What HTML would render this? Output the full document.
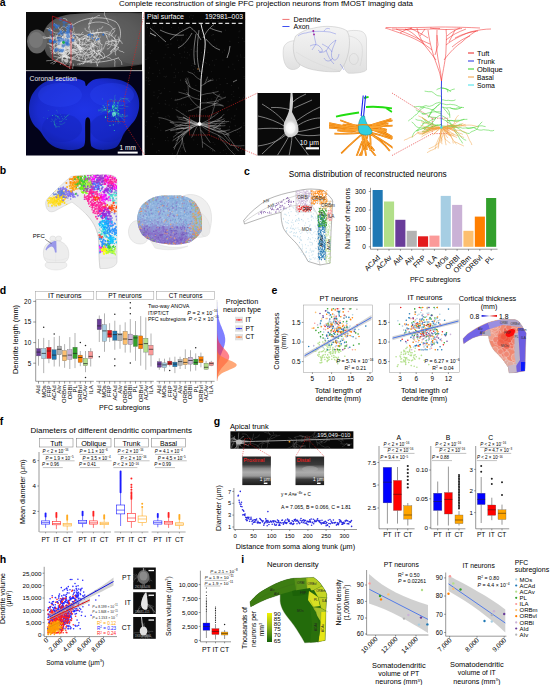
<!DOCTYPE html>
<html><head><meta charset="utf-8"><style>
html,body{margin:0;padding:0;background:#fff;}
body{width:550px;height:685px;overflow:hidden;}
svg{display:block;font-family:"Liberation Sans",sans-serif;}
</style></head><body>
<svg width="550" height="685" viewBox="0 0 550 685">
<rect width="550" height="685" fill="#fff"/>
<text x="-0.3" y="5.6" font-size="10.50" fill="#000" font-weight="bold">a</text>
<text x="119" y="6" font-size="7.88" textLength="294" lengthAdjust="spacingAndGlyphs">Complete reconstruction of single PFC projection neurons from fMOST imaging data</text>
<clipPath id="cSag"><rect x="26" y="12" width="116" height="58"/></clipPath>
<rect x="26" y="12" width="116" height="58.5" fill="#0b0b0b" />
<g clip-path="url(#cSag)">
<radialGradient id="gBrain" cx="0.5" cy="0.45" r="0.6"><stop offset="0" stop-color="#7a7a7a"/><stop offset="0.7" stop-color="#5c5c5c"/><stop offset="1" stop-color="#444"/></radialGradient>
<path d="M44,31 C48,22 56,17 66,15 C80,13 110,12 145,13 L145,64 C128,67 108,68 88,67 C68,67 54,63 47,55 C43,48 42,38 44,31 Z" fill="url(#gBrain)" />
<path d="M118,14 C130,12 140,14 146,16 L146,62 C135,66 124,64 118,58 C114,48 114,24 118,14 Z" fill="#5a5a5a" opacity="0.6"/>
<ellipse cx="37" cy="41.5" rx="10" ry="12" fill="#666"/>
<ellipse cx="36" cy="40" rx="7" ry="8" fill="#777"/>
<path d="M56.7,49.4 L58.2,48.5 L60,48.4 L61.6,47.5 L63.4,47.4 L65.2,47.3 L67,47.4" fill="none" stroke="#f4f4f4" stroke-width="0.5" opacity="0.9"/>
<path d="M66.5,55 L67,56.8 L66.9,58.6 L68,60 L67.9,61.8 L66.7,63.2 L65.3,64.3 L63.7,65.1" fill="none" stroke="#f4f4f4" stroke-width="0.5" opacity="0.9"/>
<path d="M64.6,47.3 L63,48.1 L61.2,48 L59.4,47.7" fill="none" stroke="#f4f4f4" stroke-width="0.5" opacity="0.9"/>
<path d="M64.9,38.1 L63.4,37.1 L62.2,35.8 L60.9,34.6 L60,33" fill="none" stroke="#f4f4f4" stroke-width="0.5" opacity="0.9"/>
<path d="M59.3,47.9 L61.1,48.4 L62.9,48.4 L64.5,47.8" fill="none" stroke="#f4f4f4" stroke-width="0.5" opacity="0.9"/>
<path d="M63.4,49.3 L62.7,47.7 L61.4,46.4 L59.7,46 L58.1,46.8 L56.3,47.1 L54.8,48.1" fill="none" stroke="#f4f4f4" stroke-width="0.5" opacity="0.9"/>
<path d="M65.8,44.7 L64.7,46.1 L64.6,47.9 L64.2,49.7 L63.2,51.2 L62.6,52.9 L63.1,54.6 L64,56.2 L63.8,58" fill="none" stroke="#f4f4f4" stroke-width="0.5" opacity="0.9"/>
<path d="M64.2,41.5 L65.3,42.9 L66.6,44.2 L67.8,45.5" fill="none" stroke="#f4f4f4" stroke-width="0.5" opacity="0.9"/>
<path d="M62.4,40.7 L60.8,40 L59.1,39.4 L57.3,39.1 L55.5,39.1 L54.1,37.9 L52.3,38 L50.7,37.1 L50,35.4" fill="none" stroke="#f4f4f4" stroke-width="0.5" opacity="0.9"/>
<path d="M46.4,28.6 L48.2,28.6 L49.8,29.4 L51.2,30.5 L53,30.7" fill="none" stroke="#f4f4f4" stroke-width="0.5" opacity="0.9"/>
<path d="M68.1,45.6 L68.5,47.3 L69.3,49 L70.9,49.8 L72.7,49.7 L74.5,49.8 L76.2,49.2 L78,48.9" fill="none" stroke="#f4f4f4" stroke-width="0.5" opacity="0.9"/>
<path d="M59.4,53.1 L61.2,53.5 L62.9,53 L64.5,52.2 L66.3,51.7 L67.8,50.7 L68.9,49.3" fill="none" stroke="#f4f4f4" stroke-width="0.5" opacity="0.9"/>
<path d="M56.6,36.7 L56.5,38.5 L57.2,40.2 L56.7,42 L55.5,43.2 L54,44.3 L52.7,45.6 L52.3,47.3 L52.9,49" fill="none" stroke="#f4f4f4" stroke-width="0.5" opacity="0.9"/>
<path d="M68.3,44.5 L67.6,42.8 L67.9,41 L68.2,39.2 L68.5,37.5 L69.8,36.2" fill="none" stroke="#f4f4f4" stroke-width="0.5" opacity="0.9"/>
<path d="M67.1,45.3 L65.4,44.7 L63.8,43.8 L62.1,43.4 L60.8,42.1 L59.2,41.5 L57.4,42 L56,43 L54.6,44.2" fill="none" stroke="#f4f4f4" stroke-width="0.5" opacity="0.9"/>
<path d="M67.5,48.1 L65.7,48.4 L64.4,49.6 L63.8,51.3 L63.3,53 L63.3,54.8 L62.6,56.5 L62,58.2" fill="none" stroke="#f4f4f4" stroke-width="0.5" opacity="0.9"/>
<path d="M71.6,42.1 L73.4,42.2 L75,42.9 L76,44.4 L77.7,45 L79.2,46 L80.8,46.8" fill="none" stroke="#f4f4f4" stroke-width="0.5" opacity="0.9"/>
<path d="M63.4,38.2 L65.2,38 L66.9,37.6 L68,36.2" fill="none" stroke="#f4f4f4" stroke-width="0.5" opacity="0.9"/>
<path d="M73,40.3 L74.5,41.3 L75.7,42.7 L75.9,44.4 L75.3,46.1 L74.8,47.9" fill="none" stroke="#f4f4f4" stroke-width="0.5" opacity="0.9"/>
<path d="M67,28.6 L65.6,27.5 L64.1,26.6 L62.3,26.9 L61,28.2 L60.6,29.9 L61.1,31.6 L62.2,33.1" fill="none" stroke="#f4f4f4" stroke-width="0.5" opacity="0.9"/>
<path d="M59.4,50 L61.1,49.5 L62.7,48.8 L64.5,49 L66.1,48.1 L67.9,47.9 L69.1,46.6 L70.6,45.5 L72,44.3" fill="none" stroke="#f4f4f4" stroke-width="0.5" opacity="0.9"/>
<path d="M65.2,59.8 L63.4,59.5 L61.6,59.1 L60.3,57.9 L58.8,57 L57,56.9 L55.2,56.5 L53.5,56.1" fill="none" stroke="#f4f4f4" stroke-width="0.5" opacity="0.9"/>
<path d="M64.1,37.8 L65.9,38 L67.7,37.7 L69.5,37.9 L71.2,37.3 L72.8,36.6 L74.6,36.6" fill="none" stroke="#f4f4f4" stroke-width="0.5" opacity="0.9"/>
<path d="M74.6,36.5 L72.8,36.7 L71.3,37.7 L70.4,39.2 L69.9,40.9 L68.5,42.1 L68.1,43.9 L68.8,45.5" fill="none" stroke="#f4f4f4" stroke-width="0.5" opacity="0.9"/>
<path d="M75.1,43.9 L76.7,44.6 L78.5,44.6 L80.3,44.4 L82.1,44.5 L83.9,44.6 L85.7,44.2" fill="none" stroke="#f4f4f4" stroke-width="0.5" opacity="0.9"/>
<path d="M73,24.4 L71.3,24.1 L69.5,24.4 L67.7,24.4" fill="none" stroke="#f4f4f4" stroke-width="0.5" opacity="0.9"/>
<path d="M61.9,39.4 L60.3,40.3 L59.6,42 L59.8,43.7 L60.2,45.5 L61.5,46.7 L62.2,48.4 L63.4,49.7 L65.2,50.2" fill="none" stroke="#f4f4f4" stroke-width="0.5" opacity="0.9"/>
<path d="M72.1,49.7 L70.4,50.2 L68.6,50.4 L66.8,50.9 L65.7,52.2 L65.2,54 L64,55.3 L63.3,57 L62.1,58.3" fill="none" stroke="#f4f4f4" stroke-width="0.5" opacity="0.9"/>
<path d="M64.2,34.9 L66,34.7 L67.7,34.2 L69.5,34.1 L71.3,34.1" fill="none" stroke="#f4f4f4" stroke-width="0.5" opacity="0.9"/>
<path d="M56.4,36 L54.6,36.2 L53.2,37.4 L51.4,37.5 L49.7,37.1 L48,37.6 L46.3,38.2 L44.5,38.5 L42.8,37.8" fill="none" stroke="#f4f4f4" stroke-width="0.5" opacity="0.9"/>
<path d="M58.4,54.2 L59.7,52.9 L61.2,51.8 L62.1,50.3 L63.5,49.1 L65.2,48.7" fill="none" stroke="#f4f4f4" stroke-width="0.5" opacity="0.9"/>
<path d="M58,34.9 L57.2,36.5 L55.6,37.3 L54,38 L52.2,38 L50.4,38.5 L48.7,37.9" fill="none" stroke="#f4f4f4" stroke-width="0.5" opacity="0.9"/>
<path d="M67.4,39.4 L69.1,40 L70.9,40.3 L72.7,40.1 L74.3,40.9 L76.1,41 L77.6,42" fill="none" stroke="#f4f4f4" stroke-width="0.5" opacity="0.9"/>
<path d="M62.6,47 L61.1,46 L59.3,45.8 L57.6,46.5 L55.9,47.1 L54.1,47.2 L52.5,46.5 L51.1,45.3 L50.7,43.6" fill="none" stroke="#f4f4f4" stroke-width="0.5" opacity="0.9"/>
<path d="M49.4,47 L51,47.8 L52.5,48.7 L53.5,50.3 L54.3,51.8" fill="none" stroke="#f4f4f4" stroke-width="0.5" opacity="0.9"/>
<path d="M67.7,55.3 L68.9,53.9 L69.8,52.4 L71.4,51.5 L73.2,51.5 L74.9,50.9" fill="none" stroke="#f4f4f4" stroke-width="0.5" opacity="0.9"/>
<path d="M73.3,26.9 L71.6,26.7 L69.8,26.6 L68.2,27.5 L67.6,29.2 L67.2,31 L66.8,32.7 L67.5,34.4" fill="none" stroke="#f4f4f4" stroke-width="0.5" opacity="0.9"/>
<path d="M70.5,40.4 L72.3,40.3 L74.1,40.6 L75.7,39.8" fill="none" stroke="#f4f4f4" stroke-width="0.5" opacity="0.9"/>
<path d="M58,43.8 L59.5,42.7 L60.9,41.7 L61.6,40 L62.2,38.3 L63.5,37 L65.2,36.6" fill="none" stroke="#f4f4f4" stroke-width="0.5" opacity="0.9"/>
<path d="M58.8,47.2 L60.4,48.1 L62.1,48.5 L63.7,49.3 L64.4,51 L66,51.8 L67.8,51.9 L69.2,50.8" fill="none" stroke="#f4f4f4" stroke-width="0.5" opacity="0.9"/>
<path d="M62,60.1 L63,61.6 L63.4,63.3 L64.7,64.6 L66,65.9 L67.6,66.7 L69.4,66.7" fill="none" stroke="#f4f4f4" stroke-width="0.5" opacity="0.9"/>
<path d="M57.7,44.2 L56,44.7 L54.2,45 L52.4,45.2 L50.8,44.5 L49.1,43.8 L47.3,43.7" fill="none" stroke="#f4f4f4" stroke-width="0.5" opacity="0.9"/>
<path d="M65.6,57 L63.8,56.7 L62.2,55.8 L61.2,54.4 L61.1,52.6" fill="none" stroke="#f4f4f4" stroke-width="0.5" opacity="0.9"/>
<path d="M61.9,53.2 L63.7,53 L65.2,52.1 L66.1,50.5 L67.6,49.6" fill="none" stroke="#f4f4f4" stroke-width="0.5" opacity="0.9"/>
<path d="M65.7,48.9 L64,49.3 L62.3,49.9 L60.5,49.8 L58.9,50.6 L57.4,51.6 L55.7,52.2" fill="none" stroke="#f4f4f4" stroke-width="0.5" opacity="0.9"/>
<path d="M68,46.7 L66.5,45.6 L65,44.6 L64,43.1 L63,41.6 L62.4,39.9" fill="none" stroke="#f4f4f4" stroke-width="0.5" opacity="0.9"/>
<path d="M64.9,49.2 L65.8,50.7 L66.4,52.4 L66.1,54.2" fill="none" stroke="#f4f4f4" stroke-width="0.5" opacity="0.9"/>
<path d="M60.1,46.7 L60.8,48.4 L60.2,50.1 L58.8,51.2 L58.2,52.9" fill="none" stroke="#f4f4f4" stroke-width="0.5" opacity="0.9"/>
<path d="M77.7,54.4 L76.1,55.2 L74.5,56.1 L72.9,57" fill="none" stroke="#f4f4f4" stroke-width="0.5" opacity="0.9"/>
<path d="M56.6,51.2 L58.2,50.2 L59.2,48.7 L60,47.1 L60.4,45.4 L60.6,43.6 L61.7,42.2 L63,41 L63.5,39.2" fill="none" stroke="#f4f4f4" stroke-width="0.5" opacity="0.9"/>
<path d="M65.4,38.3 L66.3,39.9 L66.2,41.7 L65,43.1 L63.8,44.4 L63.2,46.1 L62.4,47.7 L62,49.4 L60.9,50.9" fill="none" stroke="#f4f4f4" stroke-width="0.5" opacity="0.9"/>
<path d="M63.4,50.4 L64.1,48.7 L64.6,47 L65.9,45.8 L67.7,45.4" fill="none" stroke="#f4f4f4" stroke-width="0.5" opacity="0.9"/>
<path d="M60.5,31.5 L60,29.8 L58.7,28.5 L58.1,26.8 L57.1,25.4 L55.4,24.7 L54.3,23.2" fill="none" stroke="#f4f4f4" stroke-width="0.5" opacity="0.9"/>
<path d="M76.9,44.9 L78,46.3 L78.7,48 L79.8,49.4 L80.5,51.1 L81,52.8" fill="none" stroke="#f4f4f4" stroke-width="0.5" opacity="0.9"/>
<path d="M58.2,44.2 L59.8,43.4 L60.9,42 L61.7,40.4 L62.7,38.9 L62.8,37.1 L62,35.5 L60.6,34.4 L59.1,33.3" fill="none" stroke="#f4f4f4" stroke-width="0.5" opacity="0.9"/>
<path d="M53.8,45.5 L52.2,44.9 L50.4,44.9 L48.9,43.9" fill="none" stroke="#f4f4f4" stroke-width="0.5" opacity="0.9"/>
<path d="M57.2,42.7 L58.9,43.2 L60.7,42.7 L62.3,42 L64.1,41.7 L65.9,41.6 L67.7,41.8 L69,43.1" fill="none" stroke="#f4f4f4" stroke-width="0.5" opacity="0.9"/>
<path d="M53.3,59.9 L51.5,60.3 L49.8,60.6 L48,60.6 L46.2,60.9" fill="none" stroke="#f4f4f4" stroke-width="0.5" opacity="0.9"/>
<path d="M59.1,46.3 L57.9,47.6 L57.1,49.2 L56,50.6 L54.8,51.9 L54,53.6" fill="none" stroke="#f4f4f4" stroke-width="0.5" opacity="0.9"/>
<path d="M63,38.6 L64.7,39 L66.4,39.7 L68.1,40.2 L69.7,41.1" fill="none" stroke="#f4f4f4" stroke-width="0.5" opacity="0.9"/>
<path d="M68.9,48.6 L67.1,48.5 L65.7,47.4 L63.9,47.3 L62.5,46.2 L60.9,45.3 L59.3,44.4 L58.6,42.7" fill="none" stroke="#f4f4f4" stroke-width="0.5" opacity="0.9"/>
<path d="M64.3,56.9 L66.1,57.3 L67.8,56.7 L69.5,57.3 L71.3,57.2 L73,57.7 L74.7,57 L76.3,56.1 L77.2,54.6" fill="none" stroke="#f4f4f4" stroke-width="0.5" opacity="0.9"/>
<path d="M67.6,39.5 L68.8,40.9 L69.5,42.6 L70.4,44.1 L71.7,45.3 L72.9,46.7" fill="none" stroke="#f4f4f4" stroke-width="0.5" opacity="0.9"/>
<path d="M54.9,53.6 L53.7,52.2 L52.9,50.6 L51.7,49.3 L49.9,48.9" fill="none" stroke="#f4f4f4" stroke-width="0.5" opacity="0.9"/>
<path d="M72.2,36.2 L70.6,35.3 L69.1,34.3 L68.1,32.8 L67.4,31.2 L66.2,29.9" fill="none" stroke="#f4f4f4" stroke-width="0.5" opacity="0.9"/>
<path d="M63.2,52.6 L64.9,53.2 L65.9,54.7 L66.1,56.5 L67.3,57.8 L69.1,58.2 L70.9,58 L72.6,57.6" fill="none" stroke="#f4f4f4" stroke-width="0.5" opacity="0.9"/>
<path d="M62,43.1 L60.5,42 L59.9,40.4 L58.5,39.2" fill="none" stroke="#f4f4f4" stroke-width="0.5" opacity="0.9"/>
<path d="M58.4,46.8 L57,48 L55.2,48.3 L54,49.6 L53.6,51.4 L52.4,52.8 L51.1,54" fill="none" stroke="#f4f4f4" stroke-width="0.5" opacity="0.9"/>
<path d="M64.5,39.8 L63,40.9 L62.2,42.5 L62.3,44.3 L61.5,45.9 L60.6,47.4" fill="none" stroke="#f4f4f4" stroke-width="0.5" opacity="0.9"/>
<path d="M61.4,60.7 L62.1,59 L62.4,57.2 L61.8,55.6 L62,53.8" fill="none" stroke="#f4f4f4" stroke-width="0.5" opacity="0.9"/>
<path d="M66.2,47.8 L65,46.4 L63.7,45.1 L63.2,43.4 L61.6,42.5 L59.9,42 L58.7,40.6" fill="none" stroke="#f4f4f4" stroke-width="0.5" opacity="0.9"/>
<path d="M56.6,37.6 L54.9,38.1 L53.2,37.6 L51.4,37.9 L49.6,37.7 L47.8,38 L46.2,37.3 L44.4,37 L42.6,36.8" fill="none" stroke="#f4f4f4" stroke-width="0.5" opacity="0.9"/>
<path d="M53.3,35.1 L52.4,33.5 L52.3,31.7 L51.7,30 L50.7,28.5 L49.5,27.2" fill="none" stroke="#f4f4f4" stroke-width="0.5" opacity="0.9"/>
<path d="M75.7,38.4 L74.9,40 L75.3,41.8 L75.2,43.6 L75,45.3 L74,46.9" fill="none" stroke="#f4f4f4" stroke-width="0.5" opacity="0.9"/>
<path d="M63.6,37.4 L61.8,37.8 L60.1,38 L58.6,39 L56.8,39.4" fill="none" stroke="#f4f4f4" stroke-width="0.5" opacity="0.9"/>
<path d="M67.6,41 L69.2,40.2 L70.2,38.7 L70.8,37 L70.2,35.3 L70.4,33.5 L70.5,31.7 L70.7,30" fill="none" stroke="#f4f4f4" stroke-width="0.5" opacity="0.9"/>
<path d="M61.4,56.6 L60.1,57.8 L58.3,58.1 L56.9,59.3 L55.4,60.2 L54.5,61.8" fill="none" stroke="#f4f4f4" stroke-width="0.5" opacity="0.9"/>
<path d="M63.8,33 L63.9,34.8 L62.9,36.3 L62.4,38.1 L62,39.8" fill="none" stroke="#f4f4f4" stroke-width="0.5" opacity="0.9"/>
<path d="M57.6,59.2 L56.7,60.8 L55.7,62.3 L54.4,63.4 L52.7,64.1" fill="none" stroke="#f4f4f4" stroke-width="0.5" opacity="0.9"/>
<path d="M69.3,41.3 L69.8,39.6 L69,37.9 L68,36.4 L66.4,35.7 L64.7,35.1 L63,34.4 L61.3,34.9 L59.7,35.7" fill="none" stroke="#f4f4f4" stroke-width="0.5" opacity="0.9"/>
<path d="M66.9,46.3 L68.1,44.9 L68.6,43.2 L69.3,41.6 L70.5,40.2" fill="none" stroke="#f4f4f4" stroke-width="0.5" opacity="0.9"/>
<path d="M61.4,54.1 L60.2,52.7 L58.5,52.3 L56.7,52.4 L55.2,53.4 L53.5,54.1" fill="none" stroke="#f4f4f4" stroke-width="0.5" opacity="0.9"/>
<path d="M64.6,40.4 L66.3,39.9 L68.1,39.4 L69.8,39.6 L71.6,39.3 L73.1,38.3 L74.4,37" fill="none" stroke="#f4f4f4" stroke-width="0.5" opacity="0.9"/>
<path d="M57.1,39.6 L55.6,40.5 L54.6,42.1 L54.2,43.8 L54.5,45.6 L54.2,47.3 L54.4,49.1 L54.5,50.9" fill="none" stroke="#f4f4f4" stroke-width="0.5" opacity="0.9"/>
<path d="M66.8,36.6 L65.7,38.1 L65,39.7 L64.1,41.3 L62.5,42.1 L60.9,42.9 L59.7,44.2" fill="none" stroke="#f4f4f4" stroke-width="0.5" opacity="0.9"/>
<path d="M77.9,52.7 L79.4,51.7 L81.1,51.4 L82.9,51.8 L84.4,52.8 L86.2,52.8 L87.7,53.8" fill="none" stroke="#f4f4f4" stroke-width="0.5" opacity="0.9"/>
<path d="M73.5,34.5 L75.3,34.2 L77.1,34.4 L78.8,34.9 L80.6,34.5 L82,33.3 L83,31.9" fill="none" stroke="#f4f4f4" stroke-width="0.5" opacity="0.9"/>
<path d="M63.3,64.1 L61.7,63.4 L60.2,62.3 L58.7,61.3 L56.9,61.3 L55.1,61.1 L53.4,61.7 L52.1,62.9 L50.4,63.3" fill="none" stroke="#f4f4f4" stroke-width="0.5" opacity="0.9"/>
<path d="M65.9,49.8 L64.4,50.9 L63.7,52.5 L63.1,54.2 L62.6,55.9 L61.1,57 L59.6,57.9 L57.8,57.9" fill="none" stroke="#f4f4f4" stroke-width="0.5" opacity="0.9"/>
<path d="M72.1,52 L73.9,51.8 L75.7,51.4 L76.9,50" fill="none" stroke="#f4f4f4" stroke-width="0.5" opacity="0.9"/>
<path d="M76.5,41.9 L74.8,42.5 L73.2,43.2 L71.5,43.8 L69.8,43.2 L68.3,42.2" fill="none" stroke="#f4f4f4" stroke-width="0.5" opacity="0.9"/>
<path d="M62.7,53.9 L61.7,52.4 L61.9,50.6 L62.8,49.1 L64,47.8 L64.2,46 L64,44.2 L64.3,42.4 L64,40.7" fill="none" stroke="#f4f4f4" stroke-width="0.5" opacity="0.9"/>
<path d="M82.6,52 L80.8,51.6 L79.5,50.4 L78.5,48.8" fill="none" stroke="#f4f4f4" stroke-width="0.5" opacity="0.9"/>
<path d="M96.1,56.5 L97.5,55.4 L98.6,53.9 L99.5,52.4 L100.7,51.1 L101.4,49.4 L101.4,47.6 L101.9,45.9 L102,44.1" fill="none" stroke="#f4f4f4" stroke-width="0.5" opacity="0.9"/>
<path d="M97.8,59.2 L96.3,58.2 L94.7,57.3 L93,56.7 L91.3,57.1 L89.5,57.1 L88,58.1 L86.3,58.7 L85,60" fill="none" stroke="#f4f4f4" stroke-width="0.5" opacity="0.9"/>
<path d="M67.7,58.7 L66.6,57.3 L65,56.6 L63.2,56.8" fill="none" stroke="#f4f4f4" stroke-width="0.5" opacity="0.9"/>
<path d="M76.3,52 L77.2,53.6 L78.7,54.5 L80.5,54.8 L82.2,54.1 L84,54 L85.8,53.8" fill="none" stroke="#f4f4f4" stroke-width="0.5" opacity="0.9"/>
<path d="M96.9,40.8 L96.5,39 L96.9,37.2 L97.7,35.6 L98.7,34.1 L98.5,32.3" fill="none" stroke="#f4f4f4" stroke-width="0.5" opacity="0.9"/>
<path d="M73.2,41 L72.4,42.6 L71.4,44.1 L71.1,45.9 L71.2,47.7 L71.9,49.3 L73.3,50.4 L74.3,51.9 L75.8,52.9" fill="none" stroke="#f4f4f4" stroke-width="0.5" opacity="0.9"/>
<path d="M81.6,48.2 L79.8,47.9 L78.2,47 L77.5,45.4 L76.9,43.7 L76.8,41.9 L77.5,40.2 L77.4,38.4" fill="none" stroke="#f4f4f4" stroke-width="0.5" opacity="0.9"/>
<path d="M97.8,55.6 L97.1,53.9 L95.7,52.8 L94.3,51.7 L92.7,50.8" fill="none" stroke="#f4f4f4" stroke-width="0.5" opacity="0.9"/>
<path d="M73.3,63.6 L73.3,65.4 L72.7,67.1 L72.7,68.9" fill="none" stroke="#f4f4f4" stroke-width="0.5" opacity="0.9"/>
<path d="M82.8,58.9 L81.1,58.2 L79.3,58.1 L77.8,57.1" fill="none" stroke="#f4f4f4" stroke-width="0.5" opacity="0.9"/>
<path d="M99.7,54.5 L101.3,55.3 L102.2,56.8 L103.6,57.9" fill="none" stroke="#f4f4f4" stroke-width="0.5" opacity="0.9"/>
<path d="M82.9,40.1 L84,38.7 L85.6,37.8 L87.1,36.9 L88.5,35.7" fill="none" stroke="#f4f4f4" stroke-width="0.5" opacity="0.9"/>
<path d="M65.5,37.4 L66.6,36 L67.8,34.7 L69.3,33.6 L71,33.2 L72.4,32 L73.6,30.7 L73.7,28.9 L73.9,27.1" fill="none" stroke="#f4f4f4" stroke-width="0.5" opacity="0.9"/>
<path d="M64.7,44 L65.8,45.4 L67.2,46.6 L68.4,48 L70.1,48.4" fill="none" stroke="#f4f4f4" stroke-width="0.5" opacity="0.9"/>
<path d="M86.8,54 L87.7,55.6 L88.7,57.1 L89.8,58.5 L90.7,60.1 L91.2,61.8 L91,63.6" fill="none" stroke="#f4f4f4" stroke-width="0.5" opacity="0.9"/>
<path d="M90.1,24.2 L90.8,22.6 L91.4,20.9 L92.1,19.3 L93.6,18.3 L95.2,17.3 L96.8,16.5 L98.2,15.5 L100,15.4" fill="none" stroke="#f4f4f4" stroke-width="0.5" opacity="0.9"/>
<path d="M72.8,52.3 L74.4,53.2 L76.1,53.9 L77.8,54.3 L79.6,54.3 L81.3,55 L82.3,56.4 L82.5,58.2 L83.3,59.8" fill="none" stroke="#f4f4f4" stroke-width="0.5" opacity="0.9"/>
<path d="M93.8,50.8 L95.6,51 L97.4,51.2 L99.1,50.8 L100.7,49.9 L102.1,48.8 L103.1,47.3" fill="none" stroke="#f4f4f4" stroke-width="0.5" opacity="0.9"/>
<path d="M96.5,61.6 L97.8,60.4 L98.4,58.7 L99.3,57.1 L100.1,55.5 L100,53.7 L98.8,52.3" fill="none" stroke="#f4f4f4" stroke-width="0.5" opacity="0.9"/>
<path d="M80.8,47.5 L81.9,49 L83.1,50.3 L84.6,51.3 L85.7,52.7 L87.5,53.1 L89.2,52.7 L90.9,52.1" fill="none" stroke="#f4f4f4" stroke-width="0.5" opacity="0.9"/>
<path d="M78,45.7 L76.5,44.7 L74.7,44.8 L73.1,44 L71.3,43.7" fill="none" stroke="#f4f4f4" stroke-width="0.5" opacity="0.9"/>
<path d="M79.9,49.2 L81.7,49.4 L83.4,48.8 L85.2,49.2 L86.8,50 L88.6,49.7 L90.2,49" fill="none" stroke="#f4f4f4" stroke-width="0.5" opacity="0.9"/>
<path d="M94.4,51.2 L94.3,49.4 L93.5,47.7 L93.1,46 L91.9,44.6 L91.6,42.8 L90.4,41.6 L88.6,41.2 L87.1,40.2" fill="none" stroke="#f4f4f4" stroke-width="0.5" opacity="0.9"/>
<path d="M72.5,49.1 L74.2,48.6 L75.4,47.2 L76.9,46.3 L78.7,46.3 L80.5,46.3 L82,45.2" fill="none" stroke="#f4f4f4" stroke-width="0.5" opacity="0.9"/>
<path d="M68.9,45.6 L69,47.4 L69,49.2 L69.6,50.9 L70.6,52.3" fill="none" stroke="#f4f4f4" stroke-width="0.5" opacity="0.9"/>
<path d="M92.1,61.8 L90.4,61.3 L88.6,61.5 L87,62.2" fill="none" stroke="#f4f4f4" stroke-width="0.5" opacity="0.9"/>
<path d="M97.1,46.8 L95.8,45.5 L94.1,45.1 L92.9,43.7" fill="none" stroke="#f4f4f4" stroke-width="0.5" opacity="0.9"/>
<path d="M63,44.4 L64.6,43.6 L65.9,42.4 L66.7,40.8" fill="none" stroke="#f4f4f4" stroke-width="0.5" opacity="0.9"/>
<path d="M92.1,55.6 L91.4,53.9 L91.2,52.2 L90,50.8 L89.4,49.1" fill="none" stroke="#f4f4f4" stroke-width="0.5" opacity="0.9"/>
<path d="M66,53.4 L67.4,52.3 L69.1,51.6 L70.7,50.8 L72.5,50.9 L74.3,51.1 L75.9,50.5 L77.7,50" fill="none" stroke="#f4f4f4" stroke-width="0.5" opacity="0.9"/>
<path d="M85.8,42.5 L85.6,40.8 L86.3,39.1 L87.2,37.6 L88.9,37 L90.7,37 L92.5,37.1 L94.3,37.4" fill="none" stroke="#f4f4f4" stroke-width="0.5" opacity="0.9"/>
<path d="M90.8,59.1 L92.6,59.6 L94.3,60.1 L95.7,61.1 L96.7,62.7 L96.9,64.5 L97.8,66.1" fill="none" stroke="#f4f4f4" stroke-width="0.5" opacity="0.9"/>
<path d="M79.6,51.9 L77.9,52.6 L76.2,52.2 L74.5,52.9" fill="none" stroke="#f4f4f4" stroke-width="0.5" opacity="0.9"/>
<path d="M77.9,60.4 L78.5,58.7 L77.9,57 L77.3,55.3 L76.5,53.7 L75.6,52.1" fill="none" stroke="#f4f4f4" stroke-width="0.5" opacity="0.9"/>
<path d="M70.5,50.9 L72.2,50.2 L73.9,49.8 L75.7,49.8 L77.5,50.2 L79.1,49.4 L80.7,48.5 L82.4,48.1" fill="none" stroke="#f4f4f4" stroke-width="0.5" opacity="0.9"/>
<path d="M92.8,47 L93.3,45.3 L93.8,43.6 L94.7,42 L95.6,40.5 L96.2,38.8" fill="none" stroke="#f4f4f4" stroke-width="0.5" opacity="0.9"/>
<path d="M69.9,38.3 L68.1,38.3 L66.3,38.5 L64.6,39.1 L63.3,40.3 L61.5,40.4 L60.1,41.6" fill="none" stroke="#f4f4f4" stroke-width="0.5" opacity="0.9"/>
<path d="M79.6,50.2 L78.8,48.6 L78,47 L77.7,45.2 L76.4,44" fill="none" stroke="#f4f4f4" stroke-width="0.5" opacity="0.9"/>
<path d="M69.6,53.4 L68.3,54.6 L66.5,54.8 L64.9,53.8 L63.7,52.5 L62.9,50.9" fill="none" stroke="#f4f4f4" stroke-width="0.5" opacity="0.9"/>
<path d="M99,47.2 L97.4,46.6 L95.7,45.8 L93.9,45.7 L92.1,45.6 L90.7,44.6" fill="none" stroke="#f4f4f4" stroke-width="0.5" opacity="0.9"/>
<path d="M74.6,38.3 L72.8,37.9 L71.1,37.3 L70.2,35.7" fill="none" stroke="#f4f4f4" stroke-width="0.5" opacity="0.9"/>
<path d="M82.7,64.1 L84.2,63.2 L85.6,62.1 L87.4,61.7 L89.1,61.1" fill="none" stroke="#f4f4f4" stroke-width="0.5" opacity="0.9"/>
<path d="M91.3,41.3 L92.2,42.8 L92.5,44.6 L92.1,46.3 L91.6,48 L91.5,49.8" fill="none" stroke="#f4f4f4" stroke-width="0.5" opacity="0.9"/>
<path d="M83.8,50.5 L82,50.2 L80.6,49.1 L78.9,48.6 L77.1,48.3 L75.5,49.2 L73.7,49.6 L72.1,50.3 L70.7,51.4" fill="none" stroke="#f4f4f4" stroke-width="0.5" opacity="0.9"/>
<path d="M60.7,41 L61.5,42.6 L62,44.3 L62.2,46.1 L63.1,47.7 L64.6,48.6" fill="none" stroke="#f4f4f4" stroke-width="0.5" opacity="0.9"/>
<path d="M62.3,48.1 L63,49.8 L62.7,51.5 L63.5,53.1 L64.8,54.4" fill="none" stroke="#f4f4f4" stroke-width="0.5" opacity="0.9"/>
<path d="M75.4,36.3 L77.1,36.8 L78.5,37.9 L79.9,39 L81.7,39.1 L83.5,39 L85.1,38.2" fill="none" stroke="#f4f4f4" stroke-width="0.5" opacity="0.9"/>
<path d="M61.6,56.3 L63.4,56.4 L65.2,56.5 L66.9,57.1 L68.6,57.7 L70.3,58.4" fill="none" stroke="#f4f4f4" stroke-width="0.5" opacity="0.9"/>
<path d="M72.6,58.7 L71.3,60 L70.7,61.7 L70.6,63.5 L70,65.2 L69.6,67 L69.5,68.8" fill="none" stroke="#f4f4f4" stroke-width="0.5" opacity="0.9"/>
<path d="M94.6,51 L94.5,52.8 L93.5,54.3 L92.1,55.4 L90.6,56.5" fill="none" stroke="#f4f4f4" stroke-width="0.5" opacity="0.9"/>
<path d="M60.5,56.6 L60.1,54.8 L60.1,53 L61.2,51.5 L61.5,49.8 L62.4,48.2 L63.6,46.8 L65.3,46.4 L67,47" fill="none" stroke="#f4f4f4" stroke-width="0.5" opacity="0.9"/>
<path d="M69.4,47.7 L67.8,48.5 L66.2,49.3 L64.4,49.1 L62.6,49.4 L60.8,49.2 L59.1,49.7" fill="none" stroke="#f4f4f4" stroke-width="0.5" opacity="0.9"/>
<path d="M97,47.4 L97.9,49 L98.3,50.8 L98.6,52.5 L98.3,54.3" fill="none" stroke="#f4f4f4" stroke-width="0.5" opacity="0.9"/>
<path d="M96.3,53 L96.7,54.8 L96.1,56.5 L94.6,57.6 L94,59.2 L92.5,60.3 L90.7,60.3 L89,61" fill="none" stroke="#f4f4f4" stroke-width="0.5" opacity="0.9"/>
<path d="M75.1,41.4 L76,39.9 L76.6,38.2 L76.6,36.4 L75.4,35 L74,33.9" fill="none" stroke="#f4f4f4" stroke-width="0.5" opacity="0.9"/>
<path d="M95.7,44.3 L95.1,42.6 L94.3,41 L93.1,39.6 L92.9,37.8" fill="none" stroke="#f4f4f4" stroke-width="0.5" opacity="0.9"/>
<path d="M61.2,47.5 L61.4,45.7 L61.9,44 L62.7,42.4 L63.3,40.7" fill="none" stroke="#f4f4f4" stroke-width="0.5" opacity="0.9"/>
<path d="M76.6,47.5 L78.4,47.3 L80.1,46.9 L81.9,47.2 L83.6,47.9 L85.4,48.1 L87.2,48.2" fill="none" stroke="#f4f4f4" stroke-width="0.5" opacity="0.9"/>
<path d="M78.9,64.8 L80.6,64.3 L82,63.2 L83.7,62.4 L84.9,61.2 L85.1,59.4 L85.3,57.6 L85.3,55.8" fill="none" stroke="#f4f4f4" stroke-width="0.5" opacity="0.9"/>
<path d="M69.6,38.4 L68.3,37.2 L67.8,35.5 L67.7,33.7 L68.4,32 L68.6,30.2 L67.7,28.6 L66.1,27.9" fill="none" stroke="#f4f4f4" stroke-width="0.5" opacity="0.9"/>
<path d="M92.2,50.5 L92.2,52.3 L91.1,53.7 L89.5,54.5 L88.5,56 L87.2,57.2 L85.9,58.5" fill="none" stroke="#f4f4f4" stroke-width="0.5" opacity="0.9"/>
<path d="M82.6,45.5 L82.5,43.7 L82.9,42 L82.9,40.2 L83.4,38.4 L84.8,37.3 L86.5,36.6 L88.2,36.9" fill="none" stroke="#f4f4f4" stroke-width="0.5" opacity="0.9"/>
<path d="M99.6,54.8 L99.8,53 L100.9,51.6 L102,50.2 L103.5,49.1 L104,47.3 L104.7,45.7 L105.3,44 L105.8,42.3" fill="none" stroke="#f4f4f4" stroke-width="0.5" opacity="0.9"/>
<path d="M73.8,39.5 L73.7,37.7 L73,36.1 L72.8,34.3 L72.2,32.6 L71.2,31.1" fill="none" stroke="#f4f4f4" stroke-width="0.5" opacity="0.9"/>
<path d="M90.4,57.9 L91.5,56.5 L92.5,55 L93.8,53.8 L95.3,52.8" fill="none" stroke="#f4f4f4" stroke-width="0.5" opacity="0.9"/>
<path d="M93.2,51.3 L92.4,52.9 L91.2,54.2 L89.4,54.6 L87.7,55 L85.9,54.9 L84.2,54.1 L83.3,52.6 L82,51.4" fill="none" stroke="#f4f4f4" stroke-width="0.5" opacity="0.9"/>
<path d="M70.8,46.1 L71.1,47.9 L70.3,49.5 L68.6,50.2 L67.7,51.7 L66.4,53 L65.9,54.7 L66.5,56.4 L67.6,57.8" fill="none" stroke="#f4f4f4" stroke-width="0.5" opacity="0.9"/>
<path d="M89.2,54 L87.8,55.1 L86,55.3 L84.5,56.2" fill="none" stroke="#f4f4f4" stroke-width="0.5" opacity="0.9"/>
<path d="M62.7,49.8 L61.3,51 L60.1,52.3 L58.7,53.4 L57,54 L55.3,53.3 L53.5,53 L52,52.1 L50.4,51.2" fill="none" stroke="#f4f4f4" stroke-width="0.5" opacity="0.9"/>
<path d="M92,53 L92.6,54.7 L93.4,56.3 L94.9,57.3 L95.6,59 L96.8,60.3" fill="none" stroke="#f4f4f4" stroke-width="0.5" opacity="0.9"/>
<path d="M82.8,54 L83.1,55.7 L84,57.3 L85,58.8 L86.2,60.1 L87.8,60.9 L89.6,60.6" fill="none" stroke="#f4f4f4" stroke-width="0.5" opacity="0.9"/>
<path d="M62.6,55.4 L64.3,55.8 L66.1,55.4 L67.8,55.7 L69,57.1" fill="none" stroke="#f4f4f4" stroke-width="0.5" opacity="0.9"/>
<path d="M76.3,45.7 L77.8,46.8 L79.4,47.6 L81.2,47.4 L83,47.3 L84.7,47.5" fill="none" stroke="#f4f4f4" stroke-width="0.5" opacity="0.9"/>
<path d="M84.9,46.8 L86.2,45.6 L88,45.3 L89.3,44.1 L91,43.6 L92.7,44.2 L94.4,44.9" fill="none" stroke="#f4f4f4" stroke-width="0.5" opacity="0.9"/>
<path d="M70.8,60.1 L72.6,59.6 L73.9,58.4 L75.7,58.3 L77.1,57.1 L78.5,55.9 L80.2,55.5" fill="none" stroke="#f4f4f4" stroke-width="0.5" opacity="0.9"/>
<path d="M91.7,51.5 L91.1,49.8 L90.5,48.1 L90.3,46.3 L90.9,44.6 L92.1,43.3 L93.8,42.8" fill="none" stroke="#f4f4f4" stroke-width="0.5" opacity="0.9"/>
<path d="M79.3,54.4 L79.8,52.7 L80.4,51 L80.4,49.2 L80.1,47.4 L79.5,45.7 L79.3,43.9 L79.8,42.2" fill="none" stroke="#f4f4f4" stroke-width="0.5" opacity="0.9"/>
<path d="M74.6,43.1 L73.1,42.1 L71.3,42.1 L69.5,41.7 L67.8,41.1 L66,41.1" fill="none" stroke="#f4f4f4" stroke-width="0.5" opacity="0.9"/>
<path d="M68.5,51.1 L69.4,52.6 L70.9,53.7 L72.7,53.8 L74.3,53.1 L75.7,52" fill="none" stroke="#f4f4f4" stroke-width="0.5" opacity="0.9"/>
<path d="M77.2,52.2 L78.7,51.3 L79.5,49.6 L81.1,48.8 L82.9,48.7 L84.6,49.3 L86.3,48.7 L87.6,47.5" fill="none" stroke="#f4f4f4" stroke-width="0.5" opacity="0.9"/>
<path d="M62.7,41.1 L61.1,41.9 L59.9,43.3 L58.9,44.8 L57.5,46 L56.8,47.6 L56.7,49.4" fill="none" stroke="#f4f4f4" stroke-width="0.5" opacity="0.9"/>
<path d="M87.1,44.4 L88.9,44.8 L90.3,45.8 L91.8,46.8 L93.6,46.7 L95.3,47.2" fill="none" stroke="#f4f4f4" stroke-width="0.5" opacity="0.9"/>
<path d="M98.4,45.1 L97.9,43.4 L98.2,41.7 L98.9,40 L99.6,38.3 L100.4,36.7" fill="none" stroke="#f4f4f4" stroke-width="0.5" opacity="0.9"/>
<path d="M63.3,40 L64.7,38.9 L66,37.6 L67.2,36.3 L68.9,35.7 L70.6,35.1 L72.2,34.2 L73.8,33.4 L74.6,31.8" fill="none" stroke="#f4f4f4" stroke-width="0.5" opacity="0.9"/>
<path d="M114.9,30.1 L114.3,31.8 L112.8,32.9 L112,34.5" fill="none" stroke="#f4f4f4" stroke-width="0.5" opacity="0.9"/>
<path d="M86,39.9 L87.8,40.1 L89.5,39.5 L91.2,38.9 L92.9,38.4 L94,37 L95.8,36.5 L97.5,36.7 L99,37.8" fill="none" stroke="#f4f4f4" stroke-width="0.5" opacity="0.9"/>
<path d="M63.1,51.6 L64.3,50.3 L65.9,49.5 L67.5,48.7 L69.3,49.2" fill="none" stroke="#f4f4f4" stroke-width="0.5" opacity="0.9"/>
<path d="M60.1,65 L61.1,63.5 L62,62 L62.6,60.3 L62.5,58.5 L61.3,57.1 L59.9,55.9 L58.6,54.8 L58.2,53" fill="none" stroke="#f4f4f4" stroke-width="0.5" opacity="0.9"/>
<path d="M71.3,51.3 L70.3,49.7 L69.4,48.2 L67.7,47.5 L66.6,46.1" fill="none" stroke="#f4f4f4" stroke-width="0.5" opacity="0.9"/>
<path d="M118.3,49.4 L119.4,50.7 L121.1,51.4 L122.9,51.7 L124.2,53" fill="none" stroke="#f4f4f4" stroke-width="0.5" opacity="0.9"/>
<path d="M117.1,43.7 L115.7,44.9 L114,45.2 L112.2,45.3 L110.6,44.4 L108.8,44.5 L107.4,43.4 L105.6,43.1" fill="none" stroke="#f4f4f4" stroke-width="0.5" opacity="0.9"/>
<path d="M96.3,50.9 L98.1,50.7 L99.9,50.6 L101.3,51.7 L102.9,52.6 L104,54 L104.6,55.7 L104.4,57.5 L103.2,58.8" fill="none" stroke="#f4f4f4" stroke-width="0.5" opacity="0.9"/>
<path d="M98.1,43.9 L98.8,42.3 L99.4,40.6 L99,38.8 L97.8,37.5" fill="none" stroke="#f4f4f4" stroke-width="0.5" opacity="0.9"/>
<path d="M116.2,49.3 L114.6,48.6 L112.8,49 L111.7,50.4 L111.2,52.1 L110.2,53.6" fill="none" stroke="#f4f4f4" stroke-width="0.5" opacity="0.9"/>
<path d="M111.7,42.9 L113.4,43.5 L114.7,44.8 L116.1,45.9 L117.6,46.9 L119,48" fill="none" stroke="#f4f4f4" stroke-width="0.5" opacity="0.9"/>
<path d="M116.3,34.7 L115.4,36.3 L114.6,37.9 L114.7,39.7 L115.7,41.2 L115.8,43 L114.8,44.5 L114.8,46.3 L114.5,48.1" fill="none" stroke="#f4f4f4" stroke-width="0.5" opacity="0.9"/>
<path d="M70.4,34.8 L69,35.8 L68.4,37.5 L67.9,39.2 L68.1,41" fill="none" stroke="#f4f4f4" stroke-width="0.5" opacity="0.9"/>
<path d="M84.2,43 L86,42.9 L87.3,41.7 L88.8,40.7 L89.4,39 L89.6,37.2" fill="none" stroke="#f4f4f4" stroke-width="0.5" opacity="0.9"/>
<path d="M94,49.3 L92.9,50.7 L91.3,51.5 L89.6,52.1" fill="none" stroke="#f4f4f4" stroke-width="0.5" opacity="0.9"/>
<path d="M90.9,33.9 L92.7,34 L94.5,33.7 L96.2,33.1 L98,33.1" fill="none" stroke="#f4f4f4" stroke-width="0.5" opacity="0.9"/>
<path d="M98.8,28.9 L100.6,28.8 L102.1,27.8 L102.9,26.2" fill="none" stroke="#f4f4f4" stroke-width="0.5" opacity="0.9"/>
<path d="M66.9,61.5 L65.2,61 L63.5,60.3 L62.7,58.7 L63,56.9 L64.4,55.8 L65.6,54.4" fill="none" stroke="#f4f4f4" stroke-width="0.5" opacity="0.9"/>
<path d="M109,31.9 L110.4,33.1 L111.6,34.5 L112,36.2" fill="none" stroke="#f4f4f4" stroke-width="0.5" opacity="0.9"/>
<path d="M115.7,28.2 L113.9,28.7 L112.3,29.5 L111.3,31 L110.6,32.6 L109.3,33.9 L108.9,35.7 L109.4,37.4" fill="none" stroke="#f4f4f4" stroke-width="0.5" opacity="0.9"/>
<path d="M97.5,29 L97.6,30.8 L96.7,32.4 L95.9,34 L96,35.8 L96.4,37.6 L97.2,39.2 L97.1,41 L96.1,42.5" fill="none" stroke="#f4f4f4" stroke-width="0.5" opacity="0.9"/>
<path d="M63,29.4 L61.4,30.2 L60.5,31.8 L59,32.9 L58,34.3 L56.8,35.7 L56.6,37.5 L56.2,39.2" fill="none" stroke="#f4f4f4" stroke-width="0.5" opacity="0.9"/>
<path d="M64.3,53.2 L64.4,55 L64.8,56.8 L66.1,58 L67.8,58.6" fill="none" stroke="#f4f4f4" stroke-width="0.5" opacity="0.9"/>
<path d="M84.9,48.9 L83.1,49.2 L81.5,48.5 L80.3,47.1 L79.1,45.8 L77.4,45.2 L75.8,44.4" fill="none" stroke="#f4f4f4" stroke-width="0.5" opacity="0.9"/>
<path d="M67.1,21.1 L66.5,19.4 L64.9,18.5 L63.1,18.5" fill="none" stroke="#f4f4f4" stroke-width="0.5" opacity="0.9"/>
<path d="M108.4,22.9 L107.9,21.2 L106.9,19.6 L106.2,18 L105.3,16.4 L104.4,14.9 L104.5,13.1 L104.7,11.3 L105.5,9.7" fill="none" stroke="#f4f4f4" stroke-width="0.5" opacity="0.9"/>
<path d="M105.6,34.9 L106.9,36.2 L107.2,37.9 L107.9,39.6 L108.7,41.2 L109.1,43 L108.5,44.7 L107.1,45.7" fill="none" stroke="#f4f4f4" stroke-width="0.5" opacity="0.9"/>
<path d="M92.3,47.9 L90.6,48.2 L88.9,48.9 L87.1,49.1" fill="none" stroke="#f4f4f4" stroke-width="0.5" opacity="0.9"/>
<path d="M72.5,34.1 L70.7,34 L69,34.3 L67.6,35.5 L66.6,37 L65.5,38.4" fill="none" stroke="#f4f4f4" stroke-width="0.5" opacity="0.9"/>
<path d="M66.4,50.6 L65.3,52 L64.8,53.7 L65.2,55.4 L66,57.1 L67.2,58.5" fill="none" stroke="#f4f4f4" stroke-width="0.5" opacity="0.9"/>
<path d="M87,44.3 L85.2,44.7 L83.5,44.9 L82.1,46.1" fill="none" stroke="#f4f4f4" stroke-width="0.5" opacity="0.9"/>
<path d="M100,60.2 L99.2,61.8 L98.1,63.2 L97.4,64.8 L97.1,66.6" fill="none" stroke="#f4f4f4" stroke-width="0.5" opacity="0.9"/>
<path d="M95,33.9 L93.3,33.3 L91.5,33.1 L90.1,32 L88.3,31.6 L86.6,31 L85.3,29.7 L85,27.9" fill="none" stroke="#f4f4f4" stroke-width="0.5" opacity="0.9"/>
<path d="M97.4,36.9 L96.6,38.5 L95.4,39.8 L95.1,41.6" fill="none" stroke="#f4f4f4" stroke-width="0.5" opacity="0.9"/>
<path d="M119,46.8 L117.7,48 L116.1,49 L115.4,50.6 L114.2,51.9" fill="none" stroke="#f4f4f4" stroke-width="0.5" opacity="0.9"/>
<path d="M59.1,33.4 L57.3,33 L55.5,32.9 L53.9,32.2 L52.3,31.3 L51,30.1 L49.3,29.4 L47.7,28.7" fill="none" stroke="#f4f4f4" stroke-width="0.5" opacity="0.9"/>
<path d="M108.7,32.1 L107,31.6 L105.3,32 L103.5,32" fill="none" stroke="#f4f4f4" stroke-width="0.5" opacity="0.9"/>
<path d="M65,43.3 L64.9,41.5 L63.9,40 L62.6,38.8 L61.7,37.2 L60.1,36.4 L58.3,36.5 L56.6,35.8 L55.2,34.8" fill="none" stroke="#f4f4f4" stroke-width="0.5" opacity="0.9"/>
<path d="M91.1,46.2 L90.3,47.8 L88.7,48.7 L87.6,50.1 L86.7,51.7 L85.7,53.2 L84.2,54.1 L83.3,55.6 L81.7,56.5" fill="none" stroke="#f4f4f4" stroke-width="0.5" opacity="0.9"/>
<path d="M86.2,45.6 L87.5,46.9 L89.2,47.6 L90.6,48.7 L92,49.8 L93.5,50.7 L94.5,52.2" fill="none" stroke="#f4f4f4" stroke-width="0.5" opacity="0.9"/>
<path d="M88.7,28.2 L89.5,26.5 L89,24.8 L89.3,23 L90,21.4 L90.4,19.6 L91.5,18.2 L92.9,17.1" fill="none" stroke="#f4f4f4" stroke-width="0.5" opacity="0.9"/>
<path d="M85,43.6 L83.3,43 L81.7,42.1 L80.1,41.4 L79.3,39.7 L78.1,38.4 L77.4,36.7" fill="none" stroke="#f4f4f4" stroke-width="0.5" opacity="0.9"/>
<path d="M70.9,40.7 L70.1,39.2 L69.9,37.4 L69.2,35.7 L67.9,34.5 L66.2,33.8" fill="none" stroke="#f4f4f4" stroke-width="0.5" opacity="0.9"/>
<path d="M114.1,59.8 L115,61.4 L114.8,63.1 L114.8,64.9 L114.8,66.7" fill="none" stroke="#f4f4f4" stroke-width="0.5" opacity="0.9"/>
<path d="M70.8,42.1 L71.3,43.8 L71.4,45.6 L71.2,47.4 L71,49.2" fill="none" stroke="#f4f4f4" stroke-width="0.5" opacity="0.9"/>
<path d="M77.3,36.9 L77.7,38.7 L78.9,40 L79.5,41.7 L80.7,43 L82.4,43.7" fill="none" stroke="#f4f4f4" stroke-width="0.5" opacity="0.9"/>
<path d="M90.2,37.7 L89.6,36 L90.2,34.3 L90.4,32.5 L90.2,30.7 L89.1,29.3 L88.7,27.6 L89,25.8" fill="none" stroke="#f4f4f4" stroke-width="0.5" opacity="0.9"/>
<path d="M94.9,38.4 L94.9,36.6 L94.4,34.9 L93.3,33.5 L93,31.7 L93.1,29.9" fill="none" stroke="#f4f4f4" stroke-width="0.5" opacity="0.9"/>
<path d="M74.3,34 L76.1,34.3 L77.9,34.1 L79.7,33.9" fill="none" stroke="#f4f4f4" stroke-width="0.5" opacity="0.9"/>
<path d="M111.9,38.8 L112,40.6 L111.9,42.4 L111.6,44.2 L110.8,45.8 L109.9,47.3 L108.7,48.7 L106.9,49.1" fill="none" stroke="#f4f4f4" stroke-width="0.5" opacity="0.9"/>
<path d="M105.6,41.8 L107.4,41.4 L109.2,41.2 L110.9,40.9 L112.7,41.1 L114.5,40.9" fill="none" stroke="#f4f4f4" stroke-width="0.5" opacity="0.9"/>
<path d="M69.8,45.7 L68.8,44.2 L67.5,42.9 L65.8,42.3 L64.9,40.7 L63.3,39.9" fill="none" stroke="#f4f4f4" stroke-width="0.5" opacity="0.9"/>
<path d="M116.2,39.7 L118,39.6 L119.4,40.7 L121.2,41.1" fill="none" stroke="#f4f4f4" stroke-width="0.5" opacity="0.9"/>
<path d="M79.5,38.5 L79.5,40.3 L79,42 L79.6,43.7 L81.1,44.7" fill="none" stroke="#f4f4f4" stroke-width="0.5" opacity="0.9"/>
<path d="M92.5,58.6 L93.7,57.3 L94.8,55.8 L96.2,54.7 L96.7,53 L97.7,51.4 L98.9,50.1 L100.6,49.7" fill="none" stroke="#f4f4f4" stroke-width="0.5" opacity="0.9"/>
<path d="M112.3,40.2 L113.8,41.2 L115.6,41.3 L117.4,41.3 L119.2,41.5" fill="none" stroke="#f4f4f4" stroke-width="0.5" opacity="0.9"/>
<path d="M118.2,36.5 L118.4,38.3 L119.1,40 L120.5,41.1 L121.8,42.3 L122.3,44" fill="none" stroke="#f4f4f4" stroke-width="0.5" opacity="0.9"/>
<path d="M65.9,39.8 L64.2,40.3 L62.4,40.1 L61.1,38.8" fill="none" stroke="#f4f4f4" stroke-width="0.5" opacity="0.9"/>
<path d="M92.6,49.7 L94.1,50.7 L94.8,52.3 L96.3,53.4 L98,54 L99.8,54.1 L101.1,55.3 L102.6,56.3" fill="none" stroke="#f4f4f4" stroke-width="0.5" opacity="0.9"/>
<path d="M65.5,36.3 L66.2,38 L66.7,39.7 L66.5,41.5 L65.6,43 L65.9,44.8 L67.1,46.1 L67.8,47.8" fill="none" stroke="#f4f4f4" stroke-width="0.5" opacity="0.9"/>
<path d="M118.4,47.6 L117.7,49.3 L116.3,50.4 L115.3,51.9 L115.4,53.7 L115.8,55.4" fill="none" stroke="#f4f4f4" stroke-width="0.5" opacity="0.9"/>
<path d="M102.3,32.3 L100.5,32.1 L98.8,32.7 L97,32.3 L95.2,32.7 L93.9,33.8" fill="none" stroke="#f4f4f4" stroke-width="0.5" opacity="0.9"/>
<path d="M72.2,22.9 L71,24.2 L69.5,25.3 L68,26.2 L66.3,26.9" fill="none" stroke="#f4f4f4" stroke-width="0.5" opacity="0.9"/>
<path d="M92.7,44.5 L94.4,44.1 L96,43.2 L97.3,42 L99,41.2 L100.7,40.9" fill="none" stroke="#f4f4f4" stroke-width="0.5" opacity="0.9"/>
<path d="M106.6,37.7 L106.6,35.9 L105.5,34.4 L104.6,32.9 L103,32" fill="none" stroke="#f4f4f4" stroke-width="0.5" opacity="0.9"/>
<path d="M98.9,40.9 L99.6,42.5 L100.7,44 L102.3,44.8" fill="none" stroke="#f4f4f4" stroke-width="0.5" opacity="0.9"/>
<path d="M106.5,44 L107.9,42.8 L109.3,41.7 L111.1,41.6 L112.5,40.5 L114.3,40.6 L115.8,41.6" fill="none" stroke="#f4f4f4" stroke-width="0.5" opacity="0.9"/>
<path d="M59.3,32.2 L61.1,32.4 L62.8,31.7 L63.8,30.2" fill="none" stroke="#f4f4f4" stroke-width="0.5" opacity="0.9"/>
<path d="M66.2,34.1 L64.7,35.1 L63.8,36.6 L62.4,37.8 L60.7,38" fill="none" stroke="#f4f4f4" stroke-width="0.5" opacity="0.9"/>
<path d="M68.3,42.4 L69.9,43.2 L70.9,44.7 L71,46.5 L70.7,48.2 L70.7,50 L70.2,51.8 L68.8,52.9 L68.1,54.5" fill="none" stroke="#f4f4f4" stroke-width="0.5" opacity="0.9"/>
<path d="M111.7,59.6 L110.5,58.3 L108.9,57.6 L107.1,57.8" fill="none" stroke="#f4f4f4" stroke-width="0.5" opacity="0.9"/>
<path d="M89.7,40.2 L87.9,39.9 L86.5,38.9 L84.7,38.4 L83,38.9 L81.2,39.1 L79.9,40.4 L78.2,40.7" fill="none" stroke="#f4f4f4" stroke-width="0.5" opacity="0.9"/>
<path d="M118.4,57.1 L118.8,58.9 L120.1,60.2 L121.3,61.5 L121.7,63.2 L121.9,65" fill="none" stroke="#f4f4f4" stroke-width="0.5" opacity="0.9"/>
<path d="M78.4,35.3 L80.2,35.2 L81.8,34.4 L83.6,34.6 L84.8,35.9 L86.6,36.1 L88.2,36.9" fill="none" stroke="#f4f4f4" stroke-width="0.5" opacity="0.9"/>
<path d="M81.6,48.2 L81.7,50 L80.7,51.5 L80.8,53.3 L81,55.1 L80.2,56.6 L79.1,58.1 L79.1,59.9 L80.1,61.3" fill="none" stroke="#f4f4f4" stroke-width="0.5" opacity="0.9"/>
<path d="M77.9,44.1 L79.1,45.4 L79.6,47.1 L79.9,48.9" fill="none" stroke="#f4f4f4" stroke-width="0.5" opacity="0.9"/>
<path d="M100,41.9 L100,43.7 L99.8,45.5 L99.8,47.3 L99.6,49.1" fill="none" stroke="#f4f4f4" stroke-width="0.5" opacity="0.9"/>
<path d="M85.5,60.1 L85.2,61.9 L84,63.2 L82.3,63.8 L80.5,63.4 L78.8,63.9 L77,64.3" fill="none" stroke="#f4f4f4" stroke-width="0.5" opacity="0.9"/>
<circle cx="68.1" cy="45.4" r="1.2" fill="#dcdcdc" opacity="0.7"/>
<circle cx="63.4" cy="40.2" r="1.7" fill="#dcdcdc" opacity="0.7"/>
<circle cx="70.7" cy="62.2" r="1.3" fill="#dcdcdc" opacity="0.7"/>
<circle cx="70.3" cy="53" r="1.4" fill="#dcdcdc" opacity="0.7"/>
<circle cx="58.5" cy="42.6" r="2.1" fill="#dcdcdc" opacity="0.7"/>
<circle cx="59.1" cy="45.3" r="1" fill="#dcdcdc" opacity="0.7"/>
<circle cx="60" cy="46.1" r="1.7" fill="#dcdcdc" opacity="0.7"/>
<circle cx="60.2" cy="39.4" r="1.1" fill="#dcdcdc" opacity="0.7"/>
<circle cx="58.3" cy="46.1" r="1.8" fill="#dcdcdc" opacity="0.7"/>
<circle cx="68" cy="44.8" r="1.5" fill="#dcdcdc" opacity="0.7"/>
<circle cx="71.7" cy="53.3" r="1.3" fill="#dcdcdc" opacity="0.7"/>
<circle cx="68.3" cy="33.4" r="1.3" fill="#dcdcdc" opacity="0.7"/>
<circle cx="68.9" cy="40.6" r="1.5" fill="#dcdcdc" opacity="0.7"/>
<circle cx="52.6" cy="39.4" r="1.6" fill="#dcdcdc" opacity="0.7"/>
<circle cx="59.9" cy="46.7" r="2" fill="#dcdcdc" opacity="0.7"/>
<circle cx="59.4" cy="45.9" r="1.2" fill="#dcdcdc" opacity="0.7"/>
<circle cx="66.1" cy="60.8" r="2" fill="#dcdcdc" opacity="0.7"/>
<circle cx="75.1" cy="43.6" r="1.8" fill="#dcdcdc" opacity="0.7"/>
<circle cx="66.3" cy="33.9" r="2" fill="#dcdcdc" opacity="0.7"/>
<circle cx="65" cy="41.3" r="2" fill="#dcdcdc" opacity="0.7"/>
<circle cx="62.8" cy="51.7" r="2.1" fill="#dcdcdc" opacity="0.7"/>
<circle cx="69.9" cy="47.4" r="1.4" fill="#dcdcdc" opacity="0.7"/>
<circle cx="65.8" cy="35.4" r="2.1" fill="#dcdcdc" opacity="0.7"/>
<circle cx="70.6" cy="41.3" r="1.1" fill="#dcdcdc" opacity="0.7"/>
<circle cx="62.8" cy="42.7" r="2.2" fill="#dcdcdc" opacity="0.7"/>
<path d="M72,26 C82,17 104,15 116,22 C124,30 121,45 110,52" fill="none" stroke="#eee" stroke-width="0.6" />
<path d="M78,40 C90,31 108,29 116,40 C118,50 110,57 96,60" fill="none" stroke="#eee" stroke-width="0.6" />
<path d="M60,52 C72,62 96,66 118,58" fill="none" stroke="#eee" stroke-width="0.6" />
<path d="M88,24 C98,20 110,22 114,30" fill="none" stroke="#eee" stroke-width="0.5" />
<circle cx="70.7" cy="28.6" r="1" fill="#2d6fd0" opacity="0.6"/>
<circle cx="66.1" cy="43.8" r="2" fill="#2d6fd0" opacity="0.6"/>
<circle cx="64.2" cy="22.3" r="1.7" fill="#2d6fd0" opacity="0.6"/>
<circle cx="68" cy="44.7" r="1.8" fill="#2d6fd0" opacity="0.6"/>
<circle cx="62.8" cy="50.1" r="1.6" fill="#2d6fd0" opacity="0.6"/>
<circle cx="60.8" cy="31.1" r="1.2" fill="#2d6fd0" opacity="0.6"/>
<circle cx="68.7" cy="25.8" r="1.6" fill="#2d6fd0" opacity="0.6"/>
<circle cx="68.2" cy="41.6" r="1.4" fill="#2d6fd0" opacity="0.6"/>
<circle cx="56.2" cy="27.3" r="1" fill="#2d6fd0" opacity="0.6"/>
<circle cx="64.8" cy="41.3" r="1.9" fill="#2d6fd0" opacity="0.6"/>
<circle cx="56.6" cy="49.5" r="1.9" fill="#2d6fd0" opacity="0.6"/>
<circle cx="55.6" cy="50.4" r="1.5" fill="#2d6fd0" opacity="0.6"/>
<circle cx="56.7" cy="27.5" r="1.4" fill="#2d6fd0" opacity="0.6"/>
<circle cx="60.7" cy="19.2" r="1.8" fill="#2d6fd0" opacity="0.6"/>
<circle cx="61.9" cy="34.1" r="1.7" fill="#2d6fd0" opacity="0.6"/>
<circle cx="54.5" cy="24.8" r="1.5" fill="#2d6fd0" opacity="0.6"/>
<circle cx="54.3" cy="29.1" r="0.9" fill="#2d6fd0" opacity="0.6"/>
<circle cx="49.4" cy="30.1" r="1.4" fill="#2d6fd0" opacity="0.6"/>
<circle cx="72.7" cy="39.7" r="1.3" fill="#2d6fd0" opacity="0.6"/>
<circle cx="58.6" cy="26" r="1.4" fill="#2d6fd0" opacity="0.6"/>
<circle cx="59.3" cy="41.3" r="1.7" fill="#2d6fd0" opacity="0.6"/>
<circle cx="62.4" cy="39.8" r="1.9" fill="#2d6fd0" opacity="0.6"/>
<circle cx="71.5" cy="26.5" r="1.4" fill="#2d6fd0" opacity="0.6"/>
<circle cx="73.9" cy="35.9" r="1" fill="#2d6fd0" opacity="0.6"/>
<circle cx="51.9" cy="36.7" r="1.1" fill="#2d6fd0" opacity="0.6"/>
<circle cx="66.7" cy="42.7" r="1.2" fill="#2d6fd0" opacity="0.6"/>
<circle cx="67.9" cy="40" r="1.6" fill="#2d6fd0" opacity="0.6"/>
<circle cx="59.9" cy="32.7" r="0.9" fill="#2d6fd0" opacity="0.6"/>
<circle cx="60.3" cy="50.5" r="1.9" fill="#2d6fd0" opacity="0.6"/>
<circle cx="55" cy="41.6" r="1.3" fill="#2d6fd0" opacity="0.6"/>
<circle cx="51.3" cy="32.5" r="1.5" fill="#2d6fd0" opacity="0.6"/>
<circle cx="67.4" cy="31.7" r="1.6" fill="#2d6fd0" opacity="0.6"/>
<circle cx="65.7" cy="38.9" r="0.9" fill="#2d6fd0" opacity="0.6"/>
<circle cx="66.5" cy="22.4" r="0.9" fill="#2d6fd0" opacity="0.6"/>
<circle cx="60.3" cy="18.6" r="0.9" fill="#2d6fd0" opacity="0.6"/>
<circle cx="58.2" cy="33.9" r="0.9" fill="#2d6fd0" opacity="0.6"/>
<circle cx="60.7" cy="38" r="1.2" fill="#2d6fd0" opacity="0.6"/>
<circle cx="55.9" cy="25.5" r="1.8" fill="#2d6fd0" opacity="0.6"/>
<circle cx="61.2" cy="32" r="1.3" fill="#2d6fd0" opacity="0.6"/>
<circle cx="71.1" cy="26.8" r="1.7" fill="#2d6fd0" opacity="0.6"/>
<circle cx="66.4" cy="33.2" r="1.2" fill="#2d6fd0" opacity="0.6"/>
<circle cx="59.4" cy="33.4" r="1.2" fill="#2d6fd0" opacity="0.6"/>
<circle cx="64.2" cy="32" r="1.2" fill="#2d6fd0" opacity="0.6"/>
<circle cx="68.1" cy="33.5" r="1.4" fill="#2d6fd0" opacity="0.6"/>
<circle cx="70.9" cy="33.5" r="1.3" fill="#2d6fd0" opacity="0.6"/>
<circle cx="68.4" cy="31.6" r="1.6" fill="#2d6fd0" opacity="0.6"/>
<circle cx="67.3" cy="28.1" r="1.7" fill="#2d6fd0" opacity="0.6"/>
<circle cx="72.7" cy="40.3" r="1.6" fill="#2d6fd0" opacity="0.6"/>
<circle cx="59.3" cy="40.2" r="1.1" fill="#2d6fd0" opacity="0.6"/>
<circle cx="68" cy="36.3" r="2" fill="#2d6fd0" opacity="0.6"/>
<circle cx="56.9" cy="42.2" r="0.8" fill="#2d6fd0" opacity="0.6"/>
<circle cx="58.8" cy="44.1" r="1.1" fill="#2d6fd0" opacity="0.6"/>
<circle cx="64" cy="25.5" r="1.3" fill="#2d6fd0" opacity="0.6"/>
<circle cx="63.2" cy="45.9" r="1.8" fill="#2d6fd0" opacity="0.6"/>
<circle cx="58.2" cy="38.1" r="1.7" fill="#2d6fd0" opacity="0.6"/>
<circle cx="67.8" cy="43.4" r="1.5" fill="#2d6fd0" opacity="0.6"/>
<circle cx="54.5" cy="42" r="1.5" fill="#2d6fd0" opacity="0.6"/>
<circle cx="62.2" cy="51.6" r="1" fill="#2d6fd0" opacity="0.6"/>
<circle cx="68.3" cy="29" r="1.7" fill="#2d6fd0" opacity="0.6"/>
<circle cx="103.2" cy="34.2" r="0.8" fill="#2d6fd0" opacity="0.8"/>
<circle cx="96.5" cy="36" r="0.6" fill="#2d6fd0" opacity="0.8"/>
<circle cx="98" cy="39.1" r="0.9" fill="#2d6fd0" opacity="0.8"/>
<circle cx="92.6" cy="38.4" r="0.8" fill="#2d6fd0" opacity="0.8"/>
<circle cx="90.3" cy="36.8" r="0.8" fill="#2d6fd0" opacity="0.8"/>
<circle cx="96.5" cy="39.9" r="0.8" fill="#2d6fd0" opacity="0.8"/>
<circle cx="103.3" cy="34.8" r="1" fill="#2d6fd0" opacity="0.8"/>
<circle cx="89.2" cy="34.4" r="0.9" fill="#2d6fd0" opacity="0.8"/>
<circle cx="99" cy="38.6" r="0.7" fill="#2d6fd0" opacity="0.8"/>
<circle cx="92.4" cy="34.9" r="0.8" fill="#2d6fd0" opacity="0.8"/>
<circle cx="88.4" cy="35" r="0.9" fill="#2d6fd0" opacity="0.8"/>
<circle cx="90.4" cy="34.5" r="1" fill="#2d6fd0" opacity="0.8"/>
<circle cx="50.5" cy="41" r="1.8" fill="#2d6fd0" />
<circle cx="63.5" cy="42.5" r="1.4" fill="#1bb04a" />
<path d="M52.4,16.1 L71,23 L71,68.5 L52.4,59 Z" fill="none" stroke="#d8141c" stroke-width="0.6" />
</g>
<line x1="26" y1="70.6" x2="142" y2="70.6" stroke="#a0a0a0" stroke-width="1" />
<rect x="26" y="71.1" width="116.2" height="84.4" fill="#03031a" />
<radialGradient id="gCor" cx="0.5" cy="0.45" r="0.6"><stop offset="0" stop-color="#1f34e6"/><stop offset="0.7" stop-color="#1a2bd0"/><stop offset="1" stop-color="#1020a0"/></radialGradient>
<path d="M86,86 C85.2,85.7 85.7,82.2 84,81 C82.3,79.8 79.0,79.0 76,78.5 C73.0,78.0 69.5,77.9 66,78 C62.5,78.1 58.5,78.3 55,79 C51.5,79.7 48.0,80.5 45,82 C42.0,83.5 39.3,85.5 37,88 C34.7,90.5 32.3,93.7 31,97 C29.7,100.3 29.2,104.7 29,108 C28.8,111.3 29.2,114.2 30,117 C30.8,119.8 32.3,122.7 34,125 C35.7,127.3 38.3,129.0 40,131 C41.7,133.0 42.5,135.0 44,137 C45.5,139.0 47.0,141.2 49,143 C51.0,144.8 53.2,146.4 56,147.5 C58.8,148.6 62.8,149.4 66,149.8 C69.2,150.2 72.3,150.2 75,149.8 C77.7,149.4 80.3,148.8 82,147.5 C83.7,146.2 84.4,146.6 85,142 C85.6,137.4 84.7,123.7 85.5,120 C86.3,116.3 89.2,116.3 90,120 C90.8,123.7 90.0,137.4 90.5,142 C91.0,146.6 91.4,146.2 93,147.5 C94.6,148.8 97.2,149.5 100,149.8 C102.8,150.1 107.2,149.9 110,149.3 C112.8,148.8 115.2,148.1 117,146.5 C118.8,144.9 119.8,142.2 121,140 C122.2,137.8 122.5,135.3 124,133 C125.5,130.7 128.0,128.5 130,126 C132.0,123.5 134.5,121.0 136,118 C137.5,115.0 138.6,111.3 139,108 C139.4,104.7 139.2,101.0 138.5,98 C137.8,95.0 136.6,92.3 135,90 C133.4,87.7 131.5,85.7 129,84 C126.5,82.3 123.2,80.9 120,80 C116.8,79.1 113.3,78.8 110,78.5 C106.7,78.2 102.8,78.2 100,78.5 C97.2,78.8 94.8,79.2 93,80 C91.2,80.8 90.2,82.0 89,83 C87.8,84.0 86.8,86.3 86,86 Z" fill="url(#gCor)" />
<ellipse cx="62" cy="128" rx="20" ry="14" fill="#1020b0" opacity="0.35"/>
<ellipse cx="108" cy="128" rx="18" ry="14" fill="#1020b0" opacity="0.35"/>
<ellipse cx="60" cy="95" rx="22" ry="12" fill="#2a44f4" opacity="0.35"/>
<ellipse cx="112" cy="95" rx="22" ry="12" fill="#2a44f4" opacity="0.35"/>
<circle cx="117.5" cy="109.8" r="0.4" fill="#3cf0a0" opacity="0.8"/>
<circle cx="115.6" cy="114" r="0.6" fill="#3cf0a0" opacity="0.8"/>
<circle cx="113.7" cy="106.5" r="0.5" fill="#3cf0a0" opacity="0.8"/>
<circle cx="113.6" cy="110.4" r="0.6" fill="#3cf0a0" opacity="0.8"/>
<circle cx="116.2" cy="108.3" r="0.6" fill="#3cf0a0" opacity="0.8"/>
<circle cx="112.6" cy="106" r="0.7" fill="#3cf0a0" opacity="0.8"/>
<circle cx="115.1" cy="119.8" r="0.4" fill="#3cf0a0" opacity="0.8"/>
<circle cx="105.5" cy="116.6" r="0.5" fill="#3cf0a0" opacity="0.8"/>
<circle cx="102.6" cy="98.9" r="0.4" fill="#3cf0a0" opacity="0.8"/>
<circle cx="115.2" cy="121.6" r="0.4" fill="#3cf0a0" opacity="0.8"/>
<circle cx="118.5" cy="110.6" r="0.5" fill="#3cf0a0" opacity="0.8"/>
<circle cx="105.5" cy="117.5" r="0.7" fill="#3cf0a0" opacity="0.8"/>
<circle cx="112.6" cy="108.2" r="0.4" fill="#3cf0a0" opacity="0.8"/>
<circle cx="113.1" cy="107.3" r="0.7" fill="#3cf0a0" opacity="0.8"/>
<circle cx="116.5" cy="108.4" r="0.4" fill="#3cf0a0" opacity="0.8"/>
<circle cx="115.1" cy="123" r="0.3" fill="#3cf0a0" opacity="0.8"/>
<circle cx="113.4" cy="109.6" r="0.6" fill="#3cf0a0" opacity="0.8"/>
<circle cx="107.6" cy="109.5" r="0.3" fill="#3cf0a0" opacity="0.8"/>
<circle cx="118.5" cy="113.8" r="0.7" fill="#3cf0a0" opacity="0.8"/>
<circle cx="105.9" cy="103.8" r="0.3" fill="#3cf0a0" opacity="0.8"/>
<circle cx="114.8" cy="112.9" r="0.6" fill="#3cf0a0" opacity="0.8"/>
<circle cx="115.8" cy="117" r="0.6" fill="#3cf0a0" opacity="0.8"/>
<circle cx="112.5" cy="106.2" r="0.5" fill="#3cf0a0" opacity="0.8"/>
<circle cx="112.4" cy="120.7" r="0.4" fill="#3cf0a0" opacity="0.8"/>
<circle cx="111.6" cy="116.1" r="0.4" fill="#3cf0a0" opacity="0.8"/>
<circle cx="113.9" cy="113.3" r="0.4" fill="#3cf0a0" opacity="0.8"/>
<circle cx="110.7" cy="109" r="0.3" fill="#3cf0a0" opacity="0.8"/>
<circle cx="117.2" cy="105.5" r="0.5" fill="#3cf0a0" opacity="0.8"/>
<circle cx="110" cy="125.5" r="0.6" fill="#3cf0a0" opacity="0.8"/>
<circle cx="108.7" cy="104.8" r="0.6" fill="#3cf0a0" opacity="0.8"/>
<circle cx="108.8" cy="112" r="0.5" fill="#3cf0a0" opacity="0.8"/>
<circle cx="108.4" cy="111.8" r="0.5" fill="#3cf0a0" opacity="0.8"/>
<circle cx="105.4" cy="109.5" r="0.7" fill="#3cf0a0" opacity="0.8"/>
<circle cx="114.2" cy="113.5" r="0.4" fill="#3cf0a0" opacity="0.8"/>
<circle cx="122.7" cy="114.5" r="0.5" fill="#3cf0a0" opacity="0.8"/>
<circle cx="113.3" cy="116.4" r="0.6" fill="#3cf0a0" opacity="0.8"/>
<circle cx="117.9" cy="102.9" r="0.6" fill="#3cf0a0" opacity="0.8"/>
<circle cx="113.8" cy="104.3" r="0.5" fill="#3cf0a0" opacity="0.8"/>
<circle cx="104.3" cy="107.3" r="0.7" fill="#3cf0a0" opacity="0.8"/>
<circle cx="122.2" cy="105.4" r="0.3" fill="#3cf0a0" opacity="0.8"/>
<circle cx="114.3" cy="130.6" r="0.5" fill="#3cf0a0" opacity="0.8"/>
<circle cx="109.7" cy="111.4" r="0.6" fill="#3cf0a0" opacity="0.8"/>
<circle cx="98.9" cy="109.8" r="0.3" fill="#3cf0a0" opacity="0.8"/>
<circle cx="114.8" cy="112" r="0.4" fill="#3cf0a0" opacity="0.8"/>
<circle cx="108.5" cy="118.4" r="0.3" fill="#3cf0a0" opacity="0.8"/>
<circle cx="103.1" cy="105.7" r="0.5" fill="#3cf0a0" opacity="0.8"/>
<circle cx="114.5" cy="102.7" r="0.5" fill="#3cf0a0" opacity="0.8"/>
<circle cx="116.6" cy="118.9" r="0.7" fill="#3cf0a0" opacity="0.8"/>
<circle cx="112.4" cy="107.7" r="0.5" fill="#3cf0a0" opacity="0.8"/>
<circle cx="109.6" cy="110.3" r="0.5" fill="#3cf0a0" opacity="0.8"/>
<circle cx="113.4" cy="111" r="0.4" fill="#3cf0a0" opacity="0.8"/>
<circle cx="112.1" cy="107.9" r="0.3" fill="#3cf0a0" opacity="0.8"/>
<circle cx="114.3" cy="105.7" r="0.7" fill="#3cf0a0" opacity="0.8"/>
<circle cx="111.8" cy="110.8" r="0.6" fill="#3cf0a0" opacity="0.8"/>
<circle cx="113.3" cy="124.8" r="0.6" fill="#3cf0a0" opacity="0.8"/>
<circle cx="114.1" cy="109.6" r="0.3" fill="#3cf0a0" opacity="0.8"/>
<circle cx="114.8" cy="108.3" r="0.4" fill="#3cf0a0" opacity="0.8"/>
<circle cx="116.9" cy="112.8" r="0.5" fill="#3cf0a0" opacity="0.8"/>
<circle cx="118.3" cy="110.4" r="0.4" fill="#3cf0a0" opacity="0.8"/>
<circle cx="115.5" cy="108.1" r="0.6" fill="#3cf0a0" opacity="0.8"/>
<circle cx="48.2" cy="110.8" r="0.3" fill="#3ce0a0" opacity="0.7"/>
<circle cx="52.5" cy="115.5" r="0.5" fill="#3ce0a0" opacity="0.7"/>
<circle cx="56.9" cy="123.3" r="0.3" fill="#3ce0a0" opacity="0.7"/>
<circle cx="43.9" cy="117.3" r="0.3" fill="#3ce0a0" opacity="0.7"/>
<circle cx="55" cy="125.8" r="0.4" fill="#3ce0a0" opacity="0.7"/>
<circle cx="59.9" cy="118" r="0.3" fill="#3ce0a0" opacity="0.7"/>
<circle cx="54.6" cy="124.5" r="0.4" fill="#3ce0a0" opacity="0.7"/>
<circle cx="64.4" cy="116.2" r="0.4" fill="#3ce0a0" opacity="0.7"/>
<circle cx="51.1" cy="121.3" r="0.4" fill="#3ce0a0" opacity="0.7"/>
<circle cx="62.4" cy="118.7" r="0.4" fill="#3ce0a0" opacity="0.7"/>
<circle cx="55.4" cy="116.8" r="0.3" fill="#3ce0a0" opacity="0.7"/>
<circle cx="61.8" cy="116.6" r="0.4" fill="#3ce0a0" opacity="0.7"/>
<circle cx="61" cy="121.3" r="0.5" fill="#3ce0a0" opacity="0.7"/>
<circle cx="59.5" cy="121.3" r="0.4" fill="#3ce0a0" opacity="0.7"/>
<circle cx="57.6" cy="111.9" r="0.3" fill="#3ce0a0" opacity="0.7"/>
<circle cx="60" cy="123" r="0.3" fill="#3ce0a0" opacity="0.7"/>
<circle cx="57.9" cy="116.2" r="0.3" fill="#3ce0a0" opacity="0.7"/>
<circle cx="47.6" cy="118.5" r="0.4" fill="#3ce0a0" opacity="0.7"/>
<circle cx="56.8" cy="110.2" r="0.4" fill="#3ce0a0" opacity="0.7"/>
<circle cx="65.9" cy="119.4" r="0.3" fill="#3ce0a0" opacity="0.7"/>
<circle cx="57.7" cy="117.9" r="0.3" fill="#3ce0a0" opacity="0.7"/>
<circle cx="60.5" cy="114.3" r="0.3" fill="#3ce0a0" opacity="0.7"/>
<circle cx="66.3" cy="119.2" r="0.4" fill="#3ce0a0" opacity="0.7"/>
<circle cx="58.2" cy="116.4" r="0.3" fill="#3ce0a0" opacity="0.7"/>
<circle cx="56.3" cy="119.5" r="0.3" fill="#3ce0a0" opacity="0.7"/>
<circle cx="114" cy="114" r="2.2" fill="#7dffd0" opacity="0.7"/>
<path d="M114.8,110.5 L115.5,111.8 L116,113.2 L117,114.3 L118,115.4 L119.5,115.9 L121,116 L122.5,116 L123.9,115.6 L125,114.7 M112,112.6 L112.9,113.7 L113.9,114.9 L115.3,115.5 L116.2,116.7 M116.7,107.7 L117,109.2 L117.5,110.6 L118,112 L118,113.5 L117.6,115 M113.7,107.2 L115.2,107.4 L116.7,107.7 L118.2,107.9 L119.6,108.3 L121.1,108.7 L122.6,108.6 L123.9,107.8 M114.7,103.6 L114.6,102.1 L114.8,100.7 L114.7,99.2 L114.7,97.7 L114.8,96.2 L115.3,94.8 M114.1,102.2 L113.4,100.9 L112.4,99.9 L111,99.3 L109.5,99.4 M118,114.4 L117.9,112.9 L117.7,111.4 L117.6,109.9 L117.9,108.4 L117.7,106.9 L116.8,105.7 L115.8,104.6 L114.7,103.6 L114.1,102.2 M119.2,101.1 L120.1,99.8 L120.3,98.4 L121.1,97.1 M121.3,98.9 L122.7,98.6 L124.2,98.9 L125.7,98.9 L127.1,99.5 L128.4,100.3 L129.3,101.5 L130.4,102.5 M122.7,98.5 L124.2,98.5 L125.7,98.3 L127.2,98.4 L128.6,98.8 M117,109.7 L117.3,108.2 L117.5,106.7 L117.8,105.3 L118.1,103.8 L118.4,102.3 L119.2,101.1 L120.1,99.9 L121.3,98.9 L122.7,98.5 L124.2,98.8 M106.7,108.9 L105.5,109.9 L104.1,110.3 L102.6,110.6 L101.1,110.7 L99.6,110.7 L98.2,111.2 M112.3,110.5 L110.8,110.6 L109.4,110 L108.1,109.3 L106.7,108.9 L105.2,109.2 L103.7,109.4 L102.2,109.1 L100.7,109.3 L99.5,110.1 L98.1,110.7 M125.1,116.5 L126.6,116.1 L128,116 M118,115.4 L119.2,116.3 L120.7,116.5 L122.2,116.2 L123.6,116.7 L125.1,116.5 L126.5,115.9 L127.7,115.1 M118.4,121.2 L118.1,122.7 L118.2,124.2 M116.9,118.6 L117.6,119.9 L118.4,121.2 L119.4,122.3 L120.5,123.3 M113.5,106.9 L113.2,105.5 L113.2,104 L113.3,102.5 L114.1,101.2 L115,100 L115.9,98.8 M114.8,110.5 L115.6,111.7 L116.7,112.8 M116,106.2 L115.5,107.6 L115.3,109.1 L114.8,110.5 L114.4,112 M122.8,105.1 L124.3,105.3 L125.5,106.2 L126.9,106.6 L128.4,106.7 M110.6,109.9 L111.8,109.1 L113.1,108.3 L114.6,108.1 L116,107.7 L117.5,107.3 L118.5,106.2 L119.9,105.7 L121.4,105.7 L122.8,105.1 M117.3,116.2 L118.2,117.5 L118.4,119 L118.3,120.5 L118.8,121.9 M116.6,112.1 L117,113.6 L117.6,114.9 L118.3,116.3 M117.7,113.2 L119.1,113.6 L120.3,114.5 L121.8,114.8 L123.2,115.2 M121.4,117.6 L122.6,118.5 L123.7,119.5 L124.2,120.9 L125.2,122 M112.9,109.8 L114.3,110.3 L115.6,111 L116.6,112.1 L117.7,113.2 L118.6,114.3 L119.9,115.1 L120.9,116.2 L121.4,117.6 M108.4,112.4 L108.2,110.9 L107.8,109.4 L107,108.1 L106.9,106.6 L106.5,105.2 M106,110.7 L104.5,110.8 L103,111 L101.7,111.8 L100.7,112.9 M109.2,113.6 L108.4,112.4 L107.4,111.2 L106,110.7 L104.7,109.9 L103.3,109.4 L102.1,108.5 L100.7,108 M58,116.9 L56.7,116.2 L55.7,115.1 M59.7,119.4 L58.9,118.1 L58,116.9 L56.9,115.9 L55.5,115.5 L54.4,114.5 M65.2,122.6 L63.8,123.1 L62.6,124 L61.1,124.4 L59.6,124.3 M65.1,118.2 L66,117 L67.2,116.2 L68.2,115 L69.4,114.2 M61.6,121.1 L62.8,120.1 L63.8,119 L65.1,118.2 L65.9,116.9 L67,115.9 L68.2,115.1 M54.4,124.1 L55.4,125.2 L56.5,126.2 M55.4,118.3 L55.1,119.7 L54.5,121.1 L54.4,122.6 L54.4,124.1 M55.7,126.6 L57.2,126.8 L58.7,126.6 L60.1,126.8 M51.7,118.7 L52.3,120.1 L53.4,121.1 L54.2,122.4 L54.8,123.8 L55,125.3 L55.7,126.6 L56,128.1" fill="none" stroke="#30d890" stroke-width="0.3" opacity="0.8"/>
<rect x="107.5" y="101" width="17.2" height="20.5" fill="none" stroke="#e02020" stroke-width="0.6" stroke-dasharray="1.2,1"/>
<text x="29.5" y="81.2" font-size="6.80" fill="#e8e8e8">Coronal section</text>
<text x="119.5" y="150" font-size="6.60" fill="#fff">1 mm</text>
<rect x="117.7" y="151.6" width="20" height="2" fill="#fff" />
<rect x="144.6" y="12" width="100.6" height="143" fill="#060606" />
<path d="M165.1 103.9h0M161.8 36.9h0M198.6 66.3h0M160 93.7h0M195.8 68.1h0M192.4 18.6h0M206.5 40.5h0M178.6 14.3h0M233.8 96.4h0M184.2 89.9h0M239 31.8h0M183.3 113.5h0M182.2 113.4h0M235.8 18.8h0M173.5 54.6h0M220 124.4h0M214.9 144.3h0M163.6 68.9h0M230.3 121.7h0M156.3 152.1h0M219 136h0M181.2 99h0M240.9 140.5h0M202.7 139.4h0M244.9 132.2h0M210.6 149.4h0M159.4 70.3h0M201.4 31.7h0M223.1 21.8h0M207.9 52.7h0M177.3 99.2h0M164.1 76.5h0M230.7 153.1h0M171.3 64.9h0M214.4 39.9h0M229.9 41.2h0M200.7 61.2h0M145.1 13.1h0M145.2 59.6h0M172.5 153.8h0M208.8 22.3h0M216.6 46h0M193.2 115.6h0M230.7 145.8h0M187.1 58.1h0M184.7 57.4h0M219.2 78.7h0M213.6 34.6h0M223.3 150.3h0M165.3 100.6h0M161.2 18h0M186.4 39h0M218.1 94.3h0M212.5 150.5h0M150.8 27h0M148.6 78.2h0M227.4 110.1h0M199.8 134.6h0M182.2 29h0M209.2 16.6h0M167.9 17.2h0M161.2 22.1h0M198.2 31.2h0M205.3 130h0M179.4 30.1h0M212.1 116.4h0M233.4 91.7h0M203.2 135.6h0M212.7 151.4h0M173.7 123h0M208.3 79.5h0M146.1 80.7h0M171.3 98.4h0M195.9 85.5h0M150.9 31.7h0M205.7 109.8h0M244.1 125.6h0M174 77.7h0M195.6 127.2h0M184.5 143.7h0M193.4 69.5h0M193 63.7h0M245 19.6h0M185 24.3h0M212.8 34.4h0M159.9 73.1h0M205.2 121.4h0M189.4 54.9h0M181.8 139.1h0M166.3 14.6h0M233.6 81.6h0M158.2 32.3h0M234 119.4h0M151.4 108.9h0M166.4 76.3h0M205.5 20.2h0M238.6 60.6h0M159.4 123.8h0M155.9 18.3h0M210.2 79.8h0M235.1 125.3h0M165.6 19.4h0M205.3 79.8h0M175.1 143.2h0M165.8 104.3h0M152.4 144.1h0M239.9 100.8h0M177 115.8h0M235.3 125.9h0M149.1 84.6h0M159 90.6h0M240 135.8h0M169.9 91.4h0M176.7 36.9h0M219.4 120.8h0M178.7 72.7h0M214.6 116.3h0M191.4 29.8h0M154.6 37.1h0M227.6 83.5h0M209.4 64.8h0M181.9 38h0M242.5 99h0M157.9 112.8h0M204.8 100.1h0M222 99.4h0M232.6 150.7h0M185.7 105.1h0M182.4 71.3h0M181.6 104.9h0M180.3 63h0M229.7 126.6h0M212.6 132.8h0M183.6 104.3h0M170.1 57.8h0M155.1 126.4h0M237.1 56h0M182.8 29.6h0M159.2 103.6h0M234.2 24.9h0M170.5 120.8h0M167.6 137.6h0M180.3 80.2h0M165.2 54.3h0M187.5 52.5h0M217.9 17.3h0M208.9 127h0M177.6 40.2h0M157 24h0M224.2 98.6h0M146.5 77.4h0M204.9 58.4h0M148.5 72.8h0M180.4 151.1h0M181 144h0M231.8 94.6h0M157.6 127.7h0M154 92.1h0M154.7 26.1h0M186.1 35.2h0M244.2 95.1h0M234.7 148.8h0M220.8 104.7h0M192.3 123.4h0M211.9 35.4h0M198 71.7h0M196.5 114.3h0M213.9 93.9h0M223.9 130.2h0M154.2 33.6h0M149.7 35.8h0M240.9 57h0M188.9 79.1h0M201.4 52.7h0M222.9 60.1h0M229.6 127.1h0M145.1 90.8h0M154.3 138.5h0M151.9 50.9h0M221.9 96.9h0M211.7 71.7h0M197.1 41.9h0M191.2 49.5h0M212.6 28.2h0M158.8 41.1h0M198.3 95.6h0M145.3 153.2h0M228.5 66.9h0M160.9 130.3h0M242.7 38.3h0M220.6 129.2h0M238.7 42.6h0M157 36.4h0M168.1 140.8h0M236 80.3h0M157.7 63.1h0M169.1 105.1h0M217 123.2h0M188.7 77.9h0M191.8 65.6h0M190.5 110.3h0M216.1 59.3h0M201.7 33.6h0M149.5 67.9h0M180.9 17.6h0M152.9 73.5h0M239.2 131.9h0M148 58h0M181.9 57.2h0M158.7 96.8h0M228.9 67.2h0M162.6 27.9h0M146.5 121.7h0M168.1 115.8h0M224.1 24.8h0M163.9 57.8h0M221.9 117.6h0M175.3 77.2h0M180.5 80h0M224.4 50.2h0M226 143.6h0M205.1 149.2h0M238.8 37.3h0M244.1 41.5h0M225.5 30.2h0M175.3 75.8h0M228.9 109.7h0M165.4 140.5h0M231.5 85.4h0M150.1 53.6h0M174.2 72.5h0M239.3 97.5h0M227 23.1h0M169.5 116.8h0M179 45.3h0M151.3 20.2h0M186.2 90.6h0M185 93.2h0M174.1 15.4h0M212.4 60.7h0M194.1 66.6h0M172 20.4h0M174.7 55.3h0M156.5 17.2h0M193.1 15.8h0M232.9 64.2h0M189.4 87.6h0M147.4 27.4h0M223.5 92h0M194.3 61.8h0M220.1 84.4h0M224.2 131.7h0M234.4 116.1h0M212.4 78.5h0M198.3 95.2h0M197.5 129.3h0M230.8 20.4h0M220.2 100.5h0M204.8 142h0M150 80.5h0M182.5 147.7h0M161.5 93h0M159.4 120.1h0M193.9 117.4h0M175.7 138.4h0M145.7 44.9h0M218.3 137.8h0M222.7 52.1h0M153.1 113.7h0M218.1 21.6h0M238.5 88h0M148.4 81.1h0M178.8 27.8h0M233.5 145.7h0M157.4 76.3h0M172.3 108.5h0M156 60.4h0M186 80.1h0M188.5 97.6h0M239 145.3h0M235.7 130.7h0M167.8 47.7h0M191 104.4h0M205.6 62.6h0M244.2 57.4h0M146.9 25.9h0M165.9 116.8h0M229.1 18.9h0M168.7 47.4h0M223.7 140.5h0M171.3 27.5h0M241.7 150.9h0M216.7 80.1h0M219.7 122h0M195.9 51.5h0M197.5 107h0M177.4 103.8h0M159.7 150.9h0M166.1 45.1h0M241 147.9h0M237.5 132.4h0M229.9 129.6h0M201.7 23.5h0M218.2 131.7h0M228.8 19.2h0M151.1 116.7h0M193.8 139.9h0M244.1 76.5h0M212.6 107.4h0M214.4 65.2h0M209 22.6h0M235 115.7h0M225.3 78.6h0M165.5 77.1h0M213.1 90.8h0M155.9 13.5h0M184.8 47.8h0M167.7 44.5h0M186.6 111.7h0M236.3 109.1h0M147.1 136.2h0M205.9 116.9h0M206.4 63.3h0M178.9 23.1h0M211.4 20.7h0M213.1 142.4h0M211.8 99.1h0M225.8 149.3h0M226.3 153.6h0M191 15.1h0M206.4 103.7h0M231.3 99.9h0M181.3 13.7h0M228.1 101.7h0M243.5 97.3h0M230.3 122.7h0M244.1 78.6h0M234.7 69.3h0M146.1 59.3h0M180.1 153.9h0M184.5 52h0M214.1 26.8h0M175.6 69.1h0M157.4 97.9h0M187.3 126.9h0M178.9 151.8h0M164.6 88.4h0M167.6 15h0M175.2 140.2h0M174.2 82.4h0M197.4 50.8h0M198.5 22.3h0M179.9 53.4h0M226.5 122.3h0M215.1 97.5h0M231.6 118.2h0M150.5 31.5h0M219.8 132.3h0M243.9 123.1h0M160.8 93.5h0M207.4 98.9h0M158.4 150.5h0M196 51.2h0M243.1 67.6h0M152 108h0M171 44h0M175.3 99.2h0M177 107.4h0M235.5 153.7h0M233.9 143.8h0M170.3 130h0M154 95.6h0M152.6 27.1h0M239.9 31h0M216.7 87.9h0M145.1 125.6h0M151.1 138.9h0M226.9 83.5h0M189.6 17h0M215 18.6h0M197.6 144.4h0M212.8 29.5h0M217.1 112.6h0M177.9 122.6h0M202.9 71.7h0M197.6 52.1h0M173.7 139.2h0M180 122.5h0M181.7 40h0M145.1 149.8h0M220.2 152.4h0M203.9 21.9h0M161.3 20h0M206.2 101.3h0M240.6 55h0M168.3 44.4h0M159.7 17.1h0M194.4 72.6h0M181.8 148.1h0M176.4 130.5h0" stroke="#555" stroke-width="0.6" stroke-linecap="round" fill="none" opacity="0.6"/>
<text x="147" y="19.2" font-size="7.08" fill="#fff" textLength="37" lengthAdjust="spacingAndGlyphs">Pial surface</text>
<text x="243" y="19.2" font-size="6.83" text-anchor="end" fill="#fff" textLength="38" lengthAdjust="spacingAndGlyphs">192981–003</text>
<line x1="146" y1="23.4" x2="245" y2="23.4" stroke="#ddd" stroke-width="1.1" stroke-dasharray="4,2.6"/>
<path d="M199.5,124 C200,110 201,95 201,80 C202,65 206,50 205,40 C204,34 202,30 201,24" fill="none" stroke="#fff" stroke-width="0.9" />
<path d="M201,40 C198,34 194,30 190,27 M190,27 C184,30 176,34 170,40 M192,33 C188,40 184,45 178,48 M203,38 C206,32 210,27 214,24.5 M210,28 C214,30 218,31 222,32 M206,39 C210,44 214,48 220,50 M160,30 C168,34 176,36 184,35 M150,28 C156,33 160,37 166,42" fill="none" stroke="#ddd" stroke-width="0.5" />
<path d="M196,34 C194,45 193,55 195,65 M199,30 C197,45 196,60 200,72" fill="none" stroke="#ddd" stroke-width="0.5" />
<path d="M190.1,87.1 L189.6,85.2 L188.9,83.3 L188.3,81.4 L187.7,79.5 L186.8,77.7" fill="none" stroke="#d8d8d8" stroke-width="0.4" opacity="0.85"/>
<path d="M187.3,84.2 L186.9,82.3 L186.2,80.4 L185.4,78.6" fill="none" stroke="#d8d8d8" stroke-width="0.4" opacity="0.85"/>
<path d="M201,92 L199.1,91.4 L197.2,90.7 L195.5,89.8 L193.6,89.1 L191.8,88.2 L190.1,87.1 L188.7,85.7 L187.3,84.2 L186.3,82.5 L185.1,80.9" fill="none" stroke="#d8d8d8" stroke-width="0.4" opacity="0.85"/>
<path d="M212.7,92.7 L214.4,93.7 L216,94.9 L217.8,95.9 L219.6,96.7 L221.5,97.4" fill="none" stroke="#d8d8d8" stroke-width="0.4" opacity="0.85"/>
<path d="M201,95 L203,94.6 L204.9,94.1 L206.8,93.6 L208.8,93.4 L210.8,93.2 L212.7,92.7 L214.7,92.3 L216.7,91.9 L218.6,91.3" fill="none" stroke="#d8d8d8" stroke-width="0.4" opacity="0.85"/>
<path d="M189.9,95.7 L188,96.3 L186.1,97 L184.2,97.7 L182.3,98.2 L180.5,99 L178.6,99.6 L176.6,100 L174.6,100.2" fill="none" stroke="#d8d8d8" stroke-width="0.4" opacity="0.85"/>
<path d="M201,100 L199.1,99.4 L197.2,98.9 L195.2,98.4 L193.4,97.7 L191.5,96.8 L189.9,95.7 L188.1,94.9 L186.2,94.3 L184.3,93.7 L182.3,93.1 L180.4,92.6 L178.5,92.1" fill="none" stroke="#d8d8d8" stroke-width="0.4" opacity="0.85"/>
<path d="M207,102.7 L209,103 L211,103.2 L212.9,103.4 L214.9,103.4 L216.9,103.7 L218.9,104.2 L220.8,104.8 L222.7,105.3" fill="none" stroke="#d8d8d8" stroke-width="0.4" opacity="0.85"/>
<path d="M201,103 L203,102.9 L205,102.9 L207,102.7 L208.9,102.3 L210.9,101.9 L212.9,101.8 L214.9,101.5 L216.8,100.9 L218.6,100 L220.4,99.2 L222.2,98.4 L224.1,97.8 L226,97" fill="none" stroke="#d8d8d8" stroke-width="0.4" opacity="0.85"/>
<path d="M199.2,107.1 L197.3,107.6 L195.4,108.3 L193.7,109.2 L191.8,110 L189.9,110.5 L188,111" fill="none" stroke="#d8d8d8" stroke-width="0.4" opacity="0.85"/>
<path d="M188.6,95.4 L188.5,93.4 L188.3,91.4 L188.3,89.4 L188.2,87.4 L187.9,85.4" fill="none" stroke="#d8d8d8" stroke-width="0.4" opacity="0.85"/>
<path d="M201,108 L199.2,107.1 L197.6,106 L196,104.7 L194.5,103.4 L193.2,101.9 L191.8,100.4 L190.6,98.9 L189.6,97.1 L188.6,95.4 L187.6,93.7 L186.5,92" fill="none" stroke="#d8d8d8" stroke-width="0.4" opacity="0.85"/>
<path d="M212,105.2 L214,105.1 L216,105.2 L218,105.2 L220,105.3 L221.9,105.7 L223.9,106.1" fill="none" stroke="#d8d8d8" stroke-width="0.4" opacity="0.85"/>
<path d="M213.8,104.4 L214.7,102.6 L215.7,100.9 L216.5,99.1 L217.4,97.3 L218.6,95.7 L220.1,94.4" fill="none" stroke="#d8d8d8" stroke-width="0.4" opacity="0.85"/>
<path d="M201,110 L202.8,109.2 L204.6,108.3 L206.4,107.4 L208.3,106.8 L210.2,106 L212,105.2 L213.8,104.4 L215.6,103.5 L217.2,102.3 L218.8,101.1" fill="none" stroke="#d8d8d8" stroke-width="0.4" opacity="0.85"/>
<path d="M204.5,84.1 L205.4,82.3 L206.3,80.5 L207,78.6 L207.6,76.7" fill="none" stroke="#d8d8d8" stroke-width="0.4" opacity="0.85"/>
<path d="M207.7,81.7 L209.6,81 L211.5,80.4 L213.5,80" fill="none" stroke="#d8d8d8" stroke-width="0.4" opacity="0.85"/>
<path d="M201,86 L202.7,85 L204.5,84.1 L206.1,82.9 L207.7,81.7 L209.4,80.7 L211.3,79.9" fill="none" stroke="#d8d8d8" stroke-width="0.4" opacity="0.85"/>
<path d="M193.2,73.9 L191.4,73.1 L189.5,72.5 L187.7,71.6" fill="none" stroke="#d8d8d8" stroke-width="0.4" opacity="0.85"/>
<path d="M201,80 L199.2,79.1 L197.5,78 L196,76.8 L194.5,75.4 L193.2,73.9" fill="none" stroke="#d8d8d8" stroke-width="0.4" opacity="0.85"/>
<path d="M199.5,124 L197.5,123.9 L195.5,123.6 L193.6,123.3 L191.6,122.7 L189.7,122.2 L187.9,121.4 L186,120.8 L184,120.3 L182.1,119.8 L180.2,119.2 L178.2,118.9" fill="none" stroke="#d8d8d8" stroke-width="0.4" opacity="0.85"/>
<path d="M209.4,123.4 L211.3,122.6 L213,121.7 L214.8,120.8 L216.6,119.9 L218.4,119 L220.2,118.1 L222,117.3" fill="none" stroke="#d8d8d8" stroke-width="0.4" opacity="0.85"/>
<path d="M199.5,124 L201.5,123.7 L203.4,123.3 L205.4,123.2 L207.4,123.2 L209.4,123.4 L211.4,123.4 L213.4,123.4 L215.4,123.5 L217.4,123.4 L219.4,123.3 L221.4,123.3 L223.4,123.3 L225.4,123.2" fill="none" stroke="#d8d8d8" stroke-width="0.4" opacity="0.85"/>
<path d="M213.1,127.4 L215,126.8 L217,126.4 L218.9,126 L220.9,125.5" fill="none" stroke="#d8d8d8" stroke-width="0.4" opacity="0.85"/>
<path d="M199.5,124 L201.4,124.5 L203.4,125 L205.3,125.4 L207.3,125.8 L209.2,126.3 L211.2,126.8 L213.1,127.4 L215.1,127.7 L217,128.1 L219,128.2 L221,128.5" fill="none" stroke="#d8d8d8" stroke-width="0.4" opacity="0.85"/>
<path d="M192.1,120.9 L190.3,121.6 L188.4,122.3 L186.6,123.2 L184.9,124.2" fill="none" stroke="#d8d8d8" stroke-width="0.4" opacity="0.85"/>
<path d="M199.5,124 L197.8,123 L196,122.2 L194.1,121.5 L192.1,120.9 L190.3,120.3 L188.4,119.6 L186.5,118.9 L184.7,118.1 L182.8,117.4" fill="none" stroke="#d8d8d8" stroke-width="0.4" opacity="0.85"/>
<path d="M199.5,124 L201.4,124.7 L203.2,125.5 L205.1,126.1 L207,126.9 L208.8,127.7 L210.7,128.4 L212.6,128.8 L214.5,129.3 L216.4,130 L218.3,130.6 L220.3,131 L222.3,131.2 L224.3,131.5 L226.2,131.8" fill="none" stroke="#d8d8d8" stroke-width="0.4" opacity="0.85"/>
<path d="M212.3,129.6 L214.1,128.7 L215.8,127.6 L217.4,126.4 L218.9,125 L220.4,123.8 L222,122.5 L223.6,121.4 L225.1,120" fill="none" stroke="#d8d8d8" stroke-width="0.4" opacity="0.85"/>
<path d="M217.9,131.8 L219.9,131.4 L221.8,131.1 L223.8,130.9 L225.8,130.6 L227.8,130.2 L229.7,129.9" fill="none" stroke="#d8d8d8" stroke-width="0.4" opacity="0.85"/>
<path d="M225.4,134.4 L227.3,133.8 L229.1,132.9 L231,132.2 L232.8,131.3 L234.6,130.5 L236.5,129.9 L238.3,129 L240.1,128.1 L241.7,126.9" fill="none" stroke="#d8d8d8" stroke-width="0.4" opacity="0.85"/>
<path d="M227.4,134.8 L228.3,136.6 L229.4,138.3 L230.5,139.9 L231.8,141.5 L232.9,143.1 L234,144.8 L235,146.5 L236.2,148.2 L237.4,149.7 L238.8,151.2" fill="none" stroke="#d8d8d8" stroke-width="0.4" opacity="0.85"/>
<path d="M199.5,124 L201.3,124.9 L203.2,125.6 L205,126.5 L206.8,127.3 L208.7,128 L210.5,128.8 L212.3,129.6 L214.2,130.3 L216.1,131.1 L217.9,131.8 L219.7,132.7 L221.6,133.3 L223.5,133.9 L225.4,134.4 L227.4,134.8 L229.4,135.3" fill="none" stroke="#d8d8d8" stroke-width="0.4" opacity="0.85"/>
<path d="M200.6,129.9 L201.9,131.4 L203.2,132.9 L204.4,134.5 L205.6,136.1 L206.8,137.7 L207.9,139.4 L209.1,141 L210.2,142.6" fill="none" stroke="#d8d8d8" stroke-width="0.4" opacity="0.85"/>
<path d="M202.3,141.8 L203.8,143.1 L205.5,144.2 L207.1,145.4 L208.7,146.5 L210.4,147.7 L212,148.8 L213.6,150 L215.2,151.3" fill="none" stroke="#d8d8d8" stroke-width="0.4" opacity="0.85"/>
<path d="M199.5,124 L200,125.9 L200.2,127.9 L200.6,129.9 L200.9,131.9 L201.1,133.9 L201.4,135.8 L201.7,137.8 L202.1,139.8 L202.3,141.8 L202.4,143.8 L202.4,145.8 L202.6,147.7" fill="none" stroke="#d8d8d8" stroke-width="0.4" opacity="0.85"/>
<path d="M197.7,125 L196.9,126.8 L195.9,128.5 L195,130.3 L194.2,132.1 L193.4,134 L192.6,135.8 L191.6,137.5" fill="none" stroke="#d8d8d8" stroke-width="0.4" opacity="0.85"/>
<path d="M184.5,133.8 L182.6,134.4 L180.8,135.2 L179,136.2 L177.3,137.3 L175.7,138.5 L174.1,139.6 L172.5,140.8" fill="none" stroke="#d8d8d8" stroke-width="0.4" opacity="0.85"/>
<path d="M181.8,136.8 L182.2,138.8 L182.6,140.7 L182.8,142.7 L183.2,144.7 L183.7,146.6 L184.3,148.5 L185,150.4 L185.8,152.2" fill="none" stroke="#d8d8d8" stroke-width="0.4" opacity="0.85"/>
<path d="M199.5,124 L197.7,125 L195.9,125.8 L194.2,126.7 L192.5,127.8 L190.9,129 L189.2,130.1 L187.6,131.3 L186,132.5 L184.5,133.8 L183.2,135.3 L181.8,136.8" fill="none" stroke="#d8d8d8" stroke-width="0.4" opacity="0.85"/>
<path d="M210.3,118.8 L211,117 L211.6,115 L212.3,113.2 L212.9,111.3 L213.4,109.3 L214.1,107.5 L214.5,105.5 L215,103.6" fill="none" stroke="#d8d8d8" stroke-width="0.4" opacity="0.85"/>
<path d="M199.5,124 L201.4,123.4 L203.2,122.6 L205.1,121.8 L206.9,120.9 L208.6,119.9 L210.3,118.8 L211.9,117.7 L213.5,116.5 L215.1,115.3 L216.7,114 L218.3,112.9" fill="none" stroke="#d8d8d8" stroke-width="0.4" opacity="0.85"/>
<path d="M217.3,121.3 L218.6,119.9 L220,118.4 L221.4,117 L222.8,115.5 L224.2,114.1" fill="none" stroke="#d8d8d8" stroke-width="0.4" opacity="0.85"/>
<path d="M199.5,124 L201.5,123.7 L203.5,123.5 L205.4,123.1 L207.3,122.5 L209.3,122.1 L211.3,121.8 L213.3,121.6 L215.3,121.5 L217.3,121.3 L219.3,121.3 L221.3,121.3 L223.2,121.6 L225.2,121.6 L227.2,121.6 L229.2,121.4" fill="none" stroke="#d8d8d8" stroke-width="0.4" opacity="0.85"/>
<path d="M191.7,125.7 L190.5,127.3 L189.3,128.9 L187.9,130.3 L186.4,131.7 L184.9,133 L183.5,134.5 L182.1,135.9 L180.6,137.2 L179.1,138.5 L177.5,139.7 L175.9,140.9" fill="none" stroke="#d8d8d8" stroke-width="0.4" opacity="0.85"/>
<path d="M189.8,126.4 L187.9,126.1 L185.9,125.8 L183.9,125.5 L181.9,125.3 L179.9,125.2 L177.9,124.9 L176,124.4 L174.1,123.9 L172.2,123.1 L170.4,122.4" fill="none" stroke="#d8d8d8" stroke-width="0.4" opacity="0.85"/>
<path d="M199.5,124 L197.5,124.3 L195.5,124.6 L193.6,125.1 L191.7,125.7 L189.8,126.4 L188,127.3 L186.2,128 L184.4,129 L182.7,130.1 L181.2,131.3 L179.6,132.5 L177.9,133.6 L176.3,134.8 L174.7,136 L173.1,137.3" fill="none" stroke="#d8d8d8" stroke-width="0.4" opacity="0.85"/>
<path d="M189.9,121.1 L188.3,119.9 L186.6,118.9 L184.9,117.9 L183.1,116.9" fill="none" stroke="#d8d8d8" stroke-width="0.4" opacity="0.85"/>
<path d="M184.6,118.3 L182.6,118 L180.7,117.6 L178.7,117.2 L176.8,116.8" fill="none" stroke="#d8d8d8" stroke-width="0.4" opacity="0.85"/>
<path d="M199.5,124 L197.6,123.4 L195.7,122.8 L193.7,122.3 L191.8,121.7 L189.9,121.1 L188.1,120.2 L186.3,119.4 L184.6,118.3" fill="none" stroke="#d8d8d8" stroke-width="0.4" opacity="0.85"/>
<path d="M218.2,135.2 L219.5,136.8 L220.6,138.5 L221.8,140.1 L223.1,141.6 L224.5,143 L225.7,144.6 L227,146.2 L228.1,147.8 L229.3,149.4 L230.7,150.8 L232.2,152.2 L233.4,153.7 L234.9,155.1" fill="none" stroke="#d8d8d8" stroke-width="0.4" opacity="0.85"/>
<path d="M230.5,145.3 L232.5,145.5 L234.5,145.7 L236.5,145.8 L238.5,146 L240.5,145.9 L242.5,145.7 L244.5,145.7" fill="none" stroke="#d8d8d8" stroke-width="0.4" opacity="0.85"/>
<path d="M199.5,124 L200.9,125.4 L202.5,126.7 L204.1,127.8 L205.8,128.9 L207.5,130 L209.2,131 L211,131.9 L212.8,132.7 L214.6,133.5 L216.5,134.3 L218.2,135.2 L220,136.1 L221.7,137.3 L223.3,138.5 L224.7,139.8 L226.2,141.2 L227.5,142.7 L229,144.1 L230.5,145.3" fill="none" stroke="#d8d8d8" stroke-width="0.4" opacity="0.85"/>
<path d="M173.7,122.2 L171.8,121.4 L170,120.6 L168.1,120 L166.2,119.2 L164.3,118.7 L162.4,118.2 L160.4,117.8 L158.4,117.6" fill="none" stroke="#d8d8d8" stroke-width="0.4" opacity="0.85"/>
<path d="M199.5,124 L197.5,123.9 L195.5,124 L193.5,124 L191.5,123.8 L189.5,123.6 L187.6,123.3 L185.6,123 L183.6,122.6 L181.6,122.3 L179.7,122.1 L177.7,122.1 L175.7,122.2 L173.7,122.2 L171.7,122.2 L169.7,122" fill="none" stroke="#d8d8d8" stroke-width="0.4" opacity="0.85"/>
<path d="M197.7,124.9 L195.8,124.2 L193.9,123.6 L192,123 L190.1,122.4 L188.2,121.8" fill="none" stroke="#d8d8d8" stroke-width="0.4" opacity="0.85"/>
<path d="M192.1,127 L190.6,128.3 L189,129.5 L187.4,130.7 L185.8,131.9 L184.1,133 L182.3,133.8 L180.6,134.8" fill="none" stroke="#d8d8d8" stroke-width="0.4" opacity="0.85"/>
<path d="M190.3,127.8 L188.3,127.9 L186.3,128.1 L184.3,128.3 L182.3,128.5 L180.3,128.6 L178.3,128.7 L176.3,128.7" fill="none" stroke="#d8d8d8" stroke-width="0.4" opacity="0.85"/>
<path d="M185.5,131.4 L183.5,131.9 L181.5,132.1 L179.5,132.3 L177.6,132.7 L175.6,133" fill="none" stroke="#d8d8d8" stroke-width="0.4" opacity="0.85"/>
<path d="M179.2,136.4 L178.4,138.3 L177.7,140.1 L177,142 L176.2,143.8 L175.4,145.7 L174.8,147.6 L174.2,149.5" fill="none" stroke="#d8d8d8" stroke-width="0.4" opacity="0.85"/>
<path d="M199.5,124 L197.7,124.9 L195.8,125.6 L194,126.3 L192.1,127 L190.3,127.8 L188.6,128.9 L187,130.1 L185.5,131.4 L183.9,132.7 L182.4,134 L180.8,135.2 L179.2,136.4 L177.6,137.6" fill="none" stroke="#d8d8d8" stroke-width="0.4" opacity="0.85"/>
<path d="M192.4,127.6 L190.4,127.8 L188.4,128 L186.4,128.1 L184.4,128.2 L182.4,128.1 L180.4,128.2 L178.4,128.4 L176.5,128.9 L174.5,129.2 L172.5,129.5 L170.6,130.1" fill="none" stroke="#d8d8d8" stroke-width="0.4" opacity="0.85"/>
<path d="M182.7,137.7 L182.3,139.6 L181.9,141.6 L181.5,143.5 L180.8,145.4 L180,147.3 L179.1,149 L178.4,150.9 L177.6,152.7 L177,154.6 L176.3,156.5 L175.8,158.4" fill="none" stroke="#d8d8d8" stroke-width="0.4" opacity="0.85"/>
<path d="M199.5,124 L197.7,124.9 L195.9,125.7 L194.1,126.6 L192.4,127.6 L190.8,128.9 L189.2,130.1 L187.8,131.4 L186.4,133 L185.1,134.4 L183.8,136 L182.7,137.7 L181.5,139.2 L180.2,140.7 L178.9,142.3 L177.5,143.7 L176.1,145.1 L174.7,146.6 L173.3,148" fill="none" stroke="#d8d8d8" stroke-width="0.4" opacity="0.85"/>
<path d="M195.5,124.5 L193.6,123.9 L191.8,123 L190,122.2 L188.2,121.3 L186.4,120.4" fill="none" stroke="#d8d8d8" stroke-width="0.4" opacity="0.85"/>
<path d="M199.5,124 L197.5,124.2 L195.5,124.5 L193.5,124.7 L191.6,124.9 L189.6,125.3 L187.6,125.4 L185.6,125.6 L183.6,125.5 L181.6,125.2 L179.6,125.2" fill="none" stroke="#d8d8d8" stroke-width="0.4" opacity="0.85"/>
<path d="M205,126.4 L207,126.4 L209,126.3 L211,126.1 L212.9,125.6 L214.8,125 L216.6,124.1" fill="none" stroke="#d8d8d8" stroke-width="0.4" opacity="0.85"/>
<path d="M221.9,132.3 L223.3,133.8 L224.5,135.4 L225.7,137 L227.1,138.4 L228.4,139.9 L229.6,141.6" fill="none" stroke="#d8d8d8" stroke-width="0.4" opacity="0.85"/>
<path d="M199.5,124 L201.3,124.9 L203.1,125.7 L205,126.4 L206.8,127.2 L208.7,127.9 L210.6,128.5 L212.4,129.3 L214.3,130.1 L216.1,130.9 L218,131.5 L220,131.9 L221.9,132.3" fill="none" stroke="#d8d8d8" stroke-width="0.4" opacity="0.85"/>
<path d="M197.5,123.6 L195.8,122.7 L194,121.7 L192.4,120.6 L190.7,119.5 L189.1,118.3 L187.4,117.2 L185.8,116.1 L184.1,115 L182.4,114 L180.7,112.8 L179.1,111.6 L177.4,110.6 L175.7,109.6" fill="none" stroke="#d8d8d8" stroke-width="0.4" opacity="0.85"/>
<path d="M199.5,124 L197.5,123.6 L195.6,123.2 L193.6,122.9 L191.6,122.8 L189.6,122.9 L187.6,123 L185.6,123.2 L183.7,123.6 L181.7,124.1 L179.9,124.8 L178.1,125.7 L176.3,126.6 L174.5,127.5 L172.7,128.3 L170.8,129.1 L168.9,129.7 L167.1,130.4 L165.1,130.9" fill="none" stroke="#d8d8d8" stroke-width="0.4" opacity="0.85"/>
<path d="M199.5,124 L201.5,124.1 L203.5,124.3 L205.5,124.5 L207.5,124.8 L209.4,125 L211.4,125.4 L213.4,125.5 L215.4,125.7 L217.4,125.8 L219.4,125.9 L221.4,125.8 L223.4,125.8 L225.4,125.6" fill="none" stroke="#d8d8d8" stroke-width="0.4" opacity="0.85"/>
<path d="M184.1,128.2 L182.2,127.5 L180.3,126.8 L178.4,126.3 L176.5,125.9 L174.5,125.6" fill="none" stroke="#d8d8d8" stroke-width="0.4" opacity="0.85"/>
<path d="M199.5,124 L197.5,124.3 L195.6,124.9 L193.7,125.4 L191.7,125.9 L189.8,126.6 L188,127.2 L186,127.8 L184.1,128.2 L182.1,128.5 L180.1,128.8 L178.2,129.3 L176.2,129.7 L174.3,130.1 L172.3,130.5 L170.3,130.7" fill="none" stroke="#d8d8d8" stroke-width="0.4" opacity="0.85"/>
<path d="M205.4,124.8 L207.3,124.1 L209.1,123.2 L211,122.6 L213,122.1 L214.9,121.7 L216.9,121.2 L218.8,120.7 L220.7,120.1 L222.6,119.5 L224.4,118.7" fill="none" stroke="#d8d8d8" stroke-width="0.4" opacity="0.85"/>
<path d="M199.5,124 L201.5,124.2 L203.5,124.5 L205.4,124.8 L207.4,125.1 L209.4,125.4 L211.3,125.9 L213.2,126.5 L215.1,127.3 L216.9,128.1 L218.7,129.1 L220.4,130 L222.2,130.9 L223.9,131.9 L225.8,132.7 L227.5,133.7 L229.3,134.5" fill="none" stroke="#d8d8d8" stroke-width="0.4" opacity="0.85"/>
<circle cx="199.5" cy="124" r="2" fill="#fff" />
<path d="M227,58 L229,52 L230,46" fill="none" stroke="#ddd" stroke-width="0.6" />
<path d="M150,33 L156,36" fill="none" stroke="#ddd" stroke-width="0.8" />
<path d="M233,82 L237,80" fill="none" stroke="#ccc" stroke-width="0.5" />
<circle cx="198" cy="69" r="0.7" fill="#c87a30" />
<rect x="189.5" y="116" width="19.5" height="19" fill="none" stroke="#e02020" stroke-width="0.6" stroke-dasharray="1.2,1"/>
<line x1="123.5" y1="102" x2="144.6" y2="12.3" stroke="#e02020" stroke-width="0.6" stroke-dasharray="1.3,1.1"/>
<line x1="123.5" y1="122" x2="144.6" y2="155" stroke="#e02020" stroke-width="0.6" stroke-dasharray="1.3,1.1"/>
<line x1="209" y1="116" x2="257.5" y2="93" stroke="#e02020" stroke-width="0.6" stroke-dasharray="1.3,1.1"/>
<line x1="209" y1="135" x2="257.5" y2="155.5" stroke="#e02020" stroke-width="0.6" stroke-dasharray="1.3,1.1"/>
<rect x="257.5" y="93" width="62.5" height="62.5" fill="#0a0a0a" />
<clipPath id="cSoma"><rect x="257.5" y="93" width="62.5" height="62.5"/></clipPath><g clip-path="url(#cSoma)">
<path d="M286,127 C278,122 268,118 258,116 M286,129 C276,128 266,128 257,129 M288,131 C280,138 270,146 262,154 M290,134 C286,142 282,148 277,156 M292,135 C292,142 290,150 289,156 M296,132 C304,131 312,129 320,127 M296,134 C304,136 312,136 320,135 M295,122 C303,116 311,111 320,107 M291,110 C284,108 278,107 271,107.6 M294,108 C300,105 306,103 312,100 M293,102 C297,98 302,96 306,94 M295,137 C300,144 305,150 309,156 M286,124 C280,116 272,110 262,104 M288,133 C280,140 272,144 258,146 M297,126 C306,120 314,118 320,118" fill="none" stroke="#9a9a9a" stroke-width="0.8" />
<path d="M292.5,93 C293.5,100 293,106 292,112 C295,118 299,124 298.5,131 C297,136 292,138 288,137 C284,135 283,129 284,123 C286,118 289,113 289.5,108 C289.5,102 290.5,97 290.5,93 Z" fill="#d0d0d0" />
<radialGradient id="gSoma"><stop offset="0" stop-color="#ffffff"/><stop offset="0.6" stop-color="#f4f4f4"/><stop offset="1" stop-color="#ddd" stop-opacity="0"/></radialGradient>
<ellipse cx="290.5" cy="128" rx="7" ry="8.5" fill="url(#gSoma)"/>
</g>
<text x="299.8" y="145.2" font-size="6.91" fill="#fff" textLength="19.2" lengthAdjust="spacingAndGlyphs">10 μm</text>
<rect x="305.8" y="147.2" width="13.2" height="2.2" fill="#fff" />
<line x1="392" y1="93" x2="432.3" y2="118.2" stroke="#e02020" stroke-width="0.6" stroke-dasharray="1.3,1.1"/>
<line x1="392" y1="155.5" x2="432.3" y2="133.6" stroke="#e02020" stroke-width="0.6" stroke-dasharray="1.3,1.1"/>
<rect x="432.3" y="118.2" width="15.4" height="15.4" fill="none" stroke="#e02020" stroke-width="0.6" stroke-dasharray="1.3,1.1"/>
<linearGradient id="gLB" x1="0" y1="0" x2="0" y2="1"><stop offset="0" stop-color="#f4f4f4"/><stop offset="1" stop-color="#e0e0e0"/></linearGradient>
<path d="M344,32 C350,30 358,30 362,31.5 C365,33 366.5,36 366.5,40 L366.5,70 C364,72.5 356,73.5 348.5,73.2 C345,72 343,66 343,58 C343,48 342,38 344,32 Z" fill="url(#gLB)" stroke="#c4c4c4" stroke-width="0.5" />
<ellipse cx="353.8" cy="59" rx="4.5" ry="5.5" fill="none" stroke="#cacaca" stroke-width="0.5"/>
<path d="M349,36 C355,37 360,40 362,46 C363,52 362,60 360,66" fill="none" stroke="#d0d0d0" stroke-width="0.5" />
<path d="M297,41 C292,40 285,42 283.5,48 C282.5,55 283.5,63 287,67 C291,71 297,70 300,66 Z" fill="url(#gLB)" stroke="#c4c4c4" stroke-width="0.5" />
<path d="M295.6,36 C302,31 308,29 313.3,28.2 C320,26.5 326,26 331,26.5 C338,27 344,28.5 347,31 C350,36 350,44 348.5,52 C347,60 344,66 340,71.4 C330,72.5 318,71 310,69 C303,67 298,64 296,60 C293,54 292,44 295.6,36 Z" fill="url(#gLB)" stroke="#bdbdbd" stroke-width="0.5" />
<path d="M296,52 C305,58 320,66 340,71" fill="none" stroke="#d4d4d4" stroke-width="0.4" />
<path d="M306,33 C312,31 320,31 330,32 M313.5,31.5 C314,36 315,40 316,44 M310,46 C314,44 318,44 320,47 C324,50 322,54 319,52 M318,50 C322,54 326,52 328,48 C330,44 333,42 336,40 M336,40 C334,46 330,52 332,58 C334,62 338,60 339,54 M326,50 C328,56 330,60 334,64 M322,44 C326,46 330,48 332,52 M316,44 L312,50 M333,58 C330,62 326,62 324,58 M340,64 C342,66 343,69 344,70 M298,36 C300,34 304,33 306,33 M330,32 L336,34 M324,31 C326,28 328,28 330,29" fill="none" stroke="#3040e0" stroke-width="0.3" />
<circle cx="313.3" cy="31" r="1" fill="#a020a0" />
<circle cx="314" cy="34.4" r="0.9" fill="#a020a0" />
<line x1="282.4" y1="19.4" x2="289.5" y2="19.4" stroke="#f07070" stroke-width="1" />
<line x1="282.4" y1="26.5" x2="289.5" y2="26.5" stroke="#4050f0" stroke-width="1" />
<text x="293.5" y="22" font-size="7.20" textLength="27.2" lengthAdjust="spacingAndGlyphs">Dendrite</text>
<text x="293.5" y="28.8" font-size="6.98" textLength="15.9" lengthAdjust="spacingAndGlyphs">Axon</text>
<clipPath id="cRec2"><rect x="329" y="90" width="63.5" height="65.7"/></clipPath><g clip-path="url(#cRec2)">
<path d="M364.8,127.5 Q349.3,128.4 329.2,124.4 M361,128.6 Q374.6,125.7 386.9,129.7 M361.3,133 Q369.8,144.9 374.4,150.8 M365,126.8 Q381.8,121.7 391.3,118.7 M368.4,129.2 Q357.5,126 345.8,125.3 M367.9,127.6 Q380.4,123.4 388.3,123.8 M367.1,130.1 Q356,138.7 341.2,153.3 M368.4,132.2 Q379.4,134.5 391.9,139 M364.1,126.2 Q383.2,127 408.9,124.3 M365.4,131.2 Q363.6,145 366.3,157.1 M362.4,128.4 Q377.9,128.8 386.6,131.6 M361.5,131.7 Q374.9,129.6 383.9,129.5 M368.7,128.8 Q366,148.7 355.6,161.2 M364,127.7 Q381.9,130 393.8,137.7 M364.9,131.9 Q342,126.8 326.3,125.5 M361.6,128.4 Q352.7,133.3 337.4,130.4 M368.7,129.7 Q371.3,136.4 370.3,150.7 M368.1,130.2 Q348,127.2 329.2,123 M363.2,131.4 Q365.6,145.2 375.8,156.1 M366.2,132 Q380.8,138.4 394,148.7 M362.1,126.7 Q377.9,130.5 400.2,141.9 M366.2,126.9 Q386.6,121 406.4,117.9 M362.5,128.6 Q376,127.1 386.1,124.8 M367.2,131.5 Q342.5,129.1 325.7,127.3 M366.7,127.8 Q356.2,124.6 342.7,124.5 M368.2,128.1 Q354.5,129.9 340.7,131 M365.1,131.1 Q381.2,139.5 389.8,151 M361.5,131.7 Q364.8,144.1 360.6,158.9 M361.6,126.5 Q353.5,125.5 340.3,120.2 M366.2,129.1 Q376.4,129.5 386.4,131.7 M364.5,127.7 Q376.5,128.6 385.3,124.4 M364.1,129.4 Q366.5,143.4 366.8,150 M366.7,132.2 Q352.9,134 334.5,133.7 M366.6,130.8 Q358.5,150 354.4,162.5" fill="none" stroke="#e87a00" stroke-width="1.7" />
<path d="M364.8,127.5 Q349.3,128.4 329.2,124.4 M361,128.6 Q374.6,125.7 386.9,129.7 M361.3,133 Q369.8,144.9 374.4,150.8 M365,126.8 Q381.8,121.7 391.3,118.7 M368.4,129.2 Q357.5,126 345.8,125.3 M367.9,127.6 Q380.4,123.4 388.3,123.8 M367.1,130.1 Q356,138.7 341.2,153.3 M368.4,132.2 Q379.4,134.5 391.9,139 M364.1,126.2 Q383.2,127 408.9,124.3 M365.4,131.2 Q363.6,145 366.3,157.1 M362.4,128.4 Q377.9,128.8 386.6,131.6 M361.5,131.7 Q374.9,129.6 383.9,129.5 M368.7,128.8 Q366,148.7 355.6,161.2 M364,127.7 Q381.9,130 393.8,137.7 M364.9,131.9 Q342,126.8 326.3,125.5 M361.6,128.4 Q352.7,133.3 337.4,130.4 M368.7,129.7 Q371.3,136.4 370.3,150.7 M368.1,130.2 Q348,127.2 329.2,123 M363.2,131.4 Q365.6,145.2 375.8,156.1 M366.2,132 Q380.8,138.4 394,148.7 M362.1,126.7 Q377.9,130.5 400.2,141.9 M366.2,126.9 Q386.6,121 406.4,117.9 M362.5,128.6 Q376,127.1 386.1,124.8 M367.2,131.5 Q342.5,129.1 325.7,127.3 M366.7,127.8 Q356.2,124.6 342.7,124.5 M368.2,128.1 Q354.5,129.9 340.7,131 M365.1,131.1 Q381.2,139.5 389.8,151 M361.5,131.7 Q364.8,144.1 360.6,158.9 M361.6,126.5 Q353.5,125.5 340.3,120.2 M366.2,129.1 Q376.4,129.5 386.4,131.7 M364.5,127.7 Q376.5,128.6 385.3,124.4 M364.1,129.4 Q366.5,143.4 366.8,150 M366.7,132.2 Q352.9,134 334.5,133.7 M366.6,130.8 Q358.5,150 354.4,162.5" fill="none" stroke="#ffab3a" stroke-width="0.8" />
<path d="M336,116.6 C343,115 352,113.5 359,112.5 M366,107 C375,106.5 384,107 392,108.4 M386,108 L392,112 M364,98 L368.6,96.8" fill="none" stroke="#22dd11" stroke-width="1.9" />
<path d="M363.2,95.5 L361.2,116 M365.6,95.5 L363.6,116" fill="none" stroke="#1a22ee" stroke-width="1.1" />
<path d="M361.8,116 C359,120 358,125 358.4,128 C358.5,131 359,133 361,134 C364,135.5 368,135.5 371,134 C373,132 372,130 369,127 C366,123 365,119 364.5,116 Z" fill="#30d0e0" stroke="#16808c" stroke-width="0.5" />
<path d="M356,125.5 C360,124.5 366,124.5 372,125.5" fill="none" stroke="#f08a10" stroke-width="1.3" />
</g>
<path d="M441.5,81 C440,70 434,60 432,50 C430,43 429,38 428,30 M441.5,81 C443,70 446,58 446,50 C446,43 447,37 446,29 M441.5,81 C441,70 438,62 437,52 C436,45 437,38 437,30 M432,50 C425,44 415,38 400,33 C394,31 389,29 385,28 M430,44 C420,40 410,34 396,29 M428,38 C422,34 416,31 410,28 M436,60 C430,52 424,44 418,38 C414,34 410,31 405,29 M446,45 C452,40 460,36 470,32 C478,30 485,29 491,29 M446,40 C452,35 458,32 466,29 M447,36 C450,33 455,30 460,28 M444,60 C450,52 456,46 462,42 C466,38 470,35 476,31 M386,27.5 C400,28 420,27.5 440,27 C455,27 470,27.5 480,28 M392,29 C410,30 425,29.5 440,28.5 M430,28 C440,30 450,30 462,28.5 M435,55 L438,45 L437,35 M449,42 L455,30 M420,36 L425,29 M400,33 C404,30 408,29 412,28 M455,38 C462,34 470,32 478,31 M424,44 C420,38 418,33 417,28 M452,47 C458,42 464,38 470,36" fill="none" stroke="#f01c1c" stroke-width="0.5" />
<path d="M439.7,104 L438.3,105.2 L437.1,106.5 L435.8,107.7 L434.4,108.8 L432.8,109.7 L431.1,110.3 M441.3,103.2 L439.7,104 L438.2,105 L436.9,106.2 L435.5,107.4 L434.4,108.8 L432.9,109.8 L431.6,111 L430.6,112.5 L430,114.2 L429.1,115.8 M441.3,87.8 L443.1,88 L444.8,88.5 L446.5,89 L448.1,89.9 L449.7,90.8 L451.1,91.8 M432.3,112 L430.9,113.2 L430,114.7 L428.9,116.1 L428.3,117.8 M425.4,113.9 L423.6,113.8 L421.9,113.2 L420.5,112 L418.9,111.4 L417.2,110.7 L415.8,109.6 M441.3,111.9 L439.5,111.8 L437.7,111.7 L435.9,111.8 L434.1,111.8 L432.3,112 L430.6,112.6 L428.8,112.8 L427.1,113.2 L425.4,113.9 L423.6,114.1 L421.8,113.9 M441.3,99.9 L443.1,99.8 L444.8,100.3 L446.6,100.5 L448.4,100.3 L450.2,100.6 L452,100.7 L453.8,100.5 L455.5,99.8 M443.1,107.2 L444.1,108.7 L445.1,110.1 L446.5,111.3 L447.4,112.8 L448.5,114.3 L450,115.3 M446.6,107.9 L447.6,109.4 L448.7,110.8 L449.3,112.5 L449.7,114.3 L449.8,116.1 L449.9,117.9 M450.2,107.8 L451.8,108.6 L453.6,109 L455.3,109.4 L457.1,109.3 L458.8,108.7 L460.5,108.1 L462,107.1 M441.3,107.1 L443.1,107.2 L444.8,107.8 L446.6,107.9 L448.4,107.7 L450.2,107.8 L451.9,108.4 L453.7,108.7 L455.5,108.6 L457.1,108 L458.9,107.9 L460.7,107.9 M441.3,87.4 L439.8,88.4 L438,88.9 L436.5,89.8 M466.2,127.9 L468,128.2 L469.8,128.1 L471.6,128.1 L473.3,127.5 L475.1,127.2 L476.7,126.5 L478.5,126.1 L480.3,125.9 L482.1,125.8 L483.8,126.3 L485.6,126.6 M473.3,127.6 L475,128.1 L476.5,129.1 L478.2,129.7 L479.9,130.1 L481.7,130.1 L483.5,129.7 L485.3,129.9 L487.1,130.1 L488.9,130.2 L490.6,130.8 L492.4,130.8 L494.1,130.3 M441.3,125.6 L443,126 L444.8,126.1 L446.6,126.6 L448.4,126.7 L450.2,126.8 L452,126.8 L453.7,127 L455.5,127.3 L457.3,127.4 L459.1,127.3 L460.9,127.7 L462.6,128.2 L464.4,128.1 L466.2,127.9 L468,128.3 L469.8,128.2 L471.5,127.7 L473.3,127.6 M446,120.8 L447.8,120.9 L449.6,120.4 L451.4,120.4 L453.2,120.6 L455,120.4 L456.8,120.3 L458.6,120.3 L460.4,120.4 L462.1,119.9 L463.8,119.5 L465.6,119.4 L467.4,119.3 M452.1,124.5 L453,126.1 L454,127.6 L455,129.1 L456,130.6 L457,132.1 L458.2,133.4 L459.4,134.7 L460.5,136.2 L461.6,137.6 L463,138.7 L464.5,139.7 L466.2,140.3 M469.3,133.5 L470.6,132.2 L472.2,131.4 L473.9,130.8 L475.5,130 L477,129 L478.1,127.5 L478.6,125.8 L479.8,124.4 L480.9,123 L482.3,121.9 M441.3,118.3 L442.8,119.3 L444.4,120 L446,120.8 L447.3,122.1 L448.9,122.9 L450.4,123.9 L452.1,124.5 L453.6,125.4 L455.3,126.1 L456.7,127.3 L458.1,128.4 L459.7,129.2 L461.1,130.4 L462.5,131.5 L464.1,132.3 L465.8,132.8 L467.5,133.3 L469.3,133.5 M431.8,91.7 L430,91.7 L428.2,91.7 L426.4,91.4 L424.6,91.1 M441.3,96.1 L439.5,95.9 L437.7,95.7 L436.1,94.9 L434.7,93.8 L433.3,92.7 L431.8,91.7 M448.3,125.8 L450.1,126 L451.8,125.6 L453.6,125.6 L455.4,125.6 L457.2,125.4 L458.9,124.8 L460.3,123.7 M441.3,127.6 L443.1,127.2 L444.8,126.8 L446.5,126.3 L448.3,125.8 L450.1,125.8 L451.8,126.2 L453.6,126.6 L455.4,126.4 L457.1,125.8 L458.8,125.3 L460.5,124.7 L462.1,123.9 M426.1,105.6 L424.3,106 L422.7,106.8 L421.1,107.5 L419.4,108.3 M441.3,102.3 L439.5,102.3 L437.8,102.8 L436,103.2 L434.5,104.1 L433,105.2 L431.3,105.8 L429.6,106.3 L427.8,106.2 L426.1,105.6 M437.8,125 L436.2,125.9 L434.5,126.5 L432.7,126.8 L431,127.3 L429.5,128.2 L427.8,128.9 L426,129.1 L424.2,129.1 M436,125.1 L434.7,126.3 L433.2,127.4 L431.8,128.5 L430.1,129.2 L428.6,130.2 L427,130.9 L425.5,132 L424,133 L422.6,134.1 M432.6,126.3 L431.6,127.8 L430.4,129.1 L428.8,129.8 L427.2,130.7 L425.5,131.3 L423.7,131.6 L421.9,131.4 M425.6,127.5 L423.9,128 L422.1,128 L420.3,127.9 L418.5,127.6 L416.8,126.9 L415.4,125.8 L414.5,124.3 L413.2,123.1 L411.7,122 M418.9,129.9 L417.2,130.6 L415.5,131.3 L414.2,132.5 L413.3,134.1 L412.6,135.7 L412.2,137.5 M441.3,124.4 L439.6,125 L437.8,125 L436,125.1 L434.2,125.4 L432.6,126.3 L431,126.9 L429.2,127.2 L427.4,127.2 L425.6,127.5 L423.9,128 L422.3,128.8 L420.6,129.5 L418.9,129.9 L417.3,130.9 M446.6,89 L447.5,90.6 L447.9,92.3 M449.7,90.7 L451.4,90 L453,89.3 L454.8,89 M441.3,88.4 L443.1,88.3 L444.9,88.5 L446.6,89 L448.3,89.7 L449.7,90.7 M441.3,103.9 L443.1,103.8 L444.8,104.3 L446.6,104.7 L448.4,104.5 L450.2,104.3 L451.9,104.6 L453.7,104.7 L455.5,105.1 L457.2,105.7 L458.7,106.7 L460.4,107.3 L462.2,107.4 L464,107.6 M448.6,120.5 L450.4,120.7 L452.2,120.7 L453.9,121.2 L455.7,121.5 L457.5,121.3 L459.2,121 L460.8,120.1 L462.6,119.8 L464.2,119 M441.3,115.3 L442.9,116.2 L444.5,117.1 L446,118 L447.3,119.2 L448.6,120.5 L449.7,121.9 L450.6,123.4 L451.2,125.2 L452,126.7 L453.1,128.2 L454.2,129.6 L454.9,131.3 L455.8,132.9 L457,134.2 L457.9,135.7 L458.9,137.3 L459.6,138.9 L460.7,140.3 L461.8,141.8 L462.6,143.4 M434.4,124.8 L433,123.7 L431.3,123.1 L429.6,122.6 L428,121.8 L426.5,120.7 L425,119.8 L423.5,118.7 L422.1,117.7 M430.8,124.7 L429.3,123.8 L427.6,123.2 L426.2,122 L425,120.7 L423.9,119.3 M441.3,124.2 L439.7,125.1 L437.9,125.4 L436.1,125.4 L434.4,124.8 L432.6,124.6 L430.8,124.7 L429.2,125.4 L427.5,126 L425.8,126.7 L424.4,127.8 L422.9,128.7 M424.6,107.4 L422.9,108.1 L421.4,109.1 L420,110.2 L418.8,111.5 L417.8,113.1 L416.6,114.4 L415,115.2 L413.8,116.6 L412.5,117.8 L411,118.7 L409.7,120 L408.2,121 M441.3,113.6 L439.5,113.3 L437.8,112.7 L436.1,112.1 L434.7,111 L433.1,110.1 L431.4,109.6 L429.7,108.9 L428.1,108.3 L426.3,108 L424.6,107.4 L422.8,107.1 L421.1,106.7 L419.3,106.4 L417.5,106.5 L415.7,106.8 L413.9,106.8 M436.5,117.5 L434.7,117.4 L432.9,117.3 L431.2,117 L429.4,116.7 L427.7,116.1 M435.3,118.7 L434.4,120.3 L433.3,121.7 L432,123 L430.6,124.1 L429.3,125.4 L427.9,126.6 L426.4,127.5 L425,128.6 L424,130.1 M425.4,122.8 L423.9,121.8 L422.4,120.9 L420.7,120.3 L418.9,120.3 L417.1,120 L415.5,119.2 M423.7,123.3 L422.7,124.8 L421.5,126.2 L420.3,127.5 L418.9,128.7 L417.4,129.6 L416.2,131 M441.3,115.1 L439.5,115.5 L438,116.5 L436.5,117.5 L435.3,118.7 L433.7,119.6 L431.9,119.9 L430.3,120.7 L428.8,121.8 L427.2,122.5 L425.4,122.8 L423.7,123.3 L422,124.1" fill="none" stroke="#30d020" stroke-width="0.5" />
<path d="M441.3,127.5 L439.5,127.7 L437.7,127.7 L435.9,128 L434.2,128.2 L432.4,128.1 L430.6,127.9 L428.9,127.4 L427.1,127.3 L425.3,127.2 M441.3,127.5 L443.1,127.4 L444.9,127.3 L446.7,127.5 L448.4,127.8 L450.2,128.2 L451.9,128.7 L453.7,128.9 M441.3,127.5 L441.3,129 L441.6,130.5 L441.6,132.1 L441.4,133.6 L440.9,135.1 L440,136.4 L439,137.7 L438.4,139.1 L437.7,140.5 L437.2,142 L436.4,143.4 L436,144.9 L435.8,146.4 L435.3,147.9 L435.1,149.4 M441.3,127.5 L439.5,127.5 L437.7,127.4 L435.9,127.6 L434.2,127.9 L432.4,127.9 L430.6,128.3 L428.9,128.8 L427.4,129.6 L425.7,130.1 M441.3,127.5 L439.6,128 L437.8,128.3 L436,128.4 L434.2,128.3 L432.4,128.4 L430.6,128.5 L428.9,128.7 M438.8,142.6 L437.6,143.7 L436.2,144.7 L434.9,145.8 L433.5,146.7 L431.9,147.4 L430.3,148.2 L428.7,148.8 M441.3,127.5 L441.1,129 L441,130.5 L440.7,132.1 L440.4,133.6 L440.3,135.1 L440.2,136.6 L440.1,138.1 L439.6,139.6 L439.1,141.1 L438.8,142.6 L438.4,144.1 L437.9,145.5 M439.7,128.2 L438.6,129.4 L437.5,130.6 L436.4,131.8 L435.2,132.9 L434.1,134.2 M418.9,132.3 L417.4,133.1 L416,134 L414.8,135.2 L413.4,136.1 L411.8,136.9 L410.2,137.5 L408.6,138.2 L407.1,139.1 L405.4,139.6 L403.9,140.5 M441.3,127.5 L439.7,128.2 L438,128.8 L436.3,129.2 L434.5,129.3 L432.8,129.7 L431.1,130.3 L429.5,130.9 L427.8,131.4 L426,131.8 L424.3,132.1 L422.5,132.1 L420.7,132.1 L418.9,132.3 L417.1,132.2 M444.8,128.1 L446.1,129.2 L447.5,130.2 L449.1,130.9 L450.5,131.8 L451.7,132.9 L453.2,133.8 L454.7,134.7 L456.3,135.4 L458,135.9 M441.3,127.5 L443,127.9 L444.8,128.1 L446.6,128.2 L448.4,128.2 L450.2,128.1 L452,128 L453.8,127.7 L455.6,127.5 L457.3,127.2 L459,126.6 L460.6,125.9 L462.2,125.3 L463.9,124.7 L465.6,124.3 M441.3,127.5 L439.5,127.4 L437.7,127.1 L436,126.8 L434.2,126.4 L432.5,126 L430.8,125.4 L429.3,124.7 L427.7,123.9 L426.1,123.3 L424.4,122.7 L422.7,122.1 L421,121.7 M442.6,128.5 L444.3,129 L446.1,129.4 L447.8,129.8 L449.5,130.5 M441.3,127.5 L442.6,128.5 L443.9,129.6 L445.3,130.5 L446.6,131.6 L448,132.6 L449.4,133.5 L450.7,134.6 L452.2,135.4 L453.7,136.3 L455.4,136.8 L457,137.6 M441.3,127.5 L439.6,127.9 L437.8,128.4 L436.1,128.7 L434.3,128.7 L432.5,128.9 L430.7,128.8 L428.9,129 L427.1,129.1 L425.3,128.8 L423.6,128.4 L421.9,127.9 M441.3,127.5 L439.5,127.6 L437.7,127.5 L435.9,127.4 L434.1,127.2 L432.4,127 L430.6,127 M441.3,127.5 L439.5,127.8 L437.9,128.4 L436.4,129.2 L434.9,130.1 L433.3,130.8 L431.8,131.6 L430.1,132.2 L428.5,132.8 L427,133.7 L425.5,134.6 L423.9,135.3 L422.5,136.2 L421.3,137.4 M441.3,127.5 L442.9,128.3 L444.4,129.1 L445.7,130.1 L447,131.2 L448.1,132.4 L449.3,133.5 L450.3,134.8 L451.1,136.2 L451.7,137.6 L452.4,139 L452.8,140.5 L453,142 L453.3,143.5 M445,139.2 L446.4,140.2 L447.7,141.2 L448.9,142.3 L450.3,143.3 M441.3,127.5 L441.8,129 L442.3,130.4 L443.2,131.8 L443.9,133.2 L444.4,134.6 L444.8,136.1 L444.7,137.7 L445,139.2 L445.3,140.7 L445.4,142.2 L445.8,143.7 L446.1,145.2 M441.3,127.5 L442.2,128.8 L443.2,130.1 L444.1,131.4 L445.3,132.5 L446.6,133.6 L448,134.6 L449.5,135.4 L451.1,136.1 M453.3,124.7 L454.1,123.3 L454.8,121.9 L455.1,120.4 L455.7,118.9 L456.5,117.5 L457.5,116.3 L458.6,115.1 M441.3,127.5 L443.1,127.2 L444.9,127.1 L446.6,126.9 L448.4,126.4 L450.1,126 L451.7,125.3 L453.3,124.7 L454.9,123.9 L456.2,122.8 L457.6,121.9 L458.9,120.8 M443.5,133.3 L442.9,134.8 L442.6,136.3 L442,137.7 L441.4,139.2 L441.2,140.7 M441.3,127.5 L441.8,129 L442.5,130.4 L442.8,131.9 L443.5,133.3 L443.9,134.8 L444.2,136.3 L444.9,137.7 L445.2,139.2 M441.3,127.5 L443.1,127.7 L444.9,127.8 L446.6,128.2 L448.4,128.3 L450.2,128.5 L452,128.5 M446.5,128.6 L448.2,128.1 L449.9,127.6 L451.5,126.9 L453.1,126.1 L454.7,125.5 L456.4,125 M441.3,127.5 L443.1,127.6 L444.8,128 L446.5,128.6 L448.3,128.9 L450,129.2 L451.7,129.8 L453.5,130.1 L455.1,130.7 L456.8,131.2 M441.3,127.5 L440,128.6 L438.8,129.7 L437.3,130.6 L436,131.6 L435,132.9 L433.8,134 L432.5,135 M442,139.6 L441.7,141.1 L441.7,142.7 L442,144.2 M441.3,127.5 L441.1,129 L440.9,130.5 L440.8,132.1 L440.9,133.6 L440.9,135.1 L441.2,136.6 L441.4,138.1 L442,139.6 M441.3,127.5 L443.1,127.8 L444.8,128 L446.6,128.1 L448.4,127.8 L450.2,127.7 L452,127.7 L453.8,127.5 L455.5,127.1 M442.7,128.5 L443.8,129.6 L444.9,130.9 L446.1,132 L447.3,133.2 L448.4,134.3 L449.5,135.6 M444.1,129.4 L445.7,130.1 L447,131.2 L448.6,132 L450.1,132.7 L451.6,133.6 L453.3,134.2 L454.7,135.2 M454.5,141.7 L456.1,142.4 L457.7,143 L459.2,143.9 L460.8,144.6 L462.4,145.3 L463.9,146.1 M441.3,127.5 L442.7,128.5 L444.1,129.4 L445.6,130.3 L446.9,131.3 L448.1,132.5 L448.9,133.8 L449.9,135.1 L450.9,136.4 L451.6,137.8 L452.6,139.1 L453.5,140.4 L454.5,141.7 L455.3,143.1 L456.5,144.2 M441.3,127.5 L439.5,127.8 L437.7,128 L436,128.3 L434.2,128.5 L432.4,128.5 L430.6,128.3 L428.8,128.1 L427.1,127.7 L425.4,127.2 L423.9,126.4 L422.2,125.8 L420.6,125.2 M460.7,125.8 L462.4,125.5 L464.2,125.2 L466,125.2 L467.8,125.1 L469.6,125.1 L471.4,125.2 L473.2,125.5 L474.9,125.9 L476.6,126.4 L478.2,127.1 M441.3,127.5 L443,127 L444.7,126.4 L446.4,126 L448.2,125.9 L450,125.7 L451.8,125.5 L453.6,125.6 L455.3,125.4 L457.1,125.3 L458.9,125.5 L460.7,125.8 L462.5,125.8 L464.3,126 L466.1,126.1 M427.3,121 L425.8,120.2 L424.3,119.3 L422.9,118.3 L421.5,117.4 L420,116.6 L418.3,115.9 M441.3,127.5 L439.6,127 L437.9,126.4 L436.2,126 L434.5,125.5 L432.9,124.8 L431.4,123.9 L429.9,123.1 L428.5,122.1 L427.3,121 L426,119.9 L424.5,119.1 L423.1,118.1 L421.7,117.1 M431,130.3 L429.4,130.9 L428,131.9 L426.4,132.6 L424.8,133.3 L423.1,133.7 L421.3,133.8 L419.5,133.7 L417.7,133.5 M441.3,127.5 L439.6,128 L437.9,128.4 L436.2,129 L434.5,129.6 L432.8,129.9 L431,130.3 L429.3,130.7 L427.6,131.3 L426.1,132 L424.7,133 L423.2,133.8 L421.7,134.8 M441.3,127.5 L443.1,127.7 L444.9,127.9 L446.6,128.2 L448.4,128.3 L450.2,128.1 L452,127.7 L453.6,127 L455.3,126.7 L457,126.2 L458.6,125.4 L460.2,124.8 L461.8,124.1 L463.3,123.3 M441.3,127.5 L443.1,127.4 L444.8,127 L446.5,126.5 L448.2,125.9 L449.8,125.3 L451.5,124.8 M441.3,127.5 L439.5,127.6 L437.7,127.9 L436,128.3 L434.2,128.5 L432.5,128.9 L430.7,129.2 L429,129.6 L427.3,130.1 L425.7,130.9 L424.2,131.7 L422.5,132.2 M448.4,128.3 L449.9,129.1 L451.5,129.9 L453,130.7 L454.7,131.2 L456.2,132.1 L457.9,132.7 L459.6,133.2 L461.3,133.7 L462.9,134.4 M453.5,129.8 L454.4,131.1 L455.4,132.4 L456.5,133.6 L457.8,134.7 L459.3,135.6 L460.8,136.4 L462.5,136.9 L464.1,137.6 M465.6,132.4 L466.5,133.7 L467.3,135.1 L467.9,136.5 L468.6,137.9 L469.2,139.4 L469.8,140.8 L470.7,142.1 L471.4,143.5 L471.9,145 M441.3,127.5 L443.1,127.7 L444.9,127.9 L446.7,127.9 L448.4,128.3 L450.1,128.8 L451.9,129.2 L453.5,129.8 L455.3,130.1 L457.1,130.2 L458.8,130.4 L460.6,130.6 L462.4,131.1 L464,131.6 L465.6,132.4 M438,128.8 L436.3,128.6 L434.5,128.6 L432.7,128.6 L430.9,128.9 L429.1,129.2 L427.4,129.4 L425.7,129.9 L424,130.4 L422.4,131.2 M441.3,127.5 L439.7,128.2 L438,128.8 L436.3,129.2 L434.5,129.4 L432.7,129.6 L431,130.1 L429.4,130.8 L427.9,131.6 L426.2,132.1 L424.5,132.6 L422.9,133.3 L421.2,133.8 L419.4,134 M444.1,129.5 L444.8,130.9 L445.2,132.4 L445.5,133.9 L446,135.3 L446.8,136.7 L447.8,138 M448.8,134 L450.5,134.5 L452.2,135.1 L453.9,135.6 M441.3,127.5 L442.7,128.5 L444.1,129.5 L445.2,130.6 L446.3,131.9 L447.5,133 L448.8,134 L449.9,135.3 L451.3,136.2 M441.3,127.5 L439.5,127.6 L437.7,127.9 L436,128.1 L434.2,128.1 L432.4,127.7 L430.6,127.7 L428.8,127.6 L427,127.4 M440.5,135.1 L440.8,136.6 L441,138.1 L440.9,139.7 L440.8,141.2 L440.6,142.7 M438.7,145.7 L437.5,146.8 L436,147.6 L434.6,148.7 L433.2,149.6 L431.6,150.2 L430,150.9 L428.5,151.8 L427,152.7 M441.3,127.5 L441.2,129 L441,130.5 L440.7,132.1 L440.8,133.6 L440.5,135.1 L440.4,136.6 L440,138.1 L439.6,139.6 L439.3,141.1 L439.2,142.6 L438.8,144.1 L438.7,145.7 L438.5,147.2 L438.1,148.7" fill="none" stroke="#f0a040" stroke-width="0.5" />
<path d="M441.5,81 C441,92 442,100 441.3,110 C441,118 441.6,123 441.3,127.5" fill="none" stroke="#2030e0" stroke-width="0.9" />
<circle cx="441.3" cy="127.5" r="1.3" fill="#40e0e8" />
<line x1="468" y1="53" x2="474" y2="53" stroke="#e82020" stroke-width="1" />
<text x="477" y="55.5" font-size="7.36" textLength="12.4" lengthAdjust="spacingAndGlyphs">Tuft</text>
<line x1="468" y1="61" x2="474" y2="61" stroke="#2030e0" stroke-width="1" />
<text x="477" y="63.5" font-size="7.11" textLength="17.9" lengthAdjust="spacingAndGlyphs">Trunk</text>
<line x1="468" y1="69" x2="474" y2="69" stroke="#30d020" stroke-width="1" />
<text x="477" y="71.5" font-size="7.46" textLength="25.7" lengthAdjust="spacingAndGlyphs">Oblique</text>
<line x1="468" y1="77" x2="474" y2="77" stroke="#f0a040" stroke-width="1" />
<text x="477" y="79.5" font-size="6.68" textLength="16.7" lengthAdjust="spacingAndGlyphs">Basal</text>
<line x1="468" y1="85" x2="474" y2="85" stroke="#40e0e8" stroke-width="1" />
<text x="477" y="87.5" font-size="6.85" textLength="17.9" lengthAdjust="spacingAndGlyphs">Soma</text>
<text x="-0.3" y="174.4" font-size="10.50" fill="#000" font-weight="bold">b</text>
<clipPath id="cPFC"><path d="M46,206 C45,203 46,200 48,198 C55,191 63,183 71,176.5 C80,175 95,174.5 108,174.8 C113,175 116,176.5 117,179 L117,262 C116,266 112,268 106,268.5 L100,268.5 C99,262 99,250 98.5,238 C97,228 92,220 86,214 C81,209 76,205 72,202 C66,205 60,208 55,211 C50,213 47,211 46,206 Z"/></clipPath>
<path d="M46,206 C45,203 46,200 48,198 C55,191 63,183 71,176.5 C80,175 95,174.5 108,174.8 C113,175 116,176.5 117,179 L117,262 C116,266 112,268 106,268.5 L100,268.5 C99,262 99,250 98.5,238 C97,228 92,220 86,214 C81,209 76,205 72,202 C66,205 60,208 55,211 C50,213 47,211 46,206 Z" fill="#ececec" stroke="#c8c8c8" stroke-width="0.5" />
<path d="M47,206 C52,208 56,207 60,205 C65,202 69,200 72,199" fill="none" stroke="#d0d0d0" stroke-width="0.4" />
<path d="M100,258 L117,258" fill="none" stroke="#d8d8d8" stroke-width="0.4" />
<g clip-path="url(#cPFC)">
<path d="M56.9 200.2h0M58.2 203.7h0M60.1 204.6h0M53.5 202.3h0M62.3 197.8h0M56.5 201.7h0M61.4 201.2h0M53.4 197.7h0M51.9 200.4h0M53 203.5h0M46.3 196.6h0M57.2 201.5h0M54.4 198.3h0M57 201.8h0M50.4 200.7h0M62.2 191.3h0M47.9 200.7h0M61.7 198.9h0M48 200.4h0M54.7 200.5h0M50.2 198.3h0M55.4 202.6h0M53.2 203.4h0M54.7 190.4h0M52.5 202.3h0M60.4 201.1h0M54.9 202.7h0M55.3 201h0M53.5 203h0M59.6 195.9h0M58.2 199.6h0M55.2 202.2h0M63.6 201.1h0M60.6 197.8h0M52.3 199.1h0M64.5 203h0M52 205.7h0M55.8 201h0M59.1 202.2h0M50.7 201.7h0M54.8 199.7h0M51.3 200.8h0M63.6 196.3h0M63.7 195.6h0M67 204.8h0M59.2 198.5h0M58.6 194.9h0M56.2 205.5h0M62 191.4h0M62 200.3h0M61 196.3h0M60.4 204.1h0M62.4 201.9h0M62.3 193.8h0M59.1 198.3h0M59.8 198.1h0M60.6 202.4h0M57.4 195.6h0M66.5 205.4h0M59.2 198.5h0M62.4 195.2h0M59.5 192.5h0M61.2 190.4h0M63.6 191.7h0M58.6 196.9h0M64.3 199.4h0M57.6 197.1h0M59.8 200.4h0M63.9 196.5h0M60.4 201.2h0M64.8 197.2h0M65.3 198.4h0M57.3 200h0" stroke="#ffd700" stroke-width="2" stroke-linecap="round" fill="none" opacity="0.85"/>
<path d="M55.8 200.9h0M48.8 198.6h0M58.9 205.3h0M52.3 199.6h0M55.7 202.7h0M54.7 197.4h0M65.6 197.4h0M55.8 196.7h0M54.3 203.3h0M48.4 202.4h0M48.4 192.3h0M51.8 205.4h0M54.3 199.2h0M51.2 197.8h0M58.5 203.8h0M62.4 196.1h0M62.6 197.4h0M52.9 198.8h0M54.7 197.3h0M57.6 197.8h0M57.8 198.5h0M53 201.8h0M57.1 201.8h0M49.5 201.7h0M53.7 200.7h0M53.7 204.3h0M55.2 196.6h0M51.4 198.1h0M58.5 195.2h0M53.6 203.7h0M60 201.6h0M54.7 201.9h0M57.8 191.1h0M50.8 199h0M61.7 200.4h0M58.3 191.9h0M57 199.9h0M65.9 192.9h0M62.6 194.7h0M64.5 189.6h0M58.4 204.2h0M61.3 196.2h0M56.6 196.5h0M60.9 193h0M66.4 196.6h0M52.8 202.1h0M62.3 194.2h0M56.9 202.3h0M58 198.3h0M57.1 203.7h0M61.5 196.8h0M58.5 199.5h0M64.4 197.2h0M61.5 198.8h0M64.5 193.8h0M51.1 202.8h0M66.5 197.2h0M65 195.9h0M60.4 193.3h0M63.3 196.3h0M57.8 198.2h0M59.7 203.3h0M62.1 201.4h0M56.7 198.2h0" stroke="#ffd700" stroke-width="1.4" stroke-linecap="round" fill="none" opacity="0.85"/>
<path d="M55.6 203h0M52.1 200h0M50.3 203.5h0M48.5 205.9h0M50.1 201.6h0M51.8 205.4h0M55 203.5h0M53 196.1h0M54.6 204.3h0M49.7 201.2h0M53.7 204.6h0M53.9 203.9h0M52.2 200.1h0M55.7 204.1h0M53 203.5h0M56.1 193.9h0M51.2 201h0M56.1 202.9h0M55.4 201.1h0M50.6 203h0M52.1 203.1h0M49.5 197.8h0M52.6 205.5h0" stroke="#ffe135" stroke-width="1.4" stroke-linecap="round" fill="none" opacity="0.85"/>
<path d="M59.1 202h0M48.3 203.8h0M54.7 205.4h0M54.7 202.8h0M56.2 198.5h0M53.9 198.8h0M50.8 201.8h0M50.9 200.2h0M54 204.1h0M49.5 202.6h0M52.9 200.9h0M51.2 200.4h0M50.5 200.4h0M53.3 199.6h0M50.5 198.7h0" stroke="#ffe135" stroke-width="2" stroke-linecap="round" fill="none" opacity="0.85"/>
<path d="M66.8 189.7h0M68.1 191.4h0M59.6 191.3h0M67 191.9h0M60.1 189h0M68.1 193.8h0M59.9 190.2h0M61.6 194h0M68.4 196.5h0M64.2 194.2h0M62.4 189.7h0M64 194.9h0M63.3 187h0M65.7 190.4h0M62.2 190.8h0M64.3 194.1h0M65.2 194h0M66.9 193.1h0M63.6 194.6h0M64.5 197.4h0M59.8 196.9h0M70.6 199h0M67.6 198.1h0M69 195.3h0M67.6 193.4h0M68.7 194.1h0M72.6 192.4h0M67.9 197.9h0M65.7 195.2h0M69.8 191.7h0M71.8 194.2h0M68.3 195.9h0M63.9 196.3h0M73 195.9h0M70.9 193.7h0M72.4 195.3h0M75.2 197.1h0M74 194.4h0M66.3 194.2h0M71.9 192.7h0M65.9 192.3h0M70.5 196.3h0M68.7 190.7h0M67.3 194.3h0M69.7 194.3h0M70.2 192.1h0M108.3 221.8h0M107.6 218.4h0M109.7 222.7h0M110.2 221.7h0M105.8 216.9h0M109.6 225.2h0M117.2 218.7h0M110.3 223h0M111.6 223.2h0M110.9 221.9h0M109.3 218.2h0M110.4 222.5h0M114.3 222.9h0M110.4 221.1h0M108.8 218.9h0M111 224.5h0M111.6 221.3h0M110.8 219.3h0M111.9 212.4h0M104.7 222.4h0M112 220.7h0M107.6 219.7h0M116.5 219.9h0M112.4 218h0" stroke="#7b68ee" stroke-width="1.4" stroke-linecap="round" fill="none" opacity="0.85"/>
<path d="M58.2 192.2h0M62.1 191.7h0M70.8 192.8h0M69.1 195.5h0M66 191.2h0M68.6 191.5h0M60.1 195.6h0M61.6 195.1h0M61.9 192.4h0M56.4 197.3h0M64 188.7h0M60.7 189h0M62.5 192h0M62.7 189.6h0M66 197.4h0M65.9 188.9h0M69.2 192.1h0M60.9 188.3h0M63.1 200.2h0M62.4 193.1h0M65.2 191.4h0M63 188h0M65.3 188.5h0M63 192.8h0M72.8 195.2h0M70.7 194.3h0M72.2 193.1h0M67.7 195.6h0M72.2 190.9h0M69.1 193h0M77.7 195.5h0M72.6 194h0M76.3 193.6h0M66.2 197.5h0M74.2 196.4h0M65.9 189.9h0M70.6 196.2h0M68.7 191.3h0M64.1 194.3h0M70.8 192.2h0M73.1 197.1h0M69.7 193.3h0M71.6 194.1h0M73.5 194.3h0M116.2 216.4h0M105.9 217.9h0M107.5 221h0M113 224.9h0M108.8 220.1h0M106.7 219.5h0M114.5 213.5h0M105 223h0M107.4 219.6h0M110.7 221.4h0M104.5 221h0M108.6 222.2h0M115.2 228.6h0M107.7 223.2h0M108.3 221.6h0M108.8 222.8h0M109.9 219.3h0M111 218.3h0M110.4 225.7h0M110.1 219.5h0M110.9 220h0" stroke="#7b68ee" stroke-width="2" stroke-linecap="round" fill="none" opacity="0.85"/>
<path d="M57.2 194.9h0M61.3 191.7h0M61.6 190.9h0M57.7 191.9h0M61.4 194.2h0M61.4 192.7h0M58.9 191.5h0M61.2 194.2h0M59.8 191.4h0M58.5 189.8h0M62.8 197.1h0" stroke="#5a7ae0" stroke-width="1.4" stroke-linecap="round" fill="none" opacity="0.85"/>
<path d="M63.1 193.4h0M62.2 191.7h0M60.3 193h0M61.6 191h0M63.5 197h0M61 191.1h0M64 192.9h0M60.2 194.7h0M61 192.6h0M58.6 193.4h0M54.1 194.5h0M60.2 192.6h0M59.6 193.2h0M61.1 193.1h0M52.9 192.7h0M62.3 193.4h0M60.4 192.9h0M58.6 188.7h0M60.9 194.3h0M55.9 194.2h0" stroke="#5a7ae0" stroke-width="2" stroke-linecap="round" fill="none" opacity="0.85"/>
<path d="M70.3 181.9h0M77.3 182.5h0M73.5 182.4h0M71.6 179.2h0M77.9 184.9h0M75.8 183.8h0M75.3 177.7h0M73.5 183h0M74.8 182.3h0M73.3 180h0M66.4 183.1h0M79.1 182.5h0M77.4 184.9h0M73.9 177.1h0M73 178.5h0M70.4 183.6h0M73.9 176.5h0M72.8 188.3h0M76 177.1h0M74.8 186.2h0M73 183.7h0M75.2 178.4h0M79.3 180.3h0M70.1 179h0M75.6 183.6h0M73 180.1h0M81 181.5h0M80.4 179.6h0M75.7 176h0M76.8 181.5h0M80.3 180.9h0M79.4 181.9h0M80.2 183.1h0M75.4 176.8h0M79.8 180.8h0M77.5 178.2h0M78.3 181.8h0M77.3 182.9h0M78.2 184.8h0M84.1 183.5h0M80.1 180.7h0M77.1 179.7h0M81.4 180.2h0M79.1 176.5h0M81.3 181.5h0M84.4 181.5h0M80.7 177.7h0M76.7 182.3h0M81 176.7h0M79.1 181.3h0M77.8 177.2h0M79.4 181.5h0" stroke="#ff8c00" stroke-width="2" stroke-linecap="round" fill="none" opacity="0.85"/>
<path d="M74.1 177.8h0M67.3 178.2h0M71.3 182.3h0M79.2 183.5h0M72.6 185.1h0M73.8 182.4h0M79.4 188.3h0M71.7 181.9h0M76.2 188.3h0M72.4 189.8h0M73.5 182.8h0M70.3 182.3h0M75.4 183.2h0M73.4 182.8h0M69.5 179.8h0M71.6 179.1h0M77.8 188.9h0M71.5 186.7h0M75.9 186.1h0M71.2 183.8h0M74.7 179.1h0M77.4 178.8h0M85.4 178.3h0M75.7 179.6h0M72.7 187.6h0M70.9 182.1h0M78.3 179.7h0M74.6 177.9h0M74.6 176.4h0M74.7 181.7h0M76.1 185.3h0M72.7 182.2h0M72.5 184.4h0M72.1 185.3h0M83.8 179h0M78.4 181.1h0M81 179h0M80.5 176.3h0M75.3 178.8h0M78.5 183.8h0M85.6 174.3h0M81.3 177.5h0M80.1 184.5h0M80.8 183.3h0M77.7 176.1h0M75.3 180h0M76 179.7h0M80.5 176.1h0M84.6 175.7h0M85.5 179.7h0M79.1 172.9h0M77.6 177.7h0M78.5 177.2h0M79.4 183h0" stroke="#ff8c00" stroke-width="1.4" stroke-linecap="round" fill="none" opacity="0.85"/>
<path d="M70.8 190.7h0M71.6 192h0M73.8 186h0M75.8 189.1h0M73.6 187.1h0M74.7 188h0M75.1 187.6h0M73.6 189.4h0M73 187.1h0M71.8 190.9h0M67.9 190.4h0M71.5 188.6h0M70.6 191.5h0M73.3 187.2h0M72 185.1h0M73.3 188.1h0M75.4 185.4h0M73.6 182.1h0" stroke="#ffa500" stroke-width="1.4" stroke-linecap="round" fill="none" opacity="0.85"/>
<path d="M69.6 186h0M72.2 187.7h0M75.9 188.7h0M74.1 184h0M70.3 185.6h0M73.9 189.9h0M70.3 185.7h0M73.1 185.8h0M70.2 188.3h0M67.1 186.9h0M75.9 184.9h0M70.4 185.5h0M76.1 186.4h0" stroke="#ffa500" stroke-width="2" stroke-linecap="round" fill="none" opacity="0.85"/>
<path d="M78.6 177.8h0M79.6 180.3h0M77.2 177.3h0M77.3 184h0M84.5 185.2h0M83.9 185.5h0M76.4 187.4h0M92.4 184h0M82.4 183.8h0M86.3 180.8h0M91.5 185.7h0M78 183h0M87.4 186.3h0M77.9 186.3h0M80.2 189.4h0M77.4 183.5h0M84.2 179.3h0M79 188.1h0M80.9 184.3h0M82.7 182.3h0M85.3 183.7h0M81.9 185.2h0M87.7 186.6h0M78.6 179.1h0M82.3 179.7h0M78 184.1h0M81 181h0M87.8 187.1h0M75.1 184.3h0M81.1 184.7h0M87.2 180.4h0M83.7 185.8h0M82.7 188.5h0M86 188.1h0M87.7 175.8h0M84.1 181.5h0M82.8 180.8h0M87.4 179h0M93 177.2h0M84.3 181.9h0M86.4 179.9h0M85.3 176.4h0M87.3 182.6h0M84.6 176h0M81 175.9h0M81.7 178.4h0M86.8 181.6h0M85.1 174.9h0M92.3 174.2h0M88.9 184.5h0M82.4 176.2h0M87.5 178.5h0M108.6 247.3h0M109.7 247.6h0M108.7 248.9h0M110.5 243.3h0M110.2 246.9h0M107.5 247h0M108.4 251.6h0M108 245.4h0M113.6 245.6h0M110.1 247.9h0M112.1 253.3h0M110.8 247h0M112 248.3h0M108.8 246.8h0M113.3 246.5h0M115.3 246.7h0M105.2 250.1h0M111.3 248.3h0M114.1 247.4h0M110 247.6h0M104.6 245.1h0M108.2 243.5h0M114.3 249.4h0" stroke="#32cd32" stroke-width="1.4" stroke-linecap="round" fill="none" opacity="0.85"/>
<path d="M80.9 180h0M78.4 176.8h0M81 177.8h0M81.6 186.7h0M79.5 182h0M80.4 183.5h0M85.6 181h0M81.4 188.4h0M87.6 183.7h0M83.2 185.7h0M81.9 181.3h0M83.5 184.1h0M75.8 194h0M79.6 181.9h0M83.7 182.4h0M83 188.9h0M83.1 185.2h0M88.4 185.3h0M87.9 185.2h0M82.3 181.4h0M84.3 177.4h0M77.1 184.5h0M74.8 179.2h0M87.6 183h0M84.4 183.3h0M80.5 187.9h0M81.8 185.4h0M84.7 173.7h0M78.1 177.6h0M89.9 178.7h0M85.7 177.2h0M84.3 177.4h0M88.4 178h0M85 183.1h0M89.9 186.9h0M85.1 184.9h0M84.7 180.4h0M85.5 178.8h0M86.4 180.1h0M90.5 175.5h0M82.7 181.5h0M90.8 184.5h0M87.1 178.9h0M88 179.3h0M87.6 180.3h0M84.1 183.1h0M88.7 178.8h0M87.5 184.8h0M80.3 178.8h0M87.9 184.2h0M88.8 177.8h0M85.3 178.9h0M79.5 183.4h0M87.8 174.6h0M106 249.8h0M109.6 246.1h0M103 249.9h0M108 244.1h0M109.5 248.2h0M102.1 246.9h0M109.7 250.8h0M112.5 250.9h0M107.1 251.5h0M108.4 246h0M103.8 248.8h0M107.9 240.4h0M108.1 251.8h0M111.4 249.7h0M105.8 250.5h0M109.2 246.7h0M108.5 247.8h0M105.6 244.4h0M112.9 246.8h0M104.4 248.2h0M105.3 244.4h0M105.6 250h0" stroke="#32cd32" stroke-width="2" stroke-linecap="round" fill="none" opacity="0.85"/>
<path d="M85.2 188.5h0M83.6 186.9h0M82.6 183.7h0M84.2 190.1h0M86.8 188.4h0M84.1 188.8h0M85.6 187h0M83.3 192.1h0M81.7 188h0M82.1 192.2h0M81.6 187.6h0M86.1 193h0M80.5 187.6h0M85.8 192.6h0M86.2 190.9h0M83.2 187.6h0M83.7 192.2h0M84.3 189.1h0M82.8 187.2h0M86.6 189.4h0M87.3 190h0" stroke="#7cfc00" stroke-width="2" stroke-linecap="round" fill="none" opacity="0.85"/>
<path d="M83.9 191.3h0M81.4 189.5h0M81.1 190.9h0M83.5 190.2h0M84 189.6h0M82.3 192.1h0M87.8 188.7h0M87.8 193.4h0M85.4 188.5h0M83.1 193.2h0" stroke="#7cfc00" stroke-width="1.4" stroke-linecap="round" fill="none" opacity="0.85"/>
<path d="M89.6 180.1h0M93.5 183.5h0M98 180h0M93 174.3h0M90.6 173.4h0M92.6 177.7h0M90.6 180.2h0M100.7 182.1h0M95.6 176.8h0M86 173.5h0M94.6 178.5h0M91 174.9h0M90.3 178.6h0M92.3 181.5h0M91.5 179.8h0M88.8 179.3h0M94.1 179h0M93.9 179.7h0M89 182.8h0M93.7 178.9h0M95.5 176.3h0M88.3 177.8h0M93.1 181.5h0M91 182.7h0M88.5 181.7h0M93.4 179.6h0M109.4 177.5h0M105.6 174h0M106.5 187.6h0M104.5 175.6h0M103.9 180.7h0M111.5 181.6h0M106.4 175.2h0M104.1 176.3h0M106.8 180.5h0M99.6 171.4h0M107.5 178.7h0M107.6 178h0M106.2 174.1h0M109.9 177.1h0M110.7 179.7h0M106.6 173.3h0M105.4 179.3h0M103.7 184.1h0M99 182.1h0M99.3 177.7h0M108.1 182.5h0M101.5 174.2h0M99.8 179.1h0M101.8 179.5h0M104.5 184.2h0M100.8 181.8h0M108.7 169.4h0M108.6 174h0M113.2 178h0M108.9 176h0M106.6 175.1h0M99.4 195.6h0M102.2 197.5h0M105.2 199.6h0M105.5 200.1h0M102.6 199h0M105 188.6h0M103.1 197.1h0M104.7 201.9h0M100.9 198.7h0M102.7 191.6h0M98.7 198.3h0M103.3 196.8h0M100.1 194.6h0M101 198.4h0M108.2 200.7h0M99.2 193.9h0M104.6 190.8h0M103.3 196.2h0M104.3 196.1h0M108.8 198.9h0M106.8 197.1h0M104.2 199.2h0M101.6 200.5h0M108.4 197.6h0M102.5 196.5h0M99.3 193.8h0M106.7 199h0M96.8 196.5h0M114.2 202.7h0M104.2 189.9h0M100.8 251.1h0M100.6 248.4h0M99.8 251.3h0M102.2 251.6h0M102.4 247.8h0M100.6 252.2h0M99.9 250.6h0M100.8 247.9h0M100 248.4h0M101.1 248.7h0M99.9 246.8h0M102.8 244.1h0M102.3 247h0M102.6 251h0M103.6 247.7h0M116.1 188h0M117 182.8h0M113.4 185.5h0M118 185.4h0M115.3 184.4h0M115.7 187h0M116.2 186.9h0M113.5 184.3h0M114.4 187.2h0M120 182.1h0M112.8 186.1h0M110.7 187.6h0M117.4 186.1h0M116 188.1h0M114.9 184.8h0M121.5 181.5h0M112.9 188.8h0M116.2 186.6h0M117.9 192.8h0" stroke="#ff00ff" stroke-width="1.4" stroke-linecap="round" fill="none" opacity="0.85"/>
<path d="M86.3 169.7h0M89.3 185.7h0M94.3 178.9h0M88 173.6h0M91 177.1h0M92.3 183.5h0M95.1 177.6h0M88 175.2h0M90.4 171.7h0M93.8 175.9h0M95.5 175.6h0M92.6 178.7h0M92.2 179.4h0M86 179h0M97.8 175.4h0M87.8 183.2h0M96 176.9h0M92.8 173.1h0M91.7 180.6h0M104.8 177.5h0M107.8 182.8h0M107.8 171.2h0M106.9 182.1h0M105.2 176.7h0M103.4 181.7h0M108.3 185.3h0M107.8 183h0M103.1 173.2h0M102.1 173.7h0M110.2 174.7h0M105.1 173.2h0M104.2 173.6h0M109 171.5h0M100.7 178.8h0M106.8 179.2h0M111.8 183.8h0M104.5 173.1h0M98.6 179.2h0M104.4 173h0M106.6 176.3h0M111.9 174.6h0M107.5 178.2h0M105.5 184.1h0M115 178h0M105.4 174.8h0M108 179.4h0M99.2 177.8h0M104.7 177.5h0M108.7 177.8h0M102.6 200h0M102.4 197.1h0M106 195.3h0M103.8 192.3h0M104.9 197h0M103.2 197.4h0M104.2 194.2h0M107.2 198.9h0M104.9 190.6h0M105.1 207.4h0M100.3 202.3h0M103.4 201.2h0M103.3 197.3h0M106.7 190.5h0M103.9 196.2h0M104.1 195.7h0M106.6 198.7h0M100.9 196.8h0M105.5 195h0M110.3 200.2h0M104.9 199.6h0M101.8 197.7h0M101.4 197.6h0M105.4 203.7h0M109.1 197.1h0M103.2 199.1h0M101.8 194.7h0M104.7 199.6h0M98.8 198.7h0M113 198.7h0M105.4 199.5h0M100.1 247.4h0M99.3 245.9h0M101.1 248.1h0M105.3 247.3h0M116.7 186.6h0M112.2 188.2h0M113.7 185.9h0M115.9 190.4h0M116.5 188.2h0M117 188.3h0M116.7 186.1h0M118.9 185.8h0M121.6 188.3h0M114.2 189.1h0M114.2 188h0M113.7 184h0" stroke="#ff00ff" stroke-width="2" stroke-linecap="round" fill="none" opacity="0.85"/>
<path d="M98.1 188.9h0M96.3 182.7h0M96.5 187.4h0M97.7 189.3h0M99.5 179.8h0M97 187.8h0M101.8 189.7h0M97.2 187.6h0M98.7 187.7h0M101.2 185.4h0M96.7 179.5h0M97.6 185.8h0M98.6 183.1h0M96.6 180.1h0M98.1 185.3h0M93.6 189.9h0M94.8 187.9h0M99.3 185.1h0M97.1 187.2h0M98.4 184.7h0M93.4 193.8h0M97.7 180.7h0M97.4 182.8h0" stroke="#3a6cff" stroke-width="1.4" stroke-linecap="round" fill="none" opacity="0.85"/>
<path d="M93.8 183h0M93.3 184.5h0M91.8 186.4h0M96 186.1h0M94.8 189.6h0M98.8 186.5h0M94.1 188.6h0M95.2 186.9h0M95.1 184.6h0M96.5 182.7h0M99.4 188.8h0M94.9 184.3h0M99.5 182.7h0M101.1 185.2h0M100.2 190.7h0M98.4 188h0M97.7 182.9h0M97.9 185.7h0M102.6 187.2h0M97.1 189.3h0M102.2 181.6h0M94.4 183.6h0" stroke="#3a6cff" stroke-width="2" stroke-linecap="round" fill="none" opacity="0.85"/>
<path d="M100.8 180.2h0M97.3 178.1h0M91.1 181.8h0M103.2 178.6h0M97.4 178.1h0M97.4 182.1h0M99.8 176.6h0M98.1 181.8h0M98.7 181.8h0M98.1 175h0M104.5 182.9h0M97 181.9h0M100.2 175.6h0M97.1 175.1h0M96.5 175.3h0M97.4 180.2h0M101.9 188.6h0M101.6 177.5h0M96.3 181.2h0M98.1 172.9h0M94.8 181.7h0M98.4 177.8h0M104.9 176.1h0M97.7 180h0M99.6 180h0M99.8 184h0M99.9 177.1h0M102 175.9h0M103 180.6h0M92.7 172.5h0M98.5 181.8h0M100.5 179h0M102.5 184.3h0M104.5 180.6h0M102.1 182.1h0M98.2 189.1h0M85 188.3h0M89.9 182.7h0M88.2 182.9h0M86.9 190.1h0M90 191.6h0M84.2 187h0M91.9 183.3h0M89.3 183.6h0M92.1 183.7h0M91.8 193.6h0M93.5 187.6h0M83.9 186.6h0M87.7 186.1h0M92 188.1h0M90.2 189.6h0M83.8 190.5h0M87.9 188.4h0M91.6 186h0M84.5 186.5h0M90.4 190.7h0M90.8 190.5h0" stroke="#9932cc" stroke-width="2" stroke-linecap="round" fill="none" opacity="0.85"/>
<path d="M102.6 172.7h0M102.7 179h0M101.6 178.4h0M98.7 186.6h0M104.5 173.2h0M103.4 177.7h0M96 177.4h0M102.7 178.9h0M105.1 192.1h0M94.4 181h0M102.6 177.8h0M97.4 174.2h0M97 184.2h0M100.6 177.2h0M100.7 183.9h0M101.7 182.1h0M103.5 178.3h0M102.7 174.5h0M101.9 171.4h0M109 180.1h0M96.2 185.9h0M106.8 180.7h0M101.1 184.4h0M103.2 180.8h0M99 181h0M96.2 182.8h0M91.2 182.9h0M95.2 186.2h0M97.4 191.2h0M90.2 186.8h0M86.3 188.6h0M92.8 189.3h0M93.3 181.4h0M93.2 189.8h0M94.6 189.2h0M85.8 189h0M90.9 187.3h0M92.8 187.9h0M85.8 191.2h0M92.4 193.4h0M89.4 187.6h0M91.4 185.7h0M88.9 191.3h0M84.3 199.2h0M89.9 186.3h0M90.6 185.2h0M89.9 185.4h0M90.1 192.6h0M86.1 182.6h0" stroke="#9932cc" stroke-width="1.4" stroke-linecap="round" fill="none" opacity="0.85"/>
<path d="M114.8 181.4h0M113.1 185.4h0M112.4 183.2h0M114.6 179h0M108.4 185.2h0M111.9 182.1h0M115.6 182.2h0M110.2 176.9h0M106 181.8h0M110 187.1h0M108.2 186.3h0M104.8 180.8h0M109 182.1h0M111.9 181.8h0M115.7 181.4h0M112.4 179.6h0M106 179.9h0M112.1 179h0M108.9 182.4h0M117.8 186.2h0M110.6 181.1h0M105.1 179.2h0M105 184.1h0M111.2 182.6h0M112.1 187.3h0M116.7 179.9h0M109.7 182.7h0M105.5 179.5h0M111.5 184.8h0M106.2 189.5h0M90.4 190.2h0M88.6 196.2h0M88.6 197h0M86.8 199h0M92 195.6h0M89.6 192.3h0M91.7 189.5h0M89.4 193.7h0M96.4 191.7h0M100.9 197.4h0M85.3 197.5h0M92 196.6h0M99.7 200h0M95.2 192.4h0M87.8 200.8h0M88.9 194.9h0M97.7 196h0M100.3 197.6h0M85.7 197.4h0M91.1 193.5h0M91 204.9h0M91.2 197.5h0M90 192.6h0M90.1 196.7h0M92.1 195.8h0M92.1 200.5h0M87.5 195.9h0M91.3 192.2h0M84.7 197.3h0M97.7 194.2h0M88.2 198.6h0M88.3 198.1h0M97.1 193.3h0M95.1 193.9h0M91.4 197.3h0M89.3 199.2h0M93.2 196.2h0M91.8 200.3h0M93.7 196.2h0M91.6 194.8h0M93.5 191.9h0M91.7 204.3h0M99.3 198.3h0M95.2 200.1h0M104.7 217.1h0M90.6 201.7h0M93.4 199.7h0M88.8 203.8h0M97.5 201.5h0M98.4 203.1h0M98.8 209.7h0M88.7 197.9h0M102.2 204.4h0M99.8 209.3h0M92.2 205.3h0M105.4 207.4h0M100.4 211.2h0M96.1 205h0M95.9 206.1h0M103.6 210.9h0M93.6 199.4h0M96.2 206.8h0M99.2 207.8h0M93.9 204.7h0M104.4 203.2h0M91.7 203.6h0M93.3 212.5h0M104.2 208.6h0M96 205.2h0M92.8 204.9h0M89 193.9h0M95.8 209h0M93.5 210.7h0M93.7 203.4h0M100.9 196h0M92.7 207.4h0M92.9 204h0M103.2 207.7h0M95.4 206.3h0M102 207.5h0M101.1 209.5h0M98.4 210.9h0M101.7 217.4h0M95.9 216.7h0M98.8 206.6h0M103.8 203.3h0M99.4 209.7h0M106.8 210.1h0M101.8 202.7h0M104.1 210.8h0M98.4 210.6h0M95.1 213.2h0M98.7 203.7h0M103.5 207.4h0M102.9 213.8h0M108 208.6h0M98.4 207.1h0M102.7 216.6h0M98.6 212.9h0M101.1 213.4h0M106 207.5h0M104.2 214.1h0M105.8 215.9h0M102.8 206.7h0M105.1 209.6h0M97.3 213.7h0M97.5 213.3h0M108.4 210.7h0M95.1 203.1h0M102.5 215.6h0M104.5 209.7h0M108.7 212.3h0M97.2 218.7h0M99.9 215.1h0M101.8 209.9h0M100.4 208.7h0M96.6 211.5h0M101.7 204.7h0M104.3 215.3h0M102.6 210.7h0" stroke="#ff1493" stroke-width="2" stroke-linecap="round" fill="none" opacity="0.85"/>
<path d="M107.3 176.8h0M110.4 191.2h0M112.9 178.1h0M115.3 185.3h0M111.7 177.4h0M110.5 179.5h0M113.7 182h0M111.4 185.3h0M116.2 180h0M114 186.4h0M117.6 184.1h0M110.6 179.4h0M114.3 179.1h0M109.8 181.3h0M114 180.2h0M117.2 180.5h0M108.8 179.7h0M110.2 183.7h0M106.7 180.9h0M111.8 188.2h0M111.9 181.4h0M110.2 181.3h0M110.2 183.2h0M110.2 180.1h0M113 176.8h0M119 182.8h0M110.8 175.6h0M108.9 183.2h0M113 182.6h0M107.7 180.1h0M111.9 177.3h0M92.8 195.2h0M97.3 194.1h0M92.3 192.3h0M85.1 199.4h0M93.3 192.7h0M92.5 195.9h0M94 191.4h0M95.3 197.6h0M87.6 191.4h0M92.7 195h0M94.2 197.4h0M94.6 195.9h0M92.2 189.7h0M93.6 192.5h0M93.1 198.9h0M94.9 199.4h0M93.4 199.4h0M86.9 191.7h0M88.9 202.3h0M94.1 197h0M94.4 203.5h0M91.3 192h0M90.8 193.4h0M84.7 195h0M88 199.1h0M94.9 196.7h0M92.4 191.1h0M90.3 197.4h0M86.3 196.7h0M93.3 197.4h0M88 201.5h0M84.5 195.9h0M93.3 186.3h0M91.2 191.6h0M88.8 198h0M89.9 193.3h0M98 197.5h0M88.8 199.9h0M104.2 207.4h0M97.9 208.4h0M97.8 204.8h0M92.8 204.8h0M92.1 202.7h0M94.6 209.3h0M92 209.8h0M98.6 202.6h0M97.2 205.1h0M92.2 209h0M99.7 202.2h0M97.2 201h0M94.3 207.8h0M105.3 205.7h0M99.3 205.2h0M94.7 209.9h0M96.2 205.2h0M93.5 201.4h0M95.4 197.9h0M94 205.5h0M93.8 198.7h0M99.3 207.5h0M91.1 207.1h0M105 208.6h0M97.4 205.2h0M101.6 211.4h0M92.2 207.6h0M94.6 211.2h0M96.7 196h0M90.5 202.1h0M99.8 205.9h0M97.5 209h0M101 192.9h0M99.6 205.3h0M92.7 206h0M98.8 199h0M100.3 204.7h0M92 204.2h0M96.4 194.2h0M96 202.3h0M100.9 197.2h0M101 205.1h0M96.1 208.7h0M94.2 196.6h0M105.5 205.3h0M100 206.9h0M100.2 201.4h0M100.3 202.3h0M94.7 202.4h0M96.8 204.1h0M92.5 206.4h0M105.1 204.9h0M100.5 205.8h0M104.3 211.4h0M97.9 205.7h0M98 205.7h0M89.7 206.4h0M100.7 209.8h0M108.7 211.2h0M105.2 215.8h0M99.1 208.8h0M107.1 208.5h0M99.9 213.1h0M103.4 213.3h0M108.6 207.4h0M101.5 199.1h0M103.3 210.4h0M100.8 208.5h0M100.8 208.9h0M104.5 207.7h0M104.9 206.4h0M106.1 209.1h0M98.5 213h0M105.5 213.9h0M102.1 210h0M100.8 205.7h0M106.3 209.4h0M93.3 205.4h0M102 203.6h0M100.9 210.8h0M100.5 205.6h0M98.2 213.3h0M103.6 206.9h0M100.8 206.7h0M102.5 208.8h0M99.6 210.7h0M101 204.8h0M101.6 207.4h0M102.4 209.5h0M100.8 203.3h0" stroke="#ff1493" stroke-width="1.4" stroke-linecap="round" fill="none" opacity="0.85"/>
<path d="M108.3 190.2h0M107.4 190.3h0M110.2 190.9h0M105.9 190.5h0M111 191.9h0M106.8 189.5h0M110.7 185.6h0M104.5 190.7h0M112.4 187.8h0M106.6 198.8h0M108.4 189.2h0M108.6 190.2h0M111.8 191.7h0M111 194.7h0M107.4 188.6h0M105.8 189.2h0M111.1 188.4h0M109.8 191.1h0M114.5 192.5h0M107.1 191.6h0M110.6 190.4h0M107.8 192.2h0M103.8 210.9h0M109.7 213.8h0M104.8 214h0M104.6 215.5h0M110.8 215.9h0M105.7 214.4h0M102.5 213h0M106.4 215.6h0M102.3 217.3h0M99.6 211.3h0M109 215.3h0M105.3 209.6h0M103.6 214.2h0M98.3 215.9h0M103 214.8h0M107.9 212.1h0M105.7 218.6h0M107.3 215.9h0M109.5 213.8h0M107.4 218.3h0M104.9 214.4h0M100.1 222.3h0M105.5 213.6h0M109 211.7h0M110.9 208.8h0M109 208.6h0M102.5 218.6h0" stroke="#8a2be2" stroke-width="2" stroke-linecap="round" fill="none" opacity="0.85"/>
<path d="M116.6 193.3h0M110.5 189.4h0M105.8 195.9h0M109.3 187.6h0M116 191h0M114.8 189.7h0M103.3 192.1h0M109.1 193.2h0M104.5 192.6h0M111.6 190.9h0M112 190.5h0M109 188.8h0M108.1 193.1h0M108.6 186.3h0M114.9 189.4h0M107.7 189.2h0M104 191.9h0M112.6 186.2h0M105.9 194.1h0M112.5 189.3h0M107.2 185.9h0M109.6 185h0M112.3 185.7h0M106.3 212.1h0M106.1 211.9h0M107.9 213h0M104.1 211.8h0M106.5 211.4h0M109.2 216.7h0M106.5 213.5h0M105.8 216.5h0M103.3 214.7h0M100 214.8h0M103.5 212.7h0M100.9 216.8h0M103 213.2h0M106.3 214.4h0M104.7 215.4h0M108.7 219.2h0M108 208.6h0M101.3 215.6h0M104.5 213.7h0M102.9 218.3h0M104.4 217.2h0M110.9 216.5h0M102.4 215.6h0M108.2 213.9h0M107.8 209.5h0M103.6 210.5h0M109 213.3h0M102.6 213.1h0M100 211h0M110.1 211.8h0M109.6 207.5h0M101.7 213.5h0M108.6 219.2h0M102.8 221.2h0" stroke="#8a2be2" stroke-width="1.4" stroke-linecap="round" fill="none" opacity="0.85"/>
<path d="M115.6 195.6h0M112.9 197.8h0M115.3 194.7h0M117 195.1h0M110.1 191.1h0M109.4 194.6h0M112.7 198.1h0M116 192.6h0M115.9 202.8h0M112.5 194.8h0M113 197.9h0M112.1 195.9h0M110.6 195.4h0M113.1 198.7h0M110.1 195h0M110.2 198.2h0M113.1 201.1h0M114.5 200.4h0M120.6 198.8h0M118.5 193.7h0M110.7 236.4h0M101.8 234h0M99.5 237.1h0M107.8 237.6h0M107.8 230.5h0M104.6 235.8h0M102 231.8h0M104.5 232.9h0M106.5 232.6h0M105.6 229.5h0M107.2 231.7h0M104.7 228.1h0M105.4 229.9h0M106.1 235.5h0M108.9 233.6h0M100.7 237.6h0M100.5 235.2h0M108.1 230.2h0" stroke="#40e0d0" stroke-width="2" stroke-linecap="round" fill="none" opacity="0.85"/>
<path d="M114.8 195.7h0M113.6 194.1h0M114.3 192.2h0M117.3 198.6h0M112.8 194.9h0M118.8 198.3h0M116.1 198.7h0M115.8 190.6h0M111.1 196.2h0M113.1 201.1h0M112.3 200.4h0M103.5 231.2h0M106.8 231.4h0M102.7 228.6h0M101.3 239.3h0M105.4 237.1h0M102.5 231.3h0M101.8 233.9h0M107 233.3h0M100.5 234.3h0M104.8 229.3h0M105.3 235.2h0M105.1 235h0M104.1 234.4h0M101.3 238.8h0M104.3 231.8h0M107.6 232.7h0M103.1 230.2h0M101 230.6h0M103.5 232.6h0M99.7 229.1h0M99.1 232.4h0M105.3 230.7h0M100.6 234.8h0M106.1 233.8h0M103.4 237.4h0M105.4 235h0" stroke="#40e0d0" stroke-width="1.4" stroke-linecap="round" fill="none" opacity="0.85"/>
<path d="M114.1 207.8h0M113.4 209.5h0M112.9 207.4h0M111.2 205h0M109.2 208.4h0M119.5 202.1h0M106 206.2h0M104 206.5h0M116.5 207.1h0M110.7 211.9h0M113.2 207.9h0M116.1 211.2h0M112.6 208h0M112.3 207.2h0M114.5 205.4h0M112.9 208.3h0M94.9 197.4h0M94.5 197.2h0M93.9 197.5h0M95.5 199.5h0" stroke="#ff4500" stroke-width="1.4" stroke-linecap="round" fill="none" opacity="0.85"/>
<path d="M107.2 205h0M110.9 207.6h0M111.6 206.6h0M112.6 205.4h0M116.7 206.4h0M114.7 211.7h0M109.4 206.4h0M113.6 202.5h0M116.1 207.9h0M111.8 208.8h0M113.4 203.3h0M111.4 208.5h0M109.9 208.3h0M111.8 210.2h0M114.7 210.4h0M97.1 199.4h0M95.3 198h0M95.8 197.8h0M95.3 200h0M96.2 197.4h0M96.5 197.2h0M98.3 197.9h0" stroke="#ff4500" stroke-width="2" stroke-linecap="round" fill="none" opacity="0.85"/>
<path d="M104.7 220.3h0M103.8 220.7h0M108.6 220.7h0M102.4 225.3h0M104.9 224.5h0M103.8 229.1h0M109.7 221.4h0M104.2 222.4h0M103.1 222.1h0M101.6 215.8h0M104.4 226.9h0M106.2 217.7h0M107.2 220.8h0M105.6 225h0M108.3 225.4h0M100 225.2h0M104.2 228.8h0M106.2 216.6h0M102.3 222h0M99.1 223.9h0M103.9 227.3h0M104.2 228.1h0M106.7 225.1h0M102.7 225.9h0M105.7 226.9h0M110.6 237.6h0M109.7 237.1h0M114.4 243.6h0M109.5 244.5h0M112.1 235.9h0M117.8 243.2h0M110.6 241.4h0M112.2 240.4h0M116.5 235.4h0M113.8 239.7h0M118 239.9h0M106.8 245.8h0M115.4 238.6h0M112.7 241.8h0M111 238.1h0M113.8 239.2h0M110.7 239.5h0" stroke="#00bfff" stroke-width="1.4" stroke-linecap="round" fill="none" opacity="0.85"/>
<path d="M99.4 224.1h0M106.3 223.8h0M100.7 216.5h0M104.6 224.5h0M102.8 226.1h0M99.9 225.4h0M105.8 218.6h0M102.6 225.7h0M112 221.9h0M101.6 227.3h0M105.1 223.8h0M102.2 224.9h0M110.4 226.1h0M106.7 221.5h0M100.9 222.9h0M103.4 225.8h0M106.5 223.9h0M106.3 221.1h0M105.3 229.8h0M102.8 220.7h0M105.6 226.9h0M103.2 229.5h0M108.1 225.5h0M108.3 222.9h0M106.7 223.6h0M105.3 223.1h0M104.3 227.4h0M106.9 227.8h0M103.9 227.2h0M101.3 221.5h0M102.3 224.6h0M101.8 224.3h0M111.1 242h0M111.9 240.6h0M110.2 239.5h0M111.3 240.9h0M112.9 242.8h0M110 238.2h0M109.8 239.1h0M110.3 235.7h0M112.2 237.9h0M112.6 239.7h0M112.1 242.9h0M109 241.7h0M115.4 239.2h0M113 241.3h0M116.4 242.5h0M114.6 234.6h0M110.9 242.8h0M108.9 238.2h0M110.8 237.4h0M110.6 239.2h0M116.8 242.3h0M111.3 239.3h0M109.8 241.8h0M110.4 241.2h0M109.3 237.8h0M113.5 237.4h0M111.8 241.6h0M112.9 237.7h0" stroke="#00bfff" stroke-width="2" stroke-linecap="round" fill="none" opacity="0.85"/>
<path d="M118.3 225.1h0M115.2 234h0M109.2 229.2h0M112.1 229.8h0M104.5 233.4h0M106 221.9h0M107.2 231.1h0M115.7 230.3h0M114.8 232.5h0M108.2 223.7h0M110.1 230.2h0M114 229.3h0M107 228h0M111.9 226.1h0M116.6 230.2h0M105.1 232h0M107.3 233.3h0M110.5 231.5h0M104.4 227.5h0M115 223.7h0M116.4 233.1h0M106.7 236.7h0M113.7 231h0M111.2 230.6h0M108.2 226.5h0M114.9 229.3h0M114.9 228.8h0M110.6 236.1h0M114.1 230.6h0M109.4 227.7h0M109.8 231.9h0M116 226.9h0M109.3 234.6h0M115.4 233.4h0M106.5 245.3h0M99.6 238.9h0M99.6 252.5h0M104.2 243.8h0M107.9 241.8h0M102.9 241.7h0M109.4 244h0M106.6 244.5h0M105 249.6h0M99.2 238.5h0M105.5 241.3h0M103.5 248.3h0M103 240.4h0M102.2 245.9h0M101.5 238.5h0M104.2 246.4h0M103.5 239.5h0M102.9 241.7h0M102.7 243.4h0M100.1 239.1h0" stroke="#1e90ff" stroke-width="2" stroke-linecap="round" fill="none" opacity="0.85"/>
<path d="M115.9 232h0M110.5 232.1h0M107.8 224.7h0M112.6 229.5h0M108.2 232.5h0M112.9 225.4h0M122.2 228.8h0M106.7 223.8h0M112.9 225.1h0M117 231.1h0M112.6 231.7h0M109.6 228.7h0M111.7 233h0M103.6 232.5h0M109.4 231.2h0M112.4 228.2h0M114.4 231.9h0M110.3 231.3h0M112.5 233.4h0M119.4 228.6h0M109.6 230.8h0M112.1 223.2h0M113.6 230.2h0M105.3 233.6h0M108.3 229.3h0M108.5 226h0M107.6 230h0M102.2 243h0M107.3 247.9h0M105.5 240.8h0M103.7 239.5h0M101.9 242.1h0M100.4 241.1h0M102.2 241.8h0M99.5 245.3h0M103.4 244.3h0M104.7 240.6h0M108.6 243.4h0M102.6 244.3h0M104.9 243.1h0M102.1 244.8h0M101.9 244.1h0M102.7 242.9h0M103 246.5h0M102.7 245.7h0M101.1 241.5h0M101.4 242.3h0M101.8 244.2h0M103.4 247.3h0M106.1 245h0M100.3 249.5h0M99.8 249.1h0" stroke="#1e90ff" stroke-width="1.4" stroke-linecap="round" fill="none" opacity="0.85"/>
<path d="M105.4 250.6h0M106 252.7h0M102.6 247.7h0M105.8 251.3h0M104.4 250.1h0M108.2 253.6h0M103.3 248.8h0M106.9 253.2h0M102.7 248.4h0M103.4 253.7h0M104.9 247.6h0M101.7 250.5h0M100.8 249h0" stroke="#ffff00" stroke-width="1.4" stroke-linecap="round" fill="none" opacity="0.85"/>
<path d="M104 251.7h0M103.8 252.1h0M106.1 251.6h0M102.2 250.4h0M104.2 253.9h0M104 246.5h0M105.2 250.6h0M102 250.2h0M106.7 249h0M102.3 249.6h0M104.6 248.8h0M107.8 251.8h0M106.4 252.2h0M105 249.9h0M106 249.1h0M104.8 248.5h0M103.8 250.1h0" stroke="#ffff00" stroke-width="2" stroke-linecap="round" fill="none" opacity="0.85"/>
<path d="M113 251.4h0M113.5 251.4h0M107.8 252.2h0M108.5 249.5h0M112.2 252.1h0M114.6 253.6h0M112.8 251.2h0M115.2 248.8h0M109.5 251.3h0M110.4 251.4h0M106.5 253.3h0M113.7 251.4h0M109.6 252.1h0M111.4 248.9h0M88.8 184.4h0M89.5 184.2h0M89.1 184.6h0M89.6 186h0M88.6 184.6h0M88.1 183.1h0M87.1 184.4h0M90.6 182.7h0M85.9 181.8h0" stroke="#adff2f" stroke-width="2" stroke-linecap="round" fill="none" opacity="0.85"/>
<path d="M114.9 250.9h0M114.8 250.4h0M110.5 249.6h0M113.4 251.5h0M112.3 252.2h0M112.4 251.9h0M117.3 251.9h0M114.6 248.8h0M109.1 249.6h0M115.4 254.8h0M113.7 253h0M112.2 252.3h0M113.6 253.5h0M110.8 252.8h0M86.1 185.3h0M86.9 180.3h0M87.7 181.8h0M90.8 181h0M91.7 184.9h0M84.5 183.7h0M89.6 187.1h0M84.6 187.4h0M89.1 184.3h0M89.5 181.9h0M86.4 182.4h0" stroke="#adff2f" stroke-width="1.4" stroke-linecap="round" fill="none" opacity="0.85"/>
<path d="M101.6 237h0M99.8 235.2h0M101.6 237.1h0M99.2 235.3h0M102.2 236.7h0" stroke="#ff3030" stroke-width="2" stroke-linecap="round" fill="none" opacity="0.85"/>
<path d="M99.7 237.2h0M101.6 237.9h0M100.5 236.9h0" stroke="#ff3030" stroke-width="1.4" stroke-linecap="round" fill="none" opacity="0.85"/>
</g>
<path d="M100,268 C99,262 99,250 98.5,238 C97,228 92,220 86,214" fill="none" stroke="#c4c4c4" stroke-width="0.4" />
<ellipse cx="52.8" cy="238.6" rx="3" ry="2.6" fill="#efefef" stroke="#d0d0d0" stroke-width="0.4"/>
<ellipse cx="58.6" cy="238.6" rx="3" ry="2.6" fill="#efefef" stroke="#d0d0d0" stroke-width="0.4"/>
<ellipse cx="56" cy="265" rx="11" ry="5" fill="#f0f0f0" stroke="#d4d4d4" stroke-width="0.4"/>
<path d="M43.5,251 C44,245 49,240.5 55.7,240.5 C62,240.5 67.5,245 68.5,251 C69.5,257 68,261 64,262.5 L48,262.5 C44.5,261 43,257 43.5,251 Z" fill="#ededed" stroke="#d0d0d0" stroke-width="0.5" />
<path d="M55.7,241 L55.7,262" fill="none" stroke="#dadada" stroke-width="0.3" />
<path d="M45,258 C50,261 62,261 67,258" fill="none" stroke="#dadada" stroke-width="0.3" />
<path d="M45.5,249.5 C47,245.5 50.5,242 54.5,241 L56.3,241 L56.6,252.5 L55,252.5 C54.6,249 53.5,246.5 51.5,246.5 C49.5,247 47.5,248.5 46.3,250.5 Z" fill="#8a88e8" opacity="0.85"/>
<line x1="45.2" y1="239.3" x2="51.5" y2="243.6" stroke="#231f20" stroke-width="0.5" />
<text x="32.8" y="237.8" font-size="6.00" textLength="12" lengthAdjust="spacingAndGlyphs">PFC</text>
<path d="M183,196 C192,192 204,196 209,206 C213,214 212,226 208,234 C204,238 198,238 194,236 Z" fill="#efefef" stroke="#d4d4d4" stroke-width="0.5" />
<path d="M199,212 C205,214 210,222 210,230 C210,236 205,238 202,235 Z" fill="#eaeaea" stroke="#d8d8d8" stroke-width="0.4" />
<path d="M140,221 C134,219 129,224 128.5,231 C128,238 133,244 140,244 C146,244 149,240 148,234 Z" fill="#efefef" stroke="#d4d4d4" stroke-width="0.5" />
<path d="M150,240 C160,247 175,249 188,246 C180,250 165,251 155,248 Z" fill="#eeeeee" stroke="#d8d8d8" stroke-width="0.4" />
<clipPath id="cWB"><path d="M137.3,217.5 C138,210 141,205 144.6,202.7 C150,198 156,196 162.6,195.4 L179,195.4 C186,196 190,198 193.7,201 C198,205 201,211 202,217.5 L202,230.5 C199,236 195,239 190.5,242 C185,244 180,244.5 174,244.5 C166,244.5 160,243.5 154.5,242 C148,240 144,237 141.4,233.8 C138.5,229 137,223 137.3,217.5 Z"/></clipPath>
<linearGradient id="gWB" x1="0.3" y1="0" x2="0.1" y2="1"><stop offset="0" stop-color="#8cb2dc"/><stop offset="0.45" stop-color="#9ab8e0"/><stop offset="0.75" stop-color="#8a78c8"/><stop offset="1" stop-color="#7a5cc0"/></linearGradient>
<path d="M137.3,217.5 C138,210 141,205 144.6,202.7 C150,198 156,196 162.6,195.4 L179,195.4 C186,196 190,198 193.7,201 C198,205 201,211 202,217.5 L202,230.5 C199,236 195,239 190.5,242 C185,244 180,244.5 174,244.5 C166,244.5 160,243.5 154.5,242 C148,240 144,237 141.4,233.8 C138.5,229 137,223 137.3,217.5 Z" fill="url(#gWB)" />
<g clip-path="url(#cWB)">
<path d="M179.4 244.7h0M140.5 229.1h0M183.5 228.5h0M161.3 227h0M154.8 238.1h0M166.9 228.1h0M139.8 235.3h0M136.5 236h0M148.6 237.2h0M180.1 236.6h0M162.9 239.8h0M158.8 245.5h0M175.5 229.7h0M170.1 229.3h0M174.7 237.1h0M137.9 228.3h0M174.3 237.8h0M169.6 235.8h0M172.9 243.3h0M149.9 228.5h0M136.5 237h0M178.4 236.9h0M166.5 235.3h0M169.2 242.1h0M157.1 241.9h0M158.3 227.8h0M173.1 234.4h0M148.1 229.3h0M172.4 233.7h0M168.4 234.4h0M172.3 236.6h0M157.3 240.2h0M159.9 245.3h0M154.3 230.7h0M136.6 236h0M138 230.6h0M182.2 232.9h0" stroke="#a090d0" stroke-width="1.6" stroke-linecap="round" fill="none" opacity="0.75"/>
<path d="M169.6 214.7h0M175.6 219.3h0M180.9 236.5h0M160.6 210.9h0M166.5 232.3h0M179.5 196.6h0M157.6 208.7h0M143.2 235.4h0M166.6 239.7h0M179.4 199.3h0M202.3 218.4h0M198.3 230.8h0M140.3 226.1h0M189 228.4h0M152.9 200.7h0M193.3 194.4h0M155.9 208.5h0M182.8 241.3h0M178.9 237.4h0M189.6 243.5h0M187.9 235.2h0M184.9 216.1h0M154.5 236h0M202.4 245.9h0M138.4 232.5h0M164.2 212.6h0M175.2 201.6h0M149.9 214.8h0M156.5 245.7h0M159.1 217h0M185.4 222.2h0M187.8 207h0M166.9 221.1h0M175.7 228h0M193.4 223.2h0M175.2 202.3h0M167.4 212.2h0M159.5 241.9h0M155.1 217.5h0M185.7 225h0M164.4 218.2h0M186.1 232.1h0M195.3 205.2h0M175.7 210.4h0M192.6 215.8h0M177.9 212.8h0M176 243.7h0M166 232.8h0M167.7 237.7h0M168.4 228.3h0M196.1 228.9h0M196 218.9h0M171 206.5h0M185.5 200.2h0M171.9 198.2h0M184.9 221.7h0M180.8 201.9h0M167.9 245.7h0M139.9 222.4h0M144.8 211h0M166.8 213.9h0M180.2 220.6h0M152.3 231.4h0M170.5 238.2h0M169.7 234.9h0M172.8 226.9h0M177.8 228.4h0M187.9 217.6h0M191.4 201.3h0M172.4 243.9h0M195.5 231.4h0M148.7 217.7h0M150.6 222h0M199.2 244.5h0M178.5 216.9h0M168.4 208.3h0M176.5 210.5h0M144.8 204.1h0M185 220.2h0M143.9 243.2h0M169.2 219.2h0M140.4 215.3h0M136.1 203.2h0M148.4 200.9h0M137.1 220.4h0M194.6 224.8h0M149 221.3h0M147.9 221.7h0M149.2 237h0M150.2 203h0M166.2 208.2h0M185.7 213.5h0M153.4 229.3h0M159.5 194.1h0M190.7 214.2h0M196.9 204h0M164.1 235.9h0M158.5 218h0M152.7 206h0M198 207.8h0M158.9 231.9h0M151.5 210.5h0M169.6 231.9h0M182.6 219.1h0M144.7 197.7h0M171.3 228.7h0M137.4 208.7h0M151.7 236.1h0M186.5 223.1h0M144.6 237.9h0M176.6 208.6h0M147 208.1h0M142.3 233.9h0M193.5 218.6h0M170.2 221.6h0M138.1 238.2h0M194.5 226h0M146.2 229.6h0M158.4 240.5h0M190.7 196.3h0M149 199.8h0M168.3 219.2h0M147.2 206h0M183.5 236.1h0M137.7 216.3h0M172.9 212h0M202.7 197.3h0M174.3 202.7h0M153.2 242.6h0M157.2 211.4h0M195.6 231.4h0M138.8 232.4h0M141.6 201.9h0M141.6 199.2h0M154.8 206.1h0M140.3 212.7h0" stroke="#7fa8d8" stroke-width="1.6" stroke-linecap="round" fill="none" opacity="0.75"/>
<path d="M180 216.8h0M158.2 208.1h0M166.8 215.6h0M179.5 223.2h0M166 222.5h0M165.5 222.3h0M150 208.8h0M172.5 216.7h0M139 218.3h0M168.9 222.9h0M187.4 222.9h0M169.4 216.6h0M141.1 211.1h0M141.7 212.5h0M180.2 196.9h0M152.8 206.7h0M173.8 201.6h0M144.7 218.1h0M176.5 198.6h0M180.9 209.2h0M166.3 213.9h0M175.8 206.9h0M160.5 205.4h0M173.6 215.8h0M176.6 196h0M166.6 200.6h0M190.2 231.2h0M186.2 209.6h0M154.9 198.1h0M145.5 211.3h0M182 211.6h0M161.5 206.6h0M148 196.3h0M150.2 224.1h0M160.5 212.6h0M180.3 196.4h0M169.6 201.6h0M141.5 204.2h0M154.5 197.7h0M141.7 213.1h0M181.2 201.7h0M189.3 221.3h0M166.1 201.8h0M144.2 194.2h0M136.2 202.5h0M150.2 223.2h0M148.6 218.4h0M172.5 197.6h0M137.2 215.9h0M176.4 220.1h0M162.2 211.8h0M141.1 224.6h0M181.6 210h0M191.1 213.1h0M185.4 205.1h0M147.6 212.8h0M169.4 219h0M136 216.8h0M140.3 202h0M174.3 195.5h0M188.2 211.1h0M189.7 232.5h0M180.1 215.1h0M176.2 212.3h0M164.3 224.1h0M147.5 214.6h0M145.3 217.5h0M141.7 202.8h0M137 224.5h0M149.6 197.6h0M169.4 210h0M164.6 198h0M140.8 195.6h0M176.3 215.2h0M151.6 217.3h0M177.7 221.5h0M184.7 214.9h0M177.6 200.7h0M191.7 232.8h0M177.5 216.6h0M139.2 212.9h0M154.8 219.1h0M163.4 220.1h0M144.9 211h0M174.3 212.7h0M178.6 206.1h0M157 210.2h0M157.6 221.1h0M181.1 208.3h0M183.5 225.7h0M165.3 203.4h0" stroke="#9bbce4" stroke-width="1.6" stroke-linecap="round" fill="none" opacity="0.75"/>
<path d="M199.5 208.3h0M199.7 225h0M159 244.7h0M174.3 197.1h0M167.1 195.8h0M202 217.1h0M147 239.1h0M199.5 209.3h0M140.6 205.5h0M191.3 201h0M192.2 243.3h0M153.8 245.9h0M193.7 200.4h0M188.6 194.3h0M201.3 219h0M137.7 223.6h0M166 195.9h0M152 240.9h0M157.1 198.8h0M149.4 243.1h0M137.4 210.5h0M139.1 229.4h0M202.2 212.5h0M193.9 197.4h0M155.4 197.3h0M195.4 234.8h0M174.8 243.7h0M195.8 205.6h0M193.3 243.2h0M197.9 240.4h0M137.1 219.4h0M145.3 242.5h0M153.5 194h0M180.1 243.2h0M158.4 243.1h0M195.9 205.7h0M199.9 204.1h0M191.3 202.8h0M201.4 197.2h0M149.9 241h0M185.7 242.4h0M137.3 207.6h0M143.1 197.8h0M187.6 242.7h0" stroke="#f08060" stroke-width="1" stroke-linecap="round" fill="none" opacity="0.75"/>
<path d="M194.3 218.3h0M199.1 229.8h0M192.4 234.3h0M198.8 198.5h0M198 207.4h0M169.8 243.3h0M173.5 242.9h0M193.7 234.3h0M164.6 195.5h0M143.7 207.7h0M142.4 239.5h0M142.2 245.5h0M199.6 230h0M169.1 245.2h0M196.1 208.2h0M144.9 199.7h0M199.5 238.8h0M196.4 219.3h0M196.4 199.5h0M189.4 239.1h0M197.7 199.9h0M138.2 243.5h0M201.2 228.4h0M145.5 197h0M197 207.5h0M199.9 240h0M179.8 245.8h0M153.9 244.2h0M198.6 213h0M198.5 235.4h0M200.6 209.8h0M153.2 196.9h0M149.3 200.5h0M136.6 216.3h0M202.9 211.3h0M201.3 199.6h0M199.9 242.5h0M195.3 217.7h0M200.1 212.5h0M174.7 194.6h0M202.1 223.2h0M156.6 195.8h0M202.4 220.2h0M136.1 228.1h0M202.3 235.6h0M156.1 243.4h0M195.6 234.8h0M194 216.2h0M148.4 237.8h0M178.1 194.9h0M196.5 223.4h0M196.9 235.9h0M152.4 197.8h0M200.1 239.5h0M197.3 241.9h0M201.5 212.7h0M145.9 203.1h0M146.7 194.2h0M199.9 207.2h0M201.2 226.9h0M145.6 239.4h0M196.3 220.3h0" stroke="#e89040" stroke-width="1.6" stroke-linecap="round" fill="none" opacity="0.75"/>
<path d="M187.9 215.9h0M171.4 203.8h0M173.2 221.7h0M147.5 211.9h0M144.5 203h0M156.3 223.8h0M191.8 241.9h0M170.5 207.8h0M191.2 241.3h0M143.4 201.8h0M170 215.8h0M160.3 200.5h0M164 213.3h0M173.9 217.6h0M164.3 207.8h0M188 231.4h0M187.4 217h0M165.2 206h0M180.2 198.8h0M161.2 203.3h0M189.9 242.6h0M138.5 195.8h0M173.2 205.5h0M171.5 201.9h0M189.4 196.3h0M176.3 216.3h0M142 224h0M157 209.6h0M166 211.5h0M154.8 209.5h0M175.7 222.1h0M176.8 212.1h0M169.7 223.7h0M166.4 214.9h0M158.7 206h0M161.8 208.1h0M168.2 202.6h0M138.6 204.2h0M179.3 214.6h0M189.4 205.9h0M149.1 194.2h0M152.9 215.5h0M179.6 206.2h0M163.6 223.7h0M189.6 242.7h0M155.2 205.7h0M186.9 197.7h0M152.4 210.1h0M172.7 216.6h0M188.3 228.7h0M153 222.5h0M189 220.1h0M190.5 208.2h0M174.1 212.7h0M176 196.5h0M191.2 215.1h0M149.1 225.4h0M163.7 200.3h0M188.6 235.6h0M143.7 225.3h0M149.5 220.8h0M144.5 220.9h0M154.1 200.8h0M141.8 223.9h0M152.5 197.5h0M152.1 210.9h0M184.1 203.3h0M165.3 200.9h0M191.7 212.9h0M172.7 212.2h0M182.1 214h0M183 197.1h0M180.2 205h0M175.9 198.2h0M138.1 220.1h0M151.9 220.4h0M152.4 215.8h0M173.7 210.6h0M149.2 205.9h0M152.6 219.2h0M152.6 202.9h0" stroke="#a8c4e8" stroke-width="1.6" stroke-linecap="round" fill="none" opacity="0.75"/>
<path d="M186 204.3h0M182.6 212.8h0M179.9 211.2h0M187.6 204.3h0M162.7 220.2h0M162.8 213.3h0M140 220.9h0M189.5 216.2h0M160.5 216.8h0M150.8 216.9h0M174.2 223.3h0M189.2 208.9h0M169.9 195.3h0M179.2 215.1h0M177.2 224.7h0M177.7 215.5h0M182.2 220.5h0M138.5 207.5h0M188.1 228.6h0M173.2 202.2h0M153.6 196.4h0M136 204.4h0M176.5 211.9h0M175.8 216.8h0M189.8 195h0M156.6 209.6h0M150.1 215.8h0M150.5 197.6h0M142.6 204.8h0M139.5 204.8h0M162.3 221h0M186.8 225.6h0M190.3 211.2h0M171.8 215.8h0M166.2 203.1h0M167.7 207.9h0M163.3 218.8h0M170.3 196.1h0M173.9 222.5h0M189 234.1h0M167.2 210h0M171.1 225.1h0M181.3 215h0M162.4 201.7h0M166.4 205.6h0M148 219h0M191.4 220.3h0M141.6 220.6h0M170.4 223.2h0M145 217.9h0M183 210.8h0M145.6 212h0M180.6 211.4h0M170.5 220.1h0M144.6 201.4h0M158.8 225.3h0M159 216.2h0M191.6 227.3h0M188.1 208.8h0M182.7 200.9h0M191.4 229.8h0M174 225.1h0M161.3 196.5h0M160.8 196.8h0M140.7 224.3h0M161 221.1h0M151.1 197.3h0M185.9 224.6h0M188.6 197.1h0M154.5 199.4h0M190.7 212.2h0M188.8 237.9h0M140.5 194.4h0M188.3 220.6h0M153.6 223.4h0M175 221.8h0" stroke="#a8c4e8" stroke-width="1" stroke-linecap="round" fill="none" opacity="0.75"/>
<path d="M177.4 197.4h0M176.9 194.2h0M193.4 238.5h0M193 225.8h0M147.8 203.8h0M200.8 214.2h0M194.3 243.1h0M198.1 227.2h0M194.2 230.5h0M201.6 216h0M201.2 236.8h0M179.4 196.1h0M179.8 195h0M201.4 207.6h0M194.4 201.4h0M182.6 245.7h0M195.7 202.9h0M161.5 195.6h0M200.6 206.8h0M194.7 224.9h0M141.6 245.5h0M143.3 245.3h0M198 198.2h0M195.5 218.6h0M202.7 239.9h0M144 200.1h0M136.6 234.5h0M165.9 195.5h0M148 195.5h0M192.5 217.6h0M200 240.8h0M136.6 201.3h0M191 198.1h0M194 246h0M146.1 202.4h0M198 235.6h0M199.9 243.8h0M200.7 205.9h0M199.6 199.8h0M198.6 198.6h0M199.5 223.2h0M195.5 232.7h0M192.3 210.3h0M195.3 219.3h0M194.9 194.7h0M173.5 243.6h0M193.8 197.9h0M137 220h0M202.8 228.5h0M198.8 208.9h0M198.7 230.6h0M193.6 230.8h0M147.8 239.6h0M194 240.1h0M199.2 220.4h0M198.3 215.5h0M166.1 245.9h0M193 209.5h0M144.9 236.4h0M192.1 238.4h0M200.6 207.6h0M197.2 222.5h0M201 236.8h0M182.1 244.6h0M169.2 245.2h0M201.8 219.9h0M201.9 222.7h0M195.8 220.7h0M192.8 229.1h0M198.2 212.5h0M201.2 223h0M194.1 225.5h0M199.4 204.2h0M152.2 199.9h0M146.3 238.5h0M196.5 244.8h0M136.2 196h0M199.7 204.5h0M192.9 241.6h0M192.3 221.3h0" stroke="#f0a050" stroke-width="1" stroke-linecap="round" fill="none" opacity="0.75"/>
<path d="M159.4 230.1h0M161.5 228h0M151.8 233.4h0M145.9 233.9h0M160.5 244.5h0M151.5 227.5h0M178 242.1h0M181.7 237.9h0M157.7 231.7h0M164.4 229.3h0M162.1 244.5h0M171.7 239h0M159.3 232.8h0M149.4 238.9h0M181 241.8h0M185.4 236h0M165.7 242h0M182.8 228.1h0M182.2 245.7h0M136.8 242.1h0M177.5 238.5h0M151.9 236.3h0M180 239.5h0M150.5 233.8h0M176 232.9h0M137.6 227.8h0M154 240.6h0M169.1 233.2h0M162.7 227.8h0M179.1 242.4h0M163.2 230.3h0M163.3 230.7h0M136.2 229.7h0M172.1 244.8h0M175.7 243.4h0M162.9 241.8h0M168.5 242.3h0M138.7 232.6h0M182.4 245.8h0M157.9 229.3h0M166.7 233.9h0M154.7 239.8h0M164.7 244.3h0M137.1 245.3h0M165.6 230.8h0M176.9 228.3h0M161.2 231h0M144.2 241h0M155.7 230.2h0M149.9 237.3h0M162.1 237.2h0M160.8 235.2h0M170.6 231.6h0M153.2 231.7h0M167 232.3h0M164.2 241.2h0M143.9 234.7h0M138.4 231.8h0M157.3 232.7h0M143.2 243.6h0M166.7 236.7h0M137.7 231h0M142.2 245h0M153.8 239.8h0M139.5 235.2h0M138.3 229.4h0M173.4 230.3h0M165.3 237.5h0M140.1 234.7h0M159.6 242.5h0M177 236.4h0M145.5 235.1h0M184.7 244.8h0M163 229.9h0M138.2 244.9h0M172 228.2h0M141.5 237.6h0M172.8 226.6h0M144.5 227.5h0M141.7 242.1h0M183.2 236.6h0" stroke="#8a6ccc" stroke-width="1.6" stroke-linecap="round" fill="none" opacity="0.75"/>
<path d="M149.9 228h0M176.7 243h0M170.8 237.8h0M179.6 236.3h0M180.3 228.4h0M159.4 227.9h0M171.8 239.2h0M157.4 227.1h0M165.1 231.3h0M146.8 233.8h0M160.2 245.7h0M147.6 232.5h0M153.8 235.9h0M180.5 226.6h0M181.9 231.8h0M180.8 238.7h0M178.6 240.2h0M170 241.2h0M160.4 240.9h0M140.9 227.2h0M143.9 233.3h0M169.3 241.9h0M136.5 241h0M150.6 235.8h0M159.5 242.7h0M168.6 236.7h0M184.7 228.5h0M176.1 236.8h0M157.6 231.6h0M171.9 235.7h0M183 234.2h0M172 227.3h0M170.8 232.5h0M175.7 237.3h0M157.3 239.1h0M161.3 235.9h0M153.1 226.2h0M149.6 227.5h0M154.9 226.1h0M181.2 240.6h0M139.6 239.9h0M144.5 234.8h0M173.8 228.8h0M148.6 241.5h0M184.4 240.2h0M162.8 239.5h0M155.9 245.8h0M161.3 232.4h0M159.4 243.8h0M157 230.3h0M153.9 233.3h0M162.9 240.4h0M141 244.4h0M187.9 233.6h0M166.4 243.5h0M178.6 233.8h0M155.8 231.5h0M146.1 231h0M168.5 231.6h0M146 242.6h0M150.6 231.6h0M148.1 228.8h0M182.9 231.9h0M168.9 244.7h0M180.6 244.8h0M170 241.1h0M137.6 229.6h0M157.9 239.8h0M158.5 235.3h0M167.1 228.2h0M148.6 230.9h0M163.6 242.7h0M175 230.8h0M163.5 233.4h0M177.8 227.6h0M168.3 226.9h0M180 240.9h0M176.8 228h0M164.4 226.4h0M136.2 228.5h0M137.3 245.6h0M183.6 226.9h0" stroke="#8a6ccc" stroke-width="1" stroke-linecap="round" fill="none" opacity="0.75"/>
<path d="M163.1 241.8h0M162.2 233h0M166.3 227.5h0M147.5 233.5h0M177.1 236h0M157.2 240.4h0M174.5 239.2h0M168.7 234.6h0M174.9 241.9h0M140.1 239h0M153.7 229.3h0M183.3 245.3h0M174.6 234.5h0M177.5 243.4h0M152.1 240.2h0M154.3 233.7h0M168 237.7h0M166.8 229.1h0M164.2 235h0M174.7 233h0M164.1 230.9h0M160.3 230.5h0M170.8 226.3h0M137 244h0M163.6 233.1h0M154.3 229.3h0M177.2 243.7h0M136.9 244.8h0M160.8 238.9h0M152.8 236.5h0M177.3 244.4h0M144.3 226h0M160.3 238.8h0M180.4 226.4h0M157.8 245.2h0M161.4 235.5h0" stroke="#9b88d8" stroke-width="1.6" stroke-linecap="round" fill="none" opacity="0.75"/>
<path d="M157.9 203.4h0M141.1 201.3h0M166.5 222.3h0M190.7 204h0M146.5 205.9h0M186.5 209.2h0M178.7 218.6h0M175.4 219.9h0M137.8 218.1h0M167.1 219.7h0M156 210.5h0M170.3 198.3h0M183 197.9h0M143.4 195.9h0M176.5 205.8h0M191.5 221.2h0M162.4 205.4h0M173 219.2h0M145.1 214.9h0M145.1 213.6h0M180.3 216.1h0M171.7 195h0M149.2 215h0M140.9 217.1h0M170.4 212.9h0M151.8 220.2h0M186.5 223.7h0M149.5 197.1h0M173.8 215.6h0M147 217.1h0M188.1 213.7h0M148.4 212h0M180.3 221.5h0M162.4 213.9h0M166.9 194.7h0M168.4 224.4h0M153.7 196.6h0M181.3 220.4h0M164.7 208h0M141.2 197.4h0M152.9 213.2h0M157.8 196.1h0M161 204.5h0M137.3 209.2h0M191 212h0M187.1 197h0M178 215.7h0M151.2 209.8h0M152.8 198.6h0M149.1 213.6h0M172.3 206.4h0M173.1 198.6h0M179.7 218h0M156.6 200.9h0M149.1 200.2h0M177.1 223h0M153.8 203h0M183.5 208.2h0M152.3 208.6h0M179 207.8h0M146 206h0M147 218.2h0M167.5 217h0M136.6 219.2h0M174.2 214.7h0" stroke="#6f98d0" stroke-width="1.6" stroke-linecap="round" fill="none" opacity="0.75"/>
<path d="M197.9 227.5h0M195.1 222.7h0M189 200.5h0M165.6 244h0M193 203h0M140.8 211.5h0M197.6 234.5h0M194.7 245.2h0M197.2 198.2h0M196.1 207.9h0M181.5 244.9h0M194.3 201.1h0M200.9 197.4h0M169.2 244.6h0M202.2 241.1h0M165.8 245.2h0M192.9 226.7h0M197.6 226.9h0M145.4 202.7h0M196.5 241.3h0M192.6 202.7h0M194.2 196.4h0M202.7 199.5h0M202.8 243.9h0M193.3 242h0M195 240.5h0M198.9 211.6h0M167.5 244h0M139.1 228.7h0M197.7 198.4h0M198.2 201.8h0M199.8 210.5h0M192.1 223h0M198.5 226.4h0M197.6 201.6h0M195.6 240.5h0M197 237.6h0M186 241.8h0M202 236.4h0M196.8 200h0M164 244.4h0M197.5 213.5h0M202.8 205.8h0M196.4 200h0M199.8 221.6h0M196 201.4h0M195.9 243.6h0M193.4 213.6h0M150.1 197.2h0M198 229.8h0M140 226.6h0M194.6 231.4h0M197.5 203.3h0M196.6 232.4h0M200.6 228.4h0M168.8 244.9h0M181.7 243.9h0M152.1 241.8h0M198.2 212.5h0M200 231.8h0M196 216.5h0M193.5 216.4h0M138.4 195.8h0M188.1 244.3h0M193.8 245.9h0M145 204h0M196.3 211h0M192.4 228.8h0M146.8 239.5h0M194.4 201.9h0M195.5 232.9h0M195.8 210.9h0M188.6 239.5h0M193.5 214.3h0M192.6 214.3h0M196.1 221.8h0M140 208.5h0M139.2 222.3h0M196 234.9h0M198.9 212.9h0M146.5 237.3h0M196.1 233h0M201.9 229.7h0M136.8 206.9h0" stroke="#f0a050" stroke-width="1.6" stroke-linecap="round" fill="none" opacity="0.75"/>
<path d="M196.3 227.3h0M196.3 213.9h0M196.4 200.1h0M188.9 204.9h0M160.2 216.1h0M182.2 198.5h0M196 226.8h0M174.7 222.5h0M151.6 227.3h0M164 237.6h0M162.3 222.8h0M144 243.8h0M163.4 210.2h0M148.6 227.2h0M168.6 233.7h0M178.8 215.7h0M164.2 232.8h0M164.2 196.4h0M167.8 239.8h0M160.3 228.4h0M171.4 225.9h0M190.5 198.7h0M199.8 202h0M189.4 230h0M167.7 229.7h0M140.8 224.6h0M145.8 215.4h0M151.4 237.6h0M192.3 216.3h0M171.1 212.7h0M168.6 242.3h0M195.4 210.8h0M139.3 216.7h0M188.2 207.6h0M163.6 243.5h0M175.5 205.1h0M164.3 219.7h0M144 213.4h0M175.7 244.5h0M139.8 222.2h0M192.2 224.1h0M158.2 234.8h0M173.4 244.3h0M162.5 221.4h0M183 227.6h0M171.4 207h0M167.8 199.2h0M201.6 227.9h0M145.5 227.3h0M170.4 216.2h0M141.7 237.6h0M161.6 205.2h0M151.9 203h0M150.8 236.3h0M178.2 238.1h0M178.2 199.6h0M174.8 240.4h0M186.4 235.7h0M153.8 228.9h0M145.5 194.8h0M192 245.6h0M168.3 231.1h0M195.1 218.9h0M158 210.6h0M188.2 226.5h0M145.1 222.7h0M154.6 227.8h0M156.8 209.6h0M155.6 212.8h0M154.8 244.2h0M158.3 199.2h0M188.9 194.3h0M191.9 232.9h0M179.6 232.9h0M149.5 239.2h0M192.1 207.6h0M183.7 233.4h0M153.1 217.9h0M192.5 213.1h0M155.5 213.7h0M157.9 244.5h0M165.5 236.6h0M148.2 206.5h0M177.5 206.4h0M145.1 243.2h0M167.6 215h0M142.1 206h0M155.6 196.7h0M187.1 228.2h0M178.4 211.3h0M161.3 220.4h0M141.1 209.5h0M148 219.4h0M196.6 200.6h0M172.6 213.3h0M184.7 235.8h0M159.3 195.7h0M145.5 201.6h0M175.2 203.9h0M182.2 200.6h0M201.9 225.9h0M164.6 198.6h0M181.4 218.1h0M186 214.7h0M177.2 238.8h0M172.5 220.3h0M161.2 205.4h0M183.9 209.8h0M171.2 210.1h0M184.1 205.5h0M151.5 242.7h0M192 208.1h0M184.5 220h0M143 217.3h0M138.8 228.6h0M201.9 226.2h0M191.9 234.7h0M138.4 241.3h0M163.7 200.3h0M199.7 224.4h0M190.7 229.3h0M136.1 201.4h0M172.2 200.7h0M150.5 208.3h0M153.9 232.8h0M179.3 235.1h0M153.3 201.9h0M145.4 204.2h0M149.3 222.2h0M197.3 223.5h0M144.6 226h0M199.8 209.3h0M140.1 238.4h0M144.4 235.6h0M139.4 195.4h0M171.6 205.2h0M144.5 204h0M142.9 220.8h0M143.5 200.8h0M187.3 215.2h0M172.6 240.9h0M183.4 206.4h0M144.8 216.4h0M160.9 223.5h0" stroke="#7fa8d8" stroke-width="1" stroke-linecap="round" fill="none" opacity="0.75"/>
<path d="M170.7 235.2h0M147.4 229.5h0M172.3 241.8h0M161.3 235.2h0M182.1 234.6h0M170.9 244.5h0M176.1 227.1h0M152.5 240.7h0M161.3 234.6h0M186.5 232.7h0M164.1 227.2h0M182.6 238.3h0M182 227.8h0M155.3 234.5h0M147.3 246h0M181.6 240h0M144.2 228.9h0M167.9 243.1h0M163.5 228.8h0M181 238.9h0M137.2 228.7h0M144.7 231h0M156.7 227.5h0M157.4 244.3h0M154.6 236.5h0M175.7 244.1h0M147.6 240.8h0M162.7 226.7h0M156.3 230.6h0M183.9 232.8h0M140.5 229.6h0M181.2 236.7h0M183.2 234.7h0M142.5 235h0M142.5 234.2h0M180.4 227.9h0M166.7 232.7h0M165.4 231.6h0M182.6 235h0M145.9 243.1h0" stroke="#7d5cc0" stroke-width="1.6" stroke-linecap="round" fill="none" opacity="0.75"/>
<path d="M157.6 208.5h0M146.2 223.6h0M167 205.1h0M143.2 212.7h0M186.5 214.4h0M164.1 224.2h0M165.2 203.7h0M182.9 195.9h0M186.5 221.6h0M151.7 195.1h0M145.2 202.9h0M190.9 229h0M141.6 202.7h0M140.3 214.9h0M140.5 219.4h0M190.7 232.3h0M141.2 221.2h0M178.6 194.4h0M163.4 209h0M172 220.8h0M143.2 203.8h0M188.5 233h0M177.5 222.6h0M161 198h0M185.8 225.4h0M142.5 210.3h0M179.1 223h0M162.3 196.1h0M185.7 209.1h0M143.3 215.9h0M179.1 199.4h0M172.7 206.6h0M184 211.3h0M164.5 202.7h0M166.7 215.1h0M179 200.8h0M150.3 218h0M147.3 208.4h0M137.9 224.4h0M151.8 219.9h0M191.5 208.5h0M176.2 206h0M161.7 202.9h0M186.2 223.8h0M179.4 203.9h0M185.2 208h0M188 206.5h0M158.4 221.7h0M187.3 201.2h0M183.2 200.3h0M181.5 225h0M140.5 214.4h0M166.1 206.7h0M191.1 230.9h0M166.3 218.4h0M163.9 203.3h0M137.9 212.5h0M138.2 219.2h0M152.4 214.7h0M143.8 209.2h0M180.2 218.8h0M149.3 215.9h0M171.7 201.8h0M175.5 214.9h0M175.3 200.7h0M161.9 204.1h0M191.6 241.8h0M137.4 209.6h0M162.2 203.9h0M184.5 214.5h0M180 216.7h0M147.1 212.8h0M171.8 203.2h0M162.3 208.4h0M183.4 215.9h0M149.1 220.6h0M141.7 202.8h0M190.1 218.4h0M185.3 205.2h0M164 206h0M190.9 220.4h0M180.2 212.2h0M139.9 212h0M143.1 208.6h0M164.7 205.9h0M147.8 208.2h0M175.1 222.1h0M174.1 221.3h0M170.3 201.2h0" stroke="#6f98d0" stroke-width="1" stroke-linecap="round" fill="none" opacity="0.75"/>
<path d="M186.2 233.7h0M180.5 239.7h0M174.8 230.8h0M170 245.8h0M184.5 229.1h0M164.5 233.7h0M177.8 241.2h0M144.2 229.2h0M170 234.8h0M149.2 227.8h0M166.9 237.1h0M150.1 244h0M136.2 237.3h0M154.7 231.3h0M182 234.8h0M181.2 235h0M170 230.2h0M167.4 229.7h0M147.1 238.3h0M146.4 241.8h0M153.7 241.1h0M174.4 235.9h0M182.2 239h0M163.6 231h0M148.1 233.5h0M163.6 226.9h0M170.2 231h0M171.4 232.8h0M170.9 228.1h0M184.2 232.7h0M145.9 226.7h0M175.3 234.5h0M177.6 240.8h0M186.1 236.6h0M149.2 233.9h0M154.3 233.7h0M144.4 228.4h0M150 238.2h0M163.3 241.1h0M147.2 230.2h0M164.4 242.6h0M149.4 245.4h0M142.9 235.7h0M171.6 230.3h0M168.3 233.6h0" stroke="#6f50b8" stroke-width="1" stroke-linecap="round" fill="none" opacity="0.75"/>
<path d="M146.3 240.2h0M202.9 218.1h0M137.7 199h0M195.4 238.1h0M139.3 221.3h0M199.9 201.7h0M194.9 205.4h0M177.7 197.2h0M199.2 202.2h0M149.8 194.4h0M198.7 236.5h0M201.6 219.1h0M199.5 230h0M175 243.9h0M147.2 204.4h0M141 239.3h0M138.4 209.5h0M196.6 208.3h0M190.1 241.4h0M136.6 218h0M161.9 244.1h0M141.6 211.2h0M197.2 209.3h0M181.8 245.7h0M181.4 243.4h0M182.2 196.7h0M201.2 214.6h0M154.1 194.5h0M195.7 243h0M140.4 208.4h0M193.9 237.7h0M155.2 244.9h0M199.8 207.8h0M136.5 221.5h0" stroke="#f08060" stroke-width="1.6" stroke-linecap="round" fill="none" opacity="0.75"/>
<path d="M183.4 239.1h0M168.5 243.8h0M152.7 236.1h0M179.6 241.7h0M160.6 235.2h0M184 229.1h0M168.7 245.2h0M180.9 241.1h0M176.6 238.3h0M158.3 237.3h0M139.7 240.2h0M161.7 229h0M183.3 236.3h0M182.3 242.5h0M161.4 229.9h0M151.8 235.9h0M149.4 235h0M172.7 227.6h0M157.3 231.3h0M163.2 238.9h0M175.8 245.7h0M168.1 226.1h0M159.4 237.2h0M169.8 233.7h0M159.8 233.4h0M137.7 231.9h0M146 244.7h0M161.5 241h0M166.4 242.1h0M162.7 245.7h0M154 230.4h0M153.9 232.4h0M147.1 227h0M153.3 238h0M178.2 230.8h0M182.3 243.9h0M185.2 234h0M183.7 239.9h0M175.8 235.1h0M167.2 229.7h0" stroke="#a090d0" stroke-width="1" stroke-linecap="round" fill="none" opacity="0.75"/>
<path d="M181.1 204h0M153.8 202.6h0M167.3 212.8h0M148.3 223h0M140.4 218.8h0M145.1 221.5h0M141.2 205.5h0M142.8 212.5h0M169.5 197.5h0M186.3 215.8h0M185.2 211.6h0M150.9 218.4h0M188 200.2h0M147.1 201.2h0M154.5 220.1h0M170.2 211.5h0M170.1 197.6h0M189.2 207.6h0M143.6 223.7h0M165 196h0M151.3 211.3h0M179.3 220.9h0M161.6 213.6h0M173.4 224.1h0M174.1 205.2h0M179.3 199.5h0M154 206.8h0M182.8 206.7h0M161.9 200h0M174.2 214.2h0M164.3 209.4h0M158.6 200.7h0M181.8 219.5h0M151.6 223.8h0M136.6 218.4h0M172.6 203.1h0M156.6 216.2h0M174.3 212.5h0M160.5 219.8h0M168.2 209.6h0M188 237h0M154.6 194.9h0M145.9 214.1h0M175.9 218.2h0M190.2 209.2h0M163 213.3h0M156.5 217.4h0M188.2 244.2h0M168.9 209.3h0M166.2 210.5h0M169.3 213.9h0M164.9 194h0M159.2 212.5h0M177.2 211.1h0M157.5 200.8h0M188.3 234.6h0M143.2 207.8h0M190.7 218.1h0M156.7 222.9h0M149.1 198.2h0M171.9 221.9h0M156.2 218.3h0M150.8 200.4h0M170 210.8h0M173.9 225.4h0M162.8 200h0M166.3 209.5h0M160.9 205.8h0M168.6 224.3h0M149.6 221.8h0M158.6 223.4h0M146.5 204.9h0M159.8 223.5h0M142.5 208h0M138 217h0M184 225.9h0M187.6 197.2h0M144.1 211.8h0M160.1 205.5h0M159 223.4h0M152.3 207.5h0M182 209.9h0M172.9 208.7h0M157.8 209.2h0M161.3 225.7h0M171.6 216.6h0M136.2 205.7h0" stroke="#9bbce4" stroke-width="1" stroke-linecap="round" fill="none" opacity="0.75"/>
<path d="M173.8 227.9h0M155.7 244.7h0M143.8 231.4h0M139.1 240.9h0M170.7 231.7h0M168.2 226.6h0M164.4 227.3h0M175.9 226.3h0M143.6 229.2h0M155.9 241.1h0M178.3 228.5h0M173.8 243.1h0M146.7 234.6h0M173.2 246h0M169.3 238h0M155.9 227.7h0M187.7 234.8h0M170.2 242.9h0M167.7 232.7h0M154 232.1h0M154.2 236h0M173.8 232h0M146.6 242.1h0M169.7 232.4h0M146.4 227.9h0M175.3 242h0M184.6 232.2h0M152 235.3h0M185 245.6h0M167.5 244h0M155.8 237.9h0M174.7 239.3h0M174.2 240.9h0M180.3 241.9h0M176.4 237.6h0M156.4 239.5h0M153.8 233h0M159.5 228.1h0M163.9 241.3h0" stroke="#9b88d8" stroke-width="1" stroke-linecap="round" fill="none" opacity="0.75"/>
<path d="M159.2 213.8h0M161.7 221.7h0M177 202h0M144.8 196.6h0M148.6 207.6h0M146 211.4h0M145.7 220.2h0M189.4 201.1h0M169.5 209.9h0M137.5 210.2h0M147 206.4h0M160.7 225.1h0M189.6 239.8h0M160.6 210.3h0M163.1 198.4h0M144.3 220.5h0M176.5 206.7h0M149.1 218.3h0M137.3 207.7h0M170.5 212.7h0M176.2 203.2h0M156.4 199.7h0M185.8 220h0M184.2 203.3h0M151.4 213.5h0M167.6 216.2h0M167 203.3h0M189.8 227.9h0M173.7 207.8h0M158.2 223.1h0M145 225.9h0M187.1 212.5h0M152.1 223.5h0M155 200.3h0M190.1 231.4h0M164.2 224.1h0M163.6 205.5h0M154.9 220.1h0M169.2 216.4h0M150.1 221.5h0M191.3 205.1h0M189 197h0M151 210.3h0M170.3 207.3h0M183.9 224.6h0M167.7 208.9h0M167.3 204.4h0M158.1 203.7h0M160 211.4h0M188.7 244.2h0M188 225h0M172.5 208.1h0M154.8 194.1h0M180.8 219.2h0M170 214.6h0M160.3 217.6h0M184.6 210.9h0M159.1 214.7h0M190.5 223.8h0M159.8 212.1h0M174.4 216.7h0M157.2 221.7h0M160.3 201.5h0M145.3 211h0M157.6 197.5h0M189.2 242.6h0M165.9 219.9h0M166.9 206.1h0M186 208.3h0M148.8 201.9h0M159.3 207.5h0M179.9 221.3h0M163.3 197h0M176.1 209.5h0M163.8 211.5h0M190.9 245.2h0M173.2 215.5h0M143.3 216.1h0M170.5 220.4h0M182.6 203.5h0M190.6 211.9h0" stroke="#8a78c8" stroke-width="1.6" stroke-linecap="round" fill="none" opacity="0.75"/>
<path d="M193.7 237.6h0M198.2 232.6h0M194.9 210.6h0M192.6 240.1h0M196.4 237h0M192.8 238.4h0M145.2 245h0M188.8 245.5h0M197.8 216.2h0M198.5 232.8h0M198.3 203.5h0M197.7 198.3h0M170 195.5h0M197.6 203.9h0M180.6 195.7h0M141 231.6h0M137.6 210.2h0M136.1 194.8h0M179.3 195.5h0M190.7 194.4h0M201 217.5h0M202 194.2h0M201.1 243.4h0M150 197.7h0M155.5 241.4h0M140 240.1h0M198.7 224.6h0M194 223.9h0M193 226.9h0M197 240.2h0M147.5 235.9h0M199.8 239.9h0M194.5 196.3h0M200.3 226.2h0M142.2 233.8h0M155.5 240.9h0M177.3 195.2h0M195.8 221.8h0M199.3 214.9h0M201.7 244.9h0M143.9 205h0M142.9 240.9h0M199.9 230.8h0M194 228.7h0M153.2 239.3h0M201.4 216.4h0M200.3 224.7h0M138.5 214h0M201.9 221.3h0M192.9 236.9h0M150.9 201.8h0M192.8 195.9h0M197.2 229.7h0M195.2 219.2h0M142 240.4h0M141.3 237.3h0M201.9 224.2h0M192.3 198.3h0M194.1 206.1h0" stroke="#90c870" stroke-width="1" stroke-linecap="round" fill="none" opacity="0.75"/>
<path d="M160.3 224.4h0M163.2 212.5h0M154 209.1h0M176.7 211.3h0M144.7 212.3h0M141.3 217h0M180.2 217.7h0M160 210.3h0M170 211.7h0M154.3 202h0M145.4 221.6h0M176.6 219.5h0M161.4 207.6h0M153.6 216.1h0M177.1 220.6h0M188.8 207.5h0M164.6 223h0M142.5 210h0M188.3 226.7h0M189.3 198.4h0M163.5 198.1h0M146.9 224.9h0M184.3 212.3h0M188.8 229.3h0M176.3 217.9h0M190.3 220.4h0M149.2 198.8h0M181.7 208.8h0M173.8 223.9h0M174.9 217.9h0M177.6 206.7h0M165.2 210.4h0M179.5 222.2h0M191.3 200.6h0M187.6 213.5h0M142.6 222.9h0M137.9 211.7h0M180.2 217.2h0M190.7 235.7h0M169.8 211.6h0M183 211.3h0M156 203.7h0M191.4 202.6h0M145.4 216h0M163.1 200.5h0M167 212.3h0M179.3 218.8h0M175.4 196.5h0M138.5 196h0M146.3 223.7h0M140 207h0M164 208.6h0M167 219.1h0M191.6 234h0M191.9 210.7h0M151.4 216h0M174.9 214.8h0M177.4 222.6h0M181 196.1h0M172.5 194.2h0M160.9 221.1h0M137.7 222.2h0M146 224.9h0M141.4 200.6h0M149.6 222.8h0M177.4 217.5h0M155.6 214.4h0M140.6 216h0M138.8 211.8h0" stroke="#b0cce8" stroke-width="1" stroke-linecap="round" fill="none" opacity="0.75"/>
<path d="M192.2 213.4h0M197.1 234.1h0M142.7 242.8h0M178.9 194.5h0M194.4 220.8h0M201.8 224h0M146.2 238.8h0M201.6 194.8h0M195.5 194.4h0M189 197.5h0M186.7 245.3h0M199.9 201.9h0M168.5 244.6h0M187.6 194.9h0M187.7 242.9h0M189.2 238.2h0M192.3 215.4h0M195.8 196.5h0M195.5 203.6h0M144 201.8h0M193.4 207.6h0M194.2 241.4h0M136.6 202.7h0M150.3 194.5h0M140.7 235.2h0M198.5 195.5h0M193.9 242.3h0M192.8 216.5h0M191.2 242.6h0M197.9 227h0M202.4 212.2h0M192.9 239.9h0M202.9 204.3h0M202.4 230.4h0M200.1 195.8h0M137.1 242h0M166.2 243.4h0M143.1 242.4h0M202.7 205.6h0M201.8 219.8h0M139.6 197.9h0M187.9 196h0M195.4 211.9h0M200.4 205.6h0M198.5 215.1h0M195.6 204.8h0M196.6 205h0M137 209.9h0M200.2 242.3h0M197.8 208.3h0M199.9 202.3h0M196.4 203.5h0M202 228.8h0M173.3 194.9h0M173.1 244.2h0M194.8 201.6h0M194.8 214.9h0M196 223.6h0M139.3 212.4h0M191.9 238.5h0M164.3 243.8h0M153.8 200.4h0M136.7 198.4h0M199.6 214.5h0" stroke="#e89040" stroke-width="1" stroke-linecap="round" fill="none" opacity="0.75"/>
<path d="M157.6 220.4h0M150.5 220.5h0M168.4 201.9h0M171.7 212.6h0M190.8 194h0M180.2 206.4h0M166.9 223h0M146.5 197.4h0M159.5 215.3h0M166.4 204.1h0M142.6 217.5h0M148.1 202.1h0M177.4 221.7h0M147.6 223.8h0M180.8 199.6h0M164.4 219.3h0M149 207.4h0M188.2 200.4h0M157.6 225.3h0M178.4 204.5h0M162.8 217.6h0M165.8 194.5h0M159.6 215.3h0M168.4 198.7h0M145 215.9h0M150.6 203.8h0M189.1 196.3h0M182.4 218.4h0M163.2 221.7h0M191.6 239.8h0M158.8 204.8h0M188.8 201.6h0M148.9 217.3h0M154 199.6h0M167.6 216.4h0M185.4 215.2h0M188.6 241.6h0M185.1 197.9h0M170.3 211.6h0M173.9 209.5h0M181.3 202.6h0M183.9 194.8h0M145.5 218.6h0M137.1 200.7h0M180.5 195.9h0M181.3 211.5h0M169.3 219.8h0M190.3 238.9h0M166.2 210.4h0M176.2 214.6h0M164.6 225.5h0M139.3 201.7h0M191 201.3h0M189.7 239.4h0M145.2 198h0M169.6 221.7h0M189.9 226.1h0M150.3 204.3h0M167.2 225.5h0M172 222.3h0M188.4 207.6h0M191 230.4h0M158.9 195.9h0M152.2 194.9h0M190.7 232.8h0M146.7 216.4h0M169.8 194.1h0M177.6 219.9h0M168.5 198h0M152.9 205.5h0M144.3 208.4h0M163.4 219.9h0M180.7 221.1h0M171 207.5h0M141.3 207.5h0M140.5 194.7h0M159.4 211.2h0M161.9 224.2h0M190 241.7h0" stroke="#b0cce8" stroke-width="1.6" stroke-linecap="round" fill="none" opacity="0.75"/>
<path d="M164 205.8h0M172.8 204.2h0M189.8 211.9h0M145.9 195.3h0M165.4 215.1h0M180.5 208.4h0M156.2 206.2h0M174.2 215.9h0M184.2 196.6h0M157.7 219.2h0M191.1 237h0M146.7 215.2h0M190 221.4h0M183 223.5h0M136.3 209h0M171.6 211.3h0M155.8 215.7h0M189.4 224.3h0M182.1 215.5h0M148.5 206.3h0M176.3 206.7h0M138.9 197.2h0M181.3 223.8h0M189.4 236.7h0M159.3 218.5h0M147 202.5h0M173.6 224.2h0M172.2 198h0M138.7 210.3h0M156.6 225.3h0M150.6 224.5h0M181.7 208.5h0M172.9 208.2h0M171.7 205.6h0M159 205.1h0M180.3 194.7h0M176.6 216.1h0M162.2 202h0M160.5 213.2h0M183.9 199.4h0M180.8 195.3h0M183.7 221.6h0M159.5 214.4h0M161.3 194.6h0M155.8 225.4h0M146.6 214.7h0M161.9 200.7h0M172.9 203.9h0M183.4 222.3h0M174.7 209.9h0M159.1 215.3h0M140 221.9h0M163.6 206.9h0M158 221.4h0M142.2 218.8h0M165.3 201.1h0M173.1 225.4h0M171.1 213.6h0M168.5 203.1h0M147.9 207.2h0M168.8 208.2h0M162 219.8h0M190.8 216.6h0M174.6 194.8h0M160.4 200.7h0M141.8 208.9h0M140.1 194.6h0M158.5 196h0M186.5 204.1h0M191 204h0M151.1 199h0M179.5 224.3h0M149 200.7h0" stroke="#8a78c8" stroke-width="1" stroke-linecap="round" fill="none" opacity="0.75"/>
<path d="M146.7 219.5h0M152.8 201.8h0M176.8 221.3h0M154.3 214.6h0M191.5 200.2h0M158.6 203h0M156.7 224.1h0M141.7 224.9h0M153.7 225h0M191.6 197.6h0M137.4 219.4h0M184 225.6h0M159.9 200.1h0M154.7 200.3h0M183 213.7h0M178.3 200.1h0M159.3 215.4h0M147.5 216.4h0M149.6 218.7h0M138.4 213h0M152.5 219.4h0M180.7 225.2h0M176.2 207.3h0M146.7 202.8h0M163.6 212.5h0M173.4 211.2h0M177.4 199h0M177.3 225.3h0M178.7 196.9h0M183.3 225.1h0M159.9 221.9h0M190.9 234.2h0M143.7 223.6h0M186.8 217.5h0M154.7 201.8h0M159.9 197.3h0M144.9 223.4h0M144.1 196h0M157.7 215.9h0M158.7 217.6h0M171.7 205.9h0M156.5 213.6h0M189.3 218.2h0M184.3 215.8h0M167.2 197.7h0M181.2 203.5h0M183.3 203.8h0M181 220.7h0M156.4 222.1h0M159.3 225.4h0M190.8 239.6h0M169.9 206.6h0M153.9 208.6h0M152.8 210.5h0M165.4 208.3h0M163.9 208h0M172.4 223.6h0M143.2 218h0M169.3 221.2h0M139.7 225.2h0M154.1 198.6h0M190.9 209.8h0M179.5 204.1h0M188.6 235.3h0M165.8 200.5h0M168.8 195.2h0M186.5 214.3h0M185.8 223.5h0M189.6 199.9h0M177.9 205.4h0M162.2 194.1h0M160.2 225.7h0M175.4 209h0M137.7 219.2h0M157.1 225h0M173.2 217.5h0M167.5 207.7h0M191 200.5h0M191.8 232.5h0M149.4 225.6h0M168.5 209.8h0M185.7 221.3h0M191.6 194.5h0M165.4 221.9h0M152.8 217.6h0M150.9 217.6h0" stroke="#8cb4e0" stroke-width="1" stroke-linecap="round" fill="none" opacity="0.75"/>
<path d="M177.4 219.7h0M178.3 225.7h0M163.1 208.2h0M186.6 208.2h0M137.3 220.1h0M166.1 199.9h0M166.1 206.2h0M156.3 202.6h0M158.9 209.6h0M154.3 200.1h0M170.1 197.1h0M155.9 196.5h0M167 203.8h0M189.1 236.3h0M155.7 204.2h0M149 218.5h0M190 206.8h0M143.7 207h0M169.6 218.3h0M156.4 223.6h0M191.9 214.3h0M170.5 201.4h0M168.8 222.7h0M162.3 198.5h0M142.5 198.4h0M184.9 205h0M166.4 198.5h0M178.5 214.1h0M136.1 205.1h0M187.6 205h0M179.3 211.4h0M171 211.1h0M149.2 194.5h0M152.6 208.2h0M187.2 212.9h0M182.1 215.8h0M188.4 228.9h0M156.1 204.5h0M172.3 214.5h0M179.3 223.7h0M179.8 214h0M136.7 207h0M149.9 222.3h0M184.1 205.3h0M147.4 205.9h0M185.8 205.6h0M173.8 211.1h0M138.7 217.2h0M170.6 199.9h0M159.3 196.8h0M188.1 220.6h0M190.5 216.7h0M138.4 214.3h0M144.2 213.2h0M169.6 218.8h0M136.9 214.7h0M142.1 224.8h0M151.9 204h0M151.4 200.1h0M155.4 213.9h0M147.2 210.4h0M167.6 199.5h0M170.5 200.3h0M175.8 221.8h0M145.6 220.1h0M148.2 222.9h0M162.3 207.9h0M178.8 196.6h0M171.5 204.4h0M172.1 196.1h0M157.7 202.9h0M139.9 210.5h0M145.7 194.2h0M151.1 225.8h0" stroke="#8cb4e0" stroke-width="1.6" stroke-linecap="round" fill="none" opacity="0.75"/>
<path d="M200.1 202.2h0M140.8 244.2h0M200.2 218.5h0M193.1 196.1h0M194.3 198.1h0M200 207.3h0M200.4 217.5h0M140.4 237.6h0M198.7 218.9h0M138.1 221.9h0M147.3 194.4h0M167.9 245.1h0M191.5 245.2h0M137.3 226.4h0M187.1 241.9h0M192.1 205.6h0M191.7 200.5h0M143.2 194.4h0M153.6 199.1h0M138.5 239.6h0M195 236.4h0M196.3 233.5h0M140.9 234.5h0M202.4 216.3h0M193.9 228.5h0M136.1 211.2h0M201 221.9h0M153.4 241.8h0M145.8 200.9h0M144 232.2h0M196.8 218.6h0M152 239.8h0M193.4 206.8h0M200.1 219.3h0M142.6 238h0M140.1 227.3h0M149.7 238.5h0M181.4 244.4h0M192.1 215.3h0M136.6 207.5h0M196.3 194.8h0M201.4 232.3h0M202 240.6h0M195.4 209.6h0M198.8 241.7h0M193.1 241h0M196 243.3h0M193.2 203.8h0M196 237.4h0M196 226.5h0M163.2 194.8h0M197.2 222.5h0M202.3 204.3h0M145 198.8h0M155.5 245.1h0M193.7 229.4h0M140.1 196h0M200.7 206.8h0M201.9 204.9h0M196.9 197.9h0M195.2 214.2h0M164 244.8h0M197.5 227.2h0M197.2 208.9h0" stroke="#90c870" stroke-width="1.6" stroke-linecap="round" fill="none" opacity="0.75"/>
<path d="M184.5 239.4h0M141.3 237.8h0M184.2 234.2h0M155.7 236.8h0M142.6 241.7h0M156.1 242.9h0M152.7 243h0M165.2 229.3h0M185.7 233.3h0M140.6 232h0M180.1 237.4h0M148.4 234.7h0M183 243.4h0M155.9 243.3h0M177.2 231.3h0M176.2 240.4h0M163.5 244.6h0M165.4 232.6h0M177.1 227h0M180.7 242.1h0M169 242.2h0M147 242.2h0M184.9 242.2h0M174.6 228.1h0M180.2 233.2h0M186.3 230.1h0M174.2 240.2h0M158.9 233.6h0M185.6 238.4h0M174.3 230.7h0M178.2 228.8h0" stroke="#7d5cc0" stroke-width="1" stroke-linecap="round" fill="none" opacity="0.75"/>
<path d="M197.3 202.5h0M196.7 241.2h0M198.9 233.8h0M197.7 203.7h0M193.5 211.7h0M196.4 200.8h0M195.8 213.3h0M198 219.9h0M200 233.7h0M193.4 207.6h0M198.6 242.9h0M192.4 244.7h0M192.2 215.6h0M192.8 218.4h0M193.8 236.3h0M198.4 226.7h0M194.7 221.5h0M197.1 210.7h0M198 225.3h0M196.7 238.4h0M197.8 217.1h0M199.9 230.8h0M202.8 219.2h0" stroke="#9bb8e0" stroke-width="1.6" stroke-linecap="round" fill="none" opacity="0.75"/>
<path d="M144.9 211.1h0M196.3 227.3h0M147.4 235.7h0M188.3 224.7h0M176.3 223h0M167.8 221.7h0M166.8 206.5h0M157.3 207.9h0M149.2 245.5h0M184 200.6h0M145.9 208.5h0M160.9 206.4h0M155.5 235.5h0M168.5 211h0M184.6 212.2h0M175.5 245.2h0M136.6 202.6h0M164 222.1h0M199.6 225.2h0M172.3 211.8h0M140.1 227.4h0M141 213.8h0M165.1 200h0M157.9 227.4h0M175.6 241.5h0M173.4 232.6h0M182.2 203.8h0M146.8 206.9h0M164.3 221.4h0M195.7 205.4h0M138.9 205.8h0M182.7 206.4h0" stroke="#f0a070" stroke-width="1" stroke-linecap="round" fill="none" opacity="0.75"/>
<path d="M144 232.6h0M145.8 239.5h0M184.6 227.2h0M165.3 232.6h0M170.3 237.6h0M179.1 237.9h0M160.8 235.4h0M141 239.6h0M162.5 234.8h0M187.9 227.5h0M143.9 235.1h0M160 235.1h0M183.8 234.6h0M177.5 227.1h0M182.9 226.1h0M159.5 227.9h0M181 239.8h0M158.4 237.6h0M153.6 231.2h0M147 226.1h0M154.2 242.4h0M181.5 229.5h0M176 230.6h0M170.2 228.8h0M159.9 245.3h0M138 227.2h0M141.4 240.4h0M176.8 239.2h0M176.5 233.5h0M182.3 233.1h0M147.2 239h0M146.1 232.1h0M166.7 230h0M174.3 240.2h0M174.7 234.2h0M171.9 230.9h0" stroke="#6f50b8" stroke-width="1.6" stroke-linecap="round" fill="none" opacity="0.75"/>
<path d="M193.8 194.1h0M140 242.1h0M198.6 228.9h0M198.2 228.2h0M187.1 240.3h0M170.7 224.4h0M139.9 199.7h0M190.8 230.5h0M162.6 205.5h0M191.3 225.5h0M142.5 224.5h0M165.5 220.3h0M167.1 233.7h0M141.3 228.6h0M172.1 227.4h0M193 226.4h0M167.3 238.8h0M202.4 201.2h0M180 194.5h0M168 215h0M185.3 231h0M157.9 194.8h0M167.2 230.3h0M189.9 201.7h0M189.3 227.9h0M201.8 217.4h0M170.9 237.1h0M177.2 215.1h0M174.7 238.4h0M190.1 227.7h0M194.9 194.1h0M164.9 233.3h0M158.5 211.8h0M168.1 198h0" stroke="#f0a070" stroke-width="1.6" stroke-linecap="round" fill="none" opacity="0.75"/>
<path d="M201.7 243.6h0M201.2 206.9h0M192.8 238.7h0M195.5 195.1h0M202.7 232.8h0M202.6 197.1h0M193.1 198.9h0M192.8 235.5h0M195.7 222.6h0M196.4 208.3h0M192.3 212.2h0M193.9 214.7h0M198.8 242.8h0M199.9 245h0M194.4 228.4h0M194.6 196.6h0M201.7 231h0M200.7 231.2h0M193.3 205.1h0M196.9 245.6h0M199.7 207h0M196.6 234.4h0" stroke="#9bb8e0" stroke-width="1" stroke-linecap="round" fill="none" opacity="0.75"/>
</g>
<text x="244" y="174.6" font-size="10.50" fill="#000" font-weight="bold">c</text>
<text x="288.7" y="176.6" font-size="8.29" textLength="158" lengthAdjust="spacingAndGlyphs">Soma distribution of reconstructed neurons</text>
<path d="M243.6,220.5 C250,212 258,206 267.3,199.5 C278,195 286,193 294.5,191.4 C300,190 306,189 311,189 L320,189.5 C324,190.5 326,192 327.3,194 C330,197 332.5,199 332.7,201.4 C332.5,207 332,212 331.8,217.7 L331,232.3 L330,263.2 L320,265 L308,261.4 C303,252 299,246 294.5,241.4 C290,237 286,233 283.6,228.6 C281.5,223 281,218 281,212.3 C276,213.5 271,215 267.3,216 C260,218.5 252,221.5 244.5,224 Z" fill="#fff" stroke="#6a6a6a" stroke-width="0.5" />
<path d="M244,222 C255,214 265,208 281,201 C290,197 300,194 311,193" fill="none" stroke="#7a7a7a" stroke-width="0.3" />
<path d="M281,212.3 C285,208 290,206 296,205.5 L312,205.5 L320,201 L327.3,194" fill="none" stroke="#7a7a7a" stroke-width="0.3" />
<path d="M296,205.5 L296,191" fill="none" stroke="#7a7a7a" stroke-width="0.3" />
<path d="M311,189.5 L312,205.5" fill="none" stroke="#7a7a7a" stroke-width="0.3" />
<path d="M320,201 L332.7,201.4" fill="none" stroke="#7a7a7a" stroke-width="0.3" />
<path d="M312,205.5 L316,212 L318,216 L318.5,258 L320,265" fill="none" stroke="#7a7a7a" stroke-width="0.3" />
<path d="M325.5,214 L326,262" fill="none" stroke="#7a7a7a" stroke-width="0.3" />
<path d="M318,216 L325.5,214 L331.8,217.7" fill="none" stroke="#7a7a7a" stroke-width="0.3" />
<path d="M318,208 L327,209" fill="none" stroke="#7a7a7a" stroke-width="0.3" />
<path d="M296,205.5 L296,212 L312,212" fill="none" stroke="#7a7a7a" stroke-width="0.3" />
<path d="M260.8 212.5h0M277.7 208.7h0M276.7 203.5h0M284 206.8h0M286 208.2h0M288.4 204.5h0M283.6 199.8h0M280.8 207.6h0M288.5 200.7h0M279.4 207.3h0M261.5 212.1h0M288.7 202.1h0M270.7 208.3h0M272.8 209.4h0M271.5 209.7h0M276.1 212h0M280.9 202.5h0M280.9 209.7h0M279 204.1h0M284.1 208.6h0M293.7 201.7h0M265.4 212.3h0M267.4 212.7h0M269.6 212h0M258.9 214h0M278.5 209.1h0M276.7 205.5h0M287.7 197.5h0M280.2 205.7h0M278.4 203h0M291.2 202.2h0M279.1 211.1h0M289.6 201.8h0M283.4 209h0M261.1 211.7h0M263.1 211.8h0M280.9 206h0M275.6 207h0M282.3 205.3h0M277.3 209.3h0M273.9 209.8h0M272 209.1h0M284.9 203.3h0M286.6 198.4h0M289.4 199.9h0M288.6 202.4h0M291 202.3h0M288.3 200.3h0M293.5 201.7h0M290.9 205h0M275.7 212.1h0M282.1 206h0M291.1 201.2h0M281.3 201.8h0M264.3 211.5h0M276.3 209.8h0M263.6 212.8h0M271 213.1h0M272.5 208.1h0M283.9 207.8h0M277.3 204.7h0M289.5 206.1h0M269.2 213.2h0M275.3 205.7h0M282.2 201.9h0M261.5 213.7h0M288 198.4h0M286.9 201.6h0" stroke="#6a3d9a" stroke-width="1" stroke-linecap="round" fill="none" opacity="0.9"/>
<path d="M312.2 251h0M296 207.4h0M301.3 211.5h0M311.9 242.6h0M288.4 223.4h0M289.9 232.2h0M303.1 220.9h0M291.1 211.6h0M301.8 229.9h0M295.9 233.4h0M295.8 228.2h0M311.3 215.2h0M286.5 231.6h0M293.7 233.1h0M314.8 259h0M313.2 257.6h0M291.5 226h0M287.1 222.9h0M292.6 220.2h0M302.5 248.2h0M307.8 239.6h0M317.2 239.7h0M301.6 219.6h0M286.7 230.6h0M298 214.2h0M299.3 220.6h0M309.3 256.1h0M293.7 228.8h0M306.3 208.9h0M297.9 210.1h0M300.4 236.7h0M300.4 230.2h0M317.7 243.9h0M299.4 231.6h0M311.5 220.1h0M300.8 248.8h0M286.3 215.1h0M312.6 243.4h0M305.9 208.7h0M296.5 232.4h0M295.5 220.8h0M296.7 219.5h0M309.1 232.2h0M309.8 242.1h0M297.6 236.4h0M305.6 244.7h0M317.9 261.2h0M311.3 215.7h0M311.6 216.7h0M317.4 221.3h0M315.2 226.2h0M313.3 213.9h0M317.8 231.5h0M291.7 231.5h0M283 209h0M300.6 239.8h0M295.4 221.4h0M308.9 221.5h0M311 245h0M306.6 231.9h0M315.2 257.9h0M311.1 217.2h0M299.5 242.4h0M300.8 210.7h0M285.4 221.8h0M308 218.8h0M310.9 242.4h0M293.6 235.7h0M313.9 208.7h0M306.2 248.4h0M306.6 251.3h0M310.7 259.3h0M298.3 213h0M302.1 244.3h0M316.8 248.6h0M303.2 254.1h0M314.5 240.7h0M293.1 207.5h0M304.7 207.7h0M310.2 224.8h0M305.3 255.7h0M309.8 225.4h0M312 255.3h0M313.9 250.8h0M311.3 252.2h0M302.1 249.9h0M305.4 223h0M301.1 252.2h0M310.1 250.3h0M302.5 246h0M306.5 229.8h0M308.5 237.5h0M297.8 237.1h0M285.4 214.3h0M316.6 241.4h0M317.7 218.5h0M307.5 233.1h0M287.1 222.4h0M288.3 220.5h0M316.2 234.1h0M303.3 214.9h0M288.6 212.8h0M308.9 238.8h0M310.4 239.2h0M292.3 228.9h0M309 252.8h0M307.3 259.9h0M311.3 207h0M286 209.1h0M316.1 218.6h0M300.1 239.1h0M291.3 222.2h0M315.7 217.1h0M313.8 232.8h0M308.5 228.6h0M308.1 245.7h0M298.6 223.5h0M298.9 248h0M283.4 218.4h0M301.8 219.4h0M315.5 238.6h0M315.9 227.9h0M295.8 215.5h0M312.6 216.6h0M313.4 251.6h0M308.9 212.1h0M311.1 259.2h0M295.4 236.2h0M298.2 220.1h0M293.9 208.3h0M294.5 229.6h0M299 229.6h0M283.5 219.3h0M313.3 218.1h0M290.8 228.5h0M306.4 252.3h0M312.1 216.7h0M317.5 216.6h0M312.9 254.3h0M287.3 227.8h0M290.9 232.3h0M311.9 251.2h0M311 208.6h0M310.3 249h0M289.4 215.6h0M301.1 240.5h0M316.5 229h0M301.4 240h0M309.7 260.8h0M302 232.2h0M314.7 211.2h0M299.2 219.1h0M305.6 252.2h0M298.8 218.4h0M292.9 222.7h0M303.8 254.1h0M304.8 225.4h0M294.6 235.9h0M300.8 233.5h0M297 220.8h0M317.2 258.9h0M290.8 227.7h0M309.6 226.5h0M299.3 238h0M293 228.3h0M309.6 258.7h0M299.4 242.7h0M312.4 244.7h0M298.4 218.3h0M312 234.7h0M294.3 232.6h0M313.5 210.1h0M310.6 233.1h0M315.6 248.3h0M296.5 211.5h0M298 227.9h0M315 231.4h0M295.6 209.4h0M286.6 228.4h0M284.3 214.2h0M318 236.4h0M289.8 209.3h0M293.6 224.8h0M317.9 217.1h0M317 234.6h0M312.8 237.7h0" stroke="#a6cee3" stroke-width="0.8" stroke-linecap="round" fill="none" opacity="0.9"/>
<path d="M325.2 258.2h0M322.7 229.5h0M320.2 221.5h0M319.7 242.2h0M321.1 238.8h0M325.1 247.6h0M325 249.2h0M319.8 215.9h0M323.3 220.8h0M322.9 218h0M322.3 238.3h0M321.4 251.2h0M323.2 224.2h0M321.7 233.1h0M320.9 224.4h0M319.7 242.4h0M318.5 233.7h0M321.7 235.2h0M323.2 251h0M322 221.5h0M319.3 256.9h0M321.5 236.5h0M319.6 243h0M320.9 240.1h0M322.2 255.9h0M323.8 256h0M324.5 218.2h0M322.6 226.6h0M320.6 237.6h0M321.9 240.7h0M321.3 218.9h0M325.4 215.7h0M325.1 259.4h0M323 223.7h0M323.3 229.4h0M320.7 253h0M323.4 215.1h0M325.1 232.1h0M320.2 231.8h0M319.5 233.7h0M324.3 259h0M324.3 243.6h0M321.2 236h0M319.1 225.6h0M318.3 249.7h0M318.8 222.2h0M321.2 251.4h0M318.6 248.7h0M320.2 232.6h0M321.4 259.4h0M325.5 226.2h0M322.5 229h0M320.5 251.9h0M322.8 238.5h0M320.3 231.3h0M321.5 251.8h0M320 240.1h0M323.9 216.6h0M319.7 249.1h0M318.5 257.5h0M321.3 243.1h0M318.8 234.5h0M321.5 249.8h0M322.5 220.9h0M318.6 226h0M322.4 219.3h0M319.2 230.1h0M319.8 241.9h0M319.7 223.4h0M323.6 242.6h0M323.5 220.7h0M322.7 231.4h0M321.5 223.9h0M324.1 251.5h0M321.5 230.6h0M319.9 237.2h0M320.3 234.2h0M322.6 253.2h0M324.4 217h0M323.8 231.9h0M318.9 235h0M324.5 232.1h0M320.3 238.6h0M322.2 256.3h0M324.8 259.1h0M318.5 247.4h0M321.7 241h0M324.3 227.8h0M318 225.6h0M325.2 256.7h0M321.5 220.2h0M323.6 228.4h0M324.6 237.3h0M320.2 216.9h0M320 229.6h0M320.2 248.5h0M324.4 244h0M321.4 245.1h0M318.3 237.4h0M322 242.3h0M320 253.9h0M320.6 234.8h0M318.9 237.9h0M318 238.4h0M319.5 257.8h0M321.4 224.7h0M323 220.4h0M321.9 234.7h0M325.1 248h0M324.4 259.3h0M322.5 244.8h0M323.2 251.9h0M324.5 254.2h0M324.9 257.1h0M319.3 249.5h0M323.4 255.1h0M320.7 249.1h0M318 231.8h0M319.7 225.1h0M318.6 237.6h0M319 216.5h0M322.6 249.8h0M320.5 215.9h0M324.5 230.4h0M320.9 255.5h0M319.1 244.1h0M320.7 241.7h0M321.4 223.2h0M325.1 238.2h0M319.4 235.1h0M322.5 256.2h0M320.3 219h0M321.5 253h0M318.2 256.3h0M321.7 235.7h0M322.7 247.9h0M322.9 256.5h0M322.6 228.4h0M321 233.1h0M319.6 228h0M320.8 257.5h0M324.7 247.9h0M323.3 225.9h0M320.7 223.4h0M324.1 245.3h0M322.9 214.9h0M323.5 250.5h0M321.9 248.9h0M324.1 243.3h0M320.4 239.8h0M324.6 218.5h0M324.2 229.7h0M323.2 219.6h0M321.4 259.9h0M322.4 236.1h0M320.4 231h0M322.9 256.3h0M319 229.7h0M320.8 227.3h0M325.3 251.6h0M321.9 214.9h0M324.7 247.8h0M324.6 227.9h0M320.4 232.8h0M321 234.9h0M325.4 253.3h0M318.5 233.9h0M319.1 236.3h0M321.4 244.6h0M324.3 236h0M324.5 222.9h0M320.6 219.7h0M324.2 251.5h0M322.4 226.8h0M320.6 216h0M322.7 223.9h0M319.7 227h0M323.9 227.3h0M325 240.7h0M318.9 224.2h0M325.5 237h0M322.3 218.6h0M324 231.1h0M318.1 220.3h0M320.4 218.1h0M320.3 243.7h0M319.5 259.2h0M322.6 244h0M322.6 237.8h0M322.8 226.2h0M320.6 224.3h0M322.1 240h0M324.1 246.4h0M324.4 232.5h0M324.5 221.3h0M321.6 243.2h0M318.2 225.8h0M320.9 247.4h0M321.1 259.4h0M322.9 252.5h0M325.4 238h0M322.6 218.9h0M322.3 225.8h0M320.6 238.8h0M319.4 243.1h0M320 251.9h0M325.5 227.9h0M320.2 218.4h0M318.4 219.6h0M319.8 245.7h0M323.4 234h0M321.1 230.2h0M319.4 258.2h0M319.1 233.5h0M318.2 239h0M321.7 217.8h0M322.7 237h0M323.2 239.4h0M320.4 244.7h0M321.7 254.1h0M325 254.5h0M322.9 227.5h0M318.6 253.2h0M318.2 253.9h0M319.3 227h0M323.1 221.5h0M320.9 235.9h0M318.1 220.5h0M319.8 242.9h0M322.8 219.9h0M325.4 224.8h0M319.2 229.1h0M318.9 231.2h0M318.3 225.7h0M324.1 221.4h0M322.3 235.6h0M323.5 221.4h0M325.2 229.8h0M325.1 224.2h0M319.9 253.3h0M321.2 245.7h0M324.3 246.1h0M323.5 251.7h0M318.1 224.7h0M324.9 250.4h0M318.7 255h0M323.6 232.1h0M320.9 230h0M324.1 226.3h0M321.1 241.8h0M321.8 237h0M319.1 243.7h0M320.1 258.2h0M319.6 259h0M321.4 218h0M321.1 230.9h0M319.6 240.8h0M322.1 244.3h0M322.2 222.5h0M324.5 235.3h0M318.1 246.9h0M325.3 252.6h0M323.9 245.6h0M319.2 222.3h0M324.2 249.3h0M322.2 227.4h0M322.6 256.5h0M318.8 227.7h0M322.3 226.3h0M323.5 223.2h0M319.1 223.5h0M318.2 233h0M321.9 258h0M321.6 255.9h0M318.6 230.9h0M325 228.9h0M318.1 217.8h0M323.1 244.7h0M322.8 252.3h0M324.4 252.8h0M323.6 227.6h0M321.4 244.6h0M321.4 218.2h0M320.6 232.4h0M320.2 217.3h0M322.3 225h0M322.7 229.6h0M323 251.6h0M322 229.2h0M323.1 227.1h0M323.6 257.8h0M324.2 240.6h0M324.8 239h0M322.8 214.7h0M320.8 227.8h0M318.3 216.4h0M322.5 222.4h0M321.2 254.8h0M318.5 227.9h0M322.4 247.1h0M321.2 240.7h0M322.2 241.5h0M320.1 250.5h0M319.5 240.8h0M325 241.8h0M324 254h0M324.4 240.2h0M319.3 256.5h0M321.8 249.6h0M318.9 244.5h0M318.6 248.9h0M320.5 253.8h0M324.1 245.3h0M325.3 246.1h0M319.3 245.1h0M324.3 249.5h0M325.1 244.3h0M324.1 245.1h0M323.4 255.6h0M322.1 256.3h0M322.8 249.3h0M324 246.5h0M320.6 244.3h0M319.4 241.8h0M322.3 252.2h0M319.2 257.4h0M322 242.4h0M325.4 244.7h0M325.5 242.4h0M324.1 247.5h0M318.6 243.4h0M322.1 244.4h0M322.2 248.5h0M319.3 246.8h0M324.8 243.2h0M322.8 257.6h0M323 243h0M322.3 241.8h0M321.4 257.4h0M319.3 242.7h0M323.8 241.5h0M324.7 246.8h0M322.8 257h0M320.7 251.4h0M320.2 254.8h0M323 250.6h0M324 245.9h0M322.6 244.6h0M321.6 251.3h0M325.4 255.4h0M323.5 254.2h0M321.7 254.4h0M320 251.5h0M324.4 243.5h0M322.1 246.2h0M324.5 248.2h0M320.2 247.3h0M319.7 257.8h0M319.8 245.2h0M324.2 249.3h0" stroke="#1f78b4" stroke-width="1" stroke-linecap="round" fill="none" opacity="0.9"/>
<path d="M326.2 234.6h0M330.8 236.7h0M330.5 259.9h0M328.5 240.1h0M329 221.3h0M326.4 250.5h0M330 249h0M330.3 238.1h0M326.9 261h0M328.5 224.6h0M329.5 242.2h0M329.8 226.5h0M329.6 262.5h0M327.7 256.6h0M329.1 253.3h0M327.6 229.9h0M329.5 253.7h0M326.3 222.2h0M327.6 251.6h0M326.2 257.7h0M330.1 223h0M327.3 227.1h0M327.3 238.8h0M326 260.4h0M326.7 231.4h0M325.9 236.2h0M326.6 234.1h0M330.2 244.5h0M328 231.3h0M328.5 254.2h0M329.1 228.9h0M329.5 225.8h0M328.2 234.4h0M326.2 250h0M326.8 244.1h0M330.6 240.1h0M329.4 236h0M329.8 237.6h0M326.6 257.3h0M328.5 231.7h0M328.9 239.5h0M329.4 227.6h0M327 249.4h0M328.4 229.3h0M328.1 234.1h0M330.6 237.4h0M329.8 246.8h0M328.5 258.6h0M329.2 241.9h0M328 234h0M328.6 244.8h0M329.6 258.2h0M330.8 221.1h0M325.5 250.2h0M331 257h0M328.5 250.9h0M325.6 229h0M328.7 232.4h0M329.1 254.4h0M327.2 242.3h0M330 246h0M328.7 260.8h0M329.4 246.5h0M327.4 249.3h0M327.8 240.8h0M326.1 251.3h0M326.2 235.9h0M326.1 222.2h0M329.6 251.3h0M325.9 240.2h0M330.2 247.1h0M326.7 222.6h0M329.4 242.7h0M328.7 251.2h0M327 262.8h0M326.8 222.4h0M329.9 254.2h0M330.2 241.4h0M329.6 246.3h0M326.2 238.5h0M327.5 232.5h0M327.5 245.8h0M326.3 240.2h0M326.8 255.7h0M330 223.6h0M330.3 251.4h0M326 240.2h0M328.8 230.9h0M328.1 258.2h0M329.3 239.5h0M325.7 243.7h0M325.8 249.7h0M327 231.2h0M330.7 239.3h0M325.9 240.6h0M327.2 221h0M327.1 254.8h0M328.7 251.5h0M326.9 228h0M325.8 234.7h0M330.3 251.3h0M328.9 233.1h0M328.9 246h0M328 235.6h0M326.8 249h0M328.6 232.3h0M326.1 258.5h0M327.8 248.6h0M325.5 258.3h0M326.5 240.9h0M330.7 257.7h0M326.8 243.1h0M330.3 258h0M329.6 257.9h0M326.2 262.3h0M329 230.1h0M330.7 250.4h0M326.4 229.7h0M327 256.5h0M330.2 239.5h0M330.3 230.2h0M330.6 262.7h0M326.5 228.1h0M325.6 230.5h0M327.1 236.1h0M329.7 261h0M327.2 223.2h0M328.6 261h0M328.4 226.2h0M328.9 245.8h0" stroke="#b2df8a" stroke-width="0.8" stroke-linecap="round" fill="none" opacity="0.9"/>
<path d="M326.1 222.9h0M322.9 225.5h0M324.6 212.4h0M322.6 209.1h0M326.5 218.8h0M319.6 208.8h0M318.4 222.1h0M325.7 222.5h0M319 222.4h0M322.6 209.2h0M323.9 223.7h0M320.7 219.3h0M318.4 222.6h0M319.4 211.1h0M325.5 226.9h0M326 219.1h0M321.6 218h0M321.8 210.5h0M326.6 225.5h0M318.8 226.5h0M320.2 221.7h0M325.1 216.2h0M321.3 213.1h0M325.7 210.2h0M319.2 224.2h0M324.7 223.9h0M321.5 212.6h0M323.2 224.1h0M319 220.1h0M325.6 210.3h0M323.2 216.4h0M318.6 211.7h0M318.1 216h0M324.4 214.1h0M323.7 221.7h0M322.1 217h0M321.9 225.9h0M323 215.9h0M326.8 210.9h0M319.6 210.2h0M320.5 211.4h0M320.2 208.7h0M325.3 209.3h0M321 213.2h0M318.3 219.6h0M324.5 215h0M325.8 220.5h0M318.1 215.3h0M324.9 208.8h0M326.6 223h0M325.4 214.6h0M321.7 210.7h0M324.7 226.5h0M323.1 211h0M322.5 220.8h0M325 223h0M321.8 215.6h0M324 212.4h0M322.6 210.5h0M323.4 220.1h0M320 208.6h0M321.6 214.2h0M318.9 222.8h0M321.6 219.2h0M322.1 214.9h0M322.7 210.2h0M322.6 221.5h0M318.7 215.1h0M319.6 226.5h0M323.7 211.4h0M318.7 226.5h0M321.2 217.6h0M324.9 220.5h0M318.2 218h0M323.5 218.2h0M326.4 224.3h0M322.3 223.6h0M322.6 208.8h0M326.7 219h0M326.3 225.6h0M320.6 225h0M320.4 226h0M326.2 225.6h0M321.3 222.1h0M321.6 225.6h0M322.3 212.8h0M323.3 222.9h0M319.4 211.6h0M324.8 222h0M324 216.6h0M322.8 215.3h0M323.1 218.9h0M324.5 217.6h0M321.5 219.5h0M318.6 226.2h0M324.1 212.2h0M318.9 217.4h0M318.5 215.7h0M326 216.1h0M321 226.3h0M324.6 225.4h0M324.6 224.7h0M324 223.3h0M324.1 211.8h0M325.3 220h0M318.5 219.9h0M319.8 226.5h0M323.7 213.3h0M319.3 211.4h0M323.6 215.6h0M321.6 212.5h0M324.5 225.6h0M323.7 225.4h0M318.6 219.1h0M324.4 226.1h0M324.7 213.4h0M322.5 222.3h0M319.4 212.6h0M326.4 217.4h0M320.4 210.6h0M323.9 221.4h0M324.9 213.5h0M324.6 215.2h0M323.5 210.9h0M319.5 225.2h0M326 208.7h0M326.5 219.8h0M318 216.9h0M322.6 225.3h0M321.9 223.9h0M324.1 217.4h0M322.2 210.3h0M326.1 210.5h0M320.2 225.7h0M326.5 215.1h0M325.2 222.7h0M324.2 211.7h0M326.1 211.6h0M321.7 214.6h0M325.3 221h0M324 222.2h0M319.7 223.7h0M321.5 222.8h0M322.7 209.1h0M325.8 213.3h0M319.5 225.1h0M318.7 221.4h0M319.1 217.6h0M321.6 215.8h0M322.9 218h0M326.5 215.5h0M324 220.3h0M324.2 217h0M319.9 208.6h0M326.6 224.6h0M324.8 222h0M320.9 218.5h0M319.5 225h0M321.6 210.6h0M320 224.2h0M318.1 224.3h0M323.7 221.5h0M321.2 214.9h0M321.9 212h0M324.5 223.2h0M324.1 217.3h0M322.5 219.9h0M322.3 217.4h0M323.6 211.6h0M320.1 214.1h0" stroke="#33a02c" stroke-width="1" stroke-linecap="round" fill="none" opacity="0.9"/>
<path d="M321.9 198.5h0M319.2 195.8h0M324.9 191.6h0M312.8 191.9h0M312.9 199.3h0M313.6 194.7h0M326.9 201.4h0M319.4 196.1h0M326.6 193.1h0M326.8 190.8h0M315.7 200.7h0M317.6 203.4h0M318.1 198.2h0M326.5 194.5h0M312 202.5h0M318.1 193.5h0M320.2 203.4h0M311.3 191.1h0M311.9 194.3h0M319.7 196.9h0M325.8 193h0M319.7 194.3h0M318.8 191.2h0M320.2 202.4h0M320.1 201.2h0M313.3 201.1h0M317.4 200h0M316.6 200.5h0M311.7 202.1h0M327 200.1h0M313.7 191.7h0M324.3 196.9h0M325.7 197.1h0M313.5 202.2h0M313.8 192.9h0M318.2 198.1h0M311 190.9h0M312.7 190.8h0M314.9 191.9h0M320.3 194.3h0M320.6 190.6h0M323.2 201.3h0M313.4 197.6h0M316 200.1h0M321.1 197.7h0M314 195h0M323.5 197.3h0M324.1 202.8h0M311.6 203.3h0M326.4 201h0M324.9 197.4h0M319.5 191.2h0M323.1 190.7h0M322.3 202.9h0M319.4 192h0M318.5 191.2h0M325.2 193.7h0M311.3 200.3h0M320 199.1h0M311.7 191.2h0M320.7 191.7h0M319.6 190.7h0M321.5 190.8h0M325.2 203.3h0M311.9 194.8h0M314.5 200.7h0M322.8 198h0M317.4 197.6h0M315.9 195.3h0M322.3 204h0M317.8 191h0M311.2 197.2h0M311.9 198.7h0M321.7 192.6h0M314.2 196h0M325.6 195h0M321 190.8h0M315.4 194h0M318.4 194.4h0M316.2 200.3h0M315.7 191.9h0M319.1 191.6h0M325.4 199.5h0M318.5 198.4h0M312.9 198.7h0M321.3 203.6h0M311.1 198.6h0M323.1 193.4h0M319.8 203.8h0M312 197.7h0M324.5 198.1h0M324.3 199.6h0M313.9 197.9h0M321.2 196.3h0M315.9 197.3h0M325.6 195.7h0M317.6 196.3h0M313.2 203.4h0M316.9 193.4h0M322.5 203.2h0M312.6 203.2h0M320.2 199.2h0M323 197.8h0M316.9 197.7h0M322.5 194.1h0M322.2 191.4h0M319.2 193.1h0M315.7 202.1h0M317.5 195.8h0M319.4 196.4h0M314.2 203.8h0M317.3 192.1h0M325.9 202.7h0M317.1 200.8h0M323.1 198.5h0M314.2 203.4h0M318.2 200h0M316.5 196.4h0M325.8 199.1h0M317.7 200.9h0M314.5 196.5h0M323.9 199.9h0M320.2 200.4h0M313.4 200.4h0M321.8 191.9h0M322.5 195.8h0M321.5 197.1h0M322.8 191.9h0M321.8 194.6h0M316.2 193.6h0M324.4 199h0M318.8 194.9h0M317.5 192.5h0M315.9 197.4h0M314.9 201h0M312.2 193.2h0M315.2 192.2h0M320.1 197.1h0M321.5 202.2h0M312.8 196h0M315.8 196.3h0M320.5 193.9h0M322.3 198h0M316 196.6h0M326.3 198.3h0M322.6 194.9h0M322 193.9h0M324.9 193.2h0M326.9 199.3h0M321.8 203.1h0M323.9 200.9h0M323.7 197.5h0M322.7 195.5h0M323.6 197h0M311.6 204h0M317 191.1h0M319.1 199h0M317.8 193.5h0M318.5 191.8h0M316.3 197.6h0M319.3 192h0M323.5 200h0M315.4 198.9h0M326 201.8h0M321 198.2h0M326.3 196.8h0M318 191.4h0M312.3 197.9h0M321.7 202.6h0M325.9 202.1h0M316.1 190.8h0M314.3 200.7h0M315.5 202.1h0M322.1 191h0M321.6 193.8h0M315.2 193.3h0M321.8 196.6h0M313.4 193.9h0M313 201.2h0M319.4 200h0M323.5 190.6h0M316.5 196.9h0M326.3 201.7h0M322.9 194.9h0M326.5 200.9h0M318.7 193.4h0M311.4 193.9h0M313.2 203.9h0M315.4 193.6h0M323.2 200.4h0M314.6 204h0M324.2 199.6h0M320.2 191.1h0M325 200.2h0M315 198.5h0M323.7 202.9h0M320 198.4h0M319.9 192.4h0M313.9 195.2h0M314.4 193.4h0" stroke="#ff7f00" stroke-width="1" stroke-linecap="round" fill="none" opacity="0.9"/>
<path d="M297.1 195.2h0M305.6 192.6h0M306.2 201.2h0M310.5 193.6h0M302.5 192.9h0M309.8 193.6h0M299.8 197h0M304.3 203.9h0M306.6 199.1h0M299 201h0M304.5 192.3h0M296.7 203.9h0M299.8 191.7h0M298.5 198h0M305.3 204.7h0M310.4 204.1h0M309.8 204.8h0M303.6 194.2h0M298.7 199.9h0M309.6 195.7h0M303.7 200.5h0M301.3 192.6h0M306.5 199.9h0M300.7 201.9h0M305.6 199.5h0M296.9 197.3h0M302.2 200.6h0M305.6 198.5h0M297.4 199.8h0M310.2 192.9h0M307.9 190.9h0M305 199.9h0M306.1 204.6h0M304.1 191.2h0M310.4 203.5h0M305.3 201.6h0M296.7 192.7h0M311 195.7h0M305.7 201.7h0M297.7 194.2h0M304.8 204.5h0M296.7 203.9h0M299.3 195.8h0M302.6 203.9h0M302.7 197.9h0M309.4 196.5h0M307.4 198.2h0M308.3 199.1h0M309.4 193.3h0M303.1 190.6h0M296.6 198.4h0M307.4 200.9h0M296.2 194.7h0M299.5 193.6h0M309.5 196.1h0M301.4 201.2h0M305.8 203.8h0M303.8 195.1h0M306.8 194.2h0M297.6 195.8h0M298.7 200.1h0M305.8 197.3h0M304.1 200.6h0M310.6 191.4h0M309 194.3h0M306 197h0M301.7 195h0M310.7 201h0M296.5 197.6h0M304 200.8h0M301.1 198.1h0M298.4 203h0M305.4 191.9h0M300 198.2h0M302.1 201.3h0M303.1 199.3h0M300.5 203h0M302.8 198.3h0M305.4 204.9h0M301.4 198.1h0M299.6 202.2h0M299.8 200.5h0M297.3 191.2h0M303 190.9h0M300.6 192.5h0M298 193.5h0M310.3 199.7h0M303.6 197.8h0M306.5 190.9h0M299.3 201.2h0M300.5 204.5h0M308.5 193h0M297.3 201.1h0M307.6 200.3h0M306.8 200h0M303.8 202.1h0M298.8 203.6h0M302.7 204.1h0M309.1 194.5h0M301.9 201.3h0M297.6 204.2h0M309.7 202.3h0M309.3 201.1h0M310.5 193.4h0M308.2 197.6h0M306.5 191.7h0M301.3 201.2h0M301.3 197.5h0M306.5 193.1h0M305.6 194.7h0M300.9 198.9h0M304.6 194.6h0M307.9 191.2h0M310.4 203h0M306.5 195h0M304.8 205h0M302.4 201.5h0M307.7 191.7h0M303.7 203.1h0M304.9 204.2h0M305.8 192.6h0M305.5 203.8h0M297.9 193.1h0M306 202.3h0M308.4 193.5h0M309.2 196.6h0M303.2 197.9h0M300.7 203.3h0M302.2 197h0M308.5 195.7h0M298.5 191h0M303.6 202.3h0M305.6 193.2h0M299.8 198.1h0M306.1 204.7h0M302.7 196.7h0M307.8 204.3h0M301.1 199.1h0M301.2 190.8h0M305.6 203.7h0M303.7 192.1h0M305.3 193.9h0M302.2 201.2h0M308.4 196.7h0M298.2 191h0M298.3 196.4h0M303.4 196.9h0M301.8 203.7h0M299.4 192h0M310.8 202.3h0M300.9 197h0M296.7 191.6h0M300.9 199.8h0M301.4 202.1h0M302.7 197.2h0M299.9 197.2h0M305.4 195.9h0M310.3 197.1h0M305.2 193.2h0M299 196.9h0" stroke="#cab2d6" stroke-width="1" stroke-linecap="round" fill="none" opacity="0.9"/>
<path d="M309.6 209.7h0M307.3 206.7h0M303.5 210.4h0M301.4 208.1h0M311 206.7h0M310 207.3h0M305 209.4h0M308.5 206.5h0M298.1 206.3h0M307.8 209.3h0M304.5 207.4h0M302.5 210.1h0M309.7 209.7h0M306.5 206h0M307.3 208.4h0M307.4 207.8h0M306.6 210.2h0M303.5 206.2h0M302.2 208h0M299.5 209.3h0M299 211h0M297.1 210h0M307.3 209h0M301.6 207.1h0M300.5 209.1h0M300.7 209.4h0M308.7 208.9h0M304.4 207.3h0M305.1 206.8h0M303.2 206.8h0M304.3 207.3h0M308.6 211.2h0M310.5 210.8h0M297 207h0M309.4 207.2h0M308.8 208.8h0M301 209.7h0M306 208.5h0M311.1 208.1h0M299.9 207.9h0M306.2 206.3h0M298.1 208.8h0M305.6 208.9h0M304.9 206h0M307.8 209.5h0M304.3 210.1h0M299.4 206h0M308.7 209.4h0M301.7 207.4h0M299.7 206.5h0M306.1 211.1h0M299.3 211.6h0M304.8 209.1h0M307.1 206.6h0M301 209.4h0M299.7 211h0M301.1 207.5h0M302.3 206.5h0M311.6 209.4h0M304.2 211.1h0M310.4 207.6h0M303.6 206.9h0M308.5 207.2h0M309.8 208.9h0M304.8 210h0M303.2 211.2h0M300.2 209.5h0M299.2 208.6h0M305.9 209.1h0M305.4 211.7h0M297 208.1h0M311.6 207.2h0M305.7 207.6h0M307.4 210.6h0M306.4 210.8h0M298.6 209.4h0M310.5 210.5h0M305.5 208.4h0M299.6 206.2h0M301.8 208.6h0" stroke="#e31a1c" stroke-width="1" stroke-linecap="round" fill="none" opacity="0.9"/>
<path d="M331.3 211.5h0M330.5 213.8h0M327.9 217h0M330.2 212.6h0M329 213.3h0M328.8 212.1h0M331.3 210.9h0M330.6 218.8h0M331.2 214.2h0M331.4 220.3h0M328.7 212.8h0M331.7 213.1h0M329 214.1h0M330.6 217.5h0M329.4 213.6h0M330.3 219.5h0M331.5 217.2h0M330.8 212.8h0M328.7 213.7h0M327.3 213.2h0M331.6 217h0M330.7 210.9h0M329.5 219h0M327.3 218.7h0M328.7 212.4h0M331 219.7h0M331.9 211.2h0M327 219.6h0M331.9 215.8h0M328.8 210.5h0M329.8 220.4h0M331.9 216.9h0M328.6 218.3h0M328.5 210.4h0M328 218.5h0M329.3 215.5h0M330.7 220.3h0M329.1 219.2h0M329.2 216h0M329.3 220.1h0M331.4 214.5h0M329.1 216.1h0M327.3 214.1h0M330.4 210.3h0M328.8 214.6h0M330.4 213.5h0M327.2 218.4h0M330 210.6h0M328.3 214.1h0M332 218.7h0M331.1 210.8h0M330.2 219.9h0M329.3 220.3h0M330.4 217.4h0M331.7 210.1h0M331.7 217.5h0M327.6 215.7h0M329 210.7h0M330.6 216.2h0M329.3 220h0" stroke="#fb9a99" stroke-width="1" stroke-linecap="round" fill="none" opacity="0.9"/>
<path d="M325.6 203.2h0M323.6 202.4h0M331.4 208.3h0M330.6 207.5h0M329.4 207.8h0M327.7 204.9h0M326.2 207.7h0M323.7 207.7h0M330.7 205.3h0M331.5 208.9h0M325.5 209h0M321.4 201h0M330.7 206.6h0M326.2 205.8h0M322.4 208.9h0M324 202.8h0M328.1 206.5h0M327.6 201.3h0M324.9 206.7h0M327.6 207.2h0M328 205.1h0M320.3 202.2h0M330.1 208.8h0M324.9 201.6h0M320.9 208h0M327.8 206.5h0M320.8 202.9h0M327.8 201.2h0M326.4 201.1h0M327.2 204.3h0M331.5 207.1h0M326.8 202.9h0M325.5 201.9h0M328.1 206.8h0M330.1 203.9h0M330.5 207.4h0M324.9 207.3h0M321 209.8h0M325.4 206.6h0M324.9 203.2h0M325.6 206.2h0M331.9 206.4h0M330.4 203h0M329.3 202.7h0M330.8 208.1h0M331.9 206.5h0M323.4 208.5h0M325.4 206.5h0M331.3 206h0M320.5 202.1h0M326.1 209.2h0M324.2 208.1h0M322.6 202.4h0M322.2 201.4h0M323.3 203.3h0M329.4 205.1h0M329.7 202h0M326.5 206.6h0M323.4 207.4h0M325.1 204.7h0M331.3 205.3h0M320.4 206.9h0M321.4 201.5h0M327.3 204.4h0M320.3 204.3h0M322.9 203h0M327.1 205.3h0M330.4 209.5h0M330.4 201.2h0M321.1 203.8h0" stroke="#fdbf6f" stroke-width="1" stroke-linecap="round" fill="none" opacity="0.9"/>
<text x="263.5" y="203.5" font-size="4.60" fill="#333" transform="rotate(-20 263.5 203.5)">AIv</text>
<text x="268" y="208.5" font-size="4.60" fill="#333" transform="rotate(-20 268 208.5)">AId</text>
<text x="297.3" y="199" font-size="4.60" fill="#333">ORBl</text>
<text x="311.8" y="199.5" font-size="4.60" fill="#333">ORBvl</text>
<text x="321" y="207" font-size="4.60" fill="#333">ORBm</text>
<text x="302.7" y="210.5" font-size="4.60" fill="#333">FRP</text>
<text x="319" y="216" font-size="4.60" fill="#333">PL</text>
<text x="327.5" y="218" font-size="4.60" fill="#333">ILA</text>
<text x="301.8" y="230.6" font-size="4.60" fill="#333">MOs</text>
<text x="323" y="247" font-size="4.40" fill="#333" transform="rotate(-90 323 247)">ACAd</text>
<text x="330" y="250" font-size="4.40" fill="#333" transform="rotate(-90 330 250)">ACAv</text>
<line x1="370.5" y1="187.8" x2="370.5" y2="249.2" stroke="#333" stroke-width="0.5" />
<line x1="370.5" y1="249.2" x2="497.5" y2="249.2" stroke="#333" stroke-width="0.5" />
<line x1="368.8" y1="191.5" x2="370.5" y2="191.5" stroke="#333" stroke-width="0.5" />
<text x="365.9" y="193.8" font-size="6.50" text-anchor="end">300</text>
<line x1="368.8" y1="210" x2="370.5" y2="210" stroke="#333" stroke-width="0.5" />
<text x="365.9" y="212.3" font-size="6.50" text-anchor="end">200</text>
<line x1="368.8" y1="228.4" x2="370.5" y2="228.4" stroke="#333" stroke-width="0.5" />
<text x="365.9" y="230.7" font-size="6.50" text-anchor="end">100</text>
<line x1="368.8" y1="246.8" x2="370.5" y2="246.8" stroke="#333" stroke-width="0.5" />
<text x="365.9" y="249.1" font-size="6.50" text-anchor="end">0</text>
<text x="349.6" y="218.5" font-size="7.13" text-anchor="middle" transform="rotate(-90 349.6 218.5)" textLength="61" lengthAdjust="spacingAndGlyphs">Number of neurons</text>
<rect x="372.6" y="190" width="10.1" height="56.8" fill="#1f78b4" />
<line x1="377.7" y1="249.2" x2="377.7" y2="250.8" stroke="#333" stroke-width="0.5" />
<text x="380.7" y="258.2" font-size="7.20" text-anchor="end" transform="rotate(-45 380.7 258.2)">ACAd</text>
<rect x="384" y="201.5" width="10.1" height="45.3" fill="#b2df8a" />
<line x1="389" y1="249.2" x2="389" y2="250.8" stroke="#333" stroke-width="0.5" />
<text x="392" y="258.2" font-size="7.20" text-anchor="end" transform="rotate(-45 392 258.2)">ACAv</text>
<rect x="395.3" y="219.8" width="10.1" height="27" fill="#6a3d9a" />
<line x1="400.4" y1="249.2" x2="400.4" y2="250.8" stroke="#333" stroke-width="0.5" />
<text x="403.4" y="258.2" font-size="7.20" text-anchor="end" transform="rotate(-45 403.4 258.2)">AId</text>
<rect x="406.7" y="230.8" width="10.1" height="16" fill="#b3b3b3" />
<line x1="411.7" y1="249.2" x2="411.7" y2="250.8" stroke="#333" stroke-width="0.5" />
<text x="414.7" y="258.2" font-size="7.20" text-anchor="end" transform="rotate(-45 414.7 258.2)">AIv</text>
<rect x="418" y="236.3" width="10.1" height="10.5" fill="#e31a1c" />
<line x1="423.1" y1="249.2" x2="423.1" y2="250.8" stroke="#333" stroke-width="0.5" />
<text x="426.1" y="258.2" font-size="7.20" text-anchor="end" transform="rotate(-45 426.1 258.2)">FRP</text>
<rect x="429.4" y="235.6" width="10.1" height="11.2" fill="#fb9a99" />
<line x1="434.4" y1="249.2" x2="434.4" y2="250.8" stroke="#333" stroke-width="0.5" />
<text x="437.4" y="258.2" font-size="7.20" text-anchor="end" transform="rotate(-45 437.4 258.2)">ILA</text>
<rect x="440.7" y="195.9" width="10.1" height="50.9" fill="#a6cee3" />
<line x1="445.8" y1="249.2" x2="445.8" y2="250.8" stroke="#333" stroke-width="0.5" />
<text x="448.8" y="258.2" font-size="7.20" text-anchor="end" transform="rotate(-45 448.8 258.2)">MOs</text>
<rect x="452.1" y="204.9" width="10.1" height="41.9" fill="#cab2d6" />
<line x1="457.1" y1="249.2" x2="457.1" y2="250.8" stroke="#333" stroke-width="0.5" />
<text x="460.1" y="258.2" font-size="7.20" text-anchor="end" transform="rotate(-45 460.1 258.2)">ORBl</text>
<rect x="463.4" y="230.8" width="10.1" height="16" fill="#fdbf6f" />
<line x1="468.5" y1="249.2" x2="468.5" y2="250.8" stroke="#333" stroke-width="0.5" />
<text x="471.5" y="258.2" font-size="7.20" text-anchor="end" transform="rotate(-45 471.5 258.2)">ORBm</text>
<rect x="474.8" y="216.6" width="10.1" height="30.2" fill="#ff7f00" />
<line x1="479.8" y1="249.2" x2="479.8" y2="250.8" stroke="#333" stroke-width="0.5" />
<text x="482.8" y="258.2" font-size="7.20" text-anchor="end" transform="rotate(-45 482.8 258.2)">ORBvl</text>
<rect x="486.1" y="198" width="10.1" height="48.8" fill="#33a02c" />
<line x1="491.2" y1="249.2" x2="491.2" y2="250.8" stroke="#333" stroke-width="0.5" />
<text x="494.2" y="258.2" font-size="7.20" text-anchor="end" transform="rotate(-45 494.2 258.2)">PL</text>
<text x="435.2" y="282.2" font-size="7.06" text-anchor="middle" textLength="50.6" lengthAdjust="spacingAndGlyphs">PFC subregions</text>
<text x="-0.3" y="293.6" font-size="10.50" fill="#000" font-weight="bold">d</text>
<line x1="35.7" y1="300" x2="35.7" y2="381.3" stroke="#333" stroke-width="0.5" />
<line x1="33.2" y1="301.4" x2="35.7" y2="301.4" stroke="#333" stroke-width="0.5" />
<text x="31.2" y="303.7" font-size="6.40" text-anchor="end">20</text>
<line x1="33.2" y1="322" x2="35.7" y2="322" stroke="#333" stroke-width="0.5" />
<text x="31.2" y="324.3" font-size="6.40" text-anchor="end">15</text>
<line x1="33.2" y1="342.6" x2="35.7" y2="342.6" stroke="#333" stroke-width="0.5" />
<text x="31.2" y="344.9" font-size="6.40" text-anchor="end">10</text>
<line x1="33.2" y1="363.2" x2="35.7" y2="363.2" stroke="#333" stroke-width="0.5" />
<text x="31.2" y="365.5" font-size="6.40" text-anchor="end">5</text>
<text x="17.6" y="339.5" font-size="7.35" text-anchor="middle" transform="rotate(-90 17.6 339.5)" textLength="69" lengthAdjust="spacingAndGlyphs">Dendrite length (mm)</text>
<line x1="35.7" y1="381.3" x2="93.8" y2="381.3" stroke="#333" stroke-width="0.5" />
<rect x="35.7" y="291.4" width="58.1" height="8" fill="#fff" stroke="#999" stroke-width="0.5" />
<text x="64.8" y="298.3" font-size="7.06" text-anchor="middle" textLength="33.6" lengthAdjust="spacingAndGlyphs">IT neurons</text>
<line x1="38.5" y1="339" x2="38.5" y2="348.5" stroke="#666" stroke-width="0.5" />
<line x1="38.5" y1="355.9" x2="38.5" y2="365.7" stroke="#666" stroke-width="0.5" />
<rect x="36.4" y="348.5" width="4.3" height="7.4" fill="#6a3d9a" stroke="#555" stroke-width="0.3" />
<line x1="36.4" y1="352.1" x2="40.6" y2="352.1" stroke="#222" stroke-width="0.7" />
<line x1="38.5" y1="381.3" x2="38.5" y2="383.6" stroke="#333" stroke-width="0.5" />
<text x="40.4" y="385.2" font-size="5.90" text-anchor="end" transform="rotate(-90 40.4 385.2)">AId</text>
<line x1="43.7" y1="337.9" x2="43.7" y2="348.5" stroke="#666" stroke-width="0.5" />
<line x1="43.7" y1="358.7" x2="43.7" y2="373.1" stroke="#666" stroke-width="0.5" />
<rect x="41.6" y="348.5" width="4.3" height="10.1" fill="#a6cee3" stroke="#555" stroke-width="0.3" />
<line x1="41.6" y1="353.4" x2="45.9" y2="353.4" stroke="#222" stroke-width="0.7" />
<path d="M43.7 327.3h0" stroke="#222" stroke-width="1.5" stroke-linecap="round" fill="none"/>
<line x1="43.7" y1="381.3" x2="43.7" y2="383.6" stroke="#333" stroke-width="0.5" />
<text x="45.6" y="385.2" font-size="5.90" text-anchor="end" transform="rotate(-90 45.6 385.2)">MOs</text>
<line x1="48.9" y1="340" x2="48.9" y2="347.2" stroke="#666" stroke-width="0.5" />
<line x1="48.9" y1="358.7" x2="48.9" y2="363.2" stroke="#666" stroke-width="0.5" />
<rect x="46.8" y="347.2" width="4.3" height="11.4" fill="#e31a1c" stroke="#555" stroke-width="0.3" />
<line x1="46.8" y1="351" x2="51.1" y2="351" stroke="#222" stroke-width="0.7" />
<line x1="48.9" y1="381.3" x2="48.9" y2="383.6" stroke="#333" stroke-width="0.5" />
<text x="50.8" y="385.2" font-size="5.90" text-anchor="end" transform="rotate(-90 50.8 385.2)">FRP</text>
<line x1="54.2" y1="337.1" x2="54.2" y2="349.7" stroke="#666" stroke-width="0.5" />
<line x1="54.2" y1="359.5" x2="54.2" y2="366.5" stroke="#666" stroke-width="0.5" />
<rect x="52" y="349.7" width="4.3" height="9.8" fill="#1f78b4" stroke="#555" stroke-width="0.3" />
<line x1="52" y1="355.1" x2="56.3" y2="355.1" stroke="#222" stroke-width="0.7" />
<path d="M54.2 334.1h0" stroke="#222" stroke-width="1.5" stroke-linecap="round" fill="none"/>
<line x1="54.2" y1="381.3" x2="54.2" y2="383.6" stroke="#333" stroke-width="0.5" />
<text x="56.1" y="385.2" font-size="5.90" text-anchor="end" transform="rotate(-90 56.1 385.2)">ACAd</text>
<line x1="59.4" y1="335.9" x2="59.4" y2="346.1" stroke="#666" stroke-width="0.5" />
<line x1="59.4" y1="354.7" x2="59.4" y2="366.5" stroke="#666" stroke-width="0.5" />
<rect x="57.2" y="346.1" width="4.3" height="8.7" fill="#b3b3b3" stroke="#555" stroke-width="0.3" />
<line x1="57.2" y1="349.3" x2="61.5" y2="349.3" stroke="#222" stroke-width="0.7" />
<line x1="59.4" y1="381.3" x2="59.4" y2="383.6" stroke="#333" stroke-width="0.5" />
<text x="61.3" y="385.2" font-size="5.90" text-anchor="end" transform="rotate(-90 61.3 385.2)">AIv</text>
<line x1="64.6" y1="344.1" x2="64.6" y2="350.5" stroke="#666" stroke-width="0.5" />
<line x1="64.6" y1="360.8" x2="64.6" y2="367.8" stroke="#666" stroke-width="0.5" />
<rect x="62.4" y="350.5" width="4.3" height="10.3" fill="#fdbf6f" stroke="#555" stroke-width="0.3" />
<line x1="62.4" y1="355.9" x2="66.8" y2="355.9" stroke="#222" stroke-width="0.7" />
<line x1="64.6" y1="381.3" x2="64.6" y2="383.6" stroke="#333" stroke-width="0.5" />
<text x="66.5" y="385.2" font-size="5.90" text-anchor="end" transform="rotate(-90 66.5 385.2)">ORBm</text>
<line x1="69.8" y1="337.1" x2="69.8" y2="349.8" stroke="#666" stroke-width="0.5" />
<line x1="69.8" y1="359.5" x2="69.8" y2="369" stroke="#666" stroke-width="0.5" />
<rect x="67.7" y="349.8" width="4.3" height="9.6" fill="#cab2d6" stroke="#555" stroke-width="0.3" />
<line x1="67.7" y1="355.1" x2="72" y2="355.1" stroke="#222" stroke-width="0.7" />
<line x1="69.8" y1="381.3" x2="69.8" y2="383.6" stroke="#333" stroke-width="0.5" />
<text x="71.7" y="385.2" font-size="5.90" text-anchor="end" transform="rotate(-90 71.7 385.2)">ORBl</text>
<line x1="75" y1="333" x2="75" y2="347.2" stroke="#666" stroke-width="0.5" />
<line x1="75" y1="358.7" x2="75" y2="368.1" stroke="#666" stroke-width="0.5" />
<rect x="72.9" y="347.2" width="4.3" height="11.4" fill="#33a02c" stroke="#555" stroke-width="0.3" />
<line x1="72.9" y1="353.4" x2="77.2" y2="353.4" stroke="#222" stroke-width="0.7" />
<line x1="75" y1="381.3" x2="75" y2="383.6" stroke="#333" stroke-width="0.5" />
<text x="76.9" y="385.2" font-size="5.90" text-anchor="end" transform="rotate(-90 76.9 385.2)">PL</text>
<line x1="80.3" y1="351" x2="80.3" y2="355.1" stroke="#666" stroke-width="0.5" />
<line x1="80.3" y1="362.4" x2="80.3" y2="366.2" stroke="#666" stroke-width="0.5" />
<rect x="78.1" y="355.1" width="4.3" height="7.4" fill="#ff7f00" stroke="#555" stroke-width="0.3" />
<line x1="78.1" y1="357.5" x2="82.4" y2="357.5" stroke="#222" stroke-width="0.7" />
<path d="M80.3 342.5h0" stroke="#222" stroke-width="1.5" stroke-linecap="round" fill="none"/>
<line x1="80.3" y1="381.3" x2="80.3" y2="383.6" stroke="#333" stroke-width="0.5" />
<text x="82.2" y="385.2" font-size="5.90" text-anchor="end" transform="rotate(-90 82.2 385.2)">ORBvl</text>
<line x1="85.5" y1="351" x2="85.5" y2="358.3" stroke="#666" stroke-width="0.5" />
<line x1="85.5" y1="365.7" x2="85.5" y2="372.2" stroke="#666" stroke-width="0.5" />
<rect x="83.3" y="358.3" width="4.3" height="7.4" fill="#b2df8a" stroke="#555" stroke-width="0.3" />
<line x1="83.3" y1="363.6" x2="87.6" y2="363.6" stroke="#222" stroke-width="0.7" />
<path d="M85.5 345.6h0M85.5 377.6h0" stroke="#222" stroke-width="1.5" stroke-linecap="round" fill="none"/>
<line x1="85.5" y1="381.3" x2="85.5" y2="383.6" stroke="#333" stroke-width="0.5" />
<text x="87.4" y="385.2" font-size="5.90" text-anchor="end" transform="rotate(-90 87.4 385.2)">ACAv</text>
<line x1="90.7" y1="348.2" x2="90.7" y2="351.5" stroke="#666" stroke-width="0.5" />
<line x1="90.7" y1="358.3" x2="90.7" y2="366.5" stroke="#666" stroke-width="0.5" />
<rect x="88.5" y="351.5" width="4.3" height="6.9" fill="#fb9a99" stroke="#555" stroke-width="0.3" />
<line x1="88.5" y1="356.4" x2="92.8" y2="356.4" stroke="#222" stroke-width="0.7" />
<line x1="90.7" y1="381.3" x2="90.7" y2="383.6" stroke="#333" stroke-width="0.5" />
<text x="92.6" y="385.2" font-size="5.90" text-anchor="end" transform="rotate(-90 92.6 385.2)">ILA</text>
<line x1="96.2" y1="381.3" x2="153.8" y2="381.3" stroke="#333" stroke-width="0.5" />
<rect x="96.2" y="291.4" width="57.6" height="8" fill="#fff" stroke="#999" stroke-width="0.5" />
<text x="125" y="298.3" font-size="6.52" text-anchor="middle" textLength="33.6" lengthAdjust="spacingAndGlyphs">PT neurons</text>
<line x1="99.3" y1="315.5" x2="99.3" y2="319.1" stroke="#666" stroke-width="0.5" />
<line x1="99.3" y1="329.7" x2="99.3" y2="342" stroke="#666" stroke-width="0.5" />
<rect x="97.1" y="319.1" width="4.3" height="10.6" fill="#6a3d9a" stroke="#555" stroke-width="0.3" />
<line x1="97.1" y1="325.9" x2="101.5" y2="325.9" stroke="#222" stroke-width="0.7" />
<path d="M99.3 356.7h0" stroke="#222" stroke-width="1.5" stroke-linecap="round" fill="none"/>
<line x1="99.3" y1="381.3" x2="99.3" y2="383.6" stroke="#333" stroke-width="0.5" />
<text x="101.2" y="385.2" font-size="5.90" text-anchor="end" transform="rotate(-90 101.2 385.2)">AId</text>
<line x1="104.5" y1="313.4" x2="104.5" y2="324.8" stroke="#666" stroke-width="0.5" />
<line x1="104.5" y1="341.2" x2="104.5" y2="351.8" stroke="#666" stroke-width="0.5" />
<rect x="102.3" y="324.8" width="4.3" height="16.4" fill="#a6cee3" stroke="#555" stroke-width="0.3" />
<line x1="102.3" y1="330.9" x2="106.6" y2="330.9" stroke="#222" stroke-width="0.7" />
<line x1="104.5" y1="381.3" x2="104.5" y2="383.6" stroke="#333" stroke-width="0.5" />
<text x="106.4" y="385.2" font-size="5.90" text-anchor="end" transform="rotate(-90 106.4 385.2)">MOs</text>
<line x1="109.6" y1="323.2" x2="109.6" y2="330.2" stroke="#666" stroke-width="0.5" />
<line x1="109.6" y1="337.4" x2="109.6" y2="342" stroke="#666" stroke-width="0.5" />
<rect x="107.5" y="330.2" width="4.3" height="7.2" fill="#e31a1c" stroke="#555" stroke-width="0.3" />
<line x1="107.5" y1="334.1" x2="111.8" y2="334.1" stroke="#222" stroke-width="0.7" />
<line x1="109.6" y1="381.3" x2="109.6" y2="383.6" stroke="#333" stroke-width="0.5" />
<text x="111.5" y="385.2" font-size="5.90" text-anchor="end" transform="rotate(-90 111.5 385.2)">FRP</text>
<line x1="114.8" y1="320.7" x2="114.8" y2="331" stroke="#666" stroke-width="0.5" />
<line x1="114.8" y1="340.3" x2="114.8" y2="349.8" stroke="#666" stroke-width="0.5" />
<rect x="112.7" y="331" width="4.3" height="9.3" fill="#1f78b4" stroke="#555" stroke-width="0.3" />
<line x1="112.7" y1="334.6" x2="117" y2="334.6" stroke="#222" stroke-width="0.7" />
<path d="M114.8 314.2h0M114.8 359.1h0M114.8 365.7h0" stroke="#222" stroke-width="1.5" stroke-linecap="round" fill="none"/>
<line x1="114.8" y1="381.3" x2="114.8" y2="383.6" stroke="#333" stroke-width="0.5" />
<text x="116.7" y="385.2" font-size="5.90" text-anchor="end" transform="rotate(-90 116.7 385.2)">ACAd</text>
<line x1="120" y1="324.8" x2="120" y2="333.5" stroke="#666" stroke-width="0.5" />
<line x1="120" y1="340.7" x2="120" y2="348.8" stroke="#666" stroke-width="0.5" />
<rect x="117.8" y="333.5" width="4.3" height="7.2" fill="#b3b3b3" stroke="#555" stroke-width="0.3" />
<line x1="117.8" y1="334.6" x2="122.1" y2="334.6" stroke="#222" stroke-width="0.7" />
<line x1="120" y1="381.3" x2="120" y2="383.6" stroke="#333" stroke-width="0.5" />
<text x="121.9" y="385.2" font-size="5.90" text-anchor="end" transform="rotate(-90 121.9 385.2)">AIv</text>
<line x1="125.2" y1="322.3" x2="125.2" y2="331.3" stroke="#666" stroke-width="0.5" />
<line x1="125.2" y1="344.4" x2="125.2" y2="352.6" stroke="#666" stroke-width="0.5" />
<rect x="123" y="331.3" width="4.3" height="13.1" fill="#fdbf6f" stroke="#555" stroke-width="0.3" />
<line x1="123" y1="339" x2="127.3" y2="339" stroke="#222" stroke-width="0.7" />
<line x1="125.2" y1="381.3" x2="125.2" y2="383.6" stroke="#333" stroke-width="0.5" />
<text x="127.1" y="385.2" font-size="5.90" text-anchor="end" transform="rotate(-90 127.1 385.2)">ORBm</text>
<line x1="130.3" y1="319.1" x2="130.3" y2="334.1" stroke="#666" stroke-width="0.5" />
<line x1="130.3" y1="344.4" x2="130.3" y2="352.6" stroke="#666" stroke-width="0.5" />
<rect x="128.2" y="334.1" width="4.3" height="10.3" fill="#cab2d6" stroke="#555" stroke-width="0.3" />
<line x1="128.2" y1="339.5" x2="132.5" y2="339.5" stroke="#222" stroke-width="0.7" />
<path d="M130.3 302.7h0M130.3 308h0M130.3 313.7h0M130.3 362.9h0" stroke="#222" stroke-width="1.5" stroke-linecap="round" fill="none"/>
<line x1="130.3" y1="381.3" x2="130.3" y2="383.6" stroke="#333" stroke-width="0.5" />
<text x="132.2" y="385.2" font-size="5.90" text-anchor="end" transform="rotate(-90 132.2 385.2)">ORBl</text>
<line x1="135.5" y1="321" x2="135.5" y2="335.4" stroke="#666" stroke-width="0.5" />
<line x1="135.5" y1="346.6" x2="135.5" y2="360.8" stroke="#666" stroke-width="0.5" />
<rect x="133.3" y="335.4" width="4.3" height="11.1" fill="#33a02c" stroke="#555" stroke-width="0.3" />
<line x1="133.3" y1="337.9" x2="137.6" y2="337.9" stroke="#222" stroke-width="0.7" />
<line x1="135.5" y1="381.3" x2="135.5" y2="383.6" stroke="#333" stroke-width="0.5" />
<text x="137.4" y="385.2" font-size="5.90" text-anchor="end" transform="rotate(-90 137.4 385.2)">PL</text>
<line x1="140.7" y1="316.1" x2="140.7" y2="335.9" stroke="#666" stroke-width="0.5" />
<line x1="140.7" y1="348.8" x2="140.7" y2="365.7" stroke="#666" stroke-width="0.5" />
<rect x="138.5" y="335.9" width="4.3" height="12.9" fill="#ff7f00" stroke="#555" stroke-width="0.3" />
<line x1="138.5" y1="344.4" x2="142.8" y2="344.4" stroke="#222" stroke-width="0.7" />
<line x1="140.7" y1="381.3" x2="140.7" y2="383.6" stroke="#333" stroke-width="0.5" />
<text x="142.6" y="385.2" font-size="5.90" text-anchor="end" transform="rotate(-90 142.6 385.2)">ORBvl</text>
<line x1="145.8" y1="317.4" x2="145.8" y2="338.2" stroke="#666" stroke-width="0.5" />
<line x1="145.8" y1="352.1" x2="145.8" y2="369.8" stroke="#666" stroke-width="0.5" />
<rect x="143.7" y="338.2" width="4.3" height="13.9" fill="#b2df8a" stroke="#555" stroke-width="0.3" />
<line x1="143.7" y1="343.6" x2="148" y2="343.6" stroke="#222" stroke-width="0.7" />
<line x1="145.8" y1="381.3" x2="145.8" y2="383.6" stroke="#333" stroke-width="0.5" />
<text x="147.7" y="385.2" font-size="5.90" text-anchor="end" transform="rotate(-90 147.7 385.2)">ACAv</text>
<line x1="151" y1="333.5" x2="151" y2="345.2" stroke="#666" stroke-width="0.5" />
<line x1="151" y1="355.1" x2="151" y2="366.5" stroke="#666" stroke-width="0.5" />
<rect x="148.8" y="345.2" width="4.3" height="9.8" fill="#fb9a99" stroke="#555" stroke-width="0.3" />
<line x1="148.8" y1="349.3" x2="153.2" y2="349.3" stroke="#222" stroke-width="0.7" />
<line x1="151" y1="381.3" x2="151" y2="383.6" stroke="#333" stroke-width="0.5" />
<text x="152.9" y="385.2" font-size="5.90" text-anchor="end" transform="rotate(-90 152.9 385.2)">ILA</text>
<line x1="156.5" y1="381.3" x2="214.6" y2="381.3" stroke="#333" stroke-width="0.5" />
<rect x="156.5" y="291.4" width="58.1" height="8" fill="#fff" stroke="#999" stroke-width="0.5" />
<text x="185.6" y="298.3" font-size="6.45" text-anchor="middle" textLength="33.6" lengthAdjust="spacingAndGlyphs">CT neurons</text>
<line x1="159.3" y1="358.3" x2="159.3" y2="361.6" stroke="#666" stroke-width="0.5" />
<line x1="159.3" y1="367.3" x2="159.3" y2="369.8" stroke="#666" stroke-width="0.5" />
<rect x="157.2" y="361.6" width="4.3" height="5.7" fill="#6a3d9a" stroke="#555" stroke-width="0.3" />
<line x1="157.2" y1="364.1" x2="161.5" y2="364.1" stroke="#222" stroke-width="0.7" />
<line x1="159.3" y1="381.3" x2="159.3" y2="383.6" stroke="#333" stroke-width="0.5" />
<text x="161.2" y="385.2" font-size="5.90" text-anchor="end" transform="rotate(-90 161.2 385.2)">AId</text>
<line x1="164.5" y1="358.7" x2="164.5" y2="362.9" stroke="#666" stroke-width="0.5" />
<line x1="164.5" y1="367.7" x2="164.5" y2="371.4" stroke="#666" stroke-width="0.5" />
<rect x="162.3" y="362.9" width="4.3" height="4.7" fill="#a6cee3" stroke="#555" stroke-width="0.3" />
<line x1="162.3" y1="364.9" x2="166.7" y2="364.9" stroke="#222" stroke-width="0.7" />
<line x1="164.5" y1="381.3" x2="164.5" y2="383.6" stroke="#333" stroke-width="0.5" />
<text x="166.4" y="385.2" font-size="5.90" text-anchor="end" transform="rotate(-90 166.4 385.2)">MOs</text>
<line x1="169.7" y1="357.5" x2="169.7" y2="361.1" stroke="#666" stroke-width="0.5" />
<line x1="169.7" y1="364.9" x2="169.7" y2="366.5" stroke="#666" stroke-width="0.5" />
<rect x="167.6" y="361.1" width="4.3" height="3.8" fill="#e31a1c" stroke="#555" stroke-width="0.3" />
<line x1="167.6" y1="363.2" x2="171.9" y2="363.2" stroke="#222" stroke-width="0.7" />
<path d="M169.7 370.6h0" stroke="#222" stroke-width="1.5" stroke-linecap="round" fill="none"/>
<line x1="169.7" y1="381.3" x2="169.7" y2="383.6" stroke="#333" stroke-width="0.5" />
<text x="171.6" y="385.2" font-size="5.90" text-anchor="end" transform="rotate(-90 171.6 385.2)">FRP</text>
<line x1="174.9" y1="356.7" x2="174.9" y2="362.1" stroke="#666" stroke-width="0.5" />
<line x1="174.9" y1="366.8" x2="174.9" y2="373.1" stroke="#666" stroke-width="0.5" />
<rect x="172.8" y="362.1" width="4.3" height="4.7" fill="#1f78b4" stroke="#555" stroke-width="0.3" />
<line x1="172.8" y1="364.1" x2="177.1" y2="364.1" stroke="#222" stroke-width="0.7" />
<line x1="174.9" y1="381.3" x2="174.9" y2="383.6" stroke="#333" stroke-width="0.5" />
<text x="176.8" y="385.2" font-size="5.90" text-anchor="end" transform="rotate(-90 176.8 385.2)">ACAd</text>
<line x1="180.1" y1="356.7" x2="180.1" y2="359.6" stroke="#666" stroke-width="0.5" />
<line x1="180.1" y1="365.2" x2="180.1" y2="369" stroke="#666" stroke-width="0.5" />
<rect x="178" y="359.6" width="4.3" height="5.6" fill="#b3b3b3" stroke="#555" stroke-width="0.3" />
<line x1="178" y1="361.6" x2="182.3" y2="361.6" stroke="#222" stroke-width="0.7" />
<line x1="180.1" y1="381.3" x2="180.1" y2="383.6" stroke="#333" stroke-width="0.5" />
<text x="182" y="385.2" font-size="5.90" text-anchor="end" transform="rotate(-90 182 385.2)">AIv</text>
<line x1="185.3" y1="349.3" x2="185.3" y2="358.3" stroke="#666" stroke-width="0.5" />
<line x1="185.3" y1="364.9" x2="185.3" y2="369" stroke="#666" stroke-width="0.5" />
<rect x="183.2" y="358.3" width="4.3" height="6.5" fill="#fdbf6f" stroke="#555" stroke-width="0.3" />
<line x1="183.2" y1="362.4" x2="187.5" y2="362.4" stroke="#222" stroke-width="0.7" />
<line x1="185.3" y1="381.3" x2="185.3" y2="383.6" stroke="#333" stroke-width="0.5" />
<text x="187.2" y="385.2" font-size="5.90" text-anchor="end" transform="rotate(-90 187.2 385.2)">ORBm</text>
<line x1="190.5" y1="350.2" x2="190.5" y2="357.2" stroke="#666" stroke-width="0.5" />
<line x1="190.5" y1="364.1" x2="190.5" y2="371.4" stroke="#666" stroke-width="0.5" />
<rect x="188.3" y="357.2" width="4.3" height="6.9" fill="#cab2d6" stroke="#555" stroke-width="0.3" />
<line x1="188.3" y1="360.5" x2="192.7" y2="360.5" stroke="#222" stroke-width="0.7" />
<line x1="190.5" y1="381.3" x2="190.5" y2="383.6" stroke="#333" stroke-width="0.5" />
<text x="192.4" y="385.2" font-size="5.90" text-anchor="end" transform="rotate(-90 192.4 385.2)">ORBl</text>
<line x1="195.7" y1="353.4" x2="195.7" y2="359.1" stroke="#666" stroke-width="0.5" />
<line x1="195.7" y1="364.9" x2="195.7" y2="370.6" stroke="#666" stroke-width="0.5" />
<rect x="193.6" y="359.1" width="4.3" height="5.7" fill="#33a02c" stroke="#555" stroke-width="0.3" />
<line x1="193.6" y1="362.4" x2="197.9" y2="362.4" stroke="#222" stroke-width="0.7" />
<path d="M195.7 347.7h0" stroke="#222" stroke-width="1.5" stroke-linecap="round" fill="none"/>
<line x1="195.7" y1="381.3" x2="195.7" y2="383.6" stroke="#333" stroke-width="0.5" />
<text x="197.6" y="385.2" font-size="5.90" text-anchor="end" transform="rotate(-90 197.6 385.2)">PL</text>
<line x1="200.9" y1="352.6" x2="200.9" y2="356.7" stroke="#666" stroke-width="0.5" />
<line x1="200.9" y1="362.7" x2="200.9" y2="367.3" stroke="#666" stroke-width="0.5" />
<rect x="198.8" y="356.7" width="4.3" height="6.1" fill="#ff7f00" stroke="#555" stroke-width="0.3" />
<line x1="198.8" y1="360" x2="203.1" y2="360" stroke="#222" stroke-width="0.7" />
<line x1="200.9" y1="381.3" x2="200.9" y2="383.6" stroke="#333" stroke-width="0.5" />
<text x="202.8" y="385.2" font-size="5.90" text-anchor="end" transform="rotate(-90 202.8 385.2)">ORBvl</text>
<line x1="206.1" y1="360.8" x2="206.1" y2="363.2" stroke="#666" stroke-width="0.5" />
<line x1="206.1" y1="369.3" x2="206.1" y2="369.8" stroke="#666" stroke-width="0.5" />
<rect x="204" y="363.2" width="4.3" height="6.1" fill="#b2df8a" stroke="#555" stroke-width="0.3" />
<line x1="204" y1="367.3" x2="208.3" y2="367.3" stroke="#222" stroke-width="0.7" />
<line x1="206.1" y1="381.3" x2="206.1" y2="383.6" stroke="#333" stroke-width="0.5" />
<text x="208" y="385.2" font-size="5.90" text-anchor="end" transform="rotate(-90 208 385.2)">ACAv</text>
<line x1="211.3" y1="360.8" x2="211.3" y2="362.1" stroke="#666" stroke-width="0.5" />
<line x1="211.3" y1="365.7" x2="211.3" y2="366.2" stroke="#666" stroke-width="0.5" />
<rect x="209.2" y="362.1" width="4.3" height="3.6" fill="#fb9a99" stroke="#555" stroke-width="0.3" />
<line x1="209.2" y1="363.6" x2="213.5" y2="363.6" stroke="#222" stroke-width="0.7" />
<line x1="211.3" y1="381.3" x2="211.3" y2="383.6" stroke="#333" stroke-width="0.5" />
<text x="213.2" y="385.2" font-size="5.90" text-anchor="end" transform="rotate(-90 213.2 385.2)">ILA</text>
<text x="124.5" y="410.4" font-size="7.11" text-anchor="middle" textLength="51" lengthAdjust="spacingAndGlyphs">PFC subregions</text>
<text x="148" y="308.4" font-size="5.44" textLength="41.3" lengthAdjust="spacingAndGlyphs">Two-way ANOVA</text>
<text x="148" y="314.7" font-size="5.15" textLength="20.9" lengthAdjust="spacingAndGlyphs">IT/PT/CT</text>
<text x="187.3" y="314.7" font-size="5.40"><tspan font-style="italic">P</tspan> = 2 × 10<tspan font-size="3.2" dy="-2.4">−16</tspan></text>
<text x="148" y="320.6" font-size="5.30" textLength="38" lengthAdjust="spacingAndGlyphs">PFC subregions</text>
<text x="188.6" y="320.6" font-size="5.40"><tspan font-style="italic">P</tspan> &lt; 2 × 10<tspan font-size="3.2" dy="-2.4">−16</tspan></text>
<line x1="217" y1="300" x2="217" y2="381" stroke="#bbb" stroke-width="0.4" />
<path d="M217,302 L217.1,302 L217.1,302.8 L217.1,303.6 L217.1,304.4 L217.1,305.2 L217.1,306 L217.2,306.8 L217.2,307.6 L217.3,308.4 L217.3,309.2 L217.4,310 L217.4,310.8 L217.5,311.6 L217.6,312.4 L217.7,313.2 L217.8,314 L217.9,314.8 L218,315.6 L218.2,316.4 L218.3,317.2 L218.5,318 L218.7,318.8 L218.9,319.6 L219.2,320.4 L219.4,321.2 L219.7,322 L219.9,322.8 L220.2,323.6 L220.5,324.4 L220.8,325.2 L221.2,326 L221.5,326.8 L221.8,327.6 L222.1,328.4 L222.5,329.2 L222.8,330 L223.1,330.8 L223.4,331.6 L223.7,332.4 L224,333.2 L224.2,334 L224.5,334.8 L224.7,335.6 L224.8,336.4 L225,337.2 L225.1,338 L225.2,338.8 L225.2,339.6 L225.2,340.4 L225.2,341.2 L225.1,342 L225,342.8 L224.8,343.6 L224.7,344.4 L224.5,345.2 L224.2,346 L224,346.8 L223.7,347.6 L223.4,348.4 L223.1,349.2 L222.8,350 L222.5,350.8 L222.1,351.6 L221.8,352.4 L221.5,353.2 L221.2,354 L220.8,354.8 L220.5,355.6 L220.2,356.4 L219.9,357.2 L219.7,358 L219.4,358.8 L219.2,359.6 L218.9,360.4 L218.7,361.2 L218.5,362 L218.3,362.8 L218.2,363.6 L218,364.4 L217.9,365.2 L217.8,366 L217.7,366.8 L217.6,367.6 L217.5,368.4 L217.4,369.2 L217.4,370 L217.3,370.8 L217.3,371.6 L217.2,372.4 L217.2,373.2 L217.1,374 L217.1,374.8 L217.1,375.6 L217.1,376.4 L217.1,377.2 L217.1,378 L217,378.8 L217,379.6 L217,380.4 L217,381 Z" fill="#3a3aff" fill-opacity="0.65"/>
<path d="M217,315 L217,315 L217,315.8 L217,316.6 L217,317.4 L217,318.2 L217,319 L217,319.8 L217,320.6 L217,321.4 L217,322.2 L217,323 L217,323.8 L217,324.6 L217,325.4 L217,326.2 L217,327 L217,327.8 L217,328.6 L217,329.4 L217,330.2 L217.1,331 L217.1,331.8 L217.1,332.6 L217.2,333.4 L217.2,334.2 L217.3,335 L217.4,335.8 L217.5,336.6 L217.6,337.4 L217.8,338.2 L218,339 L218.2,339.8 L218.5,340.6 L218.8,341.4 L219.2,342.2 L219.6,343 L220.1,343.8 L220.7,344.6 L221.3,345.4 L221.9,346.2 L222.6,347 L223.3,347.8 L224,348.6 L224.8,349.4 L225.5,350.2 L226.2,351 L226.9,351.8 L227.5,352.6 L228,353.4 L228.5,354.2 L228.8,355 L229.1,355.8 L229.2,356.6 L229.2,357.4 L229.1,358.2 L228.8,359 L228.5,359.8 L228,360.6 L227.5,361.4 L226.9,362.2 L226.2,363 L225.5,363.8 L224.8,364.6 L224,365.4 L223.3,366.2 L222.6,367 L221.9,367.8 L221.3,368.6 L220.7,369.4 L220.1,370.2 L219.6,371 L219.2,371.8 L218.8,372.6 L218.5,373.4 L218.2,374.2 L218,375 L217.8,375.8 L217.6,376.6 L217.5,377.4 L217.4,378.2 L217.3,379 L217.2,379.8 L217.2,380.6 L217,381 Z" fill="#ff3040" fill-opacity="0.6"/>
<path d="M217,340 L217,340 L217,340.8 L217,341.6 L217,342.4 L217,343.2 L217,344 L217,344.8 L217,345.6 L217,346.4 L217,347.2 L217.1,348 L217.1,348.8 L217.2,349.6 L217.3,350.4 L217.4,351.2 L217.7,352 L218,352.8 L218.5,353.6 L219.1,354.4 L219.9,355.2 L220.9,356 L222.1,356.8 L223.6,357.6 L225.2,358.4 L227.1,359.2 L228.9,360 L230.8,360.8 L232.6,361.6 L234.2,362.4 L235.5,363.2 L236.3,364 L236.7,364.8 L236.6,365.6 L235.9,366.4 L234.9,367.2 L233.5,368 L231.8,368.8 L229.9,369.6 L228,370.4 L226.1,371.2 L224.4,372 L222.8,372.8 L221.5,373.6 L220.4,374.4 L219.5,375.2 L218.8,376 L218.2,376.8 L217.8,377.6 L217.5,378.4 L217.3,379.2 L217.2,380 L217.1,380.8 L217,381 Z" fill="#ff7a30" fill-opacity="0.65"/>
<text x="242" y="303.6" font-size="7.29" text-anchor="middle" textLength="32.4" lengthAdjust="spacingAndGlyphs">Projection</text>
<text x="242" y="312.2" font-size="7.20" text-anchor="middle" textLength="38" lengthAdjust="spacingAndGlyphs">neuron type</text>
<rect x="235" y="316.8" width="8" height="6.3" fill="#e0e0e0" />
<line x1="236" y1="319.9" x2="242" y2="319.9" stroke="#ff2020" stroke-width="0.9" />
<circle cx="239" cy="319.9" r="0.8" fill="#ff2020" />
<text x="245.5" y="322.2" font-size="6.60">IT</text>
<rect x="235" y="325.4" width="8" height="6.3" fill="#e0e0e0" />
<line x1="236" y1="328.6" x2="242" y2="328.6" stroke="#2020ff" stroke-width="0.9" />
<circle cx="239" cy="328.6" r="0.8" fill="#2020ff" />
<text x="245.5" y="330.8" font-size="6.60">PT</text>
<rect x="235" y="334" width="8" height="6.3" fill="#e0e0e0" />
<line x1="236" y1="337.1" x2="242" y2="337.1" stroke="#ff7a30" stroke-width="0.9" />
<circle cx="239" cy="337.1" r="0.8" fill="#ff7a30" />
<text x="245.5" y="339.4" font-size="6.60">CT</text>
<text x="271.5" y="294" font-size="10.50" fill="#000" font-weight="bold">e</text>
<rect x="303.4" y="305" width="69" height="67.4" fill="#fff" stroke="#9a9a9a" stroke-width="0.5" />
<path d="M321.3 360.4h0M318.8 356.2h0M333.6 357.5h0M338.5 351.9h0M329 345.7h0M328.2 360.3h0M331.3 345.4h0M336.3 360.6h0M326.9 344.4h0M332.6 349.2h0M335.1 351.8h0M333.1 351.5h0M324.4 349.1h0M333.2 349.4h0M333.8 355.5h0M333.2 352.9h0M338.9 346.4h0M338.7 342h0M330.2 352.6h0M340.4 349.7h0M338.3 345.9h0M319.4 352.1h0M335.3 353.1h0M330.2 345.6h0M317.8 349.4h0M324.9 359.5h0M326.9 349.1h0M330.2 347.4h0M329.2 350h0M313.5 351.3h0M316.6 347.8h0M327.4 357.7h0M339.9 360.6h0M322.4 357.3h0M330.3 349.3h0M335.7 351.8h0M321.6 359.9h0M315 351.2h0M330.6 352.4h0M337.3 348.7h0M319.3 344.8h0M340.8 351.2h0M323.5 350.7h0M332.9 350.3h0M335 357h0M336.4 357.6h0M322.8 342h0M340.9 345.4h0M321.9 362.3h0M334.6 359.6h0M324.3 357.2h0M326.5 357.3h0M337.7 363.7h0M331.8 356.1h0M322.5 355.7h0M331.8 359.2h0M325.3 351.9h0M330.6 354.1h0M318.8 352.7h0M321.9 346.3h0M334.6 349.2h0M325.2 354.6h0M320.9 360.3h0M329.2 352.6h0M312.6 351.4h0M337.2 361.6h0M326.6 350.7h0M339 361.7h0M327.9 347.4h0M330.3 352h0M339.7 346.3h0M329.2 359.5h0M332.9 347.6h0M339.2 350.3h0M327.3 361.5h0M327.7 354.9h0M339.3 346.7h0M337.7 358.5h0M317.7 355.1h0M328.8 357h0M339 352.4h0M320.4 357.1h0M323.3 355.1h0M315.9 350.9h0M330.7 351.8h0M332.8 350.4h0M327.2 361.6h0M325.2 345.2h0M329.4 357.2h0M327.2 360.7h0M318.1 343.4h0M321.7 358.8h0M319.2 354.5h0M344.8 356.3h0M327.8 350h0M337.8 350.5h0M321.2 351.7h0M322.3 346.6h0M321 357h0M326.9 345.9h0M338.4 357.2h0M320 362.8h0M322.4 351.5h0M331.6 343.1h0M340.1 342h0M327.8 358.4h0M332.3 353.5h0M321.1 362.8h0M319.5 342.4h0M321.2 358.3h0" stroke="#b2df8a" stroke-width="1.6" stroke-linecap="round" fill="none" opacity="0.95"/>
<path d="M340 310.8h0M350 326.1h0M333.9 321.2h0M338 311.1h0M339.7 322.3h0M349 327.5h0M326.8 310.6h0M337.5 342.1h0M343.8 332.8h0M343.2 338.4h0M334.8 319.5h0M331.3 322.2h0M336 328.3h0M329.1 343.9h0M328.1 332.7h0M347.6 328.6h0M358.7 329.5h0M330.9 326.6h0M327.4 327h0M321.5 326.2h0M352.6 314.8h0M329.7 325.5h0M338.6 336.6h0M337.2 327.8h0M334.3 315h0M333.5 319.6h0M338.5 331.3h0M330.2 321.6h0M338 337.8h0M338.4 335.6h0M351.4 336.3h0M334.1 332.8h0M338.7 338.3h0M335.2 337.8h0M338 332.3h0M329.2 321.9h0M346.2 322.1h0M346.7 323.3h0M344.4 342.9h0M334.6 328.5h0M334.4 323.5h0M323.7 332.1h0M344.4 329.9h0M341.4 339.1h0M322.5 317.5h0M357.2 326.7h0M347.4 330.1h0M337.5 320.6h0M316.8 349.8h0M336.5 331.2h0M331.8 335.3h0M332.6 336.7h0M325 338.6h0M336.3 345.6h0M320.6 337.8h0M313.7 346h0M347.1 323.6h0M330.8 335.6h0M320.3 324.8h0M347.9 334.3h0M343.4 331.8h0M329.4 320.8h0M337.6 308.7h0M323.3 347.8h0M335.2 308.7h0" stroke="#a6cee3" stroke-width="1.6" stroke-linecap="round" fill="none" opacity="0.95"/>
<path d="M347.5 333.5h0M323.3 317.3h0M330.4 326.4h0M329.4 327.2h0M343.3 329h0M330.4 340.6h0M333.7 336.8h0M327.9 326.4h0M336.6 342.7h0M325.6 310.9h0M323 315.7h0M320 313.5h0M342.8 349.8h0" stroke="#6a3d9a" stroke-width="1.6" stroke-linecap="round" fill="none" opacity="0.95"/>
<path d="M333.4 331.3h0M343.9 330.5h0M325.1 326.4h0M357.2 324.7h0M337.6 331.5h0M337.3 308.7h0M335.8 321.5h0M345.8 330.6h0M338.3 324.7h0M332.1 336h0M340.5 332.7h0M344.3 315.4h0M349.2 330.1h0M354.3 331.6h0M336.2 316.4h0M334.4 318.6h0" stroke="#e31a1c" stroke-width="1.6" stroke-linecap="round" fill="none" opacity="0.95"/>
<path d="M338.6 308.8h0M338.4 328.3h0M324.3 325.4h0M332.2 325.6h0M348.4 311.5h0M326.5 335.6h0M330.7 323.4h0M314.7 323.3h0M335.6 319.7h0M341 328.7h0M352.5 349.8h0M325.5 329.6h0M327.1 318.5h0M330.7 324.9h0M333.6 327.2h0M335.7 323.3h0M338.6 332.5h0M338.5 321.9h0M344.7 308.7h0M328.1 331.9h0M340 320.7h0M335.9 316.8h0M336.3 336.3h0M344.1 349.1h0M328 336.1h0M339.5 343.6h0M337.1 311.3h0" stroke="#fb9a99" stroke-width="1.6" stroke-linecap="round" fill="none" opacity="0.95"/>
<path d="M350.8 308.7h0M341.8 336.3h0M331.2 324.2h0M332.9 336h0M346.8 321.3h0M347 327.2h0M320.6 331.8h0M339.4 346h0M333.3 308.7h0M337.5 334.2h0M341.7 333.3h0M335.6 341.9h0M315.9 330.4h0M346.5 327.4h0M343.3 321.8h0M359 343.9h0M340.1 331.5h0M322.6 334.7h0M355.7 332.9h0M345.1 346.1h0M343 308.7h0M330.1 334h0M325.4 340.7h0M329.5 335.1h0M336.7 318.9h0M343.1 331h0M338.8 311.9h0M335.3 332.2h0M331.6 317.1h0M336 337.2h0M331.8 334.7h0M327.6 308.7h0M323.1 338.1h0M328.4 325h0M328.1 323.2h0M349.6 308.7h0M338.1 338.1h0M358.1 334h0M318 327.5h0M331.8 324.3h0M353.5 345.3h0M344.4 327.7h0M318.7 332.8h0M331.1 330.6h0M346.3 342.1h0M320.5 336.6h0M340.5 328h0M339.4 349.8h0M346.5 345.9h0M344.9 348.3h0M337.7 349.5h0" stroke="#33a02c" stroke-width="1.6" stroke-linecap="round" fill="none" opacity="0.95"/>
<path d="M346.6 325.2h0M343.2 332.6h0M338.3 345.9h0M331 324.6h0M352.4 317.7h0M341.6 331.5h0M350.7 319.7h0M331.8 310.2h0M342.6 326.4h0M339.6 323.1h0M350.1 335.5h0M350.4 319.2h0M336 341.8h0M349 330.5h0M339.4 327.8h0M334.7 330.1h0M321.2 326.7h0M338.5 331.1h0M331.7 309.2h0M336.4 342.9h0M327 324h0M326.7 314.2h0M341.6 331.8h0M313.8 328.1h0M347.7 335.8h0M335.9 340.6h0M327.9 328.5h0M340.6 328.1h0M343.2 311.9h0M337.2 323.8h0M350.1 331.6h0M337.4 323.4h0M332 324.9h0M338.3 327.4h0M333.7 342.3h0M332.7 314.1h0M343.2 325.2h0M359 336.5h0M331.6 336.5h0M351.4 331.9h0M336.9 328.9h0M331.9 329.8h0M335.8 349.8h0M335.2 309.9h0M335.4 331.9h0M340.8 316.8h0M344.3 334.5h0" stroke="#ff7f00" stroke-width="1.6" stroke-linecap="round" fill="none" opacity="0.95"/>
<path d="M339 314h0M331.8 344.6h0M328.4 341h0M346.3 317h0M343.1 329.3h0M339.3 315.9h0M341.2 343.9h0M353.1 336.8h0M336.6 330.4h0M347.2 336.3h0M343.2 308.7h0M349.8 347.2h0M341.5 329.3h0M327.9 312.4h0M331.7 326.3h0M333.1 342.4h0M327.7 338.3h0M334.8 349.8h0M320.4 323.3h0M329.8 319.1h0M365.8 326.1h0M321 320.9h0M333.3 326.4h0M339.4 311.8h0M329.1 345.1h0M342.4 340.2h0M333.6 322h0M308.7 346.5h0M336.2 318.3h0M329.9 334h0M336.1 322.3h0M337 323.5h0M355 329.3h0M337.5 330.2h0M326.8 335.1h0M344 318.2h0M329.2 313.1h0M328.4 332.5h0M346.9 326.8h0M340.3 322.9h0M336.2 340.5h0M334.7 334.3h0M333.9 333.5h0M330.6 314.9h0M332.6 328.4h0M348.9 317.4h0M335.2 337.5h0M340.5 341.2h0M334.9 318.2h0M338.2 311.6h0M343.5 330.5h0M344.7 342.2h0M326.7 336.1h0M327.5 349.8h0M339 329h0M354.6 331.2h0M339.5 312h0M326.6 325.1h0" stroke="#1f78b4" stroke-width="1.6" stroke-linecap="round" fill="none" opacity="0.95"/>
<path d="M326.1 324.1h0M343.5 340h0M349.7 308.7h0M345.1 315.5h0M356.9 309.3h0M346 335.5h0M327.7 343.6h0M345.3 334.4h0M331.8 335.7h0M355.9 338.4h0M325 340.1h0M343.8 318.1h0M334.2 320.9h0M337.5 326.9h0M340.3 335.7h0M347.6 333.4h0M336.9 340.9h0" stroke="#b3b3b3" stroke-width="1.6" stroke-linecap="round" fill="none" opacity="0.95"/>
<path d="M348.3 348.1h0M329.5 315.4h0M346.7 337h0M337.1 341.4h0M335.4 346.8h0M331.4 331.7h0M353.1 330.1h0M339 325.3h0M335.2 316.8h0M344.3 326.3h0M335.3 324.8h0M345.9 328.1h0M323.7 329.1h0M340.6 334.9h0M346.8 344.6h0M331 331.7h0M317.6 324.9h0M313.7 345.5h0" stroke="#cab2d6" stroke-width="1.6" stroke-linecap="round" fill="none" opacity="0.95"/>
<path d="M324.4 343.3h0M342 323.5h0M339.9 326h0M345.3 336.6h0M346.3 325.7h0M355.3 349.8h0M332.6 323.1h0M333.9 316.7h0M346.2 329.8h0M345.7 333.6h0M330.2 324.4h0M343.5 339.2h0M321.7 319h0M312.2 328.2h0M331 332.1h0M331.2 326.9h0M315.6 312.4h0M326.2 318.6h0" stroke="#fdbf6f" stroke-width="1.6" stroke-linecap="round" fill="none" opacity="0.95"/>
<path d="M304.5,353.4 Q338,336.4 371.5,315.1 L371.5,319.9 Q338,336.9 304.5,358.2 Z" fill="#b8b8b8" fill-opacity="0.6"/>
<line x1="304.5" y1="355.8" x2="371.5" y2="317.5" stroke="#3a6ae8" stroke-width="0.9" />
<line x1="301.8" y1="322.4" x2="303.4" y2="322.4" stroke="#333" stroke-width="0.5" />
<text x="300.6" y="324.7" font-size="6.40" text-anchor="end">1.5</text>
<line x1="301.8" y1="342" x2="303.4" y2="342" stroke="#333" stroke-width="0.5" />
<text x="300.6" y="344.3" font-size="6.40" text-anchor="end">1.0</text>
<line x1="301.8" y1="361.6" x2="303.4" y2="361.6" stroke="#333" stroke-width="0.5" />
<text x="300.6" y="363.9" font-size="6.40" text-anchor="end">0.5</text>
<line x1="312.4" y1="372.4" x2="312.4" y2="374" stroke="#333" stroke-width="0.5" />
<text x="312.4" y="380.8" font-size="6.40" text-anchor="middle">5</text>
<line x1="331.6" y1="372.4" x2="331.6" y2="374" stroke="#333" stroke-width="0.5" />
<text x="331.6" y="380.8" font-size="6.40" text-anchor="middle">10</text>
<line x1="350.8" y1="372.4" x2="350.8" y2="374" stroke="#333" stroke-width="0.5" />
<text x="350.8" y="380.8" font-size="6.40" text-anchor="middle">15</text>
<line x1="370" y1="372.4" x2="370" y2="374" stroke="#333" stroke-width="0.5" />
<text x="370" y="380.8" font-size="6.40" text-anchor="middle">20</text>
<text x="338.8" y="300.8" font-size="7.45" text-anchor="middle" textLength="38.4" lengthAdjust="spacingAndGlyphs">PT neurons</text>
<text x="336.5" y="363.2" font-size="5.20"><tspan font-style="italic">P</tspan> = 5.74 × 10<tspan font-size="3.4" dy="-2.2">−16</tspan></text>
<text x="344.5" y="369.6" font-size="5.20">R<tspan font-size="3.2" dy="-2">2</tspan><tspan dy="2"> = 0.21</tspan></text>
<text x="278.6" y="341.2" font-size="7.27" text-anchor="middle" transform="rotate(-90 278.6 341.2)" textLength="57" lengthAdjust="spacingAndGlyphs">Cortical thickness</text>
<text x="286.2" y="341.2" font-size="6.86" text-anchor="middle" transform="rotate(-90 286.2 341.2)" textLength="16" lengthAdjust="spacingAndGlyphs">(mm)</text>
<text x="338.2" y="392.6" font-size="7.55" text-anchor="middle" textLength="47" lengthAdjust="spacingAndGlyphs">Total length of</text>
<text x="338.2" y="401.4" font-size="7.33" text-anchor="middle" textLength="45.6" lengthAdjust="spacingAndGlyphs">dendrite (mm)</text>
<rect x="389.7" y="304" width="69.7" height="68.4" fill="#fff" stroke="#9a9a9a" stroke-width="0.5" />
<path d="M414.7 308.9h0M415.6 333.4h0M426.7 328.7h0M434.1 307.5h0M422.3 330.3h0M423.8 320h0M423.9 333.7h0M424 326.7h0M435 328.1h0M412 322.9h0M434.9 318h0M427.4 324.2h0M446.5 332.8h0M444.3 342.8h0M437.2 307.5h0M429.6 334.7h0M405.9 332h0M436.6 334h0M429.1 339h0M413.6 338.8h0M427.5 324.5h0M425 317.3h0M446.1 334.8h0M414.4 326.1h0M437.5 333.2h0M434 343.9h0M426.2 340.7h0M430.7 324h0M399.5 324.2h0M430.1 317.5h0M428.3 324.5h0M423 332.4h0M417.3 337.4h0M420.9 307.7h0M437.2 330.2h0M433.6 338.6h0M426.8 336.4h0M415.7 330.5h0M418.8 325.7h0M432.8 329.6h0M414.3 335.5h0M436.7 329.6h0M432.9 326h0M420.2 325.4h0M425.1 332h0M435.8 334.5h0M430 327.3h0M431.1 319.1h0M421.4 330.6h0M415.9 325.4h0M414 333.4h0M432.1 335.6h0M413.5 321.7h0M431.9 315h0M412 334h0" stroke="#33a02c" stroke-width="1.6" stroke-linecap="round" fill="none" opacity="0.95"/>
<path d="M424.4 325h0M415.5 312.1h0M408.8 317.7h0M428.7 324.7h0M435 332.9h0M404.7 333.1h0M437.7 349.8h0M423.6 331h0M428.3 329.4h0M422.2 318.9h0M432.1 344.4h0M421.3 336.3h0M427 349.8h0M438.7 322.9h0M427 342.9h0M408.7 328.7h0M422.2 315.2h0M412.7 324.9h0M436.9 342h0M441.7 349.8h0M415.2 345.9h0M448.5 309.1h0M429.9 318.6h0M419.1 328.3h0M422.3 323.9h0M409.5 313.8h0M432.8 333.8h0M433.3 323.8h0M420.3 344.6h0M421.5 331.5h0M428 322.1h0M417.6 334.3h0M419.1 326.5h0M406.3 320.2h0M431.8 327.8h0M416.2 327.6h0M444.6 334.6h0M431.3 315.4h0M427.1 332.4h0M419.5 344.8h0M409.6 318h0M435 324.3h0M417.3 322.7h0M417.8 326.4h0M418.5 332.2h0M437.5 342.9h0M423.8 332.2h0M429.9 335.2h0M427.2 346.2h0M421.2 320.1h0M435 329.7h0M423.1 336.1h0M427.9 307.5h0M400.7 340.7h0M405.7 330.3h0M432 341.5h0M423.3 327h0M444.6 320.3h0M423 327.3h0M428.6 328.9h0M440.3 339.7h0M406.4 324.4h0M423.4 329.6h0M440.1 346.8h0M412.3 335.2h0M428.6 336h0M421.9 349.8h0M423.5 349.8h0M425.3 349.4h0M409.2 332.1h0M416.5 345.4h0M430.6 326h0M424.8 322.3h0M430.3 325.6h0M423.3 343.1h0M438.6 333.7h0M421.7 332.1h0M433.6 322h0M446.2 333.9h0M434.7 337.3h0M425.8 330.5h0M432.3 321.5h0M437.1 318h0M410.9 337.4h0M417.2 326.7h0M407.2 328.4h0M423.2 330.2h0" stroke="#1f78b4" stroke-width="1.6" stroke-linecap="round" fill="none" opacity="0.95"/>
<path d="M419.1 349.8h0M426.3 325.5h0M422 329.3h0M402.2 339.3h0M400.7 307.5h0M426.2 332.9h0M430.7 330.2h0M419.3 307.5h0M420.5 336.7h0M413.7 327.2h0M425.7 337.2h0M423.2 334.8h0M428.3 324.5h0M443.4 344.8h0M430.6 325.2h0M433.7 331.2h0M442.4 331.7h0M418.2 345.9h0M440.1 324.2h0M417.9 324.1h0M422.8 333.2h0M416.2 323.8h0M424.4 335.9h0M407.8 340.3h0M413.3 318.8h0M426.8 330.3h0M417.2 336.3h0M418.8 327.5h0M435 339.3h0" stroke="#e31a1c" stroke-width="1.6" stroke-linecap="round" fill="none" opacity="0.95"/>
<path d="M412.3 325.2h0M422.9 322.5h0M447 341.2h0M405.8 341.6h0M413.8 337h0M423.3 316.8h0M430 335.3h0M429.9 326.2h0M420 319.2h0M418 336.3h0M427.5 329.1h0M423.5 338.7h0M421.4 334.2h0M428.8 333.6h0M424.9 343.3h0M416.7 331.2h0M445.5 335.7h0M426.3 334.5h0M431.9 344.9h0M413.3 328h0M417.4 332.3h0M413.1 317.9h0M431.7 333h0M431.9 315.5h0M419.1 332.6h0M430.7 336h0M436.9 337h0M427.5 335.3h0M429.1 307.5h0M416.9 335h0M438.5 338.1h0" stroke="#6a3d9a" stroke-width="1.6" stroke-linecap="round" fill="none" opacity="0.95"/>
<path d="M403.9 350.4h0M405.8 353.1h0M414.3 358.6h0M412.7 360h0M405.7 364.4h0M402 362h0M416.9 367.2h0M409.4 360.3h0M400 356.1h0M408.5 354.2h0M405.5 361h0M420.5 349.8h0M421.4 355.4h0M408.3 352.2h0M404.1 357.3h0M408 359.8h0M408.7 362.5h0M413.6 357.2h0M424.3 360.4h0M411.3 355.6h0M411.5 355h0M401.3 352.3h0M405.7 362.8h0M401.1 354.2h0M405.5 353.4h0M409.6 351.5h0M411.9 360.5h0M404.9 351.2h0M406 348.6h0M428.8 364.6h0M403.9 351.8h0M403.5 354.4h0M407.3 351.8h0M403.9 360.6h0M412.1 352.7h0M405.8 357.7h0M414.2 366.3h0M410.3 355.4h0M400.9 361.8h0M409.8 349.2h0M410.7 347.5h0M419.3 358.7h0M411.2 365.6h0M405.6 359.8h0M414.7 351.3h0M405.2 357.7h0M405.6 359h0M415.3 348.2h0M401.5 358.7h0M396.1 356.8h0M407.1 347.4h0M410.8 352.7h0M414 355.4h0M406.9 358.1h0M403.9 361.8h0M400.9 359h0M406.4 357.7h0M419.5 358.6h0M411.5 360.8h0M415 359.3h0M397.4 366.4h0M409.6 350.7h0M419.2 358.3h0M400.6 357.1h0M398.1 364.7h0M405.3 354.1h0M416.3 356.8h0M415.2 354.7h0M404.8 361.5h0M403.6 360.1h0" stroke="#b2df8a" stroke-width="1.6" stroke-linecap="round" fill="none" opacity="0.95"/>
<path d="M413.1 342h0M421.6 323.9h0M430.9 346.8h0M425.1 345.1h0M406.9 327.8h0M427.2 313.2h0M432.7 343h0M420.6 319.7h0M428.1 326.9h0M426.1 321.9h0M423.3 317.4h0M421.7 315.6h0M436.2 340h0M417.5 315.2h0M422.9 339.3h0M440.8 326.1h0M434.7 342.4h0M411.7 328.9h0M414.7 326.8h0M429.1 319.2h0M397.9 320.8h0M402.5 326.1h0M430 348.9h0M420.1 326.7h0M426.5 316.6h0M424.9 338h0M406.6 342.9h0M434.2 338h0M417 318.6h0M414.4 322.7h0M419 314.2h0M412.4 322.8h0M421 349.5h0M431.5 339.1h0M435.6 319.8h0M425.1 336.3h0M418.3 342.3h0M439.8 319.9h0M411.6 334.2h0M420.8 312.5h0M408.9 333.9h0M416.7 335.4h0M411.9 327.2h0M413.6 347h0M432.7 329.1h0M439.8 314.2h0M418.3 335.8h0M420.3 322.8h0M421.6 327.4h0M428.9 327.6h0M428.8 313h0M434.5 320.1h0M423.4 339.1h0M418.3 337.4h0M414.9 326.9h0M403.9 336.2h0M434.7 308.8h0M425.1 349.8h0M423.2 349.8h0M431.3 342.6h0M426.7 339.8h0M436.4 324.2h0M431 343.9h0M436.1 331h0M416.6 327.7h0M422.8 326.5h0M430.5 334.4h0M421.5 332.2h0M410.8 333.2h0M413.9 338.6h0M429.3 322h0M424.8 332.9h0M425.4 337.3h0M432.8 327.3h0M411.9 336.3h0M431.8 330.2h0M424 346.9h0M416.4 333.6h0" stroke="#a6cee3" stroke-width="1.6" stroke-linecap="round" fill="none" opacity="0.95"/>
<path d="M426.7 319.7h0M435.3 349.8h0M422.7 307.5h0M437.3 307.5h0M409.8 332.7h0M424 324.9h0M432.7 340.6h0M413.2 342.3h0M432.8 342.3h0M419 346.3h0M418.9 340.6h0M417.5 332.4h0M428.7 326.5h0M421.9 321.2h0M410.3 346.8h0M411.6 326.4h0M420.7 333.6h0M418 324.1h0M430.2 323.9h0M422.7 331.2h0M411 329.1h0M437.5 317h0M437.9 331.8h0M428.9 344.7h0M426.8 343.7h0M429.4 326.9h0M425.3 328.3h0M408.1 324.9h0M417.2 326.7h0M419.8 321.3h0M414.9 329.2h0M415.1 314.2h0M419.7 323.5h0M437.4 326.8h0M434.3 321.1h0M427.3 347.3h0M416.3 325.5h0M420.3 325.5h0M421.6 330.6h0M404.8 324.1h0M433.1 336.8h0M409.8 345.5h0M419.8 338h0" stroke="#ff7f00" stroke-width="1.6" stroke-linecap="round" fill="none" opacity="0.95"/>
<path d="M429.4 330.1h0M421.9 330.2h0M432.8 335h0M415.5 319.9h0M428.5 340.4h0M441.2 338.9h0M450.5 334.4h0M433.5 322h0M436.7 340.3h0M413 338.4h0M413.6 331.9h0M437 334.4h0M434.9 325.6h0M411.7 349.8h0M422.8 314.4h0M429.6 331h0M419.4 336.8h0M405.5 324.9h0M413.5 332.6h0M415.1 325.1h0M423.2 349.8h0M410 334.1h0" stroke="#cab2d6" stroke-width="1.6" stroke-linecap="round" fill="none" opacity="0.95"/>
<path d="M423.3 344.8h0M427.7 314.7h0M421.7 310.2h0M413 328.5h0M416 332.9h0M413.2 328.1h0M431.5 348.3h0M429.8 331.9h0M425.8 332.6h0M416 341.5h0M422.3 339.8h0M437.4 335.6h0M407.8 329.4h0M421.9 336.4h0M410.9 318.6h0M429.7 336.8h0M422.5 330.9h0M429.8 335h0M441.6 340.8h0M428.6 314.5h0" stroke="#fb9a99" stroke-width="1.6" stroke-linecap="round" fill="none" opacity="0.95"/>
<path d="M414.9 334.3h0M437.9 334.5h0M438.2 320.7h0M428.7 330h0M414.2 328h0M436.7 322.3h0M418.6 323.4h0M417.6 339h0M426.3 335.5h0M419.6 337.5h0M403.7 330h0M419.6 337.5h0M428.9 337.7h0M429.5 331.2h0M424.6 332.7h0M427.2 308.6h0M417.9 327.9h0M420.7 330.8h0M433.7 338.8h0M404.5 334h0M429.5 338h0M428.4 326.3h0" stroke="#b3b3b3" stroke-width="1.6" stroke-linecap="round" fill="none" opacity="0.95"/>
<path d="M436.7 330.8h0M427 307.5h0M429.9 323.8h0M421.5 321.5h0M414.5 339.9h0M427.6 325.9h0M431.9 336.3h0M446.5 323.5h0M421.8 342.3h0M414.7 312h0M428 335.5h0M414.8 321.3h0M441.8 334.8h0" stroke="#fdbf6f" stroke-width="1.6" stroke-linecap="round" fill="none" opacity="0.95"/>
<path d="M392.5,336.2 Q425.6,329.4 458.6,319 L458.6,323 Q425.6,329.8 392.5,340.2 Z" fill="#b8b8b8" fill-opacity="0.6"/>
<line x1="392.5" y1="338.2" x2="458.6" y2="321" stroke="#3a6ae8" stroke-width="0.9" />
<line x1="388.1" y1="322.4" x2="389.7" y2="322.4" stroke="#333" stroke-width="0.5" />
<text x="386.9" y="324.7" font-size="6.40" text-anchor="end">1.5</text>
<line x1="388.1" y1="342" x2="389.7" y2="342" stroke="#333" stroke-width="0.5" />
<text x="386.9" y="344.3" font-size="6.40" text-anchor="end">1.0</text>
<line x1="388.1" y1="361.6" x2="389.7" y2="361.6" stroke="#333" stroke-width="0.5" />
<text x="386.9" y="363.9" font-size="6.40" text-anchor="end">0.5</text>
<line x1="400.1" y1="372.4" x2="400.1" y2="374" stroke="#333" stroke-width="0.5" />
<text x="400.1" y="380.8" font-size="6.40" text-anchor="middle">3</text>
<line x1="416.2" y1="372.4" x2="416.2" y2="374" stroke="#333" stroke-width="0.5" />
<text x="416.2" y="380.8" font-size="6.40" text-anchor="middle">6</text>
<line x1="432.3" y1="372.4" x2="432.3" y2="374" stroke="#333" stroke-width="0.5" />
<text x="432.3" y="380.8" font-size="6.40" text-anchor="middle">9</text>
<line x1="448.4" y1="372.4" x2="448.4" y2="374" stroke="#333" stroke-width="0.5" />
<text x="448.4" y="380.8" font-size="6.40" text-anchor="middle">12</text>
<text x="425" y="300.2" font-size="7.35" text-anchor="middle" textLength="35" lengthAdjust="spacingAndGlyphs">IT neurons</text>
<text x="424.6" y="363.2" font-size="5.20"><tspan font-style="italic">P</tspan> = 6.27 × 10<tspan font-size="3.4" dy="-2.2">−6</tspan></text>
<text x="432.2" y="369.6" font-size="5.20">R<tspan font-size="3.2" dy="-2">2</tspan><tspan dy="2"> = 0.04</tspan></text>
<text x="424.5" y="392.6" font-size="7.55" text-anchor="middle" textLength="47" lengthAdjust="spacingAndGlyphs">Total length of</text>
<text x="424.5" y="401.4" font-size="7.33" text-anchor="middle" textLength="45.6" lengthAdjust="spacingAndGlyphs">dendrite (mm)</text>
<text x="487.5" y="301.2" font-size="7.34" text-anchor="middle" textLength="57.5" lengthAdjust="spacingAndGlyphs">Cortical thickness</text>
<text x="489" y="309.4" font-size="7.08" text-anchor="middle" textLength="16.5" lengthAdjust="spacingAndGlyphs">(mm)</text>
<text x="479.2" y="318.8" font-size="6.80" text-anchor="end">0.8</text>
<text x="499" y="318.6" font-size="6.80">1.8</text>
<linearGradient id="gCT" x1="0" x2="1"><stop offset="0" stop-color="#1010e0"/><stop offset="0.5" stop-color="#f0f0f0"/><stop offset="1" stop-color="#e80000"/></linearGradient>
<rect x="481.6" y="315" width="15.4" height="1.8" fill="url(#gCT)" />
<clipPath id="cCT"><path d="M463.8,343.7 C463,341 463,339.5 463.2,338.6 C466,335 469,332.5 472.7,330.4 C478,327 483,324.5 488,322.7 C493,321 497,320 502,319.5 L514.7,319.5 C517,320 518.5,321 519.8,322.7 C521.5,325 523,327 523.6,329 L526.2,333 L525.5,348 L525,371 L516,372.4 L509,373 L508.4,367.3 C506,364 504,361 502,358.4 C499,355 496.5,353 494.4,350.7 C492,347.5 490.8,345.5 490,343 C489,340 488.6,338 488.6,335.5 C485,335.5 483,335.5 480.4,335.5 C477.5,336.3 475,337 472.7,338 C469.5,339.7 466.5,341.7 463.8,343.7 Z"/></clipPath>
<path d="M463.8,343.7 C463,341 463,339.5 463.2,338.6 C466,335 469,332.5 472.7,330.4 C478,327 483,324.5 488,322.7 C493,321 497,320 502,319.5 L514.7,319.5 C517,320 518.5,321 519.8,322.7 C521.5,325 523,327 523.6,329 L526.2,333 L525.5,348 L525,371 L516,372.4 L509,373 L508.4,367.3 C506,364 504,361 502,358.4 C499,355 496.5,353 494.4,350.7 C492,347.5 490.8,345.5 490,343 C489,340 488.6,338 488.6,335.5 C485,335.5 483,335.5 480.4,335.5 C477.5,336.3 475,337 472.7,338 C469.5,339.7 466.5,341.7 463.8,343.7 Z" fill="#f08870" />
<g clip-path="url(#cCT)">
<circle cx="495.1" cy="349.8" r="3.2" fill="rgb(240,154,134)" stroke="#f3e6e2" stroke-width="0.35"/>
<circle cx="506.1" cy="353.9" r="2.9" fill="rgb(240,135,115)" stroke="#f3e6e2" stroke-width="0.35"/>
<circle cx="488.4" cy="364.7" r="3.1" fill="rgb(225,170,160)" stroke="#f3e6e2" stroke-width="0.35"/>
<circle cx="495" cy="372.8" r="3.4" fill="rgb(225,170,160)" stroke="#f3e6e2" stroke-width="0.35"/>
<circle cx="513.1" cy="346.3" r="3.6" fill="rgb(240,126,106)" stroke="#f3e6e2" stroke-width="0.35"/>
<circle cx="492.5" cy="354.4" r="3.8" fill="rgb(240,160,140)" stroke="#f3e6e2" stroke-width="0.35"/>
<circle cx="503.7" cy="359.8" r="3.6" fill="rgb(240,160,140)" stroke="#f3e6e2" stroke-width="0.35"/>
<circle cx="489.9" cy="360.7" r="3.5" fill="rgb(240,160,140)" stroke="#f3e6e2" stroke-width="0.35"/>
<circle cx="497" cy="323.6" r="3.8" fill="rgb(240,152,132)" stroke="#f3e6e2" stroke-width="0.35"/>
<circle cx="502.2" cy="358.7" r="3.9" fill="rgb(240,158,138)" stroke="#f3e6e2" stroke-width="0.35"/>
<circle cx="509.4" cy="369" r="3.3" fill="rgb(225,170,160)" stroke="#f3e6e2" stroke-width="0.35"/>
<circle cx="512" cy="344.7" r="3.9" fill="rgb(240,117,97)" stroke="#f3e6e2" stroke-width="0.35"/>
<circle cx="514.4" cy="327" r="3" fill="rgb(240,140,120)" stroke="#f3e6e2" stroke-width="0.35"/>
<circle cx="494.5" cy="371.2" r="3.3" fill="rgb(225,170,160)" stroke="#f3e6e2" stroke-width="0.35"/>
<circle cx="506.8" cy="337.4" r="3.4" fill="rgb(240,75,55)" stroke="#f3e6e2" stroke-width="0.35"/>
<circle cx="499.6" cy="339.9" r="3.5" fill="rgb(240,112,92)" stroke="#f3e6e2" stroke-width="0.35"/>
<circle cx="505.5" cy="368.1" r="3.6" fill="rgb(225,170,160)" stroke="#f3e6e2" stroke-width="0.35"/>
<circle cx="515.9" cy="365.7" r="4" fill="rgb(225,170,160)" stroke="#f3e6e2" stroke-width="0.35"/>
<circle cx="508.1" cy="330.3" r="3.8" fill="rgb(240,104,84)" stroke="#f3e6e2" stroke-width="0.35"/>
<circle cx="516.9" cy="368.1" r="3.5" fill="rgb(225,170,160)" stroke="#f3e6e2" stroke-width="0.35"/>
<circle cx="509.4" cy="332.8" r="3.8" fill="rgb(240,100,80)" stroke="#f3e6e2" stroke-width="0.35"/>
<circle cx="505.2" cy="336.5" r="2.9" fill="rgb(240,77,57)" stroke="#f3e6e2" stroke-width="0.35"/>
<circle cx="513.6" cy="372.5" r="2.9" fill="rgb(225,170,160)" stroke="#f3e6e2" stroke-width="0.35"/>
<circle cx="512" cy="342.9" r="3" fill="rgb(240,113,93)" stroke="#f3e6e2" stroke-width="0.35"/>
<circle cx="496.8" cy="361.2" r="3.8" fill="rgb(240,160,140)" stroke="#f3e6e2" stroke-width="0.35"/>
<circle cx="489.3" cy="353.3" r="2.9" fill="rgb(240,160,140)" stroke="#f3e6e2" stroke-width="0.35"/>
<circle cx="509.6" cy="338.9" r="3.9" fill="rgb(240,93,73)" stroke="#f3e6e2" stroke-width="0.35"/>
<circle cx="517.4" cy="347.8" r="4" fill="rgb(240,153,133)" stroke="#f3e6e2" stroke-width="0.35"/>
<circle cx="497.3" cy="325.9" r="3.5" fill="rgb(240,144,124)" stroke="#f3e6e2" stroke-width="0.35"/>
<circle cx="488.9" cy="332.1" r="3.3" fill="rgb(240,160,140)" stroke="#f3e6e2" stroke-width="0.35"/>
<circle cx="506.3" cy="330" r="2.9" fill="rgb(240,102,82)" stroke="#f3e6e2" stroke-width="0.35"/>
<circle cx="514" cy="338" r="4" fill="rgb(240,121,101)" stroke="#f3e6e2" stroke-width="0.35"/>
<circle cx="514.9" cy="341.3" r="3.4" fill="rgb(240,128,108)" stroke="#f3e6e2" stroke-width="0.35"/>
<circle cx="503.6" cy="354.8" r="3.5" fill="rgb(240,140,120)" stroke="#f3e6e2" stroke-width="0.35"/>
<circle cx="504.8" cy="353.6" r="3.9" fill="rgb(240,134,114)" stroke="#f3e6e2" stroke-width="0.35"/>
<circle cx="503.2" cy="344" r="3.7" fill="rgb(240,100,80)" stroke="#f3e6e2" stroke-width="0.35"/>
<circle cx="495.1" cy="337.4" r="4" fill="rgb(240,139,119)" stroke="#f3e6e2" stroke-width="0.35"/>
<circle cx="503.6" cy="350" r="2.8" fill="rgb(240,121,101)" stroke="#f3e6e2" stroke-width="0.35"/>
<circle cx="500.5" cy="351.6" r="2.8" fill="rgb(240,135,115)" stroke="#f3e6e2" stroke-width="0.35"/>
<circle cx="506.5" cy="354.2" r="2.9" fill="rgb(240,136,116)" stroke="#f3e6e2" stroke-width="0.35"/>
<circle cx="506.8" cy="345.8" r="3.6" fill="rgb(240,102,82)" stroke="#f3e6e2" stroke-width="0.35"/>
<circle cx="498.6" cy="358.1" r="3.7" fill="rgb(240,160,140)" stroke="#f3e6e2" stroke-width="0.35"/>
<circle cx="488.7" cy="325.1" r="3.6" fill="rgb(240,160,140)" stroke="#f3e6e2" stroke-width="0.35"/>
<circle cx="516.9" cy="334.8" r="3.3" fill="rgb(240,141,121)" stroke="#f3e6e2" stroke-width="0.35"/>
<circle cx="505.8" cy="338.3" r="3.2" fill="rgb(240,71,51)" stroke="#f3e6e2" stroke-width="0.35"/>
<circle cx="497.4" cy="340.8" r="3.5" fill="rgb(240,126,106)" stroke="#f3e6e2" stroke-width="0.35"/>
<circle cx="497" cy="341.2" r="3.7" fill="rgb(240,129,109)" stroke="#f3e6e2" stroke-width="0.35"/>
<circle cx="488.8" cy="351" r="3.7" fill="rgb(240,160,140)" stroke="#f3e6e2" stroke-width="0.35"/>
<circle cx="497.3" cy="333.3" r="3.8" fill="rgb(240,129,109)" stroke="#f3e6e2" stroke-width="0.35"/>
<circle cx="495.2" cy="331.6" r="3.3" fill="rgb(240,144,124)" stroke="#f3e6e2" stroke-width="0.35"/>
<circle cx="508.9" cy="327.2" r="3.2" fill="rgb(240,118,98)" stroke="#f3e6e2" stroke-width="0.35"/>
<circle cx="498" cy="364.5" r="3.3" fill="rgb(225,170,160)" stroke="#f3e6e2" stroke-width="0.35"/>
<circle cx="513.7" cy="330.6" r="3.2" fill="rgb(240,127,107)" stroke="#f3e6e2" stroke-width="0.35"/>
<circle cx="507.5" cy="367.1" r="3.3" fill="rgb(225,170,160)" stroke="#f3e6e2" stroke-width="0.35"/>
<circle cx="494.8" cy="328.2" r="3.4" fill="rgb(240,152,132)" stroke="#f3e6e2" stroke-width="0.35"/>
<circle cx="493.7" cy="363.1" r="3.8" fill="rgb(225,170,160)" stroke="#f3e6e2" stroke-width="0.35"/>
<circle cx="493.5" cy="336.2" r="3.8" fill="rgb(240,150,130)" stroke="#f3e6e2" stroke-width="0.35"/>
<circle cx="507.3" cy="363.1" r="3.2" fill="rgb(225,170,160)" stroke="#f3e6e2" stroke-width="0.35"/>
<circle cx="491.9" cy="336.9" r="3.8" fill="rgb(240,160,140)" stroke="#f3e6e2" stroke-width="0.35"/>
<circle cx="496.1" cy="339.7" r="3.3" fill="rgb(240,133,113)" stroke="#f3e6e2" stroke-width="0.35"/>
<circle cx="500.6" cy="342.9" r="3.9" fill="rgb(240,110,90)" stroke="#f3e6e2" stroke-width="0.35"/>
<circle cx="492.7" cy="322.2" r="3.9" fill="rgb(240,160,140)" stroke="#f3e6e2" stroke-width="0.35"/>
<circle cx="514.4" cy="372.3" r="3.3" fill="rgb(225,170,160)" stroke="#f3e6e2" stroke-width="0.35"/>
<circle cx="516.5" cy="369.3" r="3.1" fill="rgb(225,170,160)" stroke="#f3e6e2" stroke-width="0.35"/>
<circle cx="510.4" cy="364.7" r="3.6" fill="rgb(225,170,160)" stroke="#f3e6e2" stroke-width="0.35"/>
<circle cx="503.6" cy="336.7" r="3.2" fill="rgb(240,86,66)" stroke="#f3e6e2" stroke-width="0.35"/>
<circle cx="494.8" cy="325.5" r="3.5" fill="rgb(240,158,138)" stroke="#f3e6e2" stroke-width="0.35"/>
<circle cx="496.6" cy="363.3" r="2.9" fill="rgb(225,170,160)" stroke="#f3e6e2" stroke-width="0.35"/>
<circle cx="515.1" cy="357.4" r="3.9" fill="rgb(240,160,140)" stroke="#f3e6e2" stroke-width="0.35"/>
<circle cx="514.9" cy="367.9" r="3.5" fill="rgb(225,170,160)" stroke="#f3e6e2" stroke-width="0.35"/>
<path d="M498,336 C502,331 510,330 514,332 C515,338 510,344 504,344 C500,343 497,340 498,336 Z" fill="#f05a40" opacity="0.7"/>
<path d="M506,333 C508,329 513,328 515,330 C515,335 512,337 508,337 C506,336 505,335 506,333 Z" fill="#ff0a0a" />
<path d="M460,346 L463,337 C470,332 478,327 488,322.5 L490,329 C486,330 484,331 482,333 L482,336 C476,338 468,342 460,346 Z" fill="#7264e6" />
<path d="M482,333 L490,329 L491,336 L483,337 Z" fill="#b4aec4" />
<path d="M488,322.5 L502,319 L506,324 L496,327 L490,329 Z" fill="#9a8ee0" />
<path d="M500,319 L520,319 L524,328 L512,326 L503,325 Z" fill="#b0a4c8" />
<path d="M514.5,334 L519,332 L520,362 L516.5,366 L514.5,356 Z" fill="#bcb4c8" />
<path d="M518,328 L527,328 L527,374 L514,374 L516,366 L520,360 Z" fill="#6c5ce2" />
<path d="M521,362 L526,362 L526,371 L521,371 Z" fill="#0a18ff" />
<path d="M508,366 L516,364 L517,374 L508,374 Z" fill="#c8b8c8" />
</g>
<path d="M463.8,343.7 C463,341 463,339.5 463.2,338.6 C466,335 469,332.5 472.7,330.4 C478,327 483,324.5 488,322.7 C493,321 497,320 502,319.5 L514.7,319.5 C517,320 518.5,321 519.8,322.7 C521.5,325 523,327 523.6,329 L526.2,333 L525.5,348 L525,371 L516,372.4 L509,373 L508.4,367.3 C506,364 504,361 502,358.4 C499,355 496.5,353 494.4,350.7 C492,347.5 490.8,345.5 490,343 C489,340 488.6,338 488.6,335.5 C485,335.5 483,335.5 480.4,335.5 C477.5,336.3 475,337 472.7,338 C469.5,339.7 466.5,341.7 463.8,343.7 Z" fill="none" stroke="#a0a0a0" stroke-width="0.3" />
<text x="501" y="347" font-size="3.60" fill="#333">MOs</text>
<text x="504" y="333.5" font-size="3.40" fill="#333">FRP</text>
<text x="500" y="324" font-size="3.20" fill="#333">ORBl</text>
<text x="510.5" y="325" font-size="3.20" fill="#333">ORBvl</text>
<text x="517" y="330.5" font-size="3.20" fill="#333">ORBm</text>
<text x="514.5" y="337.5" font-size="3.20" fill="#333">PL</text>
<text x="521" y="338.5" font-size="3.20" fill="#333">ILA</text>
<text x="478" y="329.5" font-size="3.20" fill="#333">AIv</text>
<text x="480" y="334" font-size="3.20" fill="#333">AId</text>
<text x="-0.3" y="425.2" font-size="10.50" fill="#000" font-weight="bold">f</text>
<text x="30.4" y="433.2" font-size="8.00" textLength="161.6" lengthAdjust="spacingAndGlyphs">Diameters of different dendritic compartments</text>
<line x1="39" y1="452" x2="39" y2="532" stroke="#333" stroke-width="0.5" />
<line x1="37.4" y1="460.6" x2="39" y2="460.6" stroke="#333" stroke-width="0.5" />
<text x="36" y="462.8" font-size="6.20" text-anchor="end">6</text>
<line x1="37.4" y1="486" x2="39" y2="486" stroke="#333" stroke-width="0.5" />
<text x="36" y="488.2" font-size="6.20" text-anchor="end">4</text>
<line x1="37.4" y1="511.4" x2="39" y2="511.4" stroke="#333" stroke-width="0.5" />
<text x="36" y="513.6" font-size="6.20" text-anchor="end">2</text>
<text x="25" y="491.7" font-size="7.18" text-anchor="middle" transform="rotate(-90 25 491.7)" textLength="64.6" lengthAdjust="spacingAndGlyphs">Mean diameter (μm)</text>
<rect x="39.4" y="438.6" width="33.6" height="8.4" fill="#fff" stroke="#777" stroke-width="0.5" />
<text x="56.2" y="445.6" font-size="7.12" text-anchor="middle" textLength="12" lengthAdjust="spacingAndGlyphs">Tuft</text>
<line x1="39.4" y1="532" x2="73" y2="532" stroke="#555" stroke-width="0.5" />
<line x1="45.6" y1="517.1" x2="45.6" y2="520.9" stroke="#1a1aff" stroke-width="0.6" />
<line x1="45.6" y1="524.1" x2="45.6" y2="527.9" stroke="#1a1aff" stroke-width="0.6" />
<rect x="41.5" y="520.9" width="8.2" height="3.2" fill="#fff" stroke="#1a1aff" stroke-width="0.6" />
<line x1="41.5" y1="522.6" x2="49.7" y2="522.6" stroke="#1a1aff" stroke-width="0.6" />
<path d="M45.6 516.5h0M45.6 516h0M45.6 515.5h0M45.6 515h0M45.6 514.4h0M45.6 513.9h0M45.6 513.4h0" stroke="#1a1aff" stroke-width="2" stroke-linecap="round" fill="none"/>
<text x="45.6" y="542.2" font-size="6.60" text-anchor="middle">PT</text>
<line x1="45.6" y1="532" x2="45.6" y2="533.4" stroke="#555" stroke-width="0.5" />
<line x1="56.4" y1="517.8" x2="56.4" y2="521.6" stroke="#ff2020" stroke-width="0.6" />
<line x1="56.4" y1="524.7" x2="56.4" y2="529.2" stroke="#ff2020" stroke-width="0.6" />
<rect x="52.3" y="521.6" width="8.2" height="3.2" fill="#fff" stroke="#ff2020" stroke-width="0.6" />
<line x1="52.3" y1="523.5" x2="60.5" y2="523.5" stroke="#ff2020" stroke-width="0.6" />
<path d="M56.4 517.1h0M56.4 516.6h0M56.4 516.1h0M56.4 515.6h0M56.4 515.1h0M56.4 514.6h0M56.4 514.1h0M56.4 513.6h0M56.4 513.1h0" stroke="#ff2020" stroke-width="2" stroke-linecap="round" fill="none"/>
<text x="56.4" y="542.2" font-size="6.60" text-anchor="middle">IT</text>
<line x1="56.4" y1="532" x2="56.4" y2="533.4" stroke="#555" stroke-width="0.5" />
<line x1="67.2" y1="520.3" x2="67.2" y2="523.5" stroke="#ffaa20" stroke-width="0.6" />
<line x1="67.2" y1="526" x2="67.2" y2="530.4" stroke="#ffaa20" stroke-width="0.6" />
<rect x="63.1" y="523.5" width="8.2" height="2.5" fill="#fff" stroke="#ffaa20" stroke-width="0.6" />
<line x1="63.1" y1="524.7" x2="71.3" y2="524.7" stroke="#ffaa20" stroke-width="0.6" />
<path d="M67.2 519.7h0M67.2 519.1h0M67.2 518.6h0M67.2 518.1h0M67.2 517.6h0M67.2 517.1h0M67.2 516.6h0M67.2 516.1h0M67.2 515.6h0" stroke="#ffaa20" stroke-width="2" stroke-linecap="round" fill="none"/>
<text x="67.2" y="542.2" font-size="6.60" text-anchor="middle">CT</text>
<line x1="67.2" y1="532" x2="67.2" y2="533.4" stroke="#555" stroke-width="0.5" />
<text x="42.6" y="453.2" font-size="4.50"><tspan font-style="italic">P</tspan> &lt; 2 × 10<tspan font-size="3.0" dy="-1.8">−16</tspan></text>
<line x1="42.8" y1="454.4" x2="67.8" y2="454.4" stroke="#333" stroke-width="0.3" />
<text x="45.6" y="459.6" font-size="4.50"><tspan font-style="italic">P</tspan> = 1.9 × 10<tspan font-size="3.0" dy="-1.8">−5</tspan></text>
<line x1="45.6" y1="460.8" x2="74.6" y2="460.8" stroke="#333" stroke-width="0.3" />
<text x="42" y="466.4" font-size="4.50"><tspan font-style="italic">P</tspan> = 0.96</text>
<line x1="42.8" y1="467.6" x2="62.8" y2="467.6" stroke="#333" stroke-width="0.3" />
<rect x="76.4" y="438.6" width="34.6" height="8.4" fill="#fff" stroke="#777" stroke-width="0.5" />
<text x="93.7" y="445.6" font-size="7.25" text-anchor="middle" textLength="25" lengthAdjust="spacingAndGlyphs">Oblique</text>
<line x1="76.4" y1="532" x2="111" y2="532" stroke="#555" stroke-width="0.5" />
<line x1="82.6" y1="515.8" x2="82.6" y2="520.3" stroke="#1a1aff" stroke-width="0.6" />
<line x1="82.6" y1="523.5" x2="82.6" y2="527.3" stroke="#1a1aff" stroke-width="0.6" />
<rect x="78.5" y="520.3" width="8.2" height="3.2" fill="#fff" stroke="#1a1aff" stroke-width="0.6" />
<line x1="78.5" y1="522.2" x2="86.7" y2="522.2" stroke="#1a1aff" stroke-width="0.6" />
<path d="M82.6 515.2h0M82.6 514.7h0M82.6 514.2h0M82.6 513.7h0M82.6 513.2h0M82.6 512.7h0M82.6 512.2h0M82.6 511.7h0" stroke="#1a1aff" stroke-width="2" stroke-linecap="round" fill="none"/>
<text x="82.6" y="542.2" font-size="6.60" text-anchor="middle">PT</text>
<line x1="82.6" y1="532" x2="82.6" y2="533.4" stroke="#555" stroke-width="0.5" />
<line x1="93.4" y1="516.5" x2="93.4" y2="520.9" stroke="#ff2020" stroke-width="0.6" />
<line x1="93.4" y1="524.1" x2="93.4" y2="527.9" stroke="#ff2020" stroke-width="0.6" />
<rect x="89.3" y="520.9" width="8.2" height="3.2" fill="#fff" stroke="#ff2020" stroke-width="0.6" />
<line x1="89.3" y1="522.8" x2="97.5" y2="522.8" stroke="#ff2020" stroke-width="0.6" />
<path d="M93.4 515.8h0M93.4 515.3h0M93.4 514.8h0M93.4 514.3h0M93.4 513.8h0M93.4 513.3h0M93.4 512.8h0M93.4 512.3h0M93.4 511.8h0" stroke="#ff2020" stroke-width="2" stroke-linecap="round" fill="none"/>
<text x="93.4" y="542.2" font-size="6.60" text-anchor="middle">IT</text>
<line x1="93.4" y1="532" x2="93.4" y2="533.4" stroke="#555" stroke-width="0.5" />
<line x1="104.2" y1="519" x2="104.2" y2="522.2" stroke="#ffaa20" stroke-width="0.6" />
<line x1="104.2" y1="524.7" x2="104.2" y2="528.5" stroke="#ffaa20" stroke-width="0.6" />
<rect x="100.1" y="522.2" width="8.2" height="2.5" fill="#fff" stroke="#ffaa20" stroke-width="0.6" />
<line x1="100.1" y1="523.5" x2="108.3" y2="523.5" stroke="#ffaa20" stroke-width="0.6" />
<path d="M104.2 518.4h0M104.2 517.9h0M104.2 517.4h0M104.2 516.9h0M104.2 516.4h0M104.2 515.8h0M104.2 515.3h0" stroke="#ffaa20" stroke-width="2" stroke-linecap="round" fill="none"/>
<text x="104.2" y="542.2" font-size="6.60" text-anchor="middle">CT</text>
<line x1="104.2" y1="532" x2="104.2" y2="533.4" stroke="#555" stroke-width="0.5" />
<text x="79.6" y="453.2" font-size="4.50"><tspan font-style="italic">P</tspan> = 1.1 × 10<tspan font-size="3.0" dy="-1.8">−6</tspan></text>
<line x1="79.8" y1="454.4" x2="104.8" y2="454.4" stroke="#333" stroke-width="0.3" />
<text x="82.6" y="459.6" font-size="4.50"><tspan font-style="italic">P</tspan> = 3.5 × 10<tspan font-size="3.0" dy="-1.8">−4</tspan></text>
<line x1="82.6" y1="460.8" x2="111.6" y2="460.8" stroke="#333" stroke-width="0.3" />
<text x="79" y="466.4" font-size="4.50"><tspan font-style="italic">P</tspan> = 0.41</text>
<line x1="79.8" y1="467.6" x2="99.8" y2="467.6" stroke="#333" stroke-width="0.3" />
<rect x="114.4" y="438.6" width="34" height="8.4" fill="#fff" stroke="#777" stroke-width="0.5" />
<text x="131.4" y="445.6" font-size="7.15" text-anchor="middle" textLength="18" lengthAdjust="spacingAndGlyphs">Trunk</text>
<line x1="114.4" y1="532" x2="148.4" y2="532" stroke="#555" stroke-width="0.5" />
<line x1="120.6" y1="493" x2="120.6" y2="505" stroke="#1a1aff" stroke-width="0.6" />
<line x1="120.6" y1="513.9" x2="120.6" y2="526" stroke="#1a1aff" stroke-width="0.6" />
<rect x="116.5" y="505" width="8.2" height="8.9" fill="#fff" stroke="#1a1aff" stroke-width="0.6" />
<line x1="116.5" y1="510.1" x2="124.7" y2="510.1" stroke="#1a1aff" stroke-width="0.6" />
<path d="M120.6 492.3h0M120.6 491.8h0M120.6 491.3h0M120.6 490.8h0M120.6 490.3h0M120.6 489.8h0M120.6 489.3h0M120.6 488.8h0M120.6 488.3h0M120.6 487.8h0M120.6 487.3h0M120.6 486.8h0M120.6 486.3h0M120.6 485.7h0M120.6 485.2h0M120.6 484.7h0M120.6 484.2h0M120.6 483.7h0M120.6 483.2h0M120.6 482.7h0M120.6 482.2h0M120.6 481.7h0M120.6 481.2h0M120.6 480.7h0M120.6 480.2h0M120.6 479.6h0M120.6 479.1h0M120.6 478.6h0M120.6 478.1h0M120.6 477.6h0M120.6 477.1h0M120.6 476.6h0M120.6 476.1h0M120.6 475.6h0M120.6 475.1h0M120.6 474.6h0M120.6 474.1h0M120.6 473.6h0M120.6 473h0M120.6 472.5h0M120.6 472h0M120.6 471.5h0" stroke="#1a1aff" stroke-width="2" stroke-linecap="round" fill="none"/>
<text x="120.6" y="542.2" font-size="6.60" text-anchor="middle">PT</text>
<line x1="120.6" y1="532" x2="120.6" y2="533.4" stroke="#555" stroke-width="0.5" />
<line x1="131.4" y1="499" x2="131.4" y2="513.3" stroke="#ff2020" stroke-width="0.6" />
<line x1="131.4" y1="521.6" x2="131.4" y2="527.9" stroke="#ff2020" stroke-width="0.6" />
<rect x="127.3" y="513.3" width="8.2" height="8.3" fill="#fff" stroke="#ff2020" stroke-width="0.6" />
<line x1="127.3" y1="518" x2="135.5" y2="518" stroke="#ff2020" stroke-width="0.6" />
<path d="M131.4 498.7h0M131.4 497.4h0M131.4 496.2h0M131.4 494.9h0M131.4 493.6h0M131.4 492.3h0M131.4 489.8h0M131.4 487.3h0M131.4 484.7h0M131.4 478.4h0" stroke="#ff2020" stroke-width="2" stroke-linecap="round" fill="none"/>
<text x="131.4" y="542.2" font-size="6.60" text-anchor="middle">IT</text>
<line x1="131.4" y1="532" x2="131.4" y2="533.4" stroke="#555" stroke-width="0.5" />
<line x1="142.2" y1="508" x2="142.2" y2="516" stroke="#ffaa20" stroke-width="0.6" />
<line x1="142.2" y1="522.4" x2="142.2" y2="526" stroke="#ffaa20" stroke-width="0.6" />
<rect x="138.1" y="516" width="8.2" height="6.5" fill="#fff" stroke="#ffaa20" stroke-width="0.6" />
<line x1="138.1" y1="519" x2="146.3" y2="519" stroke="#ffaa20" stroke-width="0.6" />
<path d="M142.2 507h0M142.2 503.8h0" stroke="#ffaa20" stroke-width="2" stroke-linecap="round" fill="none"/>
<text x="142.2" y="542.2" font-size="6.60" text-anchor="middle">CT</text>
<line x1="142.2" y1="532" x2="142.2" y2="533.4" stroke="#555" stroke-width="0.5" />
<text x="117.6" y="453.2" font-size="4.50"><tspan font-style="italic">P</tspan> &lt; 2 × 10<tspan font-size="3.0" dy="-1.8">−16</tspan></text>
<line x1="117.8" y1="454.4" x2="142.8" y2="454.4" stroke="#333" stroke-width="0.3" />
<text x="120.6" y="459.6" font-size="4.50"><tspan font-style="italic">P</tspan> &lt; 2 × 10<tspan font-size="3.0" dy="-1.8">−16</tspan></text>
<line x1="120.6" y1="460.8" x2="149.6" y2="460.8" stroke="#333" stroke-width="0.3" />
<text x="113" y="466.4" font-size="4.50"><tspan font-style="italic">P</tspan> &lt; 2 × 10<tspan font-size="3.0" dy="-1.8">−16</tspan></text>
<line x1="113.4" y1="467.6" x2="137.4" y2="467.6" stroke="#333" stroke-width="0.3" />
<rect x="151.6" y="438.6" width="34" height="8.4" fill="#fff" stroke="#777" stroke-width="0.5" />
<text x="168.6" y="445.6" font-size="6.80" text-anchor="middle" textLength="17" lengthAdjust="spacingAndGlyphs">Basal</text>
<line x1="151.6" y1="532" x2="185.6" y2="532" stroke="#555" stroke-width="0.5" />
<line x1="157.8" y1="517.8" x2="157.8" y2="520.9" stroke="#1a1aff" stroke-width="0.6" />
<line x1="157.8" y1="524.1" x2="157.8" y2="527.3" stroke="#1a1aff" stroke-width="0.6" />
<rect x="153.7" y="520.9" width="8.2" height="3.2" fill="#fff" stroke="#1a1aff" stroke-width="0.6" />
<line x1="153.7" y1="522.6" x2="161.9" y2="522.6" stroke="#1a1aff" stroke-width="0.6" />
<path d="M157.8 517.1h0M157.8 516.6h0M157.8 516.1h0M157.8 515.6h0M157.8 515.1h0M157.8 514.6h0M157.8 514.1h0" stroke="#1a1aff" stroke-width="2" stroke-linecap="round" fill="none"/>
<text x="157.8" y="542.2" font-size="6.60" text-anchor="middle">PT</text>
<line x1="157.8" y1="532" x2="157.8" y2="533.4" stroke="#555" stroke-width="0.5" />
<line x1="168.6" y1="517.8" x2="168.6" y2="521.3" stroke="#ff2020" stroke-width="0.6" />
<line x1="168.6" y1="524.1" x2="168.6" y2="527.9" stroke="#ff2020" stroke-width="0.6" />
<rect x="164.5" y="521.3" width="8.2" height="2.8" fill="#fff" stroke="#ff2020" stroke-width="0.6" />
<line x1="164.5" y1="522.8" x2="172.7" y2="522.8" stroke="#ff2020" stroke-width="0.6" />
<path d="M168.6 517.1h0M168.6 516.6h0M168.6 516.1h0M168.6 515.6h0M168.6 515.1h0M168.6 514.6h0M168.6 514.1h0M168.6 513.6h0M168.6 513.1h0" stroke="#ff2020" stroke-width="2" stroke-linecap="round" fill="none"/>
<text x="168.6" y="542.2" font-size="6.60" text-anchor="middle">IT</text>
<line x1="168.6" y1="532" x2="168.6" y2="533.4" stroke="#555" stroke-width="0.5" />
<line x1="179.4" y1="519.7" x2="179.4" y2="522.8" stroke="#ffaa20" stroke-width="0.6" />
<line x1="179.4" y1="525.4" x2="179.4" y2="529.2" stroke="#ffaa20" stroke-width="0.6" />
<rect x="175.3" y="522.8" width="8.2" height="2.5" fill="#fff" stroke="#ffaa20" stroke-width="0.6" />
<line x1="175.3" y1="524.1" x2="183.5" y2="524.1" stroke="#ffaa20" stroke-width="0.6" />
<path d="M179.4 519h0M179.4 518.5h0M179.4 518h0M179.4 517.5h0M179.4 517h0M179.4 516.5h0M179.4 516h0M179.4 515.5h0M179.4 515h0" stroke="#ffaa20" stroke-width="2" stroke-linecap="round" fill="none"/>
<text x="179.4" y="542.2" font-size="6.60" text-anchor="middle">CT</text>
<line x1="179.4" y1="532" x2="179.4" y2="533.4" stroke="#555" stroke-width="0.5" />
<text x="154.8" y="453.2" font-size="4.50"><tspan font-style="italic">P</tspan> = 4.1 × 10<tspan font-size="3.0" dy="-1.8">−4</tspan></text>
<line x1="155" y1="454.4" x2="180" y2="454.4" stroke="#333" stroke-width="0.3" />
<text x="157.8" y="459.6" font-size="4.50"><tspan font-style="italic">P</tspan> = 4.5 × 10<tspan font-size="3.0" dy="-1.8">−5</tspan></text>
<line x1="157.8" y1="460.8" x2="186.8" y2="460.8" stroke="#333" stroke-width="0.3" />
<text x="154.2" y="466.4" font-size="4.50"><tspan font-style="italic">P</tspan> = 0.99</text>
<line x1="155" y1="467.6" x2="175" y2="467.6" stroke="#333" stroke-width="0.3" />
<text x="213.8" y="425.2" font-size="10.50" fill="#000" font-weight="bold">g</text>
<text x="229.9" y="428.8" font-size="7.43" textLength="38.8" lengthAdjust="spacingAndGlyphs">Apical trunk</text>
<rect x="230.4" y="431.3" width="123" height="17.4" fill="#080808" />
<clipPath id="cAp"><rect x="230.4" y="431.3" width="123" height="17.4"/></clipPath><g clip-path="url(#cAp)">
<path d="M259.6,434.5 L258.9,435.9 L257.7,436.8 L256.3,437.4 L254.9,437.9 L253.8,438.9" fill="none" stroke="#9a9a9a" stroke-width="0.3" opacity="0.8"/>
<path d="M261.4,443.1 L262.9,443.1 L264.4,443.1 L265.8,442.5 L267.3,442.6 L268.6,443.1 L270,443.8" fill="none" stroke="#9a9a9a" stroke-width="0.3" opacity="0.8"/>
<path d="M270.6,438.7 L272.1,438.5 L273.4,437.8 L274.8,437.4 L275.9,436.4 L277.3,435.9 L278.8,435.6 L280.3,435.2" fill="none" stroke="#9a9a9a" stroke-width="0.3" opacity="0.8"/>
<path d="M256.9,446.9 L258,445.9 L258.9,444.6 L260,443.6 L261.4,443.1 L262.7,442.3 L264,441.6 L265.5,441.4 L266.9,441.1 L268.4,440.7 L269.7,440 L270.6,438.7" fill="none" stroke="#9a9a9a" stroke-width="0.3" opacity="0.8"/>
<path d="M253.2,439.5 L251.8,439.2 L250.5,438.3 L249.1,437.8 L248,436.8 L247.4,435.4 L246.3,434.4 L244.8,434 L243.3,433.9 L241.8,434.1" fill="none" stroke="#9a9a9a" stroke-width="0.3" opacity="0.8"/>
<path d="M269.9,435.3 L269.6,433.8 L268.6,432.7 L268.2,431.2 L267.5,429.9 L266.3,429 L265,428.2 L263.7,427.5 L262.8,426.3 L261.8,425.2 L261.4,423.7 L260.4,422.6 L259.5,421.4" fill="none" stroke="#9a9a9a" stroke-width="0.3" opacity="0.8"/>
<path d="M304.4,441.2 L302.9,441.1 L301.4,441.3 L299.9,441.3 L298.5,441.8 L297,442.2 L295.6,442.8 L294.3,443.4" fill="none" stroke="#9a9a9a" stroke-width="0.3" opacity="0.8"/>
<path d="M253.7,433.6 L253.3,435 L253.2,436.5 L252.6,437.8 L252.5,439.3 L251.7,440.6 L250.5,441.6 L249.9,442.9 L249.4,444.3" fill="none" stroke="#9a9a9a" stroke-width="0.3" opacity="0.8"/>
<path d="M300.2,447.2 L301,448.4 L302.1,449.5 L303.3,450.3 L304.3,451.4 L305.5,452.4 L306.2,453.8" fill="none" stroke="#9a9a9a" stroke-width="0.3" opacity="0.8"/>
<path d="M307,435.9 L305.6,436.4 L304.1,436.5 L302.6,436.3 L301.1,436.1 L299.6,436.1 L298.2,436.5 L296.7,436.7 L295.2,437.1 L293.9,437.7" fill="none" stroke="#9a9a9a" stroke-width="0.3" opacity="0.8"/>
<path d="M237.8,451.7 L238.5,453 L239.6,454 L240.9,454.8 L241.9,456 L242.8,457.1 L244.2,457.7" fill="none" stroke="#9a9a9a" stroke-width="0.3" opacity="0.8"/>
<path d="M237.5,447.3 L237.8,448.7 L237.7,450.2 L237.8,451.7 L237.3,453.1 L237.4,454.6 L237.7,456.1 L238.3,457.5 L238.9,458.9 L240,459.9" fill="none" stroke="#9a9a9a" stroke-width="0.3" opacity="0.8"/>
<path d="M306.1,446.3 L304.8,445.6 L303.3,445.6 L301.8,446.1 L300.3,446 L298.9,445.6 L297.8,444.6 L296.4,444.1 L294.9,443.8" fill="none" stroke="#9a9a9a" stroke-width="0.3" opacity="0.8"/>
<path d="M340.4,443.7 L341.9,443.8 L343.3,444.2 L344.8,444 L346.3,444.3 L347.6,445 L348.8,445.9" fill="none" stroke="#9a9a9a" stroke-width="0.3" opacity="0.8"/>
<path d="M313.4,437.3 L313.6,435.8 L314.4,434.6 L314.8,433.1 L315.6,431.9 L316.6,430.7" fill="none" stroke="#9a9a9a" stroke-width="0.3" opacity="0.8"/>
<path d="M314.9,437.1 L315.7,435.9 L317,435.1 L318.3,434.4 L319.7,433.7" fill="none" stroke="#9a9a9a" stroke-width="0.3" opacity="0.8"/>
<path d="M316.4,437.3 L317.6,438.1 L318.8,439 L320.1,439.9 L321.2,440.8 L321.8,442.2 L322,443.7" fill="none" stroke="#9a9a9a" stroke-width="0.3" opacity="0.8"/>
<path d="M304.8,437.7 L306.2,437.5 L307.7,437.8 L309.1,438.3 L310.6,438.3 L312.1,438.1 L313.4,437.3 L314.9,437.1 L316.4,437.3" fill="none" stroke="#9a9a9a" stroke-width="0.3" opacity="0.8"/>
<path d="M348.2,434.8 L347.6,433.4 L347.6,431.9 L348.1,430.5 L348.8,429.1 L349.8,428 L350.4,426.6 L351.2,425.3 L352.4,424.4 L353.5,423.4 L354.4,422.2" fill="none" stroke="#9a9a9a" stroke-width="0.3" opacity="0.8"/>
<path d="M228.8,433.4 L227.7,432.4 L226.4,431.8 L224.9,431.4 L223.7,430.6 L222.9,429.3" fill="none" stroke="#9a9a9a" stroke-width="0.3" opacity="0.8"/>
<path d="M222.7,425.4 L221.3,426 L219.8,426 L218.3,425.9 L216.8,425.5" fill="none" stroke="#9a9a9a" stroke-width="0.3" opacity="0.8"/>
<path d="M232.6,435.8 L231.2,435.2 L230.2,434.1 L228.8,433.4 L227.7,432.4 L226.4,431.7 L225.5,430.5 L225,429.1 L224.6,427.7 L223.8,426.4 L222.7,425.4" fill="none" stroke="#9a9a9a" stroke-width="0.3" opacity="0.8"/>
<path d="M307.4,435.6 L308.7,436.4 L310.2,436.6 L311.6,436.1 L312.7,435.1 L313.6,433.9 L314.4,432.7 L314.8,431.2" fill="none" stroke="#9a9a9a" stroke-width="0.3" opacity="0.8"/>
<path d="M293.3,442.6 L294.2,443.7 L294.8,445.1 L295.8,446.2 L297.2,446.8" fill="none" stroke="#9a9a9a" stroke-width="0.3" opacity="0.8"/>
<path d="M293.1,444.1 L293.6,445.5 L294.4,446.7 L294.9,448.1 L294.6,449.6" fill="none" stroke="#9a9a9a" stroke-width="0.3" opacity="0.8"/>
<path d="M293.3,441.1 L293.3,442.6 L293.1,444.1 L292.7,445.5 L291.6,446.6 L290.3,447.2 L288.9,447.8 L287.5,448.2" fill="none" stroke="#9a9a9a" stroke-width="0.3" opacity="0.8"/>
<path d="M267.9,442.7 L268.6,441.4 L268.9,439.9 L269.5,438.5 L270.5,437.4 L271.4,436.2 L272.6,435.4 L274.1,435.1 L275.6,435.1 L277.1,435.2" fill="none" stroke="#9a9a9a" stroke-width="0.3" opacity="0.8"/>
<path d="M273.7,434.2 L273.4,432.7 L272.8,431.4 L271.7,430.4 L271,429.1 L269.9,428.1 L269.2,426.8 L267.9,426 L266.7,425" fill="none" stroke="#9a9a9a" stroke-width="0.3" opacity="0.8"/>
<path d="M233.2,444 L234.7,443.8 L236.1,444.2 L237.4,445 L238.8,445.6 L240.3,445.6 L241.6,446.3 L242.6,447.4 L243.4,448.7" fill="none" stroke="#9a9a9a" stroke-width="0.3" opacity="0.8"/>
<path d="M316.3,439.6 L316.4,441.1 L316.8,442.5 L317.4,443.9 L317.5,445.4" fill="none" stroke="#9a9a9a" stroke-width="0.3" opacity="0.8"/>
<path d="M301.8,436 L300.3,435.6 L298.8,435.6" fill="none" stroke="#9a9a9a" stroke-width="0.3" opacity="0.8"/>
<path d="M306,436.8 L304.6,437.1 L303.1,436.7 L301.8,436 L300.3,435.7" fill="none" stroke="#9a9a9a" stroke-width="0.3" opacity="0.8"/>
<path d="M324.9,442.3 L326,441.2 L327.1,440.2 L328.3,439.4 L329.8,439.1 L331,438.2 L332.5,437.8" fill="none" stroke="#9a9a9a" stroke-width="0.3" opacity="0.8"/>
<path d="M323.5,442.7 L324.9,442.3 L326.2,441.5 L327,440.2 L327.3,438.8 L326.9,437.3 L326.3,435.9 L325.8,434.5 L326.1,433 L325.9,431.5" fill="none" stroke="#9a9a9a" stroke-width="0.3" opacity="0.8"/>
<path d="M346.1,443.3 L347.6,443.7 L348.9,444.3 L350.4,444.3 L351.9,443.9" fill="none" stroke="#9a9a9a" stroke-width="0.3" opacity="0.8"/>
<path d="M290.2,452.3 L290.6,453.7 L291,455.2 L290.7,456.7 L289.8,457.9 L288.6,458.7 L287.2,459.2" fill="none" stroke="#9a9a9a" stroke-width="0.3" opacity="0.8"/>
<path d="M297.1,441.1 L295.8,441.9 L295,443.1 L294.5,444.6 L294,446 L293.3,447.3 L292.7,448.7 L291.6,449.7 L290.7,450.9 L290.2,452.3 L290.2,453.8" fill="none" stroke="#9a9a9a" stroke-width="0.3" opacity="0.8"/>
<path d="M311.5,439.3 L312.9,438.8 L314.1,437.9 L315.4,437.1 L316.8,436.5 L318.2,435.9 L319.6,435.8 L320.9,434.9" fill="none" stroke="#9a9a9a" stroke-width="0.3" opacity="0.8"/>
<path d="M314.5,439.2 L315.7,438.4 L316.9,437.5 L318.1,436.5 L319.4,435.8" fill="none" stroke="#9a9a9a" stroke-width="0.3" opacity="0.8"/>
<path d="M320,441.4 L321.4,441.2 L322.9,441 L324.2,440.2 L325.7,440 L327.2,439.9 L328.6,440.5 L330.1,440.6" fill="none" stroke="#9a9a9a" stroke-width="0.3" opacity="0.8"/>
<path d="M305.7,438.3 L307.2,438.2 L308.6,438.8 L310.1,439 L311.5,439.3 L313,439.6 L314.5,439.2 L315.9,439.6 L317.3,440.1 L318.8,440.5 L320,441.4" fill="none" stroke="#9a9a9a" stroke-width="0.3" opacity="0.8"/>
<path d="M318.2,442.9 L319.7,442.9 L321.1,442.5 L322.3,441.5 L323.4,440.5 L324.8,440 L326,439 L327.1,438.1" fill="none" stroke="#9a9a9a" stroke-width="0.3" opacity="0.8"/>
<path d="M317,442 L318.2,442.9 L319.5,443.6 L320.4,444.8 L321.5,445.8 L323,446.2 L324.2,447 L325.7,447.2 L327.2,446.8 L328.7,447 L330,447.8 L331,448.8" fill="none" stroke="#9a9a9a" stroke-width="0.3" opacity="0.8"/>
<path d="M342.1,446.8 L343.4,446.1 L344.7,445.4 L345.7,444.2 L346.8,443.2" fill="none" stroke="#9a9a9a" stroke-width="0.3" opacity="0.8"/>
<path d="M292.8,441.2 L292.1,439.9 L291,438.9 L289.7,438.1 L288.3,437.6" fill="none" stroke="#9a9a9a" stroke-width="0.3" opacity="0.8"/>
<path d="M245.3,442.6 L246.8,442.8 L248.3,443 L249.8,442.9 L251.2,443.2 L252.7,443.6 L254.1,444.1 L255.5,444.6 L256.9,445.2 L258.2,445.9 L259.1,447.1 L259.8,448.4 L260.4,449.8" fill="none" stroke="#9a9a9a" stroke-width="0.3" opacity="0.8"/>
<path d="M267.5,446.6 L266.8,447.9 L266.7,449.4" fill="none" stroke="#9a9a9a" stroke-width="0.3" opacity="0.8"/>
<path d="M267.8,437.7 L267.8,439.2 L268,440.7 L268.1,442.2 L267.6,443.6 L267.3,445.1 L267.5,446.6" fill="none" stroke="#9a9a9a" stroke-width="0.3" opacity="0.8"/>
<path d="M310.4,448.5 L311.5,449.4 L313,449.7" fill="none" stroke="#9a9a9a" stroke-width="0.3" opacity="0.8"/>
<path d="M310.3,441.3 L309.8,442.8 L309.8,444.3 L309.4,445.7 L309.6,447.2 L310.4,448.5 L311.5,449.5" fill="none" stroke="#9a9a9a" stroke-width="0.3" opacity="0.8"/>
<path d="M301.3,446.7 L302.7,446.5 L304.2,446.7 L305.5,447.4" fill="none" stroke="#9a9a9a" stroke-width="0.3" opacity="0.8"/>
<path d="M292.5,446.2 L293.9,446.8 L295.4,447 L296.8,447.3 L298.3,447.1 L299.8,446.7 L301.3,446.7 L302.7,446.5" fill="none" stroke="#9a9a9a" stroke-width="0.3" opacity="0.8"/>
<path d="M338.6,438.9 L340.1,438.8 L341.5,439.3 L342.7,440.1 L343.8,441.1" fill="none" stroke="#9a9a9a" stroke-width="0.3" opacity="0.8"/>
<path d="M301.9,441.4 L301.9,439.9 L301.9,438.4 L302.5,437.1 L303,435.7" fill="none" stroke="#9a9a9a" stroke-width="0.3" opacity="0.8"/>
<path d="M300.7,442.3 L301.9,441.4 L303.1,440.6 L304.3,439.7 L305.8,439.3 L307.1,438.7 L308.6,438.4" fill="none" stroke="#9a9a9a" stroke-width="0.3" opacity="0.8"/>
<path d="M271.3,435.3 L270.1,434.4 L268.9,433.4 L267.5,433 L266,432.7 L264.6,432.3 L263.5,431.3 L262.1,430.9 L260.6,430.5 L259.2,430 L257.9,429.3 L256.5,428.7 L255.1,428" fill="none" stroke="#9a9a9a" stroke-width="0.3" opacity="0.8"/>
<path d="M230.1,440.8 L231,441.9 L231.7,443.3 L232.8,444.3 L233.8,445.4" fill="none" stroke="#9a9a9a" stroke-width="0.3" opacity="0.8"/>
<path d="M230.1,442.3 L230.4,443.8 L230.7,445.2 L231.2,446.7" fill="none" stroke="#9a9a9a" stroke-width="0.3" opacity="0.8"/>
<path d="M231.2,436.5 L230.7,437.9 L230.5,439.4 L230.1,440.8 L230.1,442.3 L230.5,443.7 L231.4,445" fill="none" stroke="#9a9a9a" stroke-width="0.3" opacity="0.8"/>
<path d="M341.2,441.6 L342,440.4 L342.2,438.9 L342.7,437.5" fill="none" stroke="#9a9a9a" stroke-width="0.3" opacity="0.8"/>
<path d="M331.5,435 L330.7,433.7 L329.9,432.4 L329.7,430.9 L329.4,429.5 L329.6,428 L329.5,426.5 L329.4,425" fill="none" stroke="#9a9a9a" stroke-width="0.3" opacity="0.8"/>
<path d="M342,442.9 L341.2,441.6 L339.9,440.8 L338.5,440.2 L337.4,439.2 L335.9,438.8 L334.8,437.9 L333.9,436.7 L332.8,435.6 L331.5,435" fill="none" stroke="#9a9a9a" stroke-width="0.3" opacity="0.8"/>
<path d="M263,453 L264.3,453.7 L265.5,454.6 L266.6,455.7 L268,456.1" fill="none" stroke="#9a9a9a" stroke-width="0.3" opacity="0.8"/>
<path d="M263.3,443.3 L262.3,444.4 L261.7,445.8 L261.5,447.2 L261.8,448.7 L261.9,450.2 L262.5,451.6 L263,453 L263.8,454.3 L264.2,455.7 L265,457" fill="none" stroke="#9a9a9a" stroke-width="0.3" opacity="0.8"/>
<path d="M294.9,437.1 L295.8,438.3 L296.5,439.6 L296.6,441.1 L296.2,442.5 L296.2,444 L296.6,445.5 L296.4,447" fill="none" stroke="#9a9a9a" stroke-width="0.3" opacity="0.8"/>
<path d="M296.2,447.1 L295.1,448.2 L294.1,449.4 L293.3,450.6 L292,451.4 L291.2,452.6 L290.6,454 L289.7,455.2 L288.9,456.5 L288,457.7" fill="none" stroke="#9a9a9a" stroke-width="0.3" opacity="0.8"/>
<path d="M233.5,438.3 L232.3,438.7 L231.2,439.1 L230,439.3" fill="none" stroke="#ccc" stroke-width="0.4" />
<path d="M238,442 L237.4,441 L236.5,440.2 L235.4,439.8 L234.4,439 L233.5,438.3 L232.4,437.8" fill="none" stroke="#ccc" stroke-width="0.4" />
<path d="M237.2,448.6 L237.9,449.5 L238.8,450.3 L239.8,451.1 L240.8,451.8" fill="none" stroke="#ccc" stroke-width="0.4" />
<path d="M238,442 L237.1,442.8 L236.6,443.9 L236.4,445.1 L236.6,446.3 L237,447.4 L237.2,448.6 L237.8,449.6 L238.7,450.4" fill="none" stroke="#ccc" stroke-width="0.4" />
<path d="M238,442 L237.8,443.2 L237.5,444.3 L237.2,445.5 L237.2,446.7 L236.8,447.8" fill="none" stroke="#ccc" stroke-width="0.4" />
<path d="M238,442 L238.5,443.1 L238.7,444.3 L238.7,445.5 L238.5,446.7 L238.4,447.9 L238.1,449 L238.2,450.2" fill="none" stroke="#ccc" stroke-width="0.4" />
<path d="M238,442 L239.1,441.6 L240.3,441.5 L241.4,441.1 L242.6,440.7 L243.8,440.7 L244.9,441.1 L246.1,441.2 L247.3,441.2 L248.5,440.9" fill="none" stroke="#ccc" stroke-width="0.4" />
<path d="M238,442 L236.8,441.9 L235.6,441.7 L234.5,441.3 L233.3,441 L232.2,440.5" fill="none" stroke="#ccc" stroke-width="0.4" />
<path d="M241.5,441.4 L242.6,441.1 L243.8,441.1 L245,441 L246.2,441 L247.4,441.2" fill="none" stroke="#ccc" stroke-width="0.4" />
<path d="M238,442 L239.1,441.5 L240.3,441.4 L241.5,441.4 L242.7,441.3 L243.9,441.3 L245,441.6 L246.2,441.6 L247.4,441.8" fill="none" stroke="#ccc" stroke-width="0.4" />
<path d="M238,442 L239.1,441.5 L240.2,441.1 L241.3,440.5 L242.5,440.3 L243.7,440.3 L244.8,440.1" fill="none" stroke="#ccc" stroke-width="0.4" />
<path d="M238,442 L238.4,443.1 L238.9,444.2 L239.8,445 L240.7,445.8" fill="none" stroke="#ccc" stroke-width="0.4" />
<path d="M244.9,444.1 L245.9,444.6 L247,445.2 L248.1,445.6 L249.2,446.1" fill="none" stroke="#ccc" stroke-width="0.4" />
<path d="M238,442 L239.1,442.5 L240.2,442.9 L241.4,443.2 L242.5,443.5 L243.7,443.8 L244.9,444.1 L245.9,444.6" fill="none" stroke="#ccc" stroke-width="0.4" />
<path d="M234.5,441.6 L233.7,442.6 L233.1,443.6 L232.4,444.6 L232.1,445.8 L231.8,446.9 L231.7,448.1" fill="none" stroke="#ccc" stroke-width="0.4" />
<path d="M238,442 L236.8,441.7 L235.7,441.5 L234.5,441.6 L233.3,441.6 L232.1,441.9 L230.9,441.7 L229.7,441.9 L228.5,441.8 L227.4,441.6" fill="none" stroke="#ccc" stroke-width="0.4" />
<path d="M234.7,438.5 L234.5,437.3 L234.6,436.1" fill="none" stroke="#ccc" stroke-width="0.4" />
<path d="M238,442 L237.2,441.1 L236.4,440.2 L235.4,439.5 L234.7,438.5 L233.8,437.8 L232.7,437.3" fill="none" stroke="#ccc" stroke-width="0.4" />
<path d="M238,442 L237.4,441 L236.7,440 L235.7,439.4 L234.5,439.1 L233.3,438.8" fill="none" stroke="#ccc" stroke-width="0.4" />
<path d="M238,442 L238.1,440.8 L238.2,439.6 L238.3,438.4 L238.6,437.3 L238.5,436.1 L238.6,434.9 L238.7,433.7 L238.9,432.5" fill="none" stroke="#ccc" stroke-width="0.4" />
<path d="M240.3,442.6 L241.3,442 L242.5,441.6" fill="none" stroke="#ccc" stroke-width="0.4" />
<path d="M238,442 L239.2,442.2 L240.3,442.6 L241.4,443.1 L242.6,443.2 L243.8,443.4" fill="none" stroke="#ccc" stroke-width="0.4" />
<path d="M238,442 L239.2,442.2 L240.4,442.2 L241.6,442.3 L242.7,442.6 L243.9,442.7 L245.1,442.5" fill="none" stroke="#ccc" stroke-width="0.4" />
<path d="M239.4,440.1 L240.6,440.3 L241.7,440.9 L242.4,441.8 L243.4,442.5 L244.4,443.1" fill="none" stroke="#ccc" stroke-width="0.4" />
<path d="M238,442 L238.5,440.9 L239.4,440.1 L240.3,439.3 L241.1,438.4 L241.8,437.5 L242.8,436.8 L244,436.4" fill="none" stroke="#ccc" stroke-width="0.4" />
<path d="M236.8,441.8 L235.8,441.1 L235.1,440.2 L234,439.6 L232.8,439.3 L231.7,438.9 L230.6,438.5" fill="none" stroke="#ccc" stroke-width="0.4" />
<path d="M230.1,439.9 L229.4,438.9 L228.8,437.9 L228.2,436.9 L227.2,436.2 L226.4,435.3 L225.4,434.6" fill="none" stroke="#ccc" stroke-width="0.4" />
<path d="M238,442 L236.8,441.8 L235.6,441.5 L234.5,441.4 L233.3,441.4 L232.1,441.2 L231,440.7 L230.1,439.9 L229.5,438.8 L228.8,437.8" fill="none" stroke="#ccc" stroke-width="0.4" />
<path d="M235.9,447.4 L235.3,448.5 L235.1,449.7 L235,450.9 L235.4,452 L235.9,453.1" fill="none" stroke="#ccc" stroke-width="0.4" />
<path d="M238,442 L237.5,443.1 L237.2,444.3 L237.2,445.5 L236.7,446.5 L235.9,447.4 L234.9,448.2 L233.9,448.8 L233.2,449.8 L232.4,450.7" fill="none" stroke="#ccc" stroke-width="0.4" />
<path d="M238,442 L239.2,442.3 L240.3,442.7 L241.4,443 L242.6,443.4 L243.6,443.9" fill="none" stroke="#ccc" stroke-width="0.4" />
<path d="M237.5,442 C260,441 290,440.5 320,439.5 C335,439 345,438.8 354,438.5" fill="none" stroke="#bdbdbd" stroke-width="0.8" />
<ellipse cx="239" cy="442" rx="3.2" ry="2.6" fill="#b8b8b8"/>
<circle cx="289.5" cy="441.7" r="0.9" fill="#e09020" />
</g>
<text x="350.5" y="436.6" font-size="5.70" text-anchor="end" fill="#eee">195,049–010</text>
<rect x="347.5" y="444.6" width="2.6" height="0.9" fill="#fff" />
<rect x="244.5" y="438.6" width="6" height="5.9" fill="none" stroke="#e02020" stroke-width="0.5" stroke-dasharray="1.2,1"/>
<rect x="304.8" y="437" width="4.8" height="4" fill="none" stroke="#e02020" stroke-width="0.5" stroke-dasharray="1.2,1"/>
<line x1="244.5" y1="444.5" x2="242.3" y2="456.5" stroke="#e02020" stroke-width="0.5" stroke-dasharray="1.2,1"/>
<line x1="250.5" y1="444.5" x2="270.8" y2="456.5" stroke="#e02020" stroke-width="0.5" stroke-dasharray="1.2,1"/>
<line x1="304.8" y1="441" x2="295.5" y2="456.5" stroke="#e02020" stroke-width="0.5" stroke-dasharray="1.2,1"/>
<line x1="309.6" y1="441" x2="324.2" y2="456.5" stroke="#e02020" stroke-width="0.5" stroke-dasharray="1.2,1"/>
<linearGradient id="gIn242" x1="0" y1="0" x2="0" y2="1"><stop offset="0" stop-color="#262626"/><stop offset="0.28" stop-color="#3a3a3a"/><stop offset="0.42" stop-color="#8c8c8c"/><stop offset="0.55" stop-color="#adadad"/><stop offset="0.68" stop-color="#9a9a9a"/><stop offset="0.8" stop-color="#3c3c3c"/><stop offset="1" stop-color="#1c1c1c"/></linearGradient>
<rect x="242.3" y="456.5" width="28.6" height="28.6" fill="url(#gIn242)" />
<text x="243.5" y="461.8" font-size="5.40" fill="#ff2020" textLength="21" lengthAdjust="spacingAndGlyphs">Proximal</text>
<text x="259.8" y="481.2" font-size="4.80" fill="#fff">1 μm</text>
<rect x="263.8" y="482.6" width="3.6" height="1.4" fill="#fff" />
<linearGradient id="gIn295" x1="0" y1="0" x2="0" y2="1"><stop offset="0" stop-color="#262626"/><stop offset="0.28" stop-color="#3a3a3a"/><stop offset="0.42" stop-color="#8c8c8c"/><stop offset="0.55" stop-color="#adadad"/><stop offset="0.68" stop-color="#9a9a9a"/><stop offset="0.8" stop-color="#3c3c3c"/><stop offset="1" stop-color="#1c1c1c"/></linearGradient>
<rect x="295.5" y="456.5" width="28.6" height="28.6" fill="url(#gIn295)" />
<text x="296.7" y="461.8" font-size="5.40" fill="#ff2020" textLength="13.5" lengthAdjust="spacingAndGlyphs">Distal</text>
<text x="313" y="481.2" font-size="4.80" fill="#fff">1 μm</text>
<rect x="317" y="482.6" width="3.6" height="1.4" fill="#fff" />
<ellipse cx="310" cy="469" rx="8" ry="3" fill="#b0b0b0" opacity="0.5"/>
<line x1="233.9" y1="488" x2="233.9" y2="529.5" stroke="#333" stroke-width="0.5" />
<line x1="233.9" y1="529.5" x2="357" y2="529.5" stroke="#333" stroke-width="0.5" />
<line x1="232.3" y1="491.4" x2="233.9" y2="491.4" stroke="#333" stroke-width="0.5" />
<text x="231" y="493.5" font-size="5.60" text-anchor="end">7</text>
<line x1="232.3" y1="503.3" x2="233.9" y2="503.3" stroke="#333" stroke-width="0.5" />
<text x="231" y="505.4" font-size="5.60" text-anchor="end">5</text>
<line x1="232.3" y1="515.1" x2="233.9" y2="515.1" stroke="#333" stroke-width="0.5" />
<text x="231" y="517.2" font-size="5.60" text-anchor="end">3</text>
<line x1="232.3" y1="527" x2="233.9" y2="527" stroke="#333" stroke-width="0.5" />
<text x="231" y="529.1" font-size="5.60" text-anchor="end">1</text>
<line x1="235.2" y1="529.5" x2="235.2" y2="531" stroke="#333" stroke-width="0.5" />
<text x="235.2" y="537.6" font-size="5.80" text-anchor="middle">0</text>
<line x1="253.4" y1="529.5" x2="253.4" y2="531" stroke="#333" stroke-width="0.5" />
<text x="253.4" y="537.6" font-size="5.80" text-anchor="middle">50</text>
<line x1="271.6" y1="529.5" x2="271.6" y2="531" stroke="#333" stroke-width="0.5" />
<text x="271.6" y="537.6" font-size="5.80" text-anchor="middle">100</text>
<line x1="289.7" y1="529.5" x2="289.7" y2="531" stroke="#333" stroke-width="0.5" />
<text x="289.7" y="537.6" font-size="5.80" text-anchor="middle">150</text>
<line x1="307.9" y1="529.5" x2="307.9" y2="531" stroke="#333" stroke-width="0.5" />
<text x="307.9" y="537.6" font-size="5.80" text-anchor="middle">200</text>
<line x1="326.1" y1="529.5" x2="326.1" y2="531" stroke="#333" stroke-width="0.5" />
<text x="326.1" y="537.6" font-size="5.80" text-anchor="middle">250</text>
<line x1="344.3" y1="529.5" x2="344.3" y2="531" stroke="#333" stroke-width="0.5" />
<text x="344.3" y="537.6" font-size="5.80" text-anchor="middle">300</text>
<text x="221.2" y="508" font-size="7.20" text-anchor="middle" transform="rotate(-90 221.2 508)" textLength="46" lengthAdjust="spacingAndGlyphs">Diameter (μm)</text>
<text x="295.4" y="549.3" font-size="7.25" text-anchor="middle" textLength="119.3" lengthAdjust="spacingAndGlyphs">Distance from soma along trunk (μm)</text>
<path d="M238.1 495.9h0M238.4 495.3h0M239.1 500.2h0M239.4 502.2h0M240 504h0M240.7 506.2h0M241.1 504.3h0M241.5 502.3h0M242 506.8h0M242.5 509.8h0M242.9 514.9h0M243.4 510.6h0M243.8 511.3h0M244.2 514.6h0M244.8 515.5h0M245.1 514.1h0M245.7 517.3h0M246 519.6h0M246.5 517.9h0M246.9 520.7h0M247.2 520.4h0M247.7 517.4h0M248.2 518.8h0M248.9 517.4h0M249.6 521.2h0M250 519.3h0M250.5 519h0M251 517.3h0M251.4 519h0M252 521.4h0M252.4 524h0M252.9 520.2h0M253.6 522.4h0M254.2 519.8h0M254.7 521.7h0M255 522.3h0M255.5 519.9h0M256 520.7h0M256.6 519.1h0M257.2 522.8h0M257.6 522.9h0M257.9 521.3h0M258.5 522.6h0M259.1 522.7h0M259.6 522.9h0M259.9 518.6h0M260.3 522.9h0M260.7 519.5h0M261.4 520.3h0M261.9 520.7h0M262.5 521.9h0M263.1 520.9h0M263.8 525.3h0M264.2 523.7h0M264.7 522.9h0M265.4 522h0M265.7 518.7h0M266.2 520.3h0M266.5 521.2h0M267 522.8h0M267.3 520.9h0M267.9 520.6h0M268.3 521.9h0M268.9 524.5h0M269.6 522.3h0M269.9 522.1h0M270.6 521.1h0M271.1 521.3h0M271.7 522.1h0M272.2 524.3h0M272.9 520.9h0M273.6 522h0M274 520.9h0M274.5 524.1h0M275.1 525.2h0M275.4 521.2h0M275.8 521.8h0M276.4 524.9h0M277 522.8h0M277.5 520h0M278.2 522h0M278.6 520.8h0M279 522.4h0M279.3 524.1h0M280 525.3h0M280.6 522.6h0M281.1 523.1h0M281.8 520.3h0M282.4 520.1h0M282.9 522.8h0M283.4 524.2h0M284 522.8h0M284.6 521.2h0M285.2 522.9h0M285.5 522.6h0M285.8 520h0M286.5 523.4h0M287 522.5h0M287.6 519.1h0M288.2 520.2h0M288.7 521.4h0M289.1 520h0M289.4 521.3h0M290 523.4h0M290.5 523.7h0M291.2 522.8h0M291.8 523.8h0M292.2 520.8h0M292.9 524.4h0M293.4 521.6h0M293.8 523.6h0M294.3 519.7h0M294.7 520.5h0M295.4 519.3h0M296 521.3h0M296.5 520.3h0M297 523.7h0M297.5 520.4h0M297.9 521.2h0M298.5 521.9h0M299.2 523h0M299.7 523.6h0M300.3 520.2h0M301 518.5h0M301.3 522.2h0M301.9 520.9h0M302.6 520.5h0M303.1 522.8h0M303.5 519.9h0M304.1 521.8h0M304.7 520.4h0M305 523.2h0M305.6 520.5h0M306.2 523h0M306.7 523.8h0M307.1 521.6h0M307.5 521.4h0M307.9 524.8h0M308.2 521.5h0M308.5 521.9h0M309.1 521.5h0M309.8 519.9h0M310.2 522.2h0M310.5 521.4h0M311.2 519h0M311.6 525.3h0M312.1 522.8h0M312.6 522.4h0M313.3 519.2h0M313.7 523.7h0M314.4 521.7h0M314.7 520.4h0M315 520.8h0M315.6 521.4h0M316.2 521.5h0M316.6 521h0M317 520.1h0M317.6 518.8h0M318.2 520.5h0M318.8 521.1h0M319.5 521.9h0M320 520.6h0M320.4 522.7h0M321 522.6h0M321.4 523.9h0M322 520.3h0M322.7 522.9h0M323.1 523.3h0M323.7 522.4h0M324.3 523.3h0M324.8 521.8h0M325.3 521.3h0M325.9 523.6h0M326.5 522.4h0M326.8 522.5h0M327.3 524.7h0M327.6 525.2h0M328.3 520.2h0M328.9 523.5h0M329.3 526.7h0M330 519.5h0M330.4 523.8h0M331 521h0M331.6 522h0M332 522.9h0M332.7 523.1h0M333.4 520h0M334.1 522.7h0M334.5 522.9h0M335 522.6h0M335.7 522.5h0M336.4 525.1h0M337.1 524.3h0M337.4 524.1h0M337.8 522.7h0M338.3 524.8h0M338.8 523.7h0M339.3 519.7h0M339.7 521.9h0M340.4 520.4h0M340.8 520.7h0M341.3 521.9h0M341.9 524.3h0M342.4 522.7h0M342.8 524.1h0M343.3 522.4h0M344 523.5h0M344.6 523.1h0M345 521h0M345.5 521.1h0M346.1 520.4h0M346.8 520.6h0M347.2 523.7h0M347.8 521h0M348.5 523.5h0M348.8 523.9h0M349.4 521.8h0M349.7 522h0M350.4 522.3h0M351 521.2h0M351.5 520.5h0M240.3 491.4h0M267.9 511.6h0M267.2 525.8h0M351.6 526.4h0M278.8 525.2h0M326.1 525.8h0" stroke="#2a2ae0" stroke-width="1.6" stroke-linecap="round" fill="none"/>
<text x="281" y="496.2" font-size="4.60">y = <tspan font-style="italic">A</tspan>×e<tspan font-size="3.0" dy="-1.8">−<tspan font-style="italic">Bx</tspan></tspan><tspan dy="1.8"> + C</tspan></text>
<text x="281" y="508.8" font-size="5.19" textLength="70" lengthAdjust="spacingAndGlyphs">A = 7.065, B = 0.066, C = 1.81</text>
<line x1="379" y1="446" x2="379" y2="528.8" stroke="#333" stroke-width="0.5" />
<line x1="379" y1="528.8" x2="414.6" y2="528.8" stroke="#333" stroke-width="0.5" />
<line x1="377.4" y1="462.5" x2="379" y2="462.5" stroke="#333" stroke-width="0.5" />
<text x="376.2" y="464.7" font-size="6.20" text-anchor="end">7.5</text>
<line x1="377.4" y1="485" x2="379" y2="485" stroke="#333" stroke-width="0.5" />
<text x="376.2" y="487.2" font-size="6.20" text-anchor="end">5</text>
<line x1="377.4" y1="508" x2="379" y2="508" stroke="#333" stroke-width="0.5" />
<text x="376.2" y="510.2" font-size="6.20" text-anchor="end">2.5</text>
<text x="398.7" y="440" font-size="6.80" text-anchor="middle">A</text>
<line x1="387.4" y1="467.3" x2="387.4" y2="467.3" stroke="#333" stroke-width="0.5" />
<line x1="387.4" y1="502.9" x2="387.4" y2="523.6" stroke="#333" stroke-width="0.5" />
<rect x="383.1" y="467.3" width="8.6" height="35.6" fill="#0000ff" stroke="#555" stroke-width="0.3" />
<line x1="383.1" y1="482.2" x2="391.7" y2="482.2" stroke="#1a1a60" stroke-width="0.7" />
<line x1="397.5" y1="467" x2="397.5" y2="480.4" stroke="#333" stroke-width="0.5" />
<line x1="397.5" y1="510.5" x2="397.5" y2="523.6" stroke="#333" stroke-width="0.5" />
<rect x="393.4" y="480.4" width="8.2" height="30.1" fill="#ff0000" stroke="#555" stroke-width="0.3" />
<line x1="393.4" y1="494.3" x2="401.6" y2="494.3" stroke="#601010" stroke-width="0.7" />
<line x1="407.8" y1="503" x2="407.8" y2="505.7" stroke="#333" stroke-width="0.5" />
<line x1="407.8" y1="519.1" x2="407.8" y2="525.5" stroke="#333" stroke-width="0.5" />
<rect x="403.7" y="505.7" width="8.2" height="13.4" fill="#ffa500" stroke="#555" stroke-width="0.3" />
<line x1="403.7" y1="515" x2="411.9" y2="515" stroke="#604010" stroke-width="0.7" />
<path d="M407.8 466h0M407.8 469.5h0M407.8 473h0M407.8 476.5h0M407.8 480h0M407.8 484h0M407.8 487.5h0" stroke="#222" stroke-width="2.2" stroke-linecap="round" fill="none"/>
<line x1="430.8" y1="446" x2="430.8" y2="528.8" stroke="#333" stroke-width="0.5" />
<line x1="430.8" y1="528.8" x2="465.4" y2="528.8" stroke="#333" stroke-width="0.5" />
<line x1="429.2" y1="470" x2="430.8" y2="470" stroke="#333" stroke-width="0.5" />
<text x="428" y="472.2" font-size="6.20" text-anchor="end">0.10</text>
<line x1="429.2" y1="498.8" x2="430.8" y2="498.8" stroke="#333" stroke-width="0.5" />
<text x="428" y="501" font-size="6.20" text-anchor="end">0.05</text>
<line x1="429.2" y1="527.8" x2="430.8" y2="527.8" stroke="#333" stroke-width="0.5" />
<text x="428" y="530" font-size="6.20" text-anchor="end">0</text>
<text x="448" y="440" font-size="6.80" text-anchor="middle">B</text>
<line x1="437.7" y1="481.5" x2="437.7" y2="493.2" stroke="#333" stroke-width="0.5" />
<line x1="437.7" y1="510.5" x2="437.7" y2="525.5" stroke="#333" stroke-width="0.5" />
<rect x="433.5" y="493.2" width="8.4" height="17.3" fill="#0000ff" stroke="#555" stroke-width="0.3" />
<line x1="433.5" y1="501.5" x2="441.9" y2="501.5" stroke="#1a1a60" stroke-width="0.7" />
<line x1="448.4" y1="466.6" x2="448.4" y2="492.5" stroke="#333" stroke-width="0.5" />
<line x1="448.4" y1="514" x2="448.4" y2="525.5" stroke="#333" stroke-width="0.5" />
<rect x="444.4" y="492.5" width="8" height="21.5" fill="#ff0000" stroke="#555" stroke-width="0.3" />
<line x1="444.4" y1="499.4" x2="452.4" y2="499.4" stroke="#601010" stroke-width="0.7" />
<line x1="459" y1="511" x2="459" y2="515" stroke="#333" stroke-width="0.5" />
<line x1="459" y1="523.6" x2="459" y2="525.5" stroke="#333" stroke-width="0.5" />
<rect x="455" y="515" width="8" height="8.6" fill="#ffa500" stroke="#555" stroke-width="0.3" />
<line x1="455" y1="520" x2="463" y2="520" stroke="#604010" stroke-width="0.7" />
<path d="M459 475h0M459 476.6h0M459 478.2h0M459 479.8h0M459 481.4h0M459 483h0M459 484.6h0M459 486.2h0M459 487.8h0M459 489.4h0M459 491h0M459 492.6h0M459 494.2h0M459 495.8h0M459 497.4h0M459 499h0M459 500.6h0M459 502.2h0M459 503.8h0M459 505.4h0M459 507h0M459 508.6h0" stroke="#222" stroke-width="2" stroke-linecap="round" fill="none"/>
<line x1="475.7" y1="446" x2="475.7" y2="528.8" stroke="#333" stroke-width="0.5" />
<line x1="475.7" y1="528.8" x2="509.2" y2="528.8" stroke="#333" stroke-width="0.5" />
<line x1="474.1" y1="469.4" x2="475.7" y2="469.4" stroke="#333" stroke-width="0.5" />
<text x="472.9" y="471.6" font-size="6.20" text-anchor="end">3</text>
<line x1="474.1" y1="490.8" x2="475.7" y2="490.8" stroke="#333" stroke-width="0.5" />
<text x="472.9" y="493" font-size="6.20" text-anchor="end">2</text>
<line x1="474.1" y1="512.6" x2="475.7" y2="512.6" stroke="#333" stroke-width="0.5" />
<text x="472.9" y="514.8" font-size="6.20" text-anchor="end">1</text>
<text x="490.6" y="440" font-size="6.80" text-anchor="middle">C</text>
<line x1="481.2" y1="477" x2="481.2" y2="493.2" stroke="#333" stroke-width="0.5" />
<line x1="481.2" y1="504.6" x2="481.2" y2="523" stroke="#333" stroke-width="0.5" />
<rect x="477.3" y="493.2" width="7.8" height="11.4" fill="#0000ff" stroke="#555" stroke-width="0.3" />
<line x1="477.3" y1="499.4" x2="485.1" y2="499.4" stroke="#1a1a60" stroke-width="0.7" />
<path d="M481.2 466h0M481.2 471.8h0" stroke="#222" stroke-width="2" stroke-linecap="round" fill="none"/>
<line x1="491.8" y1="497.7" x2="491.8" y2="505" stroke="#333" stroke-width="0.5" />
<line x1="491.8" y1="515.3" x2="491.8" y2="520.2" stroke="#333" stroke-width="0.5" />
<rect x="487.8" y="505" width="8" height="10.3" fill="#ff0000" stroke="#555" stroke-width="0.3" />
<line x1="487.8" y1="509.8" x2="495.8" y2="509.8" stroke="#601010" stroke-width="0.7" />
<path d="M491.8 478.7h0M491.8 484h0" stroke="#222" stroke-width="2" stroke-linecap="round" fill="none"/>
<line x1="502" y1="504.6" x2="502" y2="509.8" stroke="#333" stroke-width="0.5" />
<line x1="502" y1="519.5" x2="502" y2="524.7" stroke="#333" stroke-width="0.5" />
<rect x="498" y="509.8" width="8" height="9.7" fill="#ffa500" stroke="#555" stroke-width="0.3" />
<line x1="498" y1="513.3" x2="506" y2="513.3" stroke="#604010" stroke-width="0.7" />
<path d="M502 482.2h0M502 495h0" stroke="#222" stroke-width="2" stroke-linecap="round" fill="none"/>
<line x1="387.4" y1="528.8" x2="387.4" y2="530.3" stroke="#333" stroke-width="0.5" />
<text x="387.4" y="537.4" font-size="6.60" text-anchor="middle">PT</text>
<line x1="397.5" y1="528.8" x2="397.5" y2="530.3" stroke="#333" stroke-width="0.5" />
<text x="397.5" y="537.4" font-size="6.60" text-anchor="middle">IT</text>
<line x1="407.8" y1="528.8" x2="407.8" y2="530.3" stroke="#333" stroke-width="0.5" />
<text x="407.8" y="537.4" font-size="6.60" text-anchor="middle">CT</text>
<line x1="437.7" y1="528.8" x2="437.7" y2="530.3" stroke="#333" stroke-width="0.5" />
<text x="437.7" y="537.4" font-size="6.60" text-anchor="middle">PT</text>
<line x1="448.4" y1="528.8" x2="448.4" y2="530.3" stroke="#333" stroke-width="0.5" />
<text x="448.4" y="537.4" font-size="6.60" text-anchor="middle">IT</text>
<line x1="459" y1="528.8" x2="459" y2="530.3" stroke="#333" stroke-width="0.5" />
<text x="459" y="537.4" font-size="6.60" text-anchor="middle">CT</text>
<line x1="481.2" y1="528.8" x2="481.2" y2="530.3" stroke="#333" stroke-width="0.5" />
<text x="481.2" y="537.4" font-size="6.60" text-anchor="middle">PT</text>
<line x1="491.8" y1="528.8" x2="491.8" y2="530.3" stroke="#333" stroke-width="0.5" />
<text x="491.8" y="537.4" font-size="6.60" text-anchor="middle">IT</text>
<line x1="502" y1="528.8" x2="502" y2="530.3" stroke="#333" stroke-width="0.5" />
<text x="502" y="537.4" font-size="6.60" text-anchor="middle">CT</text>
<text x="383.5" y="446.2" font-size="4.50"><tspan font-style="italic">P</tspan> &lt; 2 × 10<tspan font-size="3.0" dy="-1.8">−16</tspan></text>
<line x1="383.5" y1="447.4" x2="409.5" y2="447.4" stroke="#333" stroke-width="0.3" />
<text x="387.5" y="452.2" font-size="4.50"><tspan font-style="italic">P</tspan> &lt; 2 × 10<tspan font-size="3.0" dy="-1.8">−16</tspan></text>
<line x1="387.5" y1="453.4" x2="414.5" y2="453.4" stroke="#333" stroke-width="0.3" />
<text x="380.2" y="459.4" font-size="4.50"><tspan font-style="italic">P</tspan> = 9.4 × 10<tspan font-size="3.0" dy="-1.8">−5</tspan></text>
<line x1="380.2" y1="460.6" x2="400.2" y2="460.6" stroke="#333" stroke-width="0.3" />
<text x="435.3" y="446.2" font-size="4.50"><tspan font-style="italic">P</tspan> &lt; 2 × 10<tspan font-size="3.0" dy="-1.8">−16</tspan></text>
<line x1="435.3" y1="447.4" x2="461.3" y2="447.4" stroke="#333" stroke-width="0.3" />
<text x="439.3" y="452.2" font-size="4.50"><tspan font-style="italic">P</tspan> &lt; 2 × 10<tspan font-size="3.0" dy="-1.8">−16</tspan></text>
<line x1="439.3" y1="453.4" x2="466.3" y2="453.4" stroke="#333" stroke-width="0.3" />
<text x="432" y="459.4" font-size="4.50"><tspan font-style="italic">P</tspan> = 0.88</text>
<line x1="432" y1="460.6" x2="452" y2="460.6" stroke="#333" stroke-width="0.3" />
<text x="480.2" y="446.2" font-size="4.50"><tspan font-style="italic">P</tspan> &lt; 2 × 10<tspan font-size="3.0" dy="-1.8">−16</tspan></text>
<line x1="480.2" y1="447.4" x2="506.2" y2="447.4" stroke="#333" stroke-width="0.3" />
<text x="484.2" y="452.2" font-size="4.50"><tspan font-style="italic">P</tspan> = 4.7 × 10<tspan font-size="3.0" dy="-1.8">−3</tspan></text>
<line x1="484.2" y1="453.4" x2="511.2" y2="453.4" stroke="#333" stroke-width="0.3" />
<text x="476.9" y="459.4" font-size="4.50"><tspan font-style="italic">P</tspan> &lt; 2 × 10<tspan font-size="3.0" dy="-1.8">−16</tspan></text>
<line x1="476.9" y1="460.6" x2="496.9" y2="460.6" stroke="#333" stroke-width="0.3" />
<text x="-0.3" y="563.4" font-size="10.50" fill="#000" font-weight="bold">h</text>
<line x1="44.2" y1="566.8" x2="44.2" y2="636.6" stroke="#333" stroke-width="0.5" />
<line x1="44.2" y1="636.6" x2="117" y2="636.6" stroke="#333" stroke-width="0.5" />
<line x1="42.6" y1="573.2" x2="44.2" y2="573.2" stroke="#333" stroke-width="0.5" />
<text x="41.4" y="575.5" font-size="6.20" text-anchor="end">25,000</text>
<line x1="42.6" y1="585.6" x2="44.2" y2="585.6" stroke="#333" stroke-width="0.5" />
<text x="41.4" y="587.8" font-size="6.20" text-anchor="end">20,000</text>
<line x1="42.6" y1="598" x2="44.2" y2="598" stroke="#333" stroke-width="0.5" />
<text x="41.4" y="600.2" font-size="6.20" text-anchor="end">15,000</text>
<line x1="42.6" y1="610.3" x2="44.2" y2="610.3" stroke="#333" stroke-width="0.5" />
<text x="41.4" y="612.5" font-size="6.20" text-anchor="end">10,000</text>
<line x1="42.6" y1="622.6" x2="44.2" y2="622.6" stroke="#333" stroke-width="0.5" />
<text x="41.4" y="624.9" font-size="6.20" text-anchor="end">5,000</text>
<line x1="42.6" y1="635" x2="44.2" y2="635" stroke="#333" stroke-width="0.5" />
<text x="41.4" y="637.2" font-size="6.20" text-anchor="end">0</text>
<line x1="46.6" y1="636.6" x2="46.6" y2="638.1" stroke="#333" stroke-width="0.5" />
<text x="48.8" y="640.6" font-size="6.60" text-anchor="end" transform="rotate(-45 48.8 640.6)">0</text>
<line x1="60.8" y1="636.6" x2="60.8" y2="638.1" stroke="#333" stroke-width="0.5" />
<text x="63" y="640.6" font-size="6.60" text-anchor="end" transform="rotate(-45 63 640.6)">2,000</text>
<line x1="75" y1="636.6" x2="75" y2="638.1" stroke="#333" stroke-width="0.5" />
<text x="77.2" y="640.6" font-size="6.60" text-anchor="end" transform="rotate(-45 77.2 640.6)">4,000</text>
<line x1="89.3" y1="636.6" x2="89.3" y2="638.1" stroke="#333" stroke-width="0.5" />
<text x="91.5" y="640.6" font-size="6.60" text-anchor="end" transform="rotate(-45 91.5 640.6)">6,000</text>
<line x1="103.5" y1="636.6" x2="103.5" y2="638.1" stroke="#333" stroke-width="0.5" />
<text x="105.7" y="640.6" font-size="6.60" text-anchor="end" transform="rotate(-45 105.7 640.6)">8,000</text>
<text x="4.6" y="598.6" font-size="7.00" text-anchor="middle" transform="rotate(-90 4.6 598.6)" textLength="51" lengthAdjust="spacingAndGlyphs">Dendrite volume</text>
<text x="11.2" y="598.6" font-size="6.80" text-anchor="middle" transform="rotate(-90 11.2 598.6)">(μm<tspan font-size="4" dy="-2.5">3</tspan><tspan dy="2.5">)</tspan></text>
<text x="75.2" y="664.6" font-size="6.60" text-anchor="middle">Soma volume (μm<tspan font-size="4" dy="-2.5">3</tspan><tspan dy="2.5">)</tspan></text>
<path d="M53.7 619.4h0M55.6 621.3h0M68.6 613.9h0M48.2 617.4h0M48.1 628.8h0M63 603h0M63.5 606.9h0M76.9 597.2h0M61.3 600.6h0M99 595.7h0M67.2 618.8h0M48.4 607.8h0M67.5 590.2h0M65.8 599.3h0M55.2 627.2h0M63.1 628.8h0M59.7 607h0M75.1 614.1h0M64.5 616.1h0M75.9 599.4h0M62.5 605.2h0M75.1 625.4h0M66.2 605.5h0M68 602.9h0M63.7 622h0M67.5 609.6h0M59.9 615.9h0M71.5 614.8h0M66.3 596.5h0M66.8 611.2h0M68.3 586.6h0M61.2 611.5h0M88.9 605h0M59.1 612.1h0M82.8 595.9h0M67.8 626h0M61.9 622.3h0M62.2 599.9h0M68.7 619.8h0M54.9 619.1h0M77.2 626h0M61.3 587.6h0M69.6 617.6h0M65.1 595.3h0M51.7 624h0M95.5 591.1h0M61.7 625.4h0M67.6 605.8h0M69 615.6h0M61.7 621.5h0M69 593h0M67.4 606h0M76.2 603.6h0M53.4 605.1h0M70 589.7h0M67.3 592.9h0M65.5 615.7h0M50.1 608h0M54.1 618.1h0M71.1 604.4h0M95.8 600h0M49.8 623.6h0M82.7 580.3h0M53.5 628.8h0M70.4 613.3h0M61.6 624.6h0M63.3 606.2h0M64 618.4h0M70.7 598.4h0M55.1 613.1h0M70.3 579.5h0M81 589.3h0M65.8 622h0M58.9 596.4h0M65.3 618.7h0M76.4 613.5h0M77.9 579.2h0M61.5 609.2h0M82.7 603.4h0M52.3 617h0M52.8 620.1h0M78.6 594.1h0M61.4 608.6h0M58.6 607.5h0M73.7 602.3h0M63.3 606.8h0M62.4 611.4h0M55.7 617h0M61.4 599h0M61.9 617.2h0M76.9 592.6h0M61.2 609.2h0M64.1 603.6h0M65.6 608h0M53.5 601.6h0M67.9 609.1h0M73.2 594.8h0M57.5 601.8h0M63.6 627.1h0M50.9 618.5h0M71.1 607.3h0M48.7 609.2h0M59 623.7h0M63.8 620.2h0M68.2 612.3h0M80.3 589.4h0M48.9 614h0M80.7 609.3h0M60.2 621.1h0M57.6 616.6h0M80.2 628.8h0M78.3 598.9h0M78.6 625.3h0M56.2 610.4h0M64.2 608.4h0M71.9 579.5h0M70.6 628.8h0M63.2 614h0M49.6 611.9h0M49.3 627.1h0M75 603.3h0M55 613h0M63.7 595.1h0M70.1 626.6h0M61.6 611.1h0M49.4 627.6h0M63.8 608.5h0M61.3 606.6h0M80.9 599.9h0M84.7 595.1h0M82.9 606.7h0M66.9 625.7h0M70.3 619.7h0M63.4 613.5h0M58.6 609.3h0M75.5 600.6h0M76.1 610.5h0M76.7 610.6h0M49.4 602.2h0M50.7 606.6h0M56.5 628.8h0M50.6 628.8h0M80.6 594.6h0M73.3 604.2h0M65.6 618.8h0M62.8 598h0M70.2 608.1h0M73.7 593.2h0M64.7 618h0M64.2 613h0M68.8 603.5h0M55.4 607.3h0M78.1 606.4h0M53 618.2h0M74.3 592.2h0M61.4 628h0M50.8 610.4h0M69.9 605.7h0M54.6 615.5h0M52.2 595.7h0M65.7 622.1h0M59.6 620.9h0M61.9 628.8h0M63.5 598.2h0M51 625h0M76.2 602.5h0M79 598.4h0M55.2 608.7h0M73.7 604.3h0M55 608.9h0M58.1 619.6h0M67.4 610.6h0M59.3 628.8h0M68.2 610.9h0M56.4 617.8h0M77.5 596.8h0M76.8 608.5h0M68.8 610.3h0M69.6 617.1h0M64.4 608.5h0M84.3 599h0M54.1 619.1h0M91.1 615.3h0M69.1 609.2h0M64.9 601.7h0M60.8 601.2h0M65.5 608.4h0M66.6 615.9h0M71.1 617.1h0M50.2 628.8h0M68.8 612.9h0M76.1 595.1h0M50.5 628.8h0M52.2 603.4h0M50.8 628.8h0M69.7 600h0M54.5 611h0M55.3 604.7h0M68.5 616.2h0M58 602.6h0M66.9 622.3h0M62.7 604h0M69.1 608.4h0M67 613.6h0M68.9 617.2h0M71.9 609.1h0M60.1 610.6h0M60.7 628.8h0M73.1 609.3h0M66 600.8h0M61.9 615.5h0M80.3 593.6h0M54.5 628.8h0M79.6 608.2h0M75.7 626.1h0M71.4 618h0M50.8 614.5h0M66.8 607.6h0M68.5 605.7h0M65.8 619.8h0M58.7 598.1h0M62.7 607.9h0M62.1 603.6h0M55.6 626.5h0M59.3 618.4h0M50.8 611.1h0M58.5 607.4h0M51.2 618h0M73.9 611.7h0M60.8 623.7h0M74.6 590.3h0M59.1 600.2h0M80.3 600.1h0M51.3 619.8h0M72.6 608.4h0M72.8 597.4h0M50.1 598.7h0M56 628.8h0M56.4 621.3h0M65.3 617h0M67.7 605.5h0M51.4 622.5h0M52.1 619h0M74.7 611.4h0M68 613.8h0M85.3 616.3h0M76.8 597.2h0M64.6 614.8h0M78 610.4h0M82.9 603.2h0M71.2 605.6h0M57.5 612.9h0M60.2 628.8h0M58.9 595.5h0M61.8 608.6h0M82 588.2h0M77.3 602.7h0M70.2 596.7h0M66.3 618.5h0M76.3 592h0" stroke="#2020ff" stroke-width="1.6" stroke-linecap="round" fill="none" opacity="0.92"/>
<path d="M50 623h0M61.4 617.5h0M51.1 623.5h0M62.3 605.5h0M63.7 618.7h0M62.3 620.3h0M67.2 606.7h0M51 632.8h0M68.5 617.9h0M61.5 619.3h0M72.5 606.8h0M54.5 615.3h0M65.8 630.3h0M59.3 620.5h0M54.5 611.3h0M60.3 610h0M63.7 623.6h0M66.6 617.8h0M53.7 631h0M61 615.3h0M52.3 624.1h0M56.4 620.6h0M47.9 630.1h0M63.7 618h0M73.4 604.2h0M67.4 623.4h0M60.2 604.5h0M60.9 607.3h0M58.2 615.1h0M52.2 597.5h0M66.1 608.4h0M66 612.4h0M54.3 612.6h0M52.3 625.5h0M56.4 621.2h0M58 619.3h0M65.7 609.1h0M60.6 626.7h0M64.9 608.1h0M47.7 610.5h0M58.5 620h0M49.5 630h0M69.8 622.8h0M53.7 632.8h0M63.9 609.9h0M50.9 628.3h0M49.7 629h0M57.4 620.2h0M56.8 608.6h0M53.4 632h0M55.8 632.8h0M54.3 624.3h0M75.3 603.2h0M69.3 616.6h0M56.2 620.4h0M58.8 614.3h0M64 622.8h0M58.4 617.6h0M58 625.2h0M61.3 623h0M68 616.7h0M52.8 618.7h0M63.5 625.6h0M59.1 615h0M57.6 624.7h0M54.7 630.1h0M51.6 626.5h0M50.3 615.8h0M63.1 624.3h0M57 614.8h0M61 616.6h0M71.7 618.8h0M55.3 618.4h0M54.3 623h0M59.9 620h0M52.4 618.5h0M63.4 623.2h0M54.7 611.6h0M57.3 619.5h0M50.6 630.1h0M66.3 616h0M54.1 632h0M50 627.6h0M66.7 610.5h0M54.9 620.8h0M60.8 621.7h0M74 604.2h0M62.8 628.8h0M67.4 606.8h0M64.3 622.9h0M49.2 629.3h0M66 607.5h0M55.5 618.4h0M52.8 632.2h0M64.6 607.3h0M56.9 625.9h0M49 628.6h0M56.8 632.8h0M52.4 627.2h0M63.3 621.6h0M69.1 616.1h0M50.9 632.2h0M65.1 615.3h0M67.3 608.7h0M59.4 617.6h0M52.7 621.3h0M52.8 611.5h0M61 603h0M52.7 624.3h0M64.5 616.1h0M56.2 619h0M71.5 620.3h0M50 627h0M68.9 620.5h0M61.7 601.5h0M68.2 618.4h0M58.3 632.8h0M60 612.7h0M54 628.7h0M62.4 609.3h0M67.2 610.1h0M53.7 623.7h0M47.9 627h0M59 612.6h0M64.3 624.6h0M56.7 632.8h0M54.8 615.4h0M59.3 616.8h0M62.6 598.6h0M56.3 625.1h0M61.6 614.5h0M50.6 630.6h0M53.1 617.7h0M61.9 626.8h0M55 632.8h0M57.1 614.9h0M56.7 614.9h0M66.1 616.3h0M53.3 622.8h0M51.2 620.7h0M54.5 627h0M62.5 627.7h0M55.2 622.4h0M61.3 631.3h0M65.5 606h0M53 623.6h0M53.5 617.2h0M57.8 626.6h0M50.2 621.4h0M68.2 620h0M57.9 611.3h0M72.8 601.9h0M53.4 628.1h0M56.4 611h0M67.5 606.8h0M63.2 609.6h0M52.1 632.8h0M61.2 618.9h0M58.9 618.7h0M51.7 629.2h0M67.2 616.2h0M51.1 629.2h0M50.5 627.6h0M53.1 613.5h0M56.9 632.8h0M77.8 610h0M59.8 614.1h0M54.5 615.1h0M60.4 632.8h0M59.3 621.1h0M58.7 610.8h0M60.7 624.4h0M52.4 631.3h0M58.6 615.8h0M60.6 630h0M64.3 614h0M61.2 629.8h0M53.3 630.1h0M56.2 615.6h0M60.6 614.3h0M55.5 614.6h0M65.9 618.4h0M52 613.2h0M58.3 617.5h0M66.5 605.1h0M68.8 613.5h0M66.6 621.7h0M51 620.1h0M67.6 620.4h0M60.2 619.5h0M60.3 615.4h0M63.3 619h0M58.5 618.4h0M71.9 605.5h0M69.2 623.8h0M69.6 611.4h0M55.4 632.8h0M61.5 631.3h0M62 623.2h0M50.7 632.3h0" stroke="#ff1a1a" stroke-width="1.6" stroke-linecap="round" fill="none" opacity="0.92"/>
<path d="M70.6 607.1h0M53.2 610.1h0M53.5 609.6h0M60.7 620.4h0M60.5 622.6h0M75.3 599.7h0M71 627.8h0M78.5 592.4h0M69.3 621.7h0M79.6 611.1h0M61.6 623.3h0M57.9 623.8h0M64.4 589.6h0M47.7 628.8h0M52.7 607.5h0M61 617.1h0M65.7 612.5h0M65.6 601.9h0M72.4 597.9h0M55.3 628.8h0M55.8 611.7h0M72.9 590.3h0M78.9 602h0M72.4 601.7h0M63.4 618.5h0M73.7 601.8h0M68.8 609.6h0M67.9 601.4h0M70.8 616.3h0M53.9 608.2h0M64.9 602.1h0M61.2 628.8h0M60.9 602.6h0M65 628.8h0M54.4 610.5h0M83.7 592.1h0M60.4 614.2h0M68.9 625.8h0M71.2 613.4h0M67.5 618.8h0M60.9 628.2h0M49.8 622.7h0M63.4 602.7h0M70 606.9h0M50.5 619.6h0M71.6 598.8h0M68.2 626.7h0M68.6 609.4h0M66.3 616h0M56.9 602.3h0M52.4 628.8h0M60.9 615.5h0M63.1 605.3h0M81.9 612h0M74.6 610.9h0M52.5 628.8h0M62.7 608.6h0M53.5 625.1h0M81.4 615.5h0M55.6 597.7h0M72 597.9h0M62.7 599.2h0M73.3 597.1h0M73.2 611.3h0M74.5 598.6h0M53 617.3h0M75.9 609h0M49.4 621h0M66.9 602.6h0M55.3 597.6h0M73.8 605.9h0M59.4 625.5h0M59.6 610.2h0M60.7 608.4h0M80.7 590.8h0M52.4 627.9h0M66.7 600h0M66 600.1h0M67.6 615.2h0M70.1 607.9h0M53.9 622.4h0M66.8 606.4h0M54.6 607.3h0M52.6 601.8h0M52.7 617.2h0M83.8 596.2h0M73 598.3h0M66.5 614.8h0M61.4 607.5h0M49.5 607.3h0M62 621.8h0M68.2 601.8h0M69 600.2h0M74 610.8h0M61.4 616.1h0M61.9 608h0M68.5 603.3h0M68.1 622.8h0M62.1 623.5h0M52.4 626.9h0M75 583.5h0M68.1 616.5h0M57.9 624.4h0M57 601.8h0M67.3 621.9h0M67.7 606.9h0M54.5 628.8h0M69.1 611.8h0M64.7 609.7h0M62.2 605.8h0M64.5 616.4h0M77.1 590.6h0M51.3 603.3h0M72.4 605.8h0M65.1 612.2h0M64 598.9h0M59.5 605.4h0M78.1 585.7h0M59.4 613.5h0M49 616.3h0M66.5 594.5h0M66.2 596.7h0M76.2 586.4h0M60.5 628.8h0M55.7 628.8h0M60.9 603h0M54.1 623.9h0M51.5 619.2h0M55.2 611.2h0M63.1 622.4h0M69.1 609.2h0M61.8 595.9h0M78 596.9h0M77.1 595.4h0M48.5 628.8h0M59.6 614.3h0M68.4 607.4h0M77.3 593.9h0M64.5 622.1h0M49.7 628.8h0M76.6 596.6h0M58.1 622.9h0M77.1 620.1h0M48.4 628.8h0M60 607.9h0M65.8 620.1h0M52.4 619.9h0M80.6 600.6h0M48.5 628.8h0M70.7 599.7h0M59.3 628.8h0M51.5 625.8h0M71 609.2h0M75.7 595.4h0M65.5 613.4h0M70.6 599.2h0M59.5 606.6h0M69.6 597.9h0M59 628.8h0M77 600.8h0M73.8 597.7h0M73.6 598.1h0M72.9 586.4h0M76.2 588.6h0M71.1 604.5h0M48.8 622.2h0M66.2 598.2h0M78.5 589h0M65.1 620.1h0M70 615.5h0M53.6 617.8h0M58.1 608.6h0M68.8 628.8h0M67.4 609.3h0M74.8 608.6h0M75.7 596.2h0M67 619.7h0M54.5 618h0M64.2 624h0M50.4 615h0M66.5 609.6h0M62.9 590.7h0M73.7 605.8h0M71.6 611.8h0M48.3 614.8h0M51.6 618.1h0M74 611h0M66 588.7h0M60.1 621.5h0M59.1 618.7h0M61.1 603.1h0M57.5 626.4h0M57.4 609.7h0M64.7 609.3h0M66.7 588h0M67.7 615.5h0M67 588.8h0M78.6 603.2h0M65.7 624h0M52.6 604.2h0M76.5 589.1h0M60.6 601.3h0M68.4 609.9h0M49.5 628.8h0M62.9 615.7h0M73.6 628.8h0M60 619.5h0M78.4 595.4h0M58.4 606h0M67.9 628.8h0M60.9 619.2h0M59.5 594.1h0M68 603h0M78.3 604.4h0M77.1 593.4h0M78.9 622.8h0M80.9 598.5h0M63.1 608.8h0M57.2 628.8h0M58 609.3h0" stroke="#2020ff" stroke-width="1.6" stroke-linecap="round" fill="none" opacity="0.92"/>
<path d="M64.7 616.7h0M60.3 615.5h0M65 617.8h0M63.2 632.8h0M55 621.4h0M63.6 624.7h0M66.2 632.4h0M48 632.8h0M61.1 618.8h0M62.8 616.9h0M51.8 624.2h0M68.6 600.9h0M48.6 628.1h0M71.8 591.3h0M58.7 628.4h0M57.3 629.2h0M57.1 627.5h0M49.7 607h0M53.9 619.8h0M58.8 612.1h0M61.1 623.9h0M63.4 610.2h0M62.5 616.8h0M61.6 621.2h0M52.1 615.7h0M57.2 618.2h0M60.4 623.8h0M68.2 605.2h0M61.7 616.1h0M59.8 620.4h0M59.5 615h0M59.4 618h0M62.6 614.3h0M62.2 606.3h0M62.9 610.4h0M51.1 609.8h0M48 614.1h0M56.6 625.8h0M52.5 614.2h0M62.3 602.3h0M47.9 609.6h0M65.7 613.5h0M70.5 609.8h0M56.9 625.4h0M62 612.6h0M62.8 607.1h0M70 614.6h0M55.5 627.2h0M52.9 614.2h0M53.4 619.9h0M61.9 630.7h0M54.8 630.1h0M51.1 628.9h0M63.3 624.1h0M49.1 627.8h0M53 624.1h0M57.3 613.6h0M63.3 626.5h0M57.5 614.7h0M69.4 608h0M48 632h0M71.1 610.9h0M68.1 621.4h0M54.2 627.8h0M54.4 632.8h0M53.2 619.2h0M66.9 632.8h0M63.4 610.1h0M56.4 617.5h0M62.1 609.2h0M56.1 616.1h0M56.6 614.7h0M62.5 606.8h0M58.7 632h0M59.6 607.3h0M62.9 616.9h0M65.7 616.8h0M59.3 624.3h0M55.7 629.2h0M60.9 612.8h0M75.6 616.3h0M66.1 627.7h0M55.4 630.4h0M52.1 615.7h0M52.5 613.5h0M66.6 617.8h0M62.6 606.5h0M71.7 606h0M61.7 625h0M59.3 620.3h0M60.1 612.3h0M58.5 615.4h0M64.9 613h0M57.1 611.2h0M61.7 617.3h0M55.6 627.6h0M63.1 611.9h0M51.6 616h0M63.7 616.6h0M63.4 622.7h0M61.6 627.9h0M57 599.4h0M51.8 612.6h0M64.6 609.3h0M66.6 610.9h0M50.7 618h0M54.1 627.8h0M69.2 615.4h0M65.8 620.5h0M72.3 590.4h0M53.3 626.5h0M53.1 617.9h0M61.9 620.2h0M69.1 617.6h0M54.1 627.7h0M54.8 626.3h0M52.6 632.8h0M71.5 603.9h0M48.7 619.7h0M62.3 610.4h0M56.6 622.1h0M61.9 624.3h0M57.9 620.1h0M48.7 623.3h0M49 632.8h0M67.8 612.5h0M55.6 602.2h0M63.7 616.9h0M60.5 610.6h0M60.1 619.4h0M56.5 617.9h0M61.3 625.2h0M49.5 615.1h0M65.9 623.5h0M74.9 595.8h0M52.9 612.6h0M51.3 625.9h0M56.7 632.8h0M60.9 628.1h0M54.8 619.5h0M54.1 628.4h0M62 622.1h0M58.8 613.6h0M56.4 614.1h0M62.2 629h0M56.5 622h0M56.8 628.7h0M50.2 618.9h0M47.9 619.5h0M52.3 628.2h0M55.6 608.3h0M57.4 619.3h0M55.6 617.8h0M54.5 616.2h0M60.3 612.5h0M66.2 626.5h0M58.1 603.4h0M75.5 598h0M59.6 611.5h0M54.5 625.3h0M50.4 616.8h0M62 622.2h0M62.2 607.7h0M59.3 605.3h0M54.7 621.4h0M54.7 612.7h0M66.1 619.9h0M72.2 604.3h0M54.6 614.3h0M62.6 630.2h0M51.1 620.7h0M64.9 617.8h0M61.5 630.3h0M62.5 613.7h0M52.1 618.6h0M68 620.3h0M49 625.7h0M53.4 626.6h0M49 632.3h0M55.4 623.4h0M55.8 623.5h0M67.1 615.3h0M55.1 624.6h0M53 621.8h0M70 610.1h0M61.1 615.9h0M64.8 621.1h0M64 616h0M70.9 620.7h0M67.3 610.9h0M62.4 620.2h0M60.5 598.7h0M64.9 598.4h0M59.5 621.1h0M61.1 608.2h0M66.2 613.6h0M60 617.8h0M72.4 613.9h0M51.2 611.1h0M65.9 620.1h0M51.3 623.1h0M65.1 621.6h0M56.9 614.9h0M63.5 611.4h0M54.4 631.2h0M50.3 628.5h0M66.8 610.9h0M67.8 618h0M53.6 629.4h0M65.8 598.1h0M62.4 630.2h0M56 624h0M63.1 613.3h0M65.2 613.4h0M55.8 617.3h0M72.6 607h0M64.1 611.3h0M69.6 609.5h0M57.3 615.4h0M67.4 622.4h0M49.2 631.1h0M61 622h0M61.7 615.5h0M62.2 601.3h0M63.4 600h0M54.9 628.9h0M59.7 622.9h0M51.7 629.9h0M62.3 616.1h0M62.6 613.3h0M62.3 607h0M50.8 629.7h0M59.1 629.9h0M59.7 606.2h0M53.8 623.4h0M54.9 628.2h0M52.4 610.9h0M63.1 619.5h0M74.6 600.9h0M72.5 609.8h0M61.4 617.7h0M59 624.7h0M62.6 624.2h0M68.9 602.1h0M64.9 609.3h0M57.5 614.1h0M59.7 622h0M51.9 604.7h0M54.2 614.3h0M54.9 619.1h0M50 624.4h0M69.5 603.3h0M55.4 622.7h0M51.7 632.8h0M71.4 612.6h0M61.2 632.8h0M58.3 615.9h0M54.1 622.2h0M75.7 606.8h0M60 620.5h0M56.6 622.3h0M55.6 613.9h0M57.3 632.7h0M66.7 614.7h0M50.7 612.8h0M57.7 623.2h0M49.9 627.4h0M54.6 620.6h0M66.2 614.2h0M57.9 628.2h0M69.2 604.4h0M52.5 618.5h0M56.2 618.8h0M67.7 617.2h0M63.2 617.5h0M61.9 616.4h0M72.8 596.2h0M52.4 622.9h0M54.4 632.8h0M73.3 624.7h0" stroke="#ff1a1a" stroke-width="1.6" stroke-linecap="round" fill="none" opacity="0.92"/>
<path d="M52.8 631.3h0M56.5 624.4h0M50.6 629.9h0M54.2 627.3h0M52.8 626.2h0M49.5 627.3h0M50.9 629.1h0M57.7 623.7h0M52.1 622.5h0M54.8 623.9h0M52 633.1h0M53.5 629.4h0M54.6 631.8h0M49.3 625.8h0M49.1 629.6h0M54.6 626.1h0M54.4 629.1h0M57.6 623.9h0M55.9 626.3h0M52.5 626.5h0M48 634.4h0M53.3 627.5h0M56.3 627.1h0M57.8 626.5h0M54.1 625.6h0M55.1 625.2h0M54.4 623.3h0M58.9 630h0M59 621.1h0M52.1 625.8h0M57.6 628.2h0M57.1 622.8h0M56.5 626.7h0M55.2 624.8h0M57.8 626.8h0M57.1 628.3h0M54.6 627.2h0M53 624.8h0M58.6 629.8h0M54.5 625.2h0M54.2 624.2h0M54.5 622.3h0M54.8 627.2h0M51.3 633.5h0M55.5 624.9h0M57.9 625.7h0M56.4 626.3h0M52.5 627.4h0M49.9 632.8h0M52.4 623.6h0M52.2 627.6h0M58.7 629.5h0M53.1 626.2h0M56.5 625.5h0M49.1 630.4h0M55.3 625.4h0M49.9 631h0M49.4 632.3h0M56.1 628.4h0M52.2 624.2h0M55.4 629.2h0M54.2 625.4h0M61.3 623.9h0M52.7 626.4h0M59.7 631.9h0M49.2 629.9h0M52.3 626.3h0M49.6 629.9h0M52.4 626.9h0M52.2 629.4h0M52 628.2h0M58.4 626.9h0M53.5 628.6h0M63.6 630h0M58.6 625.3h0M57 628.5h0M54.9 626.3h0M51.7 626.7h0M53.1 627.2h0M51.9 631.2h0M50.7 631.6h0M55.9 631.3h0M60.2 622.4h0M54.8 625.5h0M52.2 628.6h0M58.2 627.4h0M54.5 630.7h0M52.9 626h0M55.9 625.4h0M55.3 626.7h0M54.5 627.7h0M53.9 629.3h0M56.3 627h0M52.7 630h0M57.8 627h0M55.6 629.1h0M53.2 632h0M53.2 625.9h0M50 626.7h0M50.2 625.3h0M55.1 626.2h0M60.7 626.9h0M57.5 627.2h0M54.7 628.9h0M57 627.6h0M47.9 629.9h0M47.7 630.9h0M48.1 633.2h0M51.2 630.2h0M58.7 618.8h0M53.8 627h0M56.4 626.5h0M52.6 626.7h0M54.5 623.4h0M54.7 628h0M49.3 626.1h0M50.8 631.6h0M57.9 625.6h0M59.7 633.6h0M50.9 626.7h0M53.3 624.5h0M59.3 628h0M56.8 621.5h0M53.7 627.1h0M56.6 629.1h0M53.9 628h0M54.2 626.2h0M54.4 634.4h0M60 627h0M57.9 623.5h0M53.4 625.8h0M54.2 621.7h0M53.6 623h0M51.6 630h0M56.2 621.7h0M57.6 631h0M52.4 629.1h0M56.4 629.9h0M48.2 631h0M57.3 620.9h0M54 629.6h0M48.4 634.4h0M53.3 632.2h0M53 630.4h0M53 628.2h0M52.3 627.2h0M59.9 628.1h0M54.1 622.3h0M57.1 627h0M49.4 628.8h0M59.8 628h0M53.5 629h0M59.4 627.1h0M52.7 627.1h0M59.5 624.3h0M55.7 627.1h0M53.7 625.4h0M56.1 624h0M51 632.1h0M51.3 633.6h0M50.9 627.1h0M48.3 623.8h0M52.1 626.1h0M49.4 628.9h0M50.2 624.3h0M52.7 627.1h0M55.7 631.9h0M54.5 626.5h0M48.8 631.6h0M55.7 624.8h0M50.3 630h0M51.2 629.8h0M52.6 625.9h0M59 630.3h0M57.4 622.6h0M57.2 627h0M58.5 621.8h0M58.9 623.4h0M50.2 627.2h0M51.5 625h0M57.7 625.8h0M50.1 629.3h0M53.6 628.5h0M55.9 625.6h0M53.7 630.5h0M54.8 632h0M56.9 627.1h0M54.1 627.4h0M52.2 627.5h0M49.7 632h0M47.9 627.5h0M52.7 624.5h0M53.4 628h0M51.4 626.8h0M53.4 627.1h0M57.8 624.8h0M59 626.7h0M58.6 624.3h0M48.6 630.9h0M59 627.1h0M57.7 624.9h0M56.6 626.3h0M54.2 626.8h0M59.4 626.4h0M50.1 624.9h0M49.1 625.1h0M58.3 627.1h0M61.6 626.5h0M51 626.2h0M51.8 627.5h0M57.7 624.3h0M49.9 630.4h0M57.5 626.5h0M54.3 627h0M57.2 623.3h0M53.8 630.1h0M50.1 624.5h0M52.3 626.2h0M56.8 626.2h0M51.2 631.8h0M50.6 622.6h0M52.9 628.4h0M62.3 622.9h0M50.6 634.4h0M52.8 629.6h0M59.5 626.4h0M61.1 628.4h0M51.2 631.9h0M57.8 628.5h0M51.3 629.9h0M58.4 621.9h0M55.9 628.8h0M51.9 626.7h0M54.9 630.6h0M48.6 628.7h0M56.6 626.7h0M50 631.5h0M51.5 629.6h0M57.5 629.4h0M55.6 622.4h0M54.1 623.6h0M55.5 628.9h0M58.1 629.3h0M55.6 633.1h0M56.3 630.1h0M53.8 623.6h0M54.4 628.3h0M54 626.9h0M50.9 627.9h0M50.8 631h0M49.7 627.7h0M51.8 628.1h0M48.4 627.6h0M57.3 628h0M54.1 631.4h0M56.1 622.9h0M51.9 630.1h0M54.5 622.9h0M56.1 623.2h0M56 628.3h0" stroke="#ffa500" stroke-width="1.6" stroke-linecap="round" fill="none" opacity="0.92"/>
<path d="M49.6,614.5 C80,600 100,588 113.5,577.5 L113.5,585.5 C100,593 80,601 49.6,619.5 Z" fill="#b0b0b0" fill-opacity="0.6"/>
<line x1="49.6" y1="617" x2="113.5" y2="581.5" stroke="#1010e0" stroke-width="1" />
<path d="M49.6,617 L89.8,598 L89.8,602 L49.6,620.5 Z" fill="#b0b0b0" fill-opacity="0.5"/>
<line x1="49.6" y1="618.8" x2="89.8" y2="600" stroke="#e01010" stroke-width="1" />
<line x1="49.6" y1="627" x2="60" y2="622" stroke="#e89000" stroke-width="0.9" />
<text x="92.2" y="608.2" font-size="4.40" fill="#222" textLength="25.5" lengthAdjust="spacingAndGlyphs"><tspan font-style="italic">P</tspan> = 8.199 × 10<tspan font-size="3.0" dy="-1.8">−11</tspan></text>
<text x="92.2" y="613.4" font-size="4.40" fill="#222" textLength="25.5" lengthAdjust="spacingAndGlyphs"><tspan font-style="italic">P</tspan> = 1.848 × 10<tspan font-size="3.0" dy="-1.8">−15</tspan></text>
<text x="92.2" y="618.6" font-size="4.40" fill="#222" textLength="25.5" lengthAdjust="spacingAndGlyphs"><tspan font-style="italic">P</tspan> = 1.153 × 10<tspan font-size="3.0" dy="-1.8">−7</tspan></text>
<text x="97" y="625" font-size="4.60" fill="#ffa500">R<tspan font-size="3.0" dy="-1.8">2</tspan><tspan dy="1.8"> = 0.12</tspan></text>
<text x="97" y="630.2" font-size="4.60" fill="#2020ff">R<tspan font-size="3.0" dy="-1.8">2</tspan><tspan dy="1.8"> = 0.23</tspan></text>
<text x="97" y="635.4" font-size="4.60" fill="#ff2020">R<tspan font-size="3.0" dy="-1.8">2</tspan><tspan dy="1.8"> = 0.24</tspan></text>
<rect x="133.2" y="567.5" width="22.6" height="21.8" fill="#0e0e0e" />
<text x="130.8" y="580" font-size="6.80" text-anchor="end">PT</text>
<clipPath id="cH0"><rect x="133.2" y="567.5" width="22.6" height="21.8"/></clipPath><g clip-path="url(#cH0)">
<path d="M144.4,583.9 L144.7,585.3 L144.8,586.7 L145,588.1 M144.4,585.3 L145,586.6 L145.8,587.7 M143.5,577 L143.8,578.4 L144,579.8 L144.2,581.1 L144.2,582.5 L144.4,583.9 L144.4,585.3 M143.8,575.6 L143.9,574.2 L144.4,572.9 L145,571.7 M143.5,577 L143.8,575.6 L144,574.2 L144.4,572.9 L144.8,571.6 L145.1,570.2 L145.1,568.8 M139.4,577.7 L138.4,576.6 L137.5,575.6 L136.4,574.7 L135.4,573.7 M135.3,578.5 L134.6,579.7 L133.8,580.8 L133.1,582.1 M143.5,577 L142.1,577.3 L140.8,577.6 L139.4,577.7 L138,577.9 L136.6,578 L135.3,578.5 L134,579.1 M143.1,583.9 L142.9,585.3 L142.5,586.7 L142,587.9 L141.7,589.3 M143.5,577 L143.6,578.4 L143.7,579.8 L143.6,581.2 L143.5,582.6 L143.1,583.9 L142.8,585.3 M146.1,578 L147.5,578.1 L148.9,578.2 L150.3,578.3 M148.6,579.3 L149,580.6 L149.5,581.9 M143.5,577 L144.8,577.4 L146.1,578 L147.3,578.8 L148.6,579.3 L149.8,579.9 L151.1,580.4 L152.3,581.1 M139.3,577.3 L138.1,576.6 L136.8,576 L135.5,575.6 L134.3,574.9 L133,574.2 M133.8,576.9 L132.5,577.5 L131.4,578.4 L130.3,579.3 M143.5,577 L142.1,577.1 L140.7,577.1 L139.3,577.3 L137.9,577.2 L136.5,577 L135.1,577.1 L133.8,576.9 M142.5,578 L141.1,578.3 L139.8,578.9 L138.7,579.7 L137.5,580.3 M143.5,577 L142.5,578 L141.3,578.8 L140.2,579.5 L139.1,580.4 L138,581.3 L136.8,582.1" fill="none" stroke="#888" stroke-width="0.4" />
<ellipse cx="143.5" cy="577.0" rx="6" ry="7" fill="#6a6a6a"/>
<ellipse cx="143.5" cy="576.0" rx="4" ry="4.5" fill="#8a8a8a"/>
<path d="M143.5,567.5 L143.5,571.0" fill="none" stroke="#888" stroke-width="1.2" />
</g>
<rect x="148.5" y="569.9" width="5.5" height="1.3" fill="#fff" />
<text x="135" y="587.9" font-size="2.60" fill="#bbb">292,800–036</text>
<rect x="133.2" y="592.2" width="22.6" height="21.8" fill="#0e0e0e" />
<text x="130.8" y="604.7" font-size="6.80" text-anchor="end">IT</text>
<clipPath id="cH1"><rect x="133.2" y="592.2" width="22.6" height="21.8"/></clipPath><g clip-path="url(#cH1)">
<path d="M145.6,604 L145.9,605.4 L145.9,606.8 L146.1,608.2 L146.2,609.6 M144.5,603.2 L145.6,604 L146.8,604.7 L147.8,605.7 L148.7,606.8 L149.8,607.7 L150.8,608.6 M144.5,603.2 L143.8,604.4 L142.9,605.5 L141.8,606.4 L140.8,607.4 L139.8,608.4 L138.7,609.2 L137.7,610.1 L136.9,611.3 M145.9,603.5 L147,604.4 L147.9,605.4 L149,606.3 L150.1,607.1 L151.2,608 M151.7,607.2 L152.3,608.5 L152.6,609.9 L153.1,611.2 L153.5,612.5 L153.9,613.9 M144.5,603.2 L145.9,603.5 L147.2,604 L148.3,604.9 L149.4,605.7 L150.6,606.4 L151.7,607.2 L152.8,608.1 M145.9,603.6 L147.1,604.2 L148.4,604.7 L149.8,605 L151.1,605.5 L152.3,606.1 L153.7,606.6 M151.2,607.7 L152.3,608.6 L153.2,609.7 L154,610.8 L154.7,612 L155.6,613.1 L156.5,614.2 M144.5,603.2 L145.9,603.6 L147.2,604 L148.4,604.7 L149.5,605.5 L150.5,606.5 L151.2,607.7 L152.1,608.8 L153,609.9 L153.8,611 L154.8,612 L155.7,613.1 M138.3,610.2 L137.6,611.3 L136.6,612.4 L135.5,613.2 L134.2,613.7 L132.8,614.2 L131.5,614.7 M144.5,603.2 L143.3,603.8 L142,604.5 L140.9,605.3 L139.9,606.3 L139.1,607.5 L138.6,608.8 L138.3,610.2 L138.2,611.6 L138.3,612.9 M144.9,600.4 L143.9,599.4 L142.9,598.5 L142,597.4 M144.5,603.2 L144.6,601.8 L144.9,600.4 L145.3,599.1 L145.8,597.8 L146.1,596.4 L146.5,595.1 M144.5,599.1 L144.1,597.7 L143.9,596.3 L143.5,595 M145.1,597.8 L144.6,596.5 L144.5,595.1 L144.2,593.7 L143.9,592.3 L143.8,590.9 M145.9,596.7 L147.2,596.3 L148.6,596 L150,595.9 M144.5,603.2 L144.2,601.8 L144.2,600.4 L144.5,599.1 L145.1,597.8 L145.9,596.7 L146.5,595.4 L147,594.1" fill="none" stroke="#888" stroke-width="0.4" />
<path d="M141.0,604.2 C141.5,598.2 144.5,594.2 145.5,592.2 L146.5,592.2 C147.0,598.2 148.5,603.2 147.5,608.2 C146.5,611.2 141.5,610.2 141.0,604.2 Z" fill="#e6e6e6" />
</g>
<rect x="148.5" y="594.6" width="5.5" height="1.3" fill="#fff" />
<text x="135" y="612.6" font-size="2.60" fill="#bbb">190681–015</text>
<rect x="133.2" y="617" width="22.6" height="21.8" fill="#0e0e0e" />
<text x="130.8" y="629.5" font-size="6.80" text-anchor="end">CT</text>
<clipPath id="cH2"><rect x="133.2" y="617" width="22.6" height="21.8"/></clipPath><g clip-path="url(#cH2)">
<path d="M143.5,631 L142.3,631.6 L140.9,632.1 L139.6,632.4 L138.2,632.7 L136.8,632.7 L135.4,632.7 L134,633 L132.6,633.2 M144.1,632.2 L144.2,633.6 L144.6,635 L144.7,636.4 L145,637.8 L145.4,639.1 M145.7,634.6 L147,635.1 L148.2,635.7 L149.5,636.3 M150.2,639.7 L150.6,641.1 L150.7,642.5 L151.2,643.8 L151.4,645.2 L151.4,646.6 M150.9,640.9 L150.7,642.3 L150.4,643.7 L149.8,645 L149,646.1 L148.1,647.1 M143.5,631 L144.1,632.2 L144.8,633.5 L145.7,634.6 L146.7,635.5 L147.9,636.3 L148.8,637.3 L149.6,638.5 L150.2,639.7 L150.9,640.9 M144.3,632.1 L143.8,633.4 L143,634.6 L142,635.5 L140.8,636.3 M145.8,634.5 L147.1,635 L148.3,635.7 L149.6,636.3 L150.9,636.8 L152.2,637.3 M143.5,631 L144.3,632.1 L145.2,633.3 L145.8,634.5 L146.6,635.6 L147.2,636.9 L147.9,638.1 L148.5,639.4 M145.8,636.1 L145.7,637.5 L145.8,638.9 L145.7,640.3 M143.5,631 L143.9,632.3 L144.6,633.6 L145,634.9 L145.8,636.1 L146.7,637.1 L147.6,638.2 L148.4,639.4 L149,640.6 M144.9,630.8 L146.2,631.3 L147.5,631.8 L148.7,632.5 L149.9,633.2 M143.5,631 L144.9,630.8 L146.3,630.9 L147.7,631 L149,631.3 L150.4,631.4 L151.8,631.3 L153.2,631.5 M142.7,636.5 L141.7,637.5 L140.6,638.3 L139.6,639.3 L138.6,640.2 L137.5,641 M142.9,637.9 L143,639.3 L143,640.7 L142.9,642.1 M143.5,631 L143.2,632.4 L142.7,633.7 L142.6,635.1 L142.7,636.5 L142.9,637.9 L143.5,639.2 L143.8,640.5 L144.3,641.8 M144.3,626.9 L143.7,625.7 L143.1,624.4 M144.1,625.6 L143.1,624.5 L142.3,623.4 L141.6,622.2 M143.5,631 L144,629.7 L144.3,628.3 L144.3,626.9 L144.1,625.6 L144,624.2 L144.2,622.8" fill="none" stroke="#888" stroke-width="0.4" />
<ellipse cx="143.5" cy="631" rx="3.8" ry="4.5" fill="#e0e0e0"/>
<path d="M142.5,627 L141.5,617" fill="none" stroke="#ccc" stroke-width="1" />
</g>
<rect x="148.5" y="619.4" width="5.5" height="1.3" fill="#fff" />
<text x="135" y="637.4" font-size="2.60" fill="#bbb">191810–0036</text>
<line x1="200.4" y1="570.7" x2="200.4" y2="641.8" stroke="#333" stroke-width="0.5" />
<line x1="200.4" y1="641.8" x2="231" y2="641.8" stroke="#333" stroke-width="0.5" />
<line x1="198.8" y1="584.6" x2="200.4" y2="584.6" stroke="#333" stroke-width="0.5" />
<text x="197.6" y="586.8" font-size="6.20" text-anchor="end">10,000</text>
<line x1="198.8" y1="598.5" x2="200.4" y2="598.5" stroke="#333" stroke-width="0.5" />
<text x="197.6" y="600.7" font-size="6.20" text-anchor="end">7,500</text>
<line x1="198.8" y1="612.5" x2="200.4" y2="612.5" stroke="#333" stroke-width="0.5" />
<text x="197.6" y="614.7" font-size="6.20" text-anchor="end">5,000</text>
<line x1="198.8" y1="626.4" x2="200.4" y2="626.4" stroke="#333" stroke-width="0.5" />
<text x="197.6" y="628.6" font-size="6.20" text-anchor="end">2,500</text>
<line x1="198.8" y1="640.4" x2="200.4" y2="640.4" stroke="#333" stroke-width="0.5" />
<text x="197.6" y="642.6" font-size="6.20" text-anchor="end">0</text>
<text x="170.6" y="606.2" font-size="6.80" text-anchor="middle" transform="rotate(-90 170.6 606.2)">Soma volume (μm<tspan font-size="4" dy="-2.5">3</tspan><tspan dy="2.5">)</tspan></text>
<line x1="206.4" y1="612" x2="206.4" y2="623" stroke="#333" stroke-width="0.5" />
<line x1="206.4" y1="630.3" x2="206.4" y2="638" stroke="#333" stroke-width="0.5" />
<rect x="203" y="623" width="6.9" height="7.3" fill="#0000ff" stroke="#555" stroke-width="0.3" />
<line x1="203" y1="626.5" x2="209.8" y2="626.5" stroke="#1a1a60" stroke-width="0.7" />
<path d="M206.4 588h0M206.4 592h0M206.4 595.5h0M206.4 598h0M206.4 600h0M206.4 601.6h0M206.4 603.2h0M206.4 604.8h0M206.4 606.4h0M206.4 608h0M206.4 609.6h0M206.4 611.2h0" stroke="#222" stroke-width="1.2" stroke-linecap="round" fill="none"/>
<line x1="215.5" y1="624" x2="215.5" y2="628.6" stroke="#333" stroke-width="0.5" />
<line x1="215.5" y1="634.5" x2="215.5" y2="639.5" stroke="#333" stroke-width="0.5" />
<rect x="211.9" y="628.6" width="7.1" height="5.9" fill="#ff0000" stroke="#555" stroke-width="0.3" />
<line x1="211.9" y1="631.5" x2="219.1" y2="631.5" stroke="#601010" stroke-width="0.7" />
<path d="M215.5 607h0M215.5 608.7h0M215.5 610.4h0M215.5 612.1h0M215.5 613.8h0M215.5 615.5h0M215.5 617.2h0M215.5 618.9h0M215.5 620.6h0M215.5 622.3h0" stroke="#222" stroke-width="1.2" stroke-linecap="round" fill="none"/>
<line x1="224.6" y1="630" x2="224.6" y2="632" stroke="#333" stroke-width="0.5" />
<line x1="224.6" y1="635" x2="224.6" y2="639" stroke="#333" stroke-width="0.5" />
<rect x="221.2" y="632" width="6.7" height="3" fill="#ffa500" stroke="#555" stroke-width="0.3" />
<line x1="221.2" y1="633.5" x2="227.9" y2="633.5" stroke="#604010" stroke-width="0.7" />
<path d="M224.6 624.5h0" stroke="#222" stroke-width="1.4" stroke-linecap="round" fill="none"/>
<line x1="206.4" y1="641.8" x2="206.4" y2="643.3" stroke="#333" stroke-width="0.5" />
<text x="206.4" y="651.6" font-size="6.80" text-anchor="middle">PT</text>
<line x1="215.5" y1="641.8" x2="215.5" y2="643.3" stroke="#333" stroke-width="0.5" />
<text x="215.5" y="651.6" font-size="6.80" text-anchor="middle">IT</text>
<line x1="224.6" y1="641.8" x2="224.6" y2="643.3" stroke="#333" stroke-width="0.5" />
<text x="224.6" y="651.6" font-size="6.80" text-anchor="middle">CT</text>
<text x="210.2" y="572.8" font-size="4.40"><tspan font-style="italic">P</tspan> = 2.1 × 10<tspan font-size="3.0" dy="-1.8">−8</tspan></text>
<line x1="210.2" y1="574" x2="232.2" y2="574" stroke="#333" stroke-width="0.3" />
<text x="204.8" y="579.2" font-size="4.40"><tspan font-style="italic">P</tspan> = 1.9 × 10<tspan font-size="3.0" dy="-1.8">−11</tspan></text>
<line x1="204.8" y1="580.4" x2="226.8" y2="580.4" stroke="#333" stroke-width="0.3" />
<text x="204.4" y="584.8" font-size="4.40"><tspan font-style="italic">P</tspan> = 1.9 × 10<tspan font-size="3.0" dy="-1.8">−11</tspan></text>
<line x1="204.4" y1="586" x2="220.4" y2="586" stroke="#333" stroke-width="0.3" />
<text x="241.2" y="563.4" font-size="10.50" fill="#000" font-weight="bold">i</text>
<text x="267" y="567.4" font-size="7.67" textLength="51.6" lengthAdjust="spacingAndGlyphs">Neuron density</text>
<clipPath id="cND"><path d="M249.9,601.9 C255,596 260,592 264.6,589.6 C272,585 279,582 285.9,579.8 C289,579 291.5,578.5 294.1,578.2 L313.7,577.4 C317,579.5 320,582.5 321.9,585.5 C324,588.5 326,591.5 326.8,594.5 L326,609.3 L325.2,640.4 L317,642 L304.7,642.8 C301,636 297.5,630.5 294.1,625.6 C290,620 286.5,616 284.3,612.6 C281.5,608 280.5,604.5 280.2,601.1 L280.2,594.5 C276,596 272,597.3 267.9,598.6 C262,601 256,603.8 250.7,606.8 Z"/></clipPath>
<path d="M249.9,601.9 C255,596 260,592 264.6,589.6 C272,585 279,582 285.9,579.8 C289,579 291.5,578.5 294.1,578.2 L313.7,577.4 C317,579.5 320,582.5 321.9,585.5 C324,588.5 326,591.5 326.8,594.5 L326,609.3 L325.2,640.4 L317,642 L304.7,642.8 C301,636 297.5,630.5 294.1,625.6 C290,620 286.5,616 284.3,612.6 C281.5,608 280.5,604.5 280.2,601.1 L280.2,594.5 C276,596 272,597.3 267.9,598.6 C262,601 256,603.8 250.7,606.8 Z" fill="#236b0b" />
<g clip-path="url(#cND)">
<path d="M245,600 C255,592 270,584 294,577 L296,590 C290,592 284,593 280.2,594.5 C270,598 258,603 248,610 Z" fill="#3d7d12" />
<path d="M294,577 L306,577 L307,590 L296,591 Z" fill="#5a9418" />
<path d="M306,576 L318,576 L322,586 L314,590 L307,591 Z" fill="#b4cc22" />
<path d="M314,590 L322,586 L328,592 L328,598 L318,597 Z" fill="#c6d624" />
<path d="M292,591 C298,590 304,589 310,588 L312,592 C306,595 300,596 293,596 Z" fill="#1c6208" />
<path d="M309,591 L318,597 L320,606 L313,607 L308,600 Z" fill="#d8df22" />
<path d="M318,597 L328,598 L328,612 L321,608 Z" fill="#c2d022" />
<path d="M313,607 L321,608 L328,612 L328,620 L321,622 L316,614 Z" fill="#a8c228" />
<path d="M321,612 L328,612 L328,644 L318,644 L320,630 Z" fill="#e6e614" />
<path d="M310,605 L316,612 L320,630 L318,644 L310,644 L312,625 Z" fill="#2a700c" />
</g>
<path d="M249.9,601.9 C255,596 260,592 264.6,589.6 C272,585 279,582 285.9,579.8 C289,579 291.5,578.5 294.1,578.2 L313.7,577.4 C317,579.5 320,582.5 321.9,585.5 C324,588.5 326,591.5 326.8,594.5 L326,609.3 L325.2,640.4 L317,642 L304.7,642.8 C301,636 297.5,630.5 294.1,625.6 C290,620 286.5,616 284.3,612.6 C281.5,608 280.5,604.5 280.2,601.1 L280.2,594.5 C276,596 272,597.3 267.9,598.6 C262,601 256,603.8 250.7,606.8 Z" fill="none" stroke="#3a5a20" stroke-width="0.3" />
<path d="M251,604 C262,596 278,588 294,584" fill="none" stroke="#3a5a20" stroke-width="0.2" />
<path d="M296,578 L296,591" fill="none" stroke="#3a5a20" stroke-width="0.2" />
<path d="M307,577 L307,591" fill="none" stroke="#3a5a20" stroke-width="0.2" />
<path d="M314,590 L322,586" fill="none" stroke="#3a5a20" stroke-width="0.2" />
<path d="M312,592 L318,597 L328,598" fill="none" stroke="#3a5a20" stroke-width="0.2" />
<path d="M318,597 L321,608 L328,612" fill="none" stroke="#3a5a20" stroke-width="0.2" />
<path d="M313,607 L321,608" fill="none" stroke="#3a5a20" stroke-width="0.2" />
<path d="M310,600 L316,612 L320,630 L318,643" fill="none" stroke="#3a5a20" stroke-width="0.2" />
<path d="M321,612 L320,630" fill="none" stroke="#3a5a20" stroke-width="0.2" />
<text x="270" y="590.5" font-size="3.10" fill="#222">AIv</text>
<text x="274" y="595" font-size="3.10" fill="#222">AId</text>
<text x="297" y="584" font-size="3.10" fill="#222">ORBl</text>
<text x="307.5" y="585.2" font-size="3.10" fill="#222">ORBvl</text>
<text x="316.2" y="592" font-size="3.10" fill="#222">ORBm</text>
<text x="300" y="594" font-size="3.10" fill="#222">FRP</text>
<text x="314" y="600.5" font-size="3.10" fill="#222">PL</text>
<text x="322" y="602" font-size="3.10" fill="#222">ILA</text>
<text x="297" y="611.5" font-size="3.10" fill="#222">MOs</text>
<text x="317" y="631" font-size="3.10" fill="#222" transform="rotate(-90 317 631)">ACAd</text>
<text x="324" y="632" font-size="3.10" fill="#222" transform="rotate(-90 324 632)">ACAv</text>
<linearGradient id="gND" x1="0" y1="0" x2="0" y2="1"><stop offset="0" stop-color="#f2f200"/><stop offset="0.5" stop-color="#8ab01a"/><stop offset="1" stop-color="#136208"/></linearGradient>
<rect x="267" y="613" width="5" height="29" fill="url(#gND)" />
<text x="273.7" y="616" font-size="4.80" textLength="7" lengthAdjust="spacingAndGlyphs">90</text>
<text x="273.7" y="621.4" font-size="4.80" textLength="7" lengthAdjust="spacingAndGlyphs">85</text>
<text x="273.7" y="626.1" font-size="4.80" textLength="7" lengthAdjust="spacingAndGlyphs">80</text>
<text x="273.7" y="631" font-size="4.80" textLength="7" lengthAdjust="spacingAndGlyphs">75</text>
<text x="273.7" y="636.6" font-size="4.80" textLength="7" lengthAdjust="spacingAndGlyphs">70</text>
<text x="273.7" y="642.5" font-size="4.80" textLength="7" lengthAdjust="spacingAndGlyphs">65</text>
<text x="247.2" y="628" font-size="6.93" text-anchor="middle" transform="rotate(-90 247.2 628)" textLength="42" lengthAdjust="spacingAndGlyphs">Thousands of</text>
<text x="256" y="629" font-size="6.75" text-anchor="middle" transform="rotate(-90 256 629)" textLength="36" lengthAdjust="spacingAndGlyphs">neurons per</text>
<text x="264.2" y="629.5" font-size="6.80" text-anchor="middle" transform="rotate(-90 264.2 629.5)">mm<tspan font-size="4" dy="-2.5">3</tspan></text>
<path d="M369,574 C385,589 405,598 428,605 L428,633 C410,622 390,610 369,603.5 Z" fill="#c8c8c8" fill-opacity="0.85"/>
<line x1="366.6" y1="570" x2="366.6" y2="635" stroke="#333" stroke-width="0.5" />
<line x1="366.6" y1="635" x2="428.4" y2="635" stroke="#333" stroke-width="0.5" />
<line x1="365" y1="585" x2="366.6" y2="585" stroke="#333" stroke-width="0.5" />
<text x="363.8" y="587.3" font-size="6.40" text-anchor="end">90</text>
<line x1="365" y1="601.4" x2="366.6" y2="601.4" stroke="#333" stroke-width="0.5" />
<text x="363.8" y="603.7" font-size="6.40" text-anchor="end">80</text>
<line x1="365" y1="618" x2="366.6" y2="618" stroke="#333" stroke-width="0.5" />
<text x="363.8" y="620.3" font-size="6.40" text-anchor="end">70</text>
<line x1="365" y1="634" x2="366.6" y2="634" stroke="#333" stroke-width="0.5" />
<text x="363.8" y="636.3" font-size="6.40" text-anchor="end">60</text>
<line x1="375.6" y1="635" x2="375.6" y2="636.5" stroke="#333" stroke-width="0.5" />
<text x="378" y="639.4" font-size="6.60" text-anchor="end" transform="rotate(-45 378 639.4)">10,000</text>
<line x1="395.6" y1="635" x2="395.6" y2="636.5" stroke="#333" stroke-width="0.5" />
<text x="398" y="639.4" font-size="6.60" text-anchor="end" transform="rotate(-45 398 639.4)">12,000</text>
<line x1="416" y1="635" x2="416" y2="636.5" stroke="#333" stroke-width="0.5" />
<text x="418.4" y="639.4" font-size="6.60" text-anchor="end" transform="rotate(-45 418.4 639.4)">14,000</text>
<line x1="369.5" y1="589.4" x2="428" y2="619.4" stroke="#3366ee" stroke-width="0.8" />
<circle cx="369.6" cy="583.4" r="1.2" fill="#fb9a99" />
<circle cx="380" cy="596" r="1.2" fill="#33a02c" />
<circle cx="381" cy="599.4" r="1.2" fill="#ff7f00" />
<circle cx="388.4" cy="594.4" r="1.2" fill="#fdbf6f" />
<circle cx="404" cy="618.6" r="1.2" fill="#b3b3b3" />
<circle cx="408.4" cy="615" r="1.2" fill="#cab2d6" />
<circle cx="419" cy="624.6" r="1.2" fill="#a6cee3" />
<circle cx="421" cy="617.6" r="1.2" fill="#6a3d9a" />
<circle cx="427.4" cy="624.4" r="1.2" fill="#1f78b4" />
<circle cx="422" cy="590" r="1.2" fill="#b2df8a" />
<text x="401.3" y="567.4" font-size="6.80" text-anchor="middle">PT neurons</text>
<text x="398" y="576.6" font-size="5.20">R<tspan font-size="3.2" dy="-2">2</tspan><tspan dy="2"> = 0.50</tspan></text>
<text x="398" y="582.9" font-size="5.20"><tspan font-style="italic">P</tspan> = 0.02261</text>
<path d="M448.5,575.5 C468,586 488,596 505.3,609.5 L505.3,632.5 C490,618 470,603 448.5,591 Z" fill="#c8c8c8" fill-opacity="0.85"/>
<line x1="445.7" y1="572.5" x2="445.7" y2="636.2" stroke="#333" stroke-width="0.5" />
<line x1="445.7" y1="636.2" x2="506.4" y2="636.2" stroke="#333" stroke-width="0.5" />
<line x1="444.1" y1="577.9" x2="445.7" y2="577.9" stroke="#333" stroke-width="0.5" />
<text x="442.9" y="580.2" font-size="6.40" text-anchor="end">90</text>
<line x1="444.1" y1="596" x2="445.7" y2="596" stroke="#333" stroke-width="0.5" />
<text x="442.9" y="598.3" font-size="6.40" text-anchor="end">80</text>
<line x1="444.1" y1="614.3" x2="445.7" y2="614.3" stroke="#333" stroke-width="0.5" />
<text x="442.9" y="616.6" font-size="6.40" text-anchor="end">70</text>
<line x1="444.1" y1="632.5" x2="445.7" y2="632.5" stroke="#333" stroke-width="0.5" />
<text x="442.9" y="634.8" font-size="6.40" text-anchor="end">60</text>
<line x1="449.6" y1="636.2" x2="449.6" y2="637.7" stroke="#333" stroke-width="0.5" />
<text x="452" y="640.6" font-size="6.60" text-anchor="end" transform="rotate(-45 452 640.6)">7,000</text>
<line x1="477" y1="636.2" x2="477" y2="637.7" stroke="#333" stroke-width="0.5" />
<text x="479.4" y="640.6" font-size="6.60" text-anchor="end" transform="rotate(-45 479.4 640.6)">8,000</text>
<line x1="504.2" y1="636.2" x2="504.2" y2="637.7" stroke="#333" stroke-width="0.5" />
<text x="506.6" y="640.6" font-size="6.60" text-anchor="end" transform="rotate(-45 506.6 640.6)">9,000</text>
<line x1="448.5" y1="583.8" x2="505.3" y2="623" stroke="#3366ee" stroke-width="0.8" />
<circle cx="450" cy="576.2" r="1.2" fill="#fb9a99" />
<circle cx="453.3" cy="583.4" r="1.2" fill="#b2df8a" />
<circle cx="453.3" cy="588.8" r="1.2" fill="#fdbf6f" />
<circle cx="460.5" cy="589.5" r="1.2" fill="#33a02c" />
<circle cx="448.5" cy="593.8" r="1.2" fill="#ff7f00" />
<circle cx="484.5" cy="621" r="1.2" fill="#1f78b4" />
<circle cx="491.8" cy="621.5" r="1.2" fill="#a6cee3" />
<circle cx="491.8" cy="615" r="1.2" fill="#b3b3b3" />
<circle cx="494" cy="611.3" r="1.2" fill="#cab2d6" />
<circle cx="504.2" cy="614" r="1.2" fill="#6a3d9a" />
<text x="478.6" y="568.4" font-size="6.80" text-anchor="middle">IT neurons</text>
<text x="477.6" y="580.4" font-size="5.20">R<tspan font-size="3.2" dy="-2">2</tspan><tspan dy="2"> = 0.80</tspan></text>
<text x="477.6" y="586.7" font-size="5.20"><tspan font-style="italic">P</tspan> = 4.4 × 10<tspan font-size="3.4" dy="-2.2">−4</tspan></text>
<text x="340.6" y="602.5" font-size="6.84" text-anchor="middle" transform="rotate(-90 340.6 602.5)" textLength="46" lengthAdjust="spacingAndGlyphs">Neuron density</text>
<text x="348.8" y="602.5" font-size="6.60" text-anchor="middle" transform="rotate(-90 348.8 602.5)">(1,000/mm<tspan font-size="4" dy="-2.5">3</tspan><tspan dy="2.5">)</tspan></text>
<text x="398.8" y="667.8" font-size="7.42" text-anchor="middle" textLength="53.6" lengthAdjust="spacingAndGlyphs">Somatodendritic</text>
<text x="398.8" y="676.1" font-size="6.96" text-anchor="middle" textLength="41" lengthAdjust="spacingAndGlyphs">volume of PT</text>
<text x="398.8" y="684.4" font-size="7.20" text-anchor="middle">neurons (mm<tspan font-size="4.2" dy="-2.6">3</tspan><tspan dy="2.6">)</tspan></text>
<text x="476.8" y="667" font-size="7.42" text-anchor="middle" textLength="53.6" lengthAdjust="spacingAndGlyphs">Somatodendritic</text>
<text x="476.8" y="675.3" font-size="6.91" text-anchor="middle" textLength="38" lengthAdjust="spacingAndGlyphs">volume of IT</text>
<text x="476.8" y="683.6" font-size="7.20" text-anchor="middle">neurons (mm<tspan font-size="4.2" dy="-2.6">3</tspan><tspan dy="2.6">)</tspan></text>
<text x="514.7" y="565" font-size="6.80">PFC</text>
<text x="514.7" y="571.6" font-size="7.05" textLength="34.5" lengthAdjust="spacingAndGlyphs">subregions</text>
<circle cx="516.2" cy="579.4" r="1.1" fill="#a6cee3" />
<text x="519.5" y="581.6" font-size="6.00">MOs</text>
<circle cx="516.2" cy="585.5" r="1.1" fill="#1f78b4" />
<text x="519.5" y="587.7" font-size="6.00">ACAd</text>
<circle cx="516.2" cy="591.7" r="1.1" fill="#b2df8a" />
<text x="519.5" y="593.9" font-size="6.00">ACAv</text>
<circle cx="516.2" cy="597.8" r="1.1" fill="#33a02c" />
<text x="519.5" y="600" font-size="6.00">PL</text>
<circle cx="516.2" cy="604" r="1.1" fill="#fb9a99" />
<text x="519.5" y="606.2" font-size="6.00">ILA</text>
<circle cx="516.2" cy="610.1" r="1.1" fill="#fdbf6f" />
<text x="519.5" y="612.3" font-size="6.00">ORBm</text>
<circle cx="516.2" cy="616.2" r="1.1" fill="#ff7f00" />
<text x="519.5" y="618.4" font-size="6.00">ORBvl</text>
<circle cx="516.2" cy="622.4" r="1.1" fill="#cab2d6" />
<text x="519.5" y="624.6" font-size="6.00">ORBl</text>
<circle cx="516.2" cy="628.5" r="1.1" fill="#6a3d9a" />
<text x="519.5" y="630.7" font-size="6.00">AId</text>
<circle cx="516.2" cy="634.7" r="1.1" fill="#b3b3b3" />
<text x="519.5" y="636.9" font-size="6.00">AIv</text>
</svg>
</body></html>
